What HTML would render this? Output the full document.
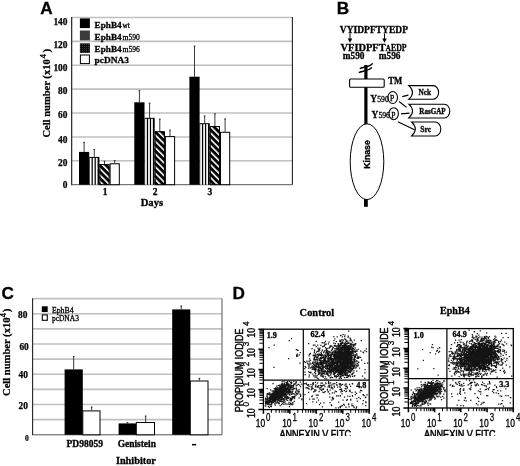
<!DOCTYPE html>
<html><head><meta charset="utf-8"><style>
html,body{margin:0;padding:0;background:#fff;}
body{width:520px;height:466px;overflow:hidden;}
svg{display:block;filter:blur(0.3px);}
</style></head><body>
<svg width="520" height="466" viewBox="0 0 520 466" shape-rendering="auto">
<defs>
<pattern id="hatch" patternUnits="userSpaceOnUse" width="4.5" height="4.5" patternTransform="rotate(-45)"><rect width="4.5" height="4.5" fill="#000"/><rect x="0" y="0" width="1.6" height="4.5" fill="#fff"/></pattern>
<pattern id="checker" patternUnits="userSpaceOnUse" width="2" height="2"><rect width="2" height="2" fill="#0a0a0a"/><rect x="0" y="0" width="1" height="1" fill="#3a3a3a"/></pattern>
<clipPath id="clipD"><rect x="0" y="0" width="520" height="435.9"/></clipPath>
</defs>
<text x="40.20" y="13.80" style="font-family:'Liberation Sans',sans-serif;font-weight:bold;font-size:17.2px" text-anchor="start" fill="#000"  stroke="#000" stroke-width="0.3">A</text>
<line x1="71.70" y1="160.81" x2="292.40" y2="160.81" stroke="#c0c0c0" stroke-width="1.6" />
<line x1="71.70" y1="136.93" x2="292.40" y2="136.93" stroke="#c0c0c0" stroke-width="1.6" />
<line x1="71.70" y1="113.04" x2="292.40" y2="113.04" stroke="#c0c0c0" stroke-width="1.6" />
<line x1="71.70" y1="89.16" x2="292.40" y2="89.16" stroke="#c0c0c0" stroke-width="1.6" />
<line x1="71.70" y1="65.27" x2="292.40" y2="65.27" stroke="#c0c0c0" stroke-width="1.6" />
<line x1="71.70" y1="41.39" x2="292.40" y2="41.39" stroke="#c0c0c0" stroke-width="1.6" />
<line x1="71.70" y1="17.50" x2="292.40" y2="17.50" stroke="#c0c0c0" stroke-width="1.6" />
<line x1="71.70" y1="17.00" x2="71.70" y2="185.20" stroke="#111" stroke-width="1.1" />
<line x1="292.40" y1="17.00" x2="292.40" y2="184.70" stroke="#222" stroke-width="1.1" />
<line x1="71.70" y1="184.70" x2="292.40" y2="184.70" stroke="#555" stroke-width="1.0" />
<text x="67.50" y="25.30" style="font-family:'Liberation Serif',serif;font-weight:bold;font-size:9.4px" text-anchor="end" fill="#000" textLength="14.10" lengthAdjust="spacingAndGlyphs" stroke="#000" stroke-width="0.25">140</text>
<text x="67.50" y="47.90" style="font-family:'Liberation Serif',serif;font-weight:bold;font-size:9.4px" text-anchor="end" fill="#000" textLength="14.10" lengthAdjust="spacingAndGlyphs" stroke="#000" stroke-width="0.25">120</text>
<text x="67.50" y="70.70" style="font-family:'Liberation Serif',serif;font-weight:bold;font-size:9.4px" text-anchor="end" fill="#000" textLength="14.10" lengthAdjust="spacingAndGlyphs" stroke="#000" stroke-width="0.25">100</text>
<text x="67.50" y="94.10" style="font-family:'Liberation Serif',serif;font-weight:bold;font-size:9.4px" text-anchor="end" fill="#000" textLength="9.40" lengthAdjust="spacingAndGlyphs" stroke="#000" stroke-width="0.25">80</text>
<text x="67.50" y="117.90" style="font-family:'Liberation Serif',serif;font-weight:bold;font-size:9.4px" text-anchor="end" fill="#000" textLength="9.40" lengthAdjust="spacingAndGlyphs" stroke="#000" stroke-width="0.25">60</text>
<text x="67.50" y="142.90" style="font-family:'Liberation Serif',serif;font-weight:bold;font-size:9.4px" text-anchor="end" fill="#000" textLength="9.40" lengthAdjust="spacingAndGlyphs" stroke="#000" stroke-width="0.25">40</text>
<text x="67.50" y="165.80" style="font-family:'Liberation Serif',serif;font-weight:bold;font-size:9.4px" text-anchor="end" fill="#000" textLength="9.40" lengthAdjust="spacingAndGlyphs" stroke="#000" stroke-width="0.25">20</text>
<text x="67.50" y="188.00" style="font-family:'Liberation Serif',serif;font-weight:bold;font-size:9.4px" text-anchor="end" fill="#000" textLength="4.70" lengthAdjust="spacingAndGlyphs" stroke="#000" stroke-width="0.25">0</text>
<text transform="translate(50.10,137.60) rotate(-90)" style="font-family:'Liberation Serif',serif;font-weight:bold;font-size:11px" textLength="78.30" lengthAdjust="spacingAndGlyphs" stroke="#000" stroke-width="0.25">Cell number (x10</text>
<text transform="translate(46.40,56.05) rotate(-90)" style="font-family:'Liberation Serif',serif;font-weight:bold;font-size:8.4px" text-anchor="middle" stroke="#000" stroke-width="0.2">4</text>
<text transform="translate(50.10,50.60) rotate(-90)" style="font-family:'Liberation Serif',serif;font-weight:bold;font-size:11px" text-anchor="middle" stroke="#000" stroke-width="0.25">)</text>
<line x1="84.10" y1="142.30" x2="84.10" y2="151.90" stroke="#222" stroke-width="0.9" />
<line x1="83.20" y1="142.30" x2="85.00" y2="142.30" stroke="#222" stroke-width="0.9" />
<rect x="79.00" y="151.90" width="10.20" height="32.80" fill="#000" stroke="none" stroke-width="1" />
<line x1="94.30" y1="149.50" x2="94.30" y2="156.90" stroke="#222" stroke-width="0.9" />
<line x1="93.40" y1="149.50" x2="95.20" y2="149.50" stroke="#222" stroke-width="0.9" />
<rect x="89.20" y="156.90" width="10.20" height="27.80" fill="#000" stroke="none" stroke-width="1" />
<rect x="89.80" y="157.90" width="1.75" height="26.80" fill="#fff" stroke="none" stroke-width="1" />
<rect x="92.80" y="157.90" width="1.75" height="26.80" fill="#fff" stroke="none" stroke-width="1" />
<rect x="95.80" y="157.90" width="1.75" height="26.80" fill="#fff" stroke="none" stroke-width="1" />
<line x1="104.50" y1="161.20" x2="104.50" y2="164.10" stroke="#222" stroke-width="0.9" />
<line x1="103.60" y1="161.20" x2="105.40" y2="161.20" stroke="#222" stroke-width="0.9" />
<rect x="99.40" y="164.10" width="10.20" height="20.60" fill="url(#hatch)" stroke="none" stroke-width="1" />
<rect x="99.90" y="164.60" width="9.20" height="20.10" fill="none" stroke="#000" stroke-width="1.0" />
<line x1="114.70" y1="160.70" x2="114.70" y2="163.30" stroke="#222" stroke-width="0.9" />
<line x1="113.80" y1="160.70" x2="115.60" y2="160.70" stroke="#222" stroke-width="0.9" />
<rect x="110.10" y="163.80" width="9.20" height="20.90" fill="#fff" stroke="#000" stroke-width="1.0" />
<line x1="139.40" y1="90.60" x2="139.40" y2="102.30" stroke="#222" stroke-width="0.9" />
<line x1="138.50" y1="90.60" x2="140.30" y2="90.60" stroke="#222" stroke-width="0.9" />
<rect x="134.30" y="102.30" width="10.20" height="82.40" fill="#000" stroke="none" stroke-width="1" />
<line x1="149.60" y1="103.20" x2="149.60" y2="117.80" stroke="#222" stroke-width="0.9" />
<line x1="148.70" y1="103.20" x2="150.50" y2="103.20" stroke="#222" stroke-width="0.9" />
<rect x="144.50" y="117.80" width="10.20" height="66.90" fill="#000" stroke="none" stroke-width="1" />
<rect x="145.10" y="118.80" width="1.75" height="65.90" fill="#fff" stroke="none" stroke-width="1" />
<rect x="148.10" y="118.80" width="1.75" height="65.90" fill="#fff" stroke="none" stroke-width="1" />
<rect x="151.10" y="118.80" width="1.75" height="65.90" fill="#fff" stroke="none" stroke-width="1" />
<line x1="159.80" y1="119.10" x2="159.80" y2="131.20" stroke="#222" stroke-width="0.9" />
<line x1="158.90" y1="119.10" x2="160.70" y2="119.10" stroke="#222" stroke-width="0.9" />
<rect x="154.70" y="131.20" width="10.20" height="53.50" fill="url(#hatch)" stroke="none" stroke-width="1" />
<rect x="155.20" y="131.70" width="9.20" height="53.00" fill="none" stroke="#000" stroke-width="1.0" />
<line x1="170.00" y1="130.10" x2="170.00" y2="136.10" stroke="#222" stroke-width="0.9" />
<line x1="169.10" y1="130.10" x2="170.90" y2="130.10" stroke="#222" stroke-width="0.9" />
<rect x="165.40" y="136.60" width="9.20" height="48.10" fill="#fff" stroke="#000" stroke-width="1.0" />
<line x1="194.50" y1="46.10" x2="194.50" y2="76.70" stroke="#222" stroke-width="0.9" />
<line x1="193.60" y1="46.10" x2="195.40" y2="46.10" stroke="#222" stroke-width="0.9" />
<rect x="189.40" y="76.70" width="10.20" height="108.00" fill="#000" stroke="none" stroke-width="1" />
<line x1="204.70" y1="116.00" x2="204.70" y2="123.20" stroke="#222" stroke-width="0.9" />
<line x1="203.80" y1="116.00" x2="205.60" y2="116.00" stroke="#222" stroke-width="0.9" />
<rect x="199.60" y="123.20" width="10.20" height="61.50" fill="#000" stroke="none" stroke-width="1" />
<rect x="200.20" y="124.20" width="1.75" height="60.50" fill="#fff" stroke="none" stroke-width="1" />
<rect x="203.20" y="124.20" width="1.75" height="60.50" fill="#fff" stroke="none" stroke-width="1" />
<rect x="206.20" y="124.20" width="1.75" height="60.50" fill="#fff" stroke="none" stroke-width="1" />
<line x1="214.90" y1="113.80" x2="214.90" y2="126.00" stroke="#222" stroke-width="0.9" />
<line x1="214.00" y1="113.80" x2="215.80" y2="113.80" stroke="#222" stroke-width="0.9" />
<rect x="209.80" y="126.00" width="10.20" height="58.70" fill="url(#hatch)" stroke="none" stroke-width="1" />
<rect x="210.30" y="126.50" width="9.20" height="58.20" fill="none" stroke="#000" stroke-width="1.0" />
<line x1="225.10" y1="118.90" x2="225.10" y2="131.80" stroke="#222" stroke-width="0.9" />
<line x1="224.20" y1="118.90" x2="226.00" y2="118.90" stroke="#222" stroke-width="0.9" />
<rect x="220.50" y="132.30" width="9.20" height="52.40" fill="#fff" stroke="#000" stroke-width="1.0" />
<text x="105.00" y="194.80" style="font-family:'Liberation Serif',serif;font-weight:bold;font-size:9.5px" text-anchor="middle" fill="#000"  stroke="#000" stroke-width="0.3">1</text>
<text x="155.10" y="194.80" style="font-family:'Liberation Serif',serif;font-weight:bold;font-size:9.5px" text-anchor="middle" fill="#000"  stroke="#000" stroke-width="0.3">2</text>
<text x="209.80" y="194.80" style="font-family:'Liberation Serif',serif;font-weight:bold;font-size:9.5px" text-anchor="middle" fill="#000"  stroke="#000" stroke-width="0.3">3</text>
<text x="151.90" y="205.50" style="font-family:'Liberation Serif',serif;font-weight:bold;font-size:10.5px" text-anchor="middle" fill="#000" textLength="22.40" lengthAdjust="spacingAndGlyphs"  stroke="#000" stroke-width="0.3">Days</text>
<rect x="79.90" y="18.40" width="10.00" height="9.70" fill="#000" stroke="none" stroke-width="1" />
<rect x="79.90" y="30.50" width="10.00" height="9.90" fill="#3b3b3b" stroke="none" stroke-width="1" />
<rect x="79.90" y="43.30" width="10.00" height="9.60" fill="url(#checker)" stroke="none" stroke-width="1" />
<rect x="80.40" y="55.00" width="9.00" height="8.60" fill="#fff" stroke="#000" stroke-width="1.0" />
<text x="94.60" y="27.50" style="font-family:'Liberation Serif',serif;font-weight:bold;font-size:9.2px" text-anchor="start" fill="#000" textLength="27.00" lengthAdjust="spacingAndGlyphs"  stroke="#000" stroke-width="0.3">EphB4</text>
<text x="122.60" y="27.50" style="font-family:'Liberation Serif',serif;font-weight:normal;font-size:7.6px" text-anchor="start" fill="#000" textLength="7.20" lengthAdjust="spacingAndGlyphs" letter-spacing="0" stroke="#000" stroke-width="0.3">wt</text>
<text x="94.60" y="40.00" style="font-family:'Liberation Serif',serif;font-weight:bold;font-size:9.2px" text-anchor="start" fill="#000" textLength="27.00" lengthAdjust="spacingAndGlyphs"  stroke="#000" stroke-width="0.3">EphB4</text>
<text x="122.60" y="40.00" style="font-family:'Liberation Serif',serif;font-weight:normal;font-size:7.6px" text-anchor="start" fill="#000" textLength="17.30" lengthAdjust="spacingAndGlyphs" letter-spacing="0" stroke="#000" stroke-width="0.3">m590</text>
<text x="94.60" y="52.30" style="font-family:'Liberation Serif',serif;font-weight:bold;font-size:9.2px" text-anchor="start" fill="#000" textLength="27.00" lengthAdjust="spacingAndGlyphs"  stroke="#000" stroke-width="0.3">EphB4</text>
<text x="122.60" y="52.30" style="font-family:'Liberation Serif',serif;font-weight:normal;font-size:7.6px" text-anchor="start" fill="#000" textLength="17.30" lengthAdjust="spacingAndGlyphs" letter-spacing="0" stroke="#000" stroke-width="0.3">m596</text>
<text x="94.60" y="62.80" style="font-family:'Liberation Serif',serif;font-weight:bold;font-size:9.2px" text-anchor="start" fill="#000" textLength="34.40" lengthAdjust="spacingAndGlyphs"  stroke="#000" stroke-width="0.3">pcDNA3</text>
<text x="336.70" y="14.20" style="font-family:'Liberation Sans',sans-serif;font-weight:bold;font-size:17.2px" text-anchor="start" fill="#000"  stroke="#000" stroke-width="0.3">B</text>
<text x="339.80" y="32.60" style="font-family:'Liberation Serif',serif;font-weight:bold;font-size:9.6px" text-anchor="start" fill="#000" textLength="68.20" lengthAdjust="spacingAndGlyphs"  stroke="#000" stroke-width="0.3">VYIDPFTYEDP</text>
<text x="340.60" y="51.10" style="font-family:'Liberation Serif',serif;font-weight:bold;font-size:9.6px" text-anchor="start" fill="#000" textLength="45.00" lengthAdjust="spacingAndGlyphs"  stroke="#000" stroke-width="0.3">VFIDPFT</text>
<text x="385.80" y="51.10" style="font-family:'Liberation Serif',serif;font-weight:bold;font-size:7.2px" text-anchor="start" fill="#000" textLength="5.00" lengthAdjust="spacingAndGlyphs"  stroke="#000" stroke-width="0.3">A</text>
<text x="391.00" y="51.10" style="font-family:'Liberation Serif',serif;font-weight:bold;font-size:9.6px" text-anchor="start" fill="#000" textLength="15.60" lengthAdjust="spacingAndGlyphs"  stroke="#000" stroke-width="0.3">EDP</text>
<text x="342.80" y="58.80" style="font-family:'Liberation Serif',serif;font-weight:bold;font-size:9.6px" text-anchor="start" fill="#000" textLength="21.70" lengthAdjust="spacingAndGlyphs"  stroke="#000" stroke-width="0.3">m590</text>
<text x="378.80" y="58.80" style="font-family:'Liberation Serif',serif;font-weight:bold;font-size:9.6px" text-anchor="start" fill="#000" textLength="21.70" lengthAdjust="spacingAndGlyphs"  stroke="#000" stroke-width="0.3">m596</text>
<line x1="350.00" y1="33.60" x2="350.00" y2="39.50" stroke="#000" stroke-width="1.0" />
<path d="M347.70,38.6 L352.30,38.6 L350.00,42.8 Z" fill="#000"/>
<line x1="384.50" y1="33.60" x2="384.50" y2="39.50" stroke="#000" stroke-width="1.0" />
<path d="M382.20,38.6 L386.80,38.6 L384.50,42.8 Z" fill="#000"/>
<rect x="364.30" y="65.00" width="3.20" height="14.00" fill="#000" stroke="none" stroke-width="1" />
<rect x="364.30" y="87.00" width="3.20" height="37.50" fill="#000" stroke="none" stroke-width="1" />
<rect x="364.00" y="199.00" width="3.80" height="7.80" fill="#000" stroke="none" stroke-width="1" />
<path d="M359.8,68.6 C362,67 370,67.2 372.7,63.3 M358.8,72.8 C361,71 369,71.2 371.8,67.3" stroke="#000" stroke-width="1.4" fill="none"/>
<rect x="349.6" y="79.0" width="34.6" height="8.2" rx="1" fill="#fff" stroke="#000" stroke-width="1.1"/>
<text x="388.20" y="83.80" style="font-family:'Liberation Serif',serif;font-weight:bold;font-size:9.8px" text-anchor="start" fill="#000" textLength="14.00" lengthAdjust="spacingAndGlyphs"  stroke="#000" stroke-width="0.3">TM</text>
<text x="370.30" y="101.50" style="font-family:'Liberation Serif',serif;font-weight:bold;font-size:9.8px" text-anchor="start" fill="#000" textLength="6.80" lengthAdjust="spacingAndGlyphs"  stroke="#000" stroke-width="0.3">Y</text>
<text x="377.20" y="101.50" style="font-family:'Liberation Serif',serif;font-weight:normal;font-size:7.6px" text-anchor="start" fill="#000" textLength="11.60" lengthAdjust="spacingAndGlyphs"  stroke="#000" stroke-width="0.3">590</text>
<text x="371.50" y="118.20" style="font-family:'Liberation Serif',serif;font-weight:bold;font-size:9.8px" text-anchor="start" fill="#000" textLength="6.80" lengthAdjust="spacingAndGlyphs"  stroke="#000" stroke-width="0.3">Y</text>
<text x="378.40" y="118.20" style="font-family:'Liberation Serif',serif;font-weight:normal;font-size:7.6px" text-anchor="start" fill="#000" textLength="11.60" lengthAdjust="spacingAndGlyphs"  stroke="#000" stroke-width="0.3">596</text>
<ellipse cx="392.7" cy="97.5" rx="4.8" ry="6.0" fill="none" stroke="#000" stroke-width="1.1"/>
<ellipse cx="393.7" cy="113.7" rx="4.7" ry="6.0" fill="none" stroke="#000" stroke-width="1.1"/>
<text x="392.10" y="100.90" style="font-family:'Liberation Serif',serif;font-weight:normal;font-size:7.2px" text-anchor="middle" fill="#000" textLength="4.20" lengthAdjust="spacingAndGlyphs"  stroke="#000" stroke-width="0.3">P</text>
<text x="393.40" y="117.70" style="font-family:'Liberation Serif',serif;font-weight:normal;font-size:7.2px" text-anchor="middle" fill="#000" textLength="4.20" lengthAdjust="spacingAndGlyphs"  stroke="#000" stroke-width="0.3">P</text>
<path d="M402.2,96.6 L408.4,95.2 M399.1,101.5 L406.6,107.4 M401.0,113.9 L409.5,113.1 M397.9,121.8 L414.5,129.8" stroke="#000" stroke-width="1.2" fill="none"/>
<path d="M408.80,85.60 L433.16,85.60 A5.44,6.80 0 0 1 433.16,99.20 L408.80,99.20 Q416.30,92.40 408.80,85.60 Z" fill="#fff" stroke="#000" stroke-width="1.1"/>
<text x="424.70" y="95.40" style="font-family:'Liberation Serif',serif;font-weight:bold;font-size:8.6px" text-anchor="middle" fill="#000" textLength="12.60" lengthAdjust="spacingAndGlyphs"  stroke="#000" stroke-width="0.3">Nck</text>
<path d="M408.80,104.20 L444.28,104.20 A5.52,6.90 0 0 1 444.28,118.00 L408.80,118.00 Q416.30,111.10 408.80,104.20 Z" fill="#fff" stroke="#000" stroke-width="1.1"/>
<text x="432.50" y="114.10" style="font-family:'Liberation Serif',serif;font-weight:bold;font-size:8.4px" text-anchor="middle" fill="#000" textLength="26.40" lengthAdjust="spacingAndGlyphs"  stroke="#000" stroke-width="0.3">RasGAP</text>
<path d="M411.60,122.00 L435.20,122.00 A5.60,7.00 0 0 1 435.20,136.00 L411.60,136.00 Q419.10,129.00 411.60,122.00 Z" fill="#fff" stroke="#000" stroke-width="1.1"/>
<text x="425.80" y="132.00" style="font-family:'Liberation Serif',serif;font-weight:bold;font-size:8.6px" text-anchor="middle" fill="#000" textLength="11.00" lengthAdjust="spacingAndGlyphs"  stroke="#000" stroke-width="0.3">Src</text>
<ellipse cx="367.0" cy="161.7" rx="16.8" ry="37.9" fill="#fff" stroke="#000" stroke-width="1.0"/>
<text transform="translate(370.0,154.5) rotate(-90)" style="font-family:'Liberation Sans',sans-serif;font-weight:bold;font-size:8.8px" text-anchor="middle" textLength="28.5" lengthAdjust="spacingAndGlyphs" stroke="#000" stroke-width="0.35">Kinase</text>
<text x="1.40" y="299.30" style="font-family:'Liberation Sans',sans-serif;font-weight:bold;font-size:17.2px" text-anchor="start" fill="#000"  stroke="#000" stroke-width="0.3">C</text>
<line x1="32.60" y1="419.67" x2="222.00" y2="419.67" stroke="#c0c0c0" stroke-width="1.6" />
<line x1="32.60" y1="404.53" x2="222.00" y2="404.53" stroke="#c0c0c0" stroke-width="1.6" />
<line x1="32.60" y1="389.40" x2="222.00" y2="389.40" stroke="#c0c0c0" stroke-width="1.6" />
<line x1="32.60" y1="374.27" x2="222.00" y2="374.27" stroke="#c0c0c0" stroke-width="1.6" />
<line x1="32.60" y1="359.13" x2="222.00" y2="359.13" stroke="#c0c0c0" stroke-width="1.6" />
<line x1="32.60" y1="344.00" x2="222.00" y2="344.00" stroke="#c0c0c0" stroke-width="1.6" />
<line x1="32.60" y1="328.87" x2="222.00" y2="328.87" stroke="#c0c0c0" stroke-width="1.6" />
<line x1="32.60" y1="313.73" x2="222.00" y2="313.73" stroke="#c0c0c0" stroke-width="1.6" />
<line x1="32.60" y1="298.60" x2="222.00" y2="298.60" stroke="#c0c0c0" stroke-width="1.6" />
<line x1="32.60" y1="298.30" x2="32.60" y2="435.30" stroke="#222" stroke-width="1.1" />
<line x1="222.00" y1="298.60" x2="222.00" y2="434.80" stroke="#555" stroke-width="1.0" />
<line x1="32.60" y1="434.80" x2="222.00" y2="434.80" stroke="#555" stroke-width="1.0" />
<text x="27.50" y="317.90" style="font-family:'Liberation Serif',serif;font-weight:bold;font-size:9.4px" text-anchor="end" fill="#000" textLength="9.40" lengthAdjust="spacingAndGlyphs" stroke="#000" stroke-width="0.25">80</text>
<text x="28.80" y="349.80" style="font-family:'Liberation Serif',serif;font-weight:bold;font-size:9.4px" text-anchor="end" fill="#000" textLength="9.40" lengthAdjust="spacingAndGlyphs" stroke="#000" stroke-width="0.25">60</text>
<text x="28.00" y="378.30" style="font-family:'Liberation Serif',serif;font-weight:bold;font-size:9.4px" text-anchor="end" fill="#000" textLength="9.40" lengthAdjust="spacingAndGlyphs" stroke="#000" stroke-width="0.25">40</text>
<text x="28.00" y="409.00" style="font-family:'Liberation Serif',serif;font-weight:bold;font-size:9.4px" text-anchor="end" fill="#000" textLength="9.40" lengthAdjust="spacingAndGlyphs" stroke="#000" stroke-width="0.25">20</text>
<text x="28.80" y="440.70" style="font-family:'Liberation Serif',serif;font-weight:bold;font-size:7.4px" text-anchor="end" fill="#000" textLength="3.80" lengthAdjust="spacingAndGlyphs" stroke="#000" stroke-width="0.2">0</text>
<text transform="translate(10.00,396.00) rotate(-90)" style="font-family:'Liberation Serif',serif;font-weight:bold;font-size:11px" textLength="78.50" lengthAdjust="spacingAndGlyphs" stroke="#000" stroke-width="0.25">Cell number (x10</text>
<text transform="translate(5.70,315.20) rotate(-90)" style="font-family:'Liberation Serif',serif;font-weight:bold;font-size:8.4px" text-anchor="middle" stroke="#000" stroke-width="0.2">4</text>
<text transform="translate(10.00,310.40) rotate(-90)" style="font-family:'Liberation Serif',serif;font-weight:bold;font-size:11px" text-anchor="middle" stroke="#000" stroke-width="0.25">)</text>
<line x1="73.70" y1="356.50" x2="73.70" y2="369.40" stroke="#222" stroke-width="0.9" />
<line x1="72.80" y1="356.50" x2="74.60" y2="356.50" stroke="#222" stroke-width="0.9" />
<rect x="64.60" y="369.40" width="18.20" height="65.40" fill="#000" stroke="none" stroke-width="1" />
<line x1="91.65" y1="407.00" x2="91.65" y2="410.40" stroke="#222" stroke-width="0.9" />
<line x1="90.75" y1="407.00" x2="92.55" y2="407.00" stroke="#222" stroke-width="0.9" />
<rect x="82.80" y="410.90" width="17.20" height="23.90" fill="#fff" stroke="#000" stroke-width="1.0" />
<line x1="127.45" y1="422.60" x2="127.45" y2="423.40" stroke="#222" stroke-width="0.9" />
<line x1="126.55" y1="422.60" x2="128.35" y2="422.60" stroke="#222" stroke-width="0.9" />
<rect x="118.60" y="423.40" width="17.70" height="11.40" fill="#000" stroke="none" stroke-width="1" />
<line x1="145.65" y1="416.00" x2="145.65" y2="422.00" stroke="#222" stroke-width="0.9" />
<line x1="144.75" y1="416.00" x2="146.55" y2="416.00" stroke="#222" stroke-width="0.9" />
<rect x="136.30" y="422.50" width="18.20" height="12.30" fill="#fff" stroke="#000" stroke-width="1.0" />
<line x1="181.25" y1="306.00" x2="181.25" y2="309.40" stroke="#222" stroke-width="0.9" />
<line x1="180.35" y1="306.00" x2="182.15" y2="306.00" stroke="#222" stroke-width="0.9" />
<rect x="172.20" y="309.40" width="18.10" height="125.40" fill="#000" stroke="none" stroke-width="1" />
<line x1="199.40" y1="378.30" x2="199.40" y2="380.50" stroke="#222" stroke-width="0.9" />
<line x1="198.50" y1="378.30" x2="200.30" y2="378.30" stroke="#222" stroke-width="0.9" />
<rect x="190.30" y="381.00" width="17.70" height="53.80" fill="#fff" stroke="#000" stroke-width="1.0" />
<text x="84.80" y="447.30" style="font-family:'Liberation Serif',serif;font-weight:bold;font-size:9.6px" text-anchor="middle" fill="#000" textLength="36.50" lengthAdjust="spacingAndGlyphs"  stroke="#000" stroke-width="0.3">PD98059</text>
<text x="136.80" y="447.00" style="font-family:'Liberation Serif',serif;font-weight:bold;font-size:9.6px" text-anchor="middle" fill="#000" textLength="38.30" lengthAdjust="spacingAndGlyphs"  stroke="#000" stroke-width="0.3">Genistein</text>
<rect x="192.00" y="443.90" width="4.20" height="1.50" fill="#000" stroke="none" stroke-width="1" />
<text x="135.90" y="464.10" style="font-family:'Liberation Serif',serif;font-weight:bold;font-size:10.4px" text-anchor="middle" fill="#000" textLength="40.00" lengthAdjust="spacingAndGlyphs"  stroke="#000" stroke-width="0.3">Inhibitor</text>
<rect x="41.80" y="306.30" width="5.90" height="5.80" fill="#000" stroke="none" stroke-width="1" />
<rect x="42.30" y="314.90" width="5.00" height="5.40" fill="#fff" stroke="#000" stroke-width="1.1" />
<text x="51.90" y="312.60" style="font-family:'Liberation Serif',serif;font-weight:normal;font-size:7.8px" text-anchor="start" fill="#000" textLength="21.70" lengthAdjust="spacingAndGlyphs" stroke="#000" stroke-width="0.3">EphB4</text>
<text x="51.90" y="320.70" style="font-family:'Liberation Serif',serif;font-weight:normal;font-size:7.8px" text-anchor="start" fill="#000" textLength="27.00" lengthAdjust="spacingAndGlyphs" stroke="#000" stroke-width="0.3">pcDNA3</text>
<text x="232.60" y="299.30" style="font-family:'Liberation Sans',sans-serif;font-weight:bold;font-size:17.2px" text-anchor="start" fill="#000"  stroke="#000" stroke-width="0.3">D</text>
<text x="299.60" y="315.50" style="font-family:'Liberation Serif',serif;font-weight:bold;font-size:10.4px" text-anchor="start" fill="#000" textLength="34.60" lengthAdjust="spacingAndGlyphs"  stroke="#000" stroke-width="0.3">Control</text>
<text x="440.00" y="313.90" style="font-family:'Liberation Serif',serif;font-weight:bold;font-size:10.4px" text-anchor="start" fill="#000" textLength="29.70" lengthAdjust="spacingAndGlyphs"  stroke="#000" stroke-width="0.3">EphB4</text>
<path d="M277.9,392.4h1.25v1.25h-1.25zM279.9,390.8h1.25v1.25h-1.25zM275.7,393.3h1.25v1.25h-1.25zM272.2,397.4h1.25v1.25h-1.25zM274.2,394.0h1.25v1.25h-1.25zM271.2,397.5h1.25v1.25h-1.25zM276.6,389.9h1.25v1.25h-1.25zM286.4,384.7h1.25v1.25h-1.25zM278.5,399.9h1.25v1.25h-1.25zM273.7,395.6h1.25v1.25h-1.25zM280.9,389.4h1.25v1.25h-1.25zM281.3,391.8h1.25v1.25h-1.25zM279.9,393.5h1.25v1.25h-1.25zM269.9,395.0h1.25v1.25h-1.25zM277.5,392.2h1.25v1.25h-1.25zM284.2,390.8h1.25v1.25h-1.25zM269.4,400.1h1.25v1.25h-1.25zM275.1,395.2h1.25v1.25h-1.25zM267.8,405.8h1.25v1.25h-1.25zM268.2,397.8h1.25v1.25h-1.25zM265.8,402.3h1.25v1.25h-1.25zM275.6,392.6h1.25v1.25h-1.25zM272.0,402.3h1.25v1.25h-1.25zM276.6,386.9h1.25v1.25h-1.25zM277.9,390.3h1.25v1.25h-1.25zM275.9,392.4h1.25v1.25h-1.25zM275.4,396.6h1.25v1.25h-1.25zM280.0,395.7h1.25v1.25h-1.25zM276.1,388.6h1.25v1.25h-1.25zM269.0,402.1h1.25v1.25h-1.25zM274.3,394.4h1.25v1.25h-1.25zM270.3,396.2h1.25v1.25h-1.25zM273.5,397.9h1.25v1.25h-1.25zM283.6,385.0h1.25v1.25h-1.25zM269.1,392.3h1.25v1.25h-1.25zM277.2,391.9h1.25v1.25h-1.25zM281.4,384.7h1.25v1.25h-1.25zM273.0,394.2h1.25v1.25h-1.25zM277.9,393.9h1.25v1.25h-1.25zM279.3,392.6h1.25v1.25h-1.25zM281.1,395.5h1.25v1.25h-1.25zM269.5,398.5h1.25v1.25h-1.25zM276.0,388.8h1.25v1.25h-1.25zM285.8,383.8h1.25v1.25h-1.25zM266.1,398.6h1.25v1.25h-1.25zM281.7,385.4h1.25v1.25h-1.25zM279.5,392.8h1.25v1.25h-1.25zM272.6,394.5h1.25v1.25h-1.25zM284.3,390.0h1.25v1.25h-1.25zM269.8,398.5h1.25v1.25h-1.25zM279.1,392.9h1.25v1.25h-1.25zM282.0,389.7h1.25v1.25h-1.25zM277.8,394.8h1.25v1.25h-1.25zM282.6,389.0h1.25v1.25h-1.25zM279.6,395.5h1.25v1.25h-1.25zM283.2,389.9h1.25v1.25h-1.25zM288.3,385.8h1.25v1.25h-1.25zM274.2,396.9h1.25v1.25h-1.25zM276.9,388.3h1.25v1.25h-1.25zM274.6,394.6h1.25v1.25h-1.25zM278.4,391.3h1.25v1.25h-1.25zM270.4,399.2h1.25v1.25h-1.25zM271.9,392.6h1.25v1.25h-1.25zM279.4,397.0h1.25v1.25h-1.25zM284.2,388.0h1.25v1.25h-1.25zM283.7,383.9h1.25v1.25h-1.25zM266.3,395.8h1.25v1.25h-1.25zM272.2,396.1h1.25v1.25h-1.25zM282.2,388.9h1.25v1.25h-1.25zM275.1,395.1h1.25v1.25h-1.25zM276.3,391.6h1.25v1.25h-1.25zM287.3,387.1h1.25v1.25h-1.25zM281.4,387.4h1.25v1.25h-1.25zM275.7,394.1h1.25v1.25h-1.25zM277.2,396.5h1.25v1.25h-1.25zM280.6,399.3h1.25v1.25h-1.25zM286.5,382.4h1.25v1.25h-1.25zM274.4,393.8h1.25v1.25h-1.25zM274.6,392.3h1.25v1.25h-1.25zM281.7,392.3h1.25v1.25h-1.25zM275.3,390.7h1.25v1.25h-1.25zM275.9,392.5h1.25v1.25h-1.25zM270.5,398.3h1.25v1.25h-1.25zM276.3,390.5h1.25v1.25h-1.25zM273.4,392.8h1.25v1.25h-1.25zM285.0,385.4h1.25v1.25h-1.25zM278.9,384.6h1.25v1.25h-1.25zM275.4,389.6h1.25v1.25h-1.25zM281.8,388.1h1.25v1.25h-1.25zM276.0,394.6h1.25v1.25h-1.25zM284.7,386.6h1.25v1.25h-1.25zM275.0,388.8h1.25v1.25h-1.25zM281.1,388.5h1.25v1.25h-1.25zM270.7,401.0h1.25v1.25h-1.25zM281.2,391.9h1.25v1.25h-1.25zM266.6,401.2h1.25v1.25h-1.25zM277.0,395.4h1.25v1.25h-1.25zM271.0,396.0h1.25v1.25h-1.25zM277.2,389.2h1.25v1.25h-1.25zM274.8,399.9h1.25v1.25h-1.25zM274.2,396.2h1.25v1.25h-1.25zM281.3,393.9h1.25v1.25h-1.25zM280.5,388.9h1.25v1.25h-1.25zM278.4,395.4h1.25v1.25h-1.25zM275.6,392.3h1.25v1.25h-1.25zM282.4,388.5h1.25v1.25h-1.25zM285.6,395.1h1.25v1.25h-1.25zM272.4,399.5h1.25v1.25h-1.25zM276.6,391.8h1.25v1.25h-1.25zM278.1,392.1h1.25v1.25h-1.25zM271.5,398.7h1.25v1.25h-1.25zM281.8,393.7h1.25v1.25h-1.25zM271.4,395.9h1.25v1.25h-1.25zM281.6,383.7h1.25v1.25h-1.25zM278.8,390.9h1.25v1.25h-1.25zM278.6,392.1h1.25v1.25h-1.25zM274.2,395.8h1.25v1.25h-1.25zM279.4,395.9h1.25v1.25h-1.25zM265.1,403.6h1.25v1.25h-1.25zM271.8,400.2h1.25v1.25h-1.25zM278.6,388.3h1.25v1.25h-1.25zM265.2,405.5h1.25v1.25h-1.25zM287.2,392.5h1.25v1.25h-1.25zM267.6,403.3h1.25v1.25h-1.25zM283.5,389.1h1.25v1.25h-1.25zM272.6,397.3h1.25v1.25h-1.25zM286.2,392.2h1.25v1.25h-1.25zM277.3,389.8h1.25v1.25h-1.25zM267.5,400.3h1.25v1.25h-1.25zM287.1,386.9h1.25v1.25h-1.25zM288.9,386.5h1.25v1.25h-1.25zM276.8,391.9h1.25v1.25h-1.25zM276.7,394.6h1.25v1.25h-1.25zM276.5,392.7h1.25v1.25h-1.25zM271.7,397.9h1.25v1.25h-1.25zM285.1,386.5h1.25v1.25h-1.25zM272.5,392.9h1.25v1.25h-1.25zM277.6,392.7h1.25v1.25h-1.25zM274.1,398.5h1.25v1.25h-1.25zM272.2,393.7h1.25v1.25h-1.25zM269.0,398.7h1.25v1.25h-1.25zM287.5,387.3h1.25v1.25h-1.25zM275.2,391.0h1.25v1.25h-1.25zM284.8,387.8h1.25v1.25h-1.25zM276.3,390.2h1.25v1.25h-1.25zM275.2,398.5h1.25v1.25h-1.25zM279.7,399.1h1.25v1.25h-1.25zM277.6,399.7h1.25v1.25h-1.25zM277.7,392.0h1.25v1.25h-1.25zM276.7,396.0h1.25v1.25h-1.25zM276.2,394.3h1.25v1.25h-1.25zM268.9,399.9h1.25v1.25h-1.25zM275.2,400.0h1.25v1.25h-1.25zM286.9,381.0h1.25v1.25h-1.25zM275.3,398.3h1.25v1.25h-1.25zM270.9,397.9h1.25v1.25h-1.25zM282.6,393.7h1.25v1.25h-1.25zM287.7,385.5h1.25v1.25h-1.25zM267.1,398.7h1.25v1.25h-1.25zM277.1,394.2h1.25v1.25h-1.25zM275.0,397.4h1.25v1.25h-1.25zM266.3,401.8h1.25v1.25h-1.25zM283.7,389.7h1.25v1.25h-1.25zM277.0,391.5h1.25v1.25h-1.25zM274.9,387.6h1.25v1.25h-1.25zM274.5,398.4h1.25v1.25h-1.25zM282.2,391.6h1.25v1.25h-1.25zM274.6,395.6h1.25v1.25h-1.25zM277.2,393.4h1.25v1.25h-1.25zM272.3,400.5h1.25v1.25h-1.25zM269.1,397.9h1.25v1.25h-1.25zM285.8,384.0h1.25v1.25h-1.25zM274.3,394.8h1.25v1.25h-1.25zM281.9,393.5h1.25v1.25h-1.25zM275.5,389.7h1.25v1.25h-1.25zM277.0,397.3h1.25v1.25h-1.25zM273.5,393.8h1.25v1.25h-1.25zM280.4,386.9h1.25v1.25h-1.25zM278.1,396.8h1.25v1.25h-1.25zM276.8,393.1h1.25v1.25h-1.25zM276.0,389.6h1.25v1.25h-1.25zM285.3,385.6h1.25v1.25h-1.25zM284.1,390.9h1.25v1.25h-1.25zM282.5,393.0h1.25v1.25h-1.25zM273.5,394.5h1.25v1.25h-1.25zM269.4,400.6h1.25v1.25h-1.25zM285.5,389.1h1.25v1.25h-1.25zM283.4,386.1h1.25v1.25h-1.25zM277.6,394.0h1.25v1.25h-1.25zM281.6,389.6h1.25v1.25h-1.25zM282.3,387.3h1.25v1.25h-1.25zM282.7,387.1h1.25v1.25h-1.25zM284.3,387.8h1.25v1.25h-1.25zM275.0,394.9h1.25v1.25h-1.25zM287.2,383.4h1.25v1.25h-1.25zM268.9,398.1h1.25v1.25h-1.25zM285.6,390.4h1.25v1.25h-1.25zM281.7,390.4h1.25v1.25h-1.25zM285.3,389.8h1.25v1.25h-1.25zM292.6,385.2h1.25v1.25h-1.25zM288.9,386.0h1.25v1.25h-1.25zM274.1,403.3h1.25v1.25h-1.25zM265.3,399.6h1.25v1.25h-1.25zM284.8,389.9h1.25v1.25h-1.25zM270.7,397.1h1.25v1.25h-1.25zM281.0,396.5h1.25v1.25h-1.25zM286.5,391.7h1.25v1.25h-1.25zM280.8,392.6h1.25v1.25h-1.25zM279.6,393.9h1.25v1.25h-1.25zM277.6,395.4h1.25v1.25h-1.25zM278.1,392.1h1.25v1.25h-1.25zM273.0,398.0h1.25v1.25h-1.25zM268.9,401.8h1.25v1.25h-1.25zM276.8,393.2h1.25v1.25h-1.25zM273.2,399.8h1.25v1.25h-1.25zM282.4,391.2h1.25v1.25h-1.25zM275.9,390.6h1.25v1.25h-1.25zM282.3,392.4h1.25v1.25h-1.25zM271.0,397.2h1.25v1.25h-1.25zM272.1,394.1h1.25v1.25h-1.25zM271.9,398.5h1.25v1.25h-1.25zM270.5,395.2h1.25v1.25h-1.25zM277.8,389.5h1.25v1.25h-1.25zM270.2,393.3h1.25v1.25h-1.25zM280.3,390.6h1.25v1.25h-1.25zM281.1,391.8h1.25v1.25h-1.25zM293.3,384.1h1.25v1.25h-1.25zM268.4,399.5h1.25v1.25h-1.25zM285.7,390.1h1.25v1.25h-1.25zM277.4,393.0h1.25v1.25h-1.25zM277.8,392.4h1.25v1.25h-1.25zM269.2,401.3h1.25v1.25h-1.25zM276.7,397.2h1.25v1.25h-1.25zM282.4,387.9h1.25v1.25h-1.25zM277.0,392.4h1.25v1.25h-1.25zM278.3,391.7h1.25v1.25h-1.25zM276.2,394.2h1.25v1.25h-1.25zM284.2,384.5h1.25v1.25h-1.25zM279.6,394.8h1.25v1.25h-1.25zM274.1,397.1h1.25v1.25h-1.25zM275.1,396.1h1.25v1.25h-1.25zM286.2,384.6h1.25v1.25h-1.25zM281.7,396.6h1.25v1.25h-1.25zM270.8,399.4h1.25v1.25h-1.25zM274.7,401.2h1.25v1.25h-1.25zM287.2,388.6h1.25v1.25h-1.25zM278.0,390.3h1.25v1.25h-1.25zM277.7,391.4h1.25v1.25h-1.25zM278.4,393.7h1.25v1.25h-1.25zM278.4,392.4h1.25v1.25h-1.25zM283.5,388.4h1.25v1.25h-1.25zM281.2,389.0h1.25v1.25h-1.25zM276.4,387.5h1.25v1.25h-1.25zM270.6,397.5h1.25v1.25h-1.25zM277.7,385.1h1.25v1.25h-1.25zM274.0,396.9h1.25v1.25h-1.25zM284.1,385.2h1.25v1.25h-1.25zM268.3,397.6h1.25v1.25h-1.25zM276.7,392.8h1.25v1.25h-1.25zM278.4,393.1h1.25v1.25h-1.25zM266.7,396.4h1.25v1.25h-1.25zM286.0,382.6h1.25v1.25h-1.25zM271.5,390.6h1.25v1.25h-1.25zM281.6,386.4h1.25v1.25h-1.25zM283.2,393.9h1.25v1.25h-1.25zM280.8,392.6h1.25v1.25h-1.25zM275.3,389.9h1.25v1.25h-1.25zM279.1,392.7h1.25v1.25h-1.25zM270.3,397.5h1.25v1.25h-1.25zM276.1,393.8h1.25v1.25h-1.25zM277.8,394.6h1.25v1.25h-1.25zM288.9,390.0h1.25v1.25h-1.25zM280.6,391.2h1.25v1.25h-1.25zM278.2,392.8h1.25v1.25h-1.25zM286.6,382.4h1.25v1.25h-1.25zM275.3,396.6h1.25v1.25h-1.25zM275.0,394.0h1.25v1.25h-1.25zM267.2,403.8h1.25v1.25h-1.25zM288.4,384.2h1.25v1.25h-1.25zM287.4,391.2h1.25v1.25h-1.25zM280.8,383.5h1.25v1.25h-1.25zM282.0,388.4h1.25v1.25h-1.25zM280.2,393.8h1.25v1.25h-1.25zM278.9,390.6h1.25v1.25h-1.25zM275.0,392.1h1.25v1.25h-1.25zM276.2,393.0h1.25v1.25h-1.25zM276.1,389.3h1.25v1.25h-1.25zM288.3,384.8h1.25v1.25h-1.25zM285.8,394.8h1.25v1.25h-1.25zM279.5,395.2h1.25v1.25h-1.25zM272.3,393.2h1.25v1.25h-1.25zM272.3,394.0h1.25v1.25h-1.25zM288.1,383.3h1.25v1.25h-1.25zM283.1,392.0h1.25v1.25h-1.25zM277.1,390.4h1.25v1.25h-1.25zM274.5,392.8h1.25v1.25h-1.25zM272.0,400.2h1.25v1.25h-1.25zM279.0,394.7h1.25v1.25h-1.25zM283.2,387.1h1.25v1.25h-1.25zM273.5,392.2h1.25v1.25h-1.25zM273.9,390.4h1.25v1.25h-1.25zM275.4,392.2h1.25v1.25h-1.25zM275.0,387.2h1.25v1.25h-1.25zM268.6,402.4h1.25v1.25h-1.25zM275.4,392.4h1.25v1.25h-1.25zM273.1,398.0h1.25v1.25h-1.25zM287.0,391.8h1.25v1.25h-1.25zM274.8,399.0h1.25v1.25h-1.25zM280.0,387.0h1.25v1.25h-1.25zM289.7,386.4h1.25v1.25h-1.25zM277.8,396.6h1.25v1.25h-1.25zM272.7,394.1h1.25v1.25h-1.25zM277.7,389.5h1.25v1.25h-1.25zM277.8,392.3h1.25v1.25h-1.25zM268.7,394.3h1.25v1.25h-1.25zM283.5,393.2h1.25v1.25h-1.25zM274.4,391.5h1.25v1.25h-1.25zM276.2,393.0h1.25v1.25h-1.25zM270.6,397.5h1.25v1.25h-1.25zM280.4,391.2h1.25v1.25h-1.25zM270.1,399.6h1.25v1.25h-1.25zM270.2,397.8h1.25v1.25h-1.25zM288.5,388.2h1.25v1.25h-1.25zM268.4,392.7h1.25v1.25h-1.25zM285.2,386.8h1.25v1.25h-1.25zM287.0,383.0h1.25v1.25h-1.25zM280.0,391.4h1.25v1.25h-1.25zM282.1,390.1h1.25v1.25h-1.25zM275.6,392.2h1.25v1.25h-1.25zM275.3,397.3h1.25v1.25h-1.25zM269.5,400.3h1.25v1.25h-1.25zM277.1,390.8h1.25v1.25h-1.25zM291.3,389.1h1.25v1.25h-1.25zM288.3,392.4h1.25v1.25h-1.25zM269.3,394.3h1.25v1.25h-1.25zM272.8,397.6h1.25v1.25h-1.25zM278.8,400.5h1.25v1.25h-1.25zM281.3,392.6h1.25v1.25h-1.25zM277.0,394.0h1.25v1.25h-1.25zM279.1,390.9h1.25v1.25h-1.25zM279.1,389.8h1.25v1.25h-1.25zM275.6,393.6h1.25v1.25h-1.25zM276.8,391.5h1.25v1.25h-1.25zM280.6,393.0h1.25v1.25h-1.25zM276.8,392.1h1.25v1.25h-1.25zM280.6,388.9h1.25v1.25h-1.25zM281.9,389.3h1.25v1.25h-1.25zM276.9,390.3h1.25v1.25h-1.25zM266.4,400.9h1.25v1.25h-1.25zM282.3,392.7h1.25v1.25h-1.25zM265.6,403.5h1.25v1.25h-1.25zM269.4,400.9h1.25v1.25h-1.25zM284.3,388.8h1.25v1.25h-1.25zM282.8,388.9h1.25v1.25h-1.25zM276.8,393.0h1.25v1.25h-1.25zM266.0,400.8h1.25v1.25h-1.25zM276.8,396.1h1.25v1.25h-1.25zM271.7,393.7h1.25v1.25h-1.25zM284.5,392.0h1.25v1.25h-1.25zM293.2,380.8h1.25v1.25h-1.25zM278.2,389.8h1.25v1.25h-1.25zM272.0,395.5h1.25v1.25h-1.25zM269.0,397.2h1.25v1.25h-1.25zM277.9,393.1h1.25v1.25h-1.25zM275.6,391.9h1.25v1.25h-1.25zM272.2,401.0h1.25v1.25h-1.25zM277.5,390.2h1.25v1.25h-1.25zM266.5,393.7h1.25v1.25h-1.25zM284.2,385.1h1.25v1.25h-1.25zM281.8,382.7h1.25v1.25h-1.25zM285.2,386.7h1.25v1.25h-1.25zM276.6,397.2h1.25v1.25h-1.25zM282.5,391.2h1.25v1.25h-1.25zM274.9,390.3h1.25v1.25h-1.25zM274.1,392.9h1.25v1.25h-1.25zM278.7,398.1h1.25v1.25h-1.25zM269.8,400.0h1.25v1.25h-1.25zM268.3,400.1h1.25v1.25h-1.25zM285.1,390.6h1.25v1.25h-1.25zM280.8,398.7h1.25v1.25h-1.25zM281.6,394.1h1.25v1.25h-1.25zM284.9,387.6h1.25v1.25h-1.25zM267.0,402.3h1.25v1.25h-1.25zM273.8,397.9h1.25v1.25h-1.25zM278.2,390.3h1.25v1.25h-1.25zM278.9,388.2h1.25v1.25h-1.25zM275.6,394.6h1.25v1.25h-1.25zM283.3,385.1h1.25v1.25h-1.25zM279.3,391.3h1.25v1.25h-1.25zM270.0,399.1h1.25v1.25h-1.25zM275.7,402.4h1.25v1.25h-1.25zM282.0,386.5h1.25v1.25h-1.25zM280.9,389.8h1.25v1.25h-1.25zM265.0,402.1h1.25v1.25h-1.25zM287.8,386.4h1.25v1.25h-1.25zM283.7,391.6h1.25v1.25h-1.25zM286.2,384.4h1.25v1.25h-1.25zM274.1,392.8h1.25v1.25h-1.25zM273.3,390.6h1.25v1.25h-1.25zM268.9,396.4h1.25v1.25h-1.25zM276.9,393.5h1.25v1.25h-1.25zM286.9,382.0h1.25v1.25h-1.25zM273.0,395.1h1.25v1.25h-1.25zM279.1,391.7h1.25v1.25h-1.25zM267.6,402.3h1.25v1.25h-1.25zM274.4,393.2h1.25v1.25h-1.25zM284.2,386.8h1.25v1.25h-1.25zM266.6,395.2h1.25v1.25h-1.25zM283.3,384.4h1.25v1.25h-1.25zM282.9,394.2h1.25v1.25h-1.25zM267.4,393.3h1.25v1.25h-1.25zM274.1,394.4h1.25v1.25h-1.25zM275.3,395.4h1.25v1.25h-1.25zM277.0,392.0h1.25v1.25h-1.25zM273.1,393.6h1.25v1.25h-1.25zM272.4,396.7h1.25v1.25h-1.25zM276.0,394.1h1.25v1.25h-1.25zM271.0,397.7h1.25v1.25h-1.25zM266.2,395.3h1.25v1.25h-1.25zM277.4,392.4h1.25v1.25h-1.25zM282.5,386.1h1.25v1.25h-1.25zM266.8,399.3h1.25v1.25h-1.25zM278.4,393.0h1.25v1.25h-1.25zM274.7,397.3h1.25v1.25h-1.25zM272.9,399.5h1.25v1.25h-1.25zM282.9,387.0h1.25v1.25h-1.25zM276.1,397.2h1.25v1.25h-1.25zM290.0,387.2h1.25v1.25h-1.25zM274.7,399.0h1.25v1.25h-1.25zM282.9,393.4h1.25v1.25h-1.25zM276.2,393.4h1.25v1.25h-1.25zM272.7,396.1h1.25v1.25h-1.25zM283.3,391.2h1.25v1.25h-1.25zM274.7,390.4h1.25v1.25h-1.25zM282.4,389.8h1.25v1.25h-1.25zM276.8,391.6h1.25v1.25h-1.25zM270.1,397.4h1.25v1.25h-1.25zM274.4,389.3h1.25v1.25h-1.25zM276.9,390.3h1.25v1.25h-1.25zM284.4,387.4h1.25v1.25h-1.25zM273.4,399.1h1.25v1.25h-1.25zM279.4,394.8h1.25v1.25h-1.25zM266.3,401.3h1.25v1.25h-1.25zM282.0,388.7h1.25v1.25h-1.25zM269.4,396.4h1.25v1.25h-1.25zM266.6,402.8h1.25v1.25h-1.25zM277.2,392.3h1.25v1.25h-1.25zM286.4,388.0h1.25v1.25h-1.25zM270.7,404.2h1.25v1.25h-1.25zM270.7,398.1h1.25v1.25h-1.25zM270.5,393.2h1.25v1.25h-1.25zM269.0,396.6h1.25v1.25h-1.25zM278.1,387.4h1.25v1.25h-1.25zM270.6,394.2h1.25v1.25h-1.25zM275.3,399.1h1.25v1.25h-1.25zM282.3,389.9h1.25v1.25h-1.25zM270.4,393.2h1.25v1.25h-1.25zM282.0,391.6h1.25v1.25h-1.25zM273.6,400.3h1.25v1.25h-1.25zM269.3,398.1h1.25v1.25h-1.25zM264.6,400.7h1.25v1.25h-1.25zM289.9,382.0h1.25v1.25h-1.25zM276.3,394.8h1.25v1.25h-1.25zM280.7,392.6h1.25v1.25h-1.25zM279.8,395.2h1.25v1.25h-1.25zM281.1,394.2h1.25v1.25h-1.25zM280.3,394.8h1.25v1.25h-1.25zM293.0,385.4h1.25v1.25h-1.25zM272.1,399.3h1.25v1.25h-1.25zM265.0,397.4h1.25v1.25h-1.25zM271.0,397.5h1.25v1.25h-1.25zM269.6,400.2h1.25v1.25h-1.25zM282.4,387.8h1.25v1.25h-1.25zM285.0,390.1h1.25v1.25h-1.25zM271.0,396.8h1.25v1.25h-1.25zM267.1,397.8h1.25v1.25h-1.25zM278.0,397.4h1.25v1.25h-1.25zM288.4,386.6h1.25v1.25h-1.25zM283.1,391.7h1.25v1.25h-1.25zM272.6,400.4h1.25v1.25h-1.25zM285.5,387.8h1.25v1.25h-1.25zM266.7,392.9h1.25v1.25h-1.25zM275.0,392.6h1.25v1.25h-1.25zM267.2,399.4h1.25v1.25h-1.25zM269.8,395.5h1.25v1.25h-1.25zM287.6,385.7h1.25v1.25h-1.25zM285.5,390.7h1.25v1.25h-1.25zM274.5,393.6h1.25v1.25h-1.25zM270.3,394.6h1.25v1.25h-1.25zM268.7,406.7h1.25v1.25h-1.25zM274.6,393.6h1.25v1.25h-1.25zM275.7,390.0h1.25v1.25h-1.25zM277.8,393.4h1.25v1.25h-1.25zM278.1,393.9h1.25v1.25h-1.25zM269.3,396.9h1.25v1.25h-1.25zM278.9,394.5h1.25v1.25h-1.25zM276.9,391.7h1.25v1.25h-1.25zM285.1,383.8h1.25v1.25h-1.25zM290.8,383.1h1.25v1.25h-1.25zM278.4,394.9h1.25v1.25h-1.25zM271.8,395.2h1.25v1.25h-1.25zM278.1,393.5h1.25v1.25h-1.25zM273.8,395.5h1.25v1.25h-1.25zM277.7,402.4h1.25v1.25h-1.25zM276.4,391.3h1.25v1.25h-1.25zM273.3,400.9h1.25v1.25h-1.25zM282.0,389.2h1.25v1.25h-1.25zM277.1,392.8h1.25v1.25h-1.25zM280.9,392.7h1.25v1.25h-1.25zM278.3,395.4h1.25v1.25h-1.25zM275.2,399.0h1.25v1.25h-1.25zM272.2,398.2h1.25v1.25h-1.25zM275.4,392.5h1.25v1.25h-1.25zM273.4,394.2h1.25v1.25h-1.25zM280.4,392.4h1.25v1.25h-1.25zM278.9,393.8h1.25v1.25h-1.25zM271.2,402.6h1.25v1.25h-1.25zM279.1,393.0h1.25v1.25h-1.25zM270.8,401.8h1.25v1.25h-1.25zM276.4,399.0h1.25v1.25h-1.25zM276.3,394.4h1.25v1.25h-1.25zM276.7,389.5h1.25v1.25h-1.25zM276.6,388.7h1.25v1.25h-1.25zM279.6,396.7h1.25v1.25h-1.25zM273.7,392.9h1.25v1.25h-1.25zM277.5,397.1h1.25v1.25h-1.25zM272.4,398.9h1.25v1.25h-1.25zM279.0,397.6h1.25v1.25h-1.25zM276.0,397.5h1.25v1.25h-1.25zM278.4,391.8h1.25v1.25h-1.25zM269.6,398.4h1.25v1.25h-1.25zM279.7,391.4h1.25v1.25h-1.25zM279.3,392.1h1.25v1.25h-1.25zM276.2,392.1h1.25v1.25h-1.25zM275.0,394.7h1.25v1.25h-1.25zM284.4,393.0h1.25v1.25h-1.25zM281.5,390.6h1.25v1.25h-1.25zM278.1,389.3h1.25v1.25h-1.25zM280.2,391.4h1.25v1.25h-1.25zM282.0,392.3h1.25v1.25h-1.25zM273.5,395.8h1.25v1.25h-1.25zM277.5,395.5h1.25v1.25h-1.25zM279.6,385.8h1.25v1.25h-1.25zM282.7,392.6h1.25v1.25h-1.25zM278.4,390.1h1.25v1.25h-1.25zM268.9,401.7h1.25v1.25h-1.25zM281.9,390.1h1.25v1.25h-1.25zM281.5,380.9h1.25v1.25h-1.25zM283.5,385.6h1.25v1.25h-1.25zM279.9,391.7h1.25v1.25h-1.25zM270.1,404.0h1.25v1.25h-1.25zM284.8,388.2h1.25v1.25h-1.25zM277.4,393.8h1.25v1.25h-1.25zM282.9,393.6h1.25v1.25h-1.25zM271.0,404.2h1.25v1.25h-1.25zM269.4,399.3h1.25v1.25h-1.25zM273.4,395.4h1.25v1.25h-1.25zM283.8,382.4h1.25v1.25h-1.25zM277.0,396.3h1.25v1.25h-1.25zM284.3,396.8h1.25v1.25h-1.25zM290.9,384.9h1.25v1.25h-1.25zM290.8,386.8h1.25v1.25h-1.25zM278.2,394.2h1.25v1.25h-1.25zM274.7,391.7h1.25v1.25h-1.25zM271.8,401.9h1.25v1.25h-1.25zM271.3,393.5h1.25v1.25h-1.25zM280.5,389.8h1.25v1.25h-1.25zM281.1,391.0h1.25v1.25h-1.25zM280.2,393.8h1.25v1.25h-1.25zM285.4,388.2h1.25v1.25h-1.25zM273.5,397.4h1.25v1.25h-1.25zM276.4,391.2h1.25v1.25h-1.25zM280.8,385.9h1.25v1.25h-1.25zM282.0,389.6h1.25v1.25h-1.25zM284.0,385.4h1.25v1.25h-1.25zM278.5,387.6h1.25v1.25h-1.25zM273.8,391.4h1.25v1.25h-1.25zM279.6,389.6h1.25v1.25h-1.25zM268.2,393.8h1.25v1.25h-1.25zM264.8,398.2h1.25v1.25h-1.25zM279.2,386.0h1.25v1.25h-1.25zM277.9,393.2h1.25v1.25h-1.25zM280.7,391.8h1.25v1.25h-1.25zM270.0,405.7h1.25v1.25h-1.25zM273.1,391.2h1.25v1.25h-1.25zM272.9,394.2h1.25v1.25h-1.25zM273.7,399.0h1.25v1.25h-1.25zM275.2,393.6h1.25v1.25h-1.25zM286.9,391.4h1.25v1.25h-1.25zM280.0,389.8h1.25v1.25h-1.25zM272.1,393.2h1.25v1.25h-1.25zM275.7,389.8h1.25v1.25h-1.25zM283.6,389.3h1.25v1.25h-1.25zM274.9,390.2h1.25v1.25h-1.25zM280.0,387.6h1.25v1.25h-1.25zM283.5,390.1h1.25v1.25h-1.25zM290.4,384.8h1.25v1.25h-1.25zM284.5,385.2h1.25v1.25h-1.25zM281.1,392.2h1.25v1.25h-1.25zM281.0,392.1h1.25v1.25h-1.25zM280.3,384.6h1.25v1.25h-1.25zM273.9,394.7h1.25v1.25h-1.25zM278.4,393.6h1.25v1.25h-1.25zM283.1,386.5h1.25v1.25h-1.25zM276.5,392.7h1.25v1.25h-1.25zM278.9,394.4h1.25v1.25h-1.25zM282.0,394.8h1.25v1.25h-1.25zM283.4,380.8h1.25v1.25h-1.25zM282.1,398.2h1.25v1.25h-1.25zM286.0,382.4h1.25v1.25h-1.25zM273.1,399.6h1.25v1.25h-1.25zM278.8,396.1h1.25v1.25h-1.25zM278.3,395.6h1.25v1.25h-1.25zM283.5,388.7h1.25v1.25h-1.25zM283.1,384.6h1.25v1.25h-1.25zM268.9,401.7h1.25v1.25h-1.25zM270.7,395.8h1.25v1.25h-1.25zM276.1,385.4h1.25v1.25h-1.25zM278.3,402.0h1.25v1.25h-1.25zM269.0,402.0h1.25v1.25h-1.25zM288.0,390.9h1.25v1.25h-1.25zM279.8,388.0h1.25v1.25h-1.25zM283.7,393.0h1.25v1.25h-1.25zM277.5,398.4h1.25v1.25h-1.25zM287.5,390.4h1.25v1.25h-1.25zM276.4,393.7h1.25v1.25h-1.25zM283.3,384.2h1.25v1.25h-1.25zM271.6,396.9h1.25v1.25h-1.25zM268.6,392.3h1.25v1.25h-1.25zM276.5,387.8h1.25v1.25h-1.25zM273.4,396.4h1.25v1.25h-1.25zM280.9,386.9h1.25v1.25h-1.25zM279.5,390.8h1.25v1.25h-1.25zM271.6,397.1h1.25v1.25h-1.25zM281.7,396.2h1.25v1.25h-1.25zM277.8,397.1h1.25v1.25h-1.25zM284.1,387.6h1.25v1.25h-1.25zM275.8,398.4h1.25v1.25h-1.25zM273.8,393.1h1.25v1.25h-1.25zM285.6,385.4h1.25v1.25h-1.25zM294.5,382.7h1.25v1.25h-1.25zM278.0,391.6h1.25v1.25h-1.25zM277.3,388.5h1.25v1.25h-1.25zM288.5,384.7h1.25v1.25h-1.25zM279.9,396.6h1.25v1.25h-1.25zM270.2,396.0h1.25v1.25h-1.25zM279.2,392.4h1.25v1.25h-1.25zM279.5,388.2h1.25v1.25h-1.25zM270.5,394.4h1.25v1.25h-1.25zM264.9,398.5h1.25v1.25h-1.25zM270.8,403.1h1.25v1.25h-1.25zM286.4,394.0h1.25v1.25h-1.25zM273.7,397.5h1.25v1.25h-1.25zM275.9,391.7h1.25v1.25h-1.25zM280.6,392.9h1.25v1.25h-1.25zM281.6,388.5h1.25v1.25h-1.25zM277.1,396.0h1.25v1.25h-1.25zM281.8,390.5h1.25v1.25h-1.25zM272.5,397.8h1.25v1.25h-1.25zM276.6,395.7h1.25v1.25h-1.25zM270.2,396.6h1.25v1.25h-1.25zM284.9,385.7h1.25v1.25h-1.25zM275.0,389.0h1.25v1.25h-1.25zM272.3,395.4h1.25v1.25h-1.25zM273.3,391.3h1.25v1.25h-1.25zM276.3,393.4h1.25v1.25h-1.25zM281.1,386.8h1.25v1.25h-1.25zM267.5,401.1h1.25v1.25h-1.25zM271.8,398.9h1.25v1.25h-1.25zM273.1,391.5h1.25v1.25h-1.25zM282.8,385.5h1.25v1.25h-1.25zM278.5,394.7h1.25v1.25h-1.25zM285.6,392.4h1.25v1.25h-1.25zM293.2,383.5h1.25v1.25h-1.25zM275.9,393.0h1.25v1.25h-1.25zM278.0,397.5h1.25v1.25h-1.25zM283.6,382.9h1.25v1.25h-1.25zM283.8,393.1h1.25v1.25h-1.25zM281.4,387.6h1.25v1.25h-1.25zM270.0,389.2h1.25v1.25h-1.25zM295.3,388.1h1.25v1.25h-1.25zM292.1,386.9h1.25v1.25h-1.25zM280.1,387.3h1.25v1.25h-1.25zM282.9,389.3h1.25v1.25h-1.25zM282.4,389.4h1.25v1.25h-1.25zM274.2,390.4h1.25v1.25h-1.25zM279.8,388.8h1.25v1.25h-1.25zM283.3,389.9h1.25v1.25h-1.25zM276.1,394.8h1.25v1.25h-1.25zM268.7,403.9h1.25v1.25h-1.25zM280.6,390.7h1.25v1.25h-1.25zM276.9,401.4h1.25v1.25h-1.25zM274.6,392.7h1.25v1.25h-1.25zM274.4,396.2h1.25v1.25h-1.25zM272.5,390.2h1.25v1.25h-1.25zM288.4,389.0h1.25v1.25h-1.25zM278.1,389.2h1.25v1.25h-1.25zM286.3,387.8h1.25v1.25h-1.25zM291.2,382.0h1.25v1.25h-1.25zM276.4,390.2h1.25v1.25h-1.25zM265.3,401.2h1.25v1.25h-1.25zM271.2,396.1h1.25v1.25h-1.25zM269.1,397.8h1.25v1.25h-1.25zM275.9,396.7h1.25v1.25h-1.25zM279.6,393.5h1.25v1.25h-1.25zM278.8,388.8h1.25v1.25h-1.25zM268.4,401.0h1.25v1.25h-1.25zM279.8,390.7h1.25v1.25h-1.25zM279.0,395.3h1.25v1.25h-1.25zM280.3,399.8h1.25v1.25h-1.25zM278.9,394.7h1.25v1.25h-1.25zM274.3,395.3h1.25v1.25h-1.25zM273.6,395.3h1.25v1.25h-1.25zM265.3,399.5h1.25v1.25h-1.25zM276.3,390.7h1.25v1.25h-1.25zM288.7,380.7h1.25v1.25h-1.25zM290.6,381.3h1.25v1.25h-1.25zM286.1,384.7h1.25v1.25h-1.25zM284.0,390.4h1.25v1.25h-1.25zM272.8,395.2h1.25v1.25h-1.25zM287.3,384.5h1.25v1.25h-1.25zM276.3,392.6h1.25v1.25h-1.25zM298.6,391.1h1.25v1.25h-1.25zM290.9,393.7h1.25v1.25h-1.25zM298.5,388.9h1.25v1.25h-1.25zM286.3,381.7h1.25v1.25h-1.25zM295.8,388.3h1.25v1.25h-1.25zM287.1,397.7h1.25v1.25h-1.25zM289.4,388.2h1.25v1.25h-1.25zM273.6,388.0h1.25v1.25h-1.25zM295.8,392.8h1.25v1.25h-1.25zM295.6,385.2h1.25v1.25h-1.25zM291.7,396.3h1.25v1.25h-1.25zM287.0,383.3h1.25v1.25h-1.25zM296.5,392.5h1.25v1.25h-1.25zM282.3,395.3h1.25v1.25h-1.25zM291.5,396.0h1.25v1.25h-1.25zM279.3,393.1h1.25v1.25h-1.25zM281.3,393.7h1.25v1.25h-1.25zM288.8,405.9h1.25v1.25h-1.25zM284.0,390.9h1.25v1.25h-1.25zM286.1,390.4h1.25v1.25h-1.25zM289.1,391.2h1.25v1.25h-1.25zM275.6,394.7h1.25v1.25h-1.25zM298.5,397.3h1.25v1.25h-1.25zM289.7,388.3h1.25v1.25h-1.25zM280.5,387.8h1.25v1.25h-1.25zM289.4,399.4h1.25v1.25h-1.25zM293.2,396.8h1.25v1.25h-1.25zM291.6,396.1h1.25v1.25h-1.25zM279.5,405.0h1.25v1.25h-1.25zM289.4,387.6h1.25v1.25h-1.25zM272.1,394.6h1.25v1.25h-1.25zM289.6,384.3h1.25v1.25h-1.25zM291.7,396.9h1.25v1.25h-1.25zM284.6,391.5h1.25v1.25h-1.25zM301.2,398.9h1.25v1.25h-1.25zM279.8,398.6h1.25v1.25h-1.25zM286.4,390.6h1.25v1.25h-1.25zM298.1,392.2h1.25v1.25h-1.25zM290.3,402.5h1.25v1.25h-1.25zM285.6,397.6h1.25v1.25h-1.25zM284.7,388.3h1.25v1.25h-1.25zM285.2,397.2h1.25v1.25h-1.25zM300.1,394.4h1.25v1.25h-1.25zM280.1,395.1h1.25v1.25h-1.25zM290.5,387.5h1.25v1.25h-1.25zM281.7,402.9h1.25v1.25h-1.25zM291.5,392.2h1.25v1.25h-1.25zM283.6,389.6h1.25v1.25h-1.25zM270.0,401.6h1.25v1.25h-1.25zM285.1,390.7h1.25v1.25h-1.25zM281.1,399.1h1.25v1.25h-1.25zM284.5,396.1h1.25v1.25h-1.25zM299.5,393.4h1.25v1.25h-1.25zM281.8,401.1h1.25v1.25h-1.25zM276.5,391.0h1.25v1.25h-1.25zM297.0,390.6h1.25v1.25h-1.25zM290.0,397.5h1.25v1.25h-1.25zM297.7,390.4h1.25v1.25h-1.25zM291.6,397.3h1.25v1.25h-1.25zM280.1,394.8h1.25v1.25h-1.25zM284.2,390.1h1.25v1.25h-1.25zM297.0,393.6h1.25v1.25h-1.25zM290.2,386.0h1.25v1.25h-1.25zM281.6,384.6h1.25v1.25h-1.25zM289.9,398.3h1.25v1.25h-1.25zM284.5,391.3h1.25v1.25h-1.25zM282.6,394.8h1.25v1.25h-1.25zM295.5,381.0h1.25v1.25h-1.25zM283.7,388.2h1.25v1.25h-1.25zM277.1,393.1h1.25v1.25h-1.25zM283.1,394.2h1.25v1.25h-1.25zM292.5,393.0h1.25v1.25h-1.25zM285.3,381.7h1.25v1.25h-1.25zM288.0,397.8h1.25v1.25h-1.25zM279.9,391.3h1.25v1.25h-1.25zM284.5,389.3h1.25v1.25h-1.25zM278.3,403.0h1.25v1.25h-1.25zM278.7,398.4h1.25v1.25h-1.25zM288.1,384.5h1.25v1.25h-1.25zM288.6,403.7h1.25v1.25h-1.25zM287.2,388.9h1.25v1.25h-1.25zM295.2,390.7h1.25v1.25h-1.25zM291.5,392.5h1.25v1.25h-1.25zM290.7,400.0h1.25v1.25h-1.25zM299.1,384.4h1.25v1.25h-1.25zM293.7,396.0h1.25v1.25h-1.25zM282.9,392.1h1.25v1.25h-1.25zM294.4,396.2h1.25v1.25h-1.25zM287.6,389.2h1.25v1.25h-1.25zM280.8,395.5h1.25v1.25h-1.25zM292.2,401.9h1.25v1.25h-1.25zM286.8,396.0h1.25v1.25h-1.25zM275.0,401.6h1.25v1.25h-1.25zM291.5,404.3h1.25v1.25h-1.25zM286.1,396.6h1.25v1.25h-1.25zM282.2,392.0h1.25v1.25h-1.25zM278.6,403.1h1.25v1.25h-1.25zM281.8,390.2h1.25v1.25h-1.25zM289.6,399.0h1.25v1.25h-1.25zM290.7,398.9h1.25v1.25h-1.25zM278.5,395.6h1.25v1.25h-1.25zM289.4,389.0h1.25v1.25h-1.25zM279.9,399.1h1.25v1.25h-1.25zM285.6,394.9h1.25v1.25h-1.25zM292.7,385.1h1.25v1.25h-1.25zM284.1,399.0h1.25v1.25h-1.25zM278.7,387.0h1.25v1.25h-1.25zM292.6,388.3h1.25v1.25h-1.25zM283.6,393.6h1.25v1.25h-1.25zM284.5,393.9h1.25v1.25h-1.25zM289.1,394.5h1.25v1.25h-1.25zM290.5,384.9h1.25v1.25h-1.25zM274.7,404.5h1.25v1.25h-1.25zM281.4,396.2h1.25v1.25h-1.25zM279.1,394.8h1.25v1.25h-1.25zM276.8,392.0h1.25v1.25h-1.25zM278.7,391.9h1.25v1.25h-1.25zM282.7,398.6h1.25v1.25h-1.25zM286.5,388.7h1.25v1.25h-1.25zM281.6,397.5h1.25v1.25h-1.25zM290.4,398.2h1.25v1.25h-1.25zM292.1,397.0h1.25v1.25h-1.25zM286.4,403.4h1.25v1.25h-1.25zM287.1,392.2h1.25v1.25h-1.25zM294.5,383.4h1.25v1.25h-1.25zM291.6,397.3h1.25v1.25h-1.25zM283.8,397.6h1.25v1.25h-1.25zM289.4,399.1h1.25v1.25h-1.25zM281.3,397.3h1.25v1.25h-1.25zM291.7,398.2h1.25v1.25h-1.25zM294.5,394.6h1.25v1.25h-1.25zM283.7,400.0h1.25v1.25h-1.25zM287.0,396.9h1.25v1.25h-1.25zM294.9,391.7h1.25v1.25h-1.25zM284.5,396.8h1.25v1.25h-1.25zM288.7,394.3h1.25v1.25h-1.25zM283.1,401.9h1.25v1.25h-1.25zM280.6,394.7h1.25v1.25h-1.25zM288.2,403.3h1.25v1.25h-1.25zM299.9,385.9h1.25v1.25h-1.25zM287.0,399.7h1.25v1.25h-1.25zM283.6,395.5h1.25v1.25h-1.25zM283.0,394.9h1.25v1.25h-1.25zM291.1,403.4h1.25v1.25h-1.25zM290.2,390.4h1.25v1.25h-1.25zM285.0,387.8h1.25v1.25h-1.25zM297.7,383.7h1.25v1.25h-1.25zM287.5,391.9h1.25v1.25h-1.25zM301.2,398.3h1.25v1.25h-1.25zM289.2,393.9h1.25v1.25h-1.25zM293.0,395.9h1.25v1.25h-1.25zM275.7,394.7h1.25v1.25h-1.25zM287.1,396.0h1.25v1.25h-1.25zM288.3,397.1h1.25v1.25h-1.25zM290.0,402.7h1.25v1.25h-1.25zM272.2,398.5h1.25v1.25h-1.25zM293.8,393.5h1.25v1.25h-1.25zM285.4,396.7h1.25v1.25h-1.25zM281.8,391.1h1.25v1.25h-1.25zM285.4,394.8h1.25v1.25h-1.25zM285.0,393.7h1.25v1.25h-1.25zM283.7,382.5h1.25v1.25h-1.25zM280.8,401.0h1.25v1.25h-1.25zM282.7,399.6h1.25v1.25h-1.25zM287.7,391.1h1.25v1.25h-1.25zM284.5,387.7h1.25v1.25h-1.25zM288.4,401.7h1.25v1.25h-1.25zM284.2,397.2h1.25v1.25h-1.25zM284.5,401.3h1.25v1.25h-1.25zM290.2,400.3h1.25v1.25h-1.25zM292.9,387.6h1.25v1.25h-1.25zM282.6,401.2h1.25v1.25h-1.25zM295.6,387.6h1.25v1.25h-1.25zM292.0,390.8h1.25v1.25h-1.25zM284.0,395.2h1.25v1.25h-1.25zM291.7,391.3h1.25v1.25h-1.25zM280.9,404.0h1.25v1.25h-1.25zM276.8,400.6h1.25v1.25h-1.25zM278.8,397.8h1.25v1.25h-1.25zM283.8,394.2h1.25v1.25h-1.25zM285.9,396.6h1.25v1.25h-1.25zM281.6,391.9h1.25v1.25h-1.25zM286.3,391.5h1.25v1.25h-1.25zM273.9,401.2h1.25v1.25h-1.25zM288.6,389.8h1.25v1.25h-1.25zM278.1,398.5h1.25v1.25h-1.25zM281.5,393.7h1.25v1.25h-1.25zM289.5,404.1h1.25v1.25h-1.25zM283.3,403.8h1.25v1.25h-1.25zM279.8,400.7h1.25v1.25h-1.25zM280.8,397.3h1.25v1.25h-1.25zM292.4,403.5h1.25v1.25h-1.25zM291.4,393.3h1.25v1.25h-1.25zM290.2,391.6h1.25v1.25h-1.25zM281.7,398.8h1.25v1.25h-1.25zM283.0,398.1h1.25v1.25h-1.25zM284.9,403.3h1.25v1.25h-1.25zM289.7,392.3h1.25v1.25h-1.25zM292.3,385.8h1.25v1.25h-1.25zM285.8,398.7h1.25v1.25h-1.25zM279.7,392.4h1.25v1.25h-1.25zM293.6,400.7h1.25v1.25h-1.25zM292.4,389.0h1.25v1.25h-1.25zM288.9,392.5h1.25v1.25h-1.25zM295.7,394.3h1.25v1.25h-1.25zM291.0,399.0h1.25v1.25h-1.25zM291.7,384.9h1.25v1.25h-1.25zM293.7,388.1h1.25v1.25h-1.25zM282.9,388.3h1.25v1.25h-1.25zM296.1,389.6h1.25v1.25h-1.25zM287.7,393.0h1.25v1.25h-1.25zM286.7,392.2h1.25v1.25h-1.25zM279.7,394.3h1.25v1.25h-1.25zM284.3,393.3h1.25v1.25h-1.25zM289.8,388.0h1.25v1.25h-1.25zM284.0,390.1h1.25v1.25h-1.25zM301.2,383.5h1.25v1.25h-1.25zM286.8,386.4h1.25v1.25h-1.25zM283.3,402.1h1.25v1.25h-1.25zM293.9,398.1h1.25v1.25h-1.25zM275.9,402.5h1.25v1.25h-1.25zM295.6,382.2h1.25v1.25h-1.25zM264.7,405.3h1.25v1.25h-1.25zM273.1,391.3h1.25v1.25h-1.25zM270.7,406.0h1.25v1.25h-1.25zM273.8,397.1h1.25v1.25h-1.25zM299.9,395.8h1.25v1.25h-1.25zM264.9,403.1h1.25v1.25h-1.25zM275.4,397.9h1.25v1.25h-1.25zM285.8,399.2h1.25v1.25h-1.25zM290.7,385.3h1.25v1.25h-1.25zM293.4,397.3h1.25v1.25h-1.25zM278.6,390.6h1.25v1.25h-1.25zM272.4,383.0h1.25v1.25h-1.25zM296.4,384.6h1.25v1.25h-1.25zM268.6,394.0h1.25v1.25h-1.25zM266.5,388.1h1.25v1.25h-1.25zM272.8,401.7h1.25v1.25h-1.25zM282.7,384.3h1.25v1.25h-1.25zM299.8,381.4h1.25v1.25h-1.25zM285.4,389.5h1.25v1.25h-1.25zM283.8,394.8h1.25v1.25h-1.25zM290.3,386.7h1.25v1.25h-1.25zM287.8,386.6h1.25v1.25h-1.25zM346.8,352.1h1.25v1.25h-1.25zM341.2,354.2h1.25v1.25h-1.25zM343.6,361.2h1.25v1.25h-1.25zM338.6,352.0h1.25v1.25h-1.25zM348.0,348.8h1.25v1.25h-1.25zM343.9,342.9h1.25v1.25h-1.25zM344.3,360.6h1.25v1.25h-1.25zM340.4,357.4h1.25v1.25h-1.25zM351.8,364.2h1.25v1.25h-1.25zM337.4,357.7h1.25v1.25h-1.25zM349.3,346.7h1.25v1.25h-1.25zM348.3,367.7h1.25v1.25h-1.25zM343.6,364.6h1.25v1.25h-1.25zM345.4,353.6h1.25v1.25h-1.25zM338.6,358.9h1.25v1.25h-1.25zM352.5,361.4h1.25v1.25h-1.25zM338.2,347.1h1.25v1.25h-1.25zM342.7,358.0h1.25v1.25h-1.25zM347.4,336.8h1.25v1.25h-1.25zM343.4,356.4h1.25v1.25h-1.25zM347.9,370.7h1.25v1.25h-1.25zM345.4,349.3h1.25v1.25h-1.25zM341.1,347.6h1.25v1.25h-1.25zM343.2,358.2h1.25v1.25h-1.25zM353.0,350.8h1.25v1.25h-1.25zM350.0,361.0h1.25v1.25h-1.25zM348.2,358.7h1.25v1.25h-1.25zM346.6,365.9h1.25v1.25h-1.25zM342.5,369.4h1.25v1.25h-1.25zM338.8,353.8h1.25v1.25h-1.25zM347.7,352.2h1.25v1.25h-1.25zM343.5,366.2h1.25v1.25h-1.25zM343.8,355.2h1.25v1.25h-1.25zM339.3,350.1h1.25v1.25h-1.25zM337.4,356.3h1.25v1.25h-1.25zM345.7,355.8h1.25v1.25h-1.25zM340.2,350.6h1.25v1.25h-1.25zM353.2,343.7h1.25v1.25h-1.25zM351.8,344.2h1.25v1.25h-1.25zM344.3,359.7h1.25v1.25h-1.25zM349.5,345.8h1.25v1.25h-1.25zM342.5,368.4h1.25v1.25h-1.25zM350.2,352.2h1.25v1.25h-1.25zM355.2,356.5h1.25v1.25h-1.25zM347.6,350.5h1.25v1.25h-1.25zM354.4,344.6h1.25v1.25h-1.25zM334.5,350.7h1.25v1.25h-1.25zM344.7,354.1h1.25v1.25h-1.25zM345.4,369.5h1.25v1.25h-1.25zM348.3,354.6h1.25v1.25h-1.25zM346.5,366.9h1.25v1.25h-1.25zM348.8,362.5h1.25v1.25h-1.25zM345.6,352.7h1.25v1.25h-1.25zM341.2,355.7h1.25v1.25h-1.25zM339.9,364.8h1.25v1.25h-1.25zM351.0,363.3h1.25v1.25h-1.25zM341.8,354.7h1.25v1.25h-1.25zM347.6,353.1h1.25v1.25h-1.25zM347.5,360.4h1.25v1.25h-1.25zM343.7,362.7h1.25v1.25h-1.25zM338.3,357.6h1.25v1.25h-1.25zM346.8,360.6h1.25v1.25h-1.25zM350.7,351.3h1.25v1.25h-1.25zM332.7,361.6h1.25v1.25h-1.25zM338.6,356.0h1.25v1.25h-1.25zM358.1,361.7h1.25v1.25h-1.25zM345.4,351.1h1.25v1.25h-1.25zM347.0,352.9h1.25v1.25h-1.25zM352.1,359.2h1.25v1.25h-1.25zM352.1,346.8h1.25v1.25h-1.25zM346.1,347.9h1.25v1.25h-1.25zM349.8,363.3h1.25v1.25h-1.25zM341.4,348.3h1.25v1.25h-1.25zM344.9,351.6h1.25v1.25h-1.25zM340.3,364.2h1.25v1.25h-1.25zM348.8,358.2h1.25v1.25h-1.25zM348.2,358.9h1.25v1.25h-1.25zM349.0,366.1h1.25v1.25h-1.25zM348.9,361.1h1.25v1.25h-1.25zM337.9,369.4h1.25v1.25h-1.25zM345.3,364.7h1.25v1.25h-1.25zM340.7,353.4h1.25v1.25h-1.25zM342.2,341.2h1.25v1.25h-1.25zM347.3,349.6h1.25v1.25h-1.25zM351.1,343.3h1.25v1.25h-1.25zM344.5,357.2h1.25v1.25h-1.25zM341.2,350.1h1.25v1.25h-1.25zM342.0,346.8h1.25v1.25h-1.25zM344.7,355.1h1.25v1.25h-1.25zM343.1,344.6h1.25v1.25h-1.25zM345.5,348.2h1.25v1.25h-1.25zM350.0,368.6h1.25v1.25h-1.25zM337.6,353.5h1.25v1.25h-1.25zM336.4,345.3h1.25v1.25h-1.25zM342.5,360.8h1.25v1.25h-1.25zM342.6,355.8h1.25v1.25h-1.25zM352.2,355.0h1.25v1.25h-1.25zM343.3,350.0h1.25v1.25h-1.25zM349.0,348.5h1.25v1.25h-1.25zM339.3,347.9h1.25v1.25h-1.25zM337.7,345.3h1.25v1.25h-1.25zM358.0,357.2h1.25v1.25h-1.25zM349.2,347.1h1.25v1.25h-1.25zM340.5,357.4h1.25v1.25h-1.25zM344.2,353.0h1.25v1.25h-1.25zM354.1,348.9h1.25v1.25h-1.25zM345.8,340.5h1.25v1.25h-1.25zM343.0,357.8h1.25v1.25h-1.25zM349.8,355.7h1.25v1.25h-1.25zM347.6,355.9h1.25v1.25h-1.25zM336.4,361.2h1.25v1.25h-1.25zM357.5,364.9h1.25v1.25h-1.25zM351.1,361.8h1.25v1.25h-1.25zM343.8,344.5h1.25v1.25h-1.25zM342.1,349.2h1.25v1.25h-1.25zM342.5,362.6h1.25v1.25h-1.25zM336.4,355.0h1.25v1.25h-1.25zM345.8,353.8h1.25v1.25h-1.25zM341.5,350.1h1.25v1.25h-1.25zM341.3,369.7h1.25v1.25h-1.25zM340.8,347.5h1.25v1.25h-1.25zM356.4,362.9h1.25v1.25h-1.25zM342.4,357.8h1.25v1.25h-1.25zM350.2,351.3h1.25v1.25h-1.25zM351.6,347.4h1.25v1.25h-1.25zM347.0,365.6h1.25v1.25h-1.25zM349.6,359.5h1.25v1.25h-1.25zM341.8,367.2h1.25v1.25h-1.25zM344.7,364.0h1.25v1.25h-1.25zM345.4,349.2h1.25v1.25h-1.25zM340.7,353.9h1.25v1.25h-1.25zM339.8,343.5h1.25v1.25h-1.25zM356.0,364.9h1.25v1.25h-1.25zM351.6,359.3h1.25v1.25h-1.25zM344.7,351.2h1.25v1.25h-1.25zM340.6,357.7h1.25v1.25h-1.25zM345.2,347.5h1.25v1.25h-1.25zM340.2,353.1h1.25v1.25h-1.25zM344.6,358.0h1.25v1.25h-1.25zM346.3,362.6h1.25v1.25h-1.25zM345.9,352.7h1.25v1.25h-1.25zM342.2,354.1h1.25v1.25h-1.25zM348.7,351.6h1.25v1.25h-1.25zM352.1,359.2h1.25v1.25h-1.25zM342.3,342.5h1.25v1.25h-1.25zM346.0,351.8h1.25v1.25h-1.25zM342.7,351.9h1.25v1.25h-1.25zM347.0,360.8h1.25v1.25h-1.25zM350.9,345.6h1.25v1.25h-1.25zM343.6,362.7h1.25v1.25h-1.25zM342.7,361.6h1.25v1.25h-1.25zM345.4,363.5h1.25v1.25h-1.25zM343.1,349.2h1.25v1.25h-1.25zM345.8,349.2h1.25v1.25h-1.25zM345.8,356.3h1.25v1.25h-1.25zM327.7,352.7h1.25v1.25h-1.25zM336.6,356.7h1.25v1.25h-1.25zM351.0,356.3h1.25v1.25h-1.25zM343.9,357.2h1.25v1.25h-1.25zM344.7,353.7h1.25v1.25h-1.25zM342.3,351.2h1.25v1.25h-1.25zM350.4,347.5h1.25v1.25h-1.25zM350.0,354.4h1.25v1.25h-1.25zM345.6,353.1h1.25v1.25h-1.25zM347.6,353.5h1.25v1.25h-1.25zM347.3,361.1h1.25v1.25h-1.25zM341.3,350.4h1.25v1.25h-1.25zM345.5,367.6h1.25v1.25h-1.25zM352.2,352.1h1.25v1.25h-1.25zM348.9,362.9h1.25v1.25h-1.25zM356.3,350.8h1.25v1.25h-1.25zM348.4,357.7h1.25v1.25h-1.25zM338.7,354.4h1.25v1.25h-1.25zM346.4,344.8h1.25v1.25h-1.25zM344.7,358.1h1.25v1.25h-1.25zM337.7,347.0h1.25v1.25h-1.25zM338.3,353.3h1.25v1.25h-1.25zM351.7,361.1h1.25v1.25h-1.25zM351.9,375.7h1.25v1.25h-1.25zM340.9,351.0h1.25v1.25h-1.25zM349.9,353.2h1.25v1.25h-1.25zM348.8,359.3h1.25v1.25h-1.25zM348.8,356.3h1.25v1.25h-1.25zM341.6,366.4h1.25v1.25h-1.25zM338.6,352.3h1.25v1.25h-1.25zM352.9,366.5h1.25v1.25h-1.25zM340.4,361.2h1.25v1.25h-1.25zM344.5,356.4h1.25v1.25h-1.25zM344.7,355.7h1.25v1.25h-1.25zM344.0,359.1h1.25v1.25h-1.25zM347.3,361.3h1.25v1.25h-1.25zM344.7,352.9h1.25v1.25h-1.25zM349.0,351.3h1.25v1.25h-1.25zM346.7,352.8h1.25v1.25h-1.25zM338.2,352.8h1.25v1.25h-1.25zM341.2,362.3h1.25v1.25h-1.25zM348.0,359.9h1.25v1.25h-1.25zM339.7,343.1h1.25v1.25h-1.25zM341.2,351.6h1.25v1.25h-1.25zM348.1,345.8h1.25v1.25h-1.25zM347.1,353.0h1.25v1.25h-1.25zM346.6,351.6h1.25v1.25h-1.25zM344.8,349.4h1.25v1.25h-1.25zM346.2,359.3h1.25v1.25h-1.25zM340.0,352.1h1.25v1.25h-1.25zM347.3,356.1h1.25v1.25h-1.25zM341.7,353.5h1.25v1.25h-1.25zM357.7,357.8h1.25v1.25h-1.25zM346.9,352.6h1.25v1.25h-1.25zM333.7,359.1h1.25v1.25h-1.25zM342.3,356.3h1.25v1.25h-1.25zM345.4,365.5h1.25v1.25h-1.25zM343.8,349.3h1.25v1.25h-1.25zM343.0,356.5h1.25v1.25h-1.25zM339.0,355.3h1.25v1.25h-1.25zM349.0,352.9h1.25v1.25h-1.25zM350.4,369.4h1.25v1.25h-1.25zM351.3,356.4h1.25v1.25h-1.25zM354.2,361.8h1.25v1.25h-1.25zM345.8,363.2h1.25v1.25h-1.25zM346.6,356.8h1.25v1.25h-1.25zM346.7,357.2h1.25v1.25h-1.25zM334.9,350.2h1.25v1.25h-1.25zM335.4,351.0h1.25v1.25h-1.25zM345.6,355.5h1.25v1.25h-1.25zM347.4,342.1h1.25v1.25h-1.25zM346.6,361.4h1.25v1.25h-1.25zM355.7,366.5h1.25v1.25h-1.25zM349.4,345.5h1.25v1.25h-1.25zM347.8,358.1h1.25v1.25h-1.25zM342.8,362.4h1.25v1.25h-1.25zM341.1,351.0h1.25v1.25h-1.25zM344.4,349.4h1.25v1.25h-1.25zM339.4,344.7h1.25v1.25h-1.25zM345.6,359.4h1.25v1.25h-1.25zM336.9,358.8h1.25v1.25h-1.25zM342.2,349.4h1.25v1.25h-1.25zM342.8,355.5h1.25v1.25h-1.25zM346.0,362.0h1.25v1.25h-1.25zM345.6,355.1h1.25v1.25h-1.25zM343.8,360.5h1.25v1.25h-1.25zM348.6,363.2h1.25v1.25h-1.25zM345.8,356.1h1.25v1.25h-1.25zM350.7,358.4h1.25v1.25h-1.25zM348.0,361.9h1.25v1.25h-1.25zM346.8,361.5h1.25v1.25h-1.25zM346.4,364.4h1.25v1.25h-1.25zM350.2,338.8h1.25v1.25h-1.25zM340.0,356.4h1.25v1.25h-1.25zM341.2,354.0h1.25v1.25h-1.25zM349.5,370.5h1.25v1.25h-1.25zM346.8,343.0h1.25v1.25h-1.25zM354.3,351.0h1.25v1.25h-1.25zM334.0,348.3h1.25v1.25h-1.25zM343.9,355.7h1.25v1.25h-1.25zM335.0,353.0h1.25v1.25h-1.25zM353.8,357.3h1.25v1.25h-1.25zM349.5,340.1h1.25v1.25h-1.25zM356.2,349.6h1.25v1.25h-1.25zM345.0,358.4h1.25v1.25h-1.25zM348.9,363.0h1.25v1.25h-1.25zM348.4,350.2h1.25v1.25h-1.25zM336.6,352.1h1.25v1.25h-1.25zM345.5,370.4h1.25v1.25h-1.25zM346.6,350.3h1.25v1.25h-1.25zM337.8,344.0h1.25v1.25h-1.25zM342.6,351.5h1.25v1.25h-1.25zM350.9,355.0h1.25v1.25h-1.25zM347.5,351.2h1.25v1.25h-1.25zM340.9,360.1h1.25v1.25h-1.25zM341.2,357.2h1.25v1.25h-1.25zM348.5,362.7h1.25v1.25h-1.25zM339.2,355.8h1.25v1.25h-1.25zM342.0,356.3h1.25v1.25h-1.25zM345.5,360.3h1.25v1.25h-1.25zM349.2,348.5h1.25v1.25h-1.25zM343.3,360.7h1.25v1.25h-1.25zM345.0,363.8h1.25v1.25h-1.25zM345.8,352.6h1.25v1.25h-1.25zM342.8,349.6h1.25v1.25h-1.25zM352.6,353.0h1.25v1.25h-1.25zM345.5,366.4h1.25v1.25h-1.25zM346.6,367.1h1.25v1.25h-1.25zM350.0,357.4h1.25v1.25h-1.25zM357.2,356.0h1.25v1.25h-1.25zM340.0,357.4h1.25v1.25h-1.25zM344.6,365.0h1.25v1.25h-1.25zM331.1,354.2h1.25v1.25h-1.25zM350.2,362.1h1.25v1.25h-1.25zM350.8,360.5h1.25v1.25h-1.25zM346.6,367.7h1.25v1.25h-1.25zM342.7,362.4h1.25v1.25h-1.25zM350.2,351.8h1.25v1.25h-1.25zM339.5,358.6h1.25v1.25h-1.25zM344.9,357.8h1.25v1.25h-1.25zM346.9,348.7h1.25v1.25h-1.25zM337.7,352.8h1.25v1.25h-1.25zM353.0,345.8h1.25v1.25h-1.25zM345.3,343.6h1.25v1.25h-1.25zM349.0,359.2h1.25v1.25h-1.25zM343.0,346.0h1.25v1.25h-1.25zM349.4,355.6h1.25v1.25h-1.25zM339.5,350.8h1.25v1.25h-1.25zM351.5,361.9h1.25v1.25h-1.25zM342.9,358.1h1.25v1.25h-1.25zM346.3,358.0h1.25v1.25h-1.25zM340.3,361.9h1.25v1.25h-1.25zM344.8,356.0h1.25v1.25h-1.25zM345.6,346.6h1.25v1.25h-1.25zM343.6,355.5h1.25v1.25h-1.25zM339.1,358.7h1.25v1.25h-1.25zM347.5,354.4h1.25v1.25h-1.25zM350.8,356.6h1.25v1.25h-1.25zM337.4,346.8h1.25v1.25h-1.25zM347.8,356.6h1.25v1.25h-1.25zM350.1,370.5h1.25v1.25h-1.25zM348.6,348.1h1.25v1.25h-1.25zM337.8,349.4h1.25v1.25h-1.25zM349.1,374.4h1.25v1.25h-1.25zM348.7,360.1h1.25v1.25h-1.25zM348.3,368.4h1.25v1.25h-1.25zM341.6,364.6h1.25v1.25h-1.25zM351.1,343.9h1.25v1.25h-1.25zM349.1,365.8h1.25v1.25h-1.25zM346.5,356.6h1.25v1.25h-1.25zM352.2,349.1h1.25v1.25h-1.25zM348.4,359.7h1.25v1.25h-1.25zM350.8,357.3h1.25v1.25h-1.25zM349.4,358.4h1.25v1.25h-1.25zM347.0,346.0h1.25v1.25h-1.25zM344.8,371.6h1.25v1.25h-1.25zM349.6,353.6h1.25v1.25h-1.25zM349.2,361.8h1.25v1.25h-1.25zM346.6,342.6h1.25v1.25h-1.25zM340.6,346.6h1.25v1.25h-1.25zM344.5,359.3h1.25v1.25h-1.25zM361.0,359.5h1.25v1.25h-1.25zM349.5,360.4h1.25v1.25h-1.25zM341.7,348.6h1.25v1.25h-1.25zM342.1,347.3h1.25v1.25h-1.25zM341.5,347.2h1.25v1.25h-1.25zM340.6,353.9h1.25v1.25h-1.25zM337.9,345.1h1.25v1.25h-1.25zM346.1,358.4h1.25v1.25h-1.25zM351.3,362.1h1.25v1.25h-1.25zM348.4,352.1h1.25v1.25h-1.25zM355.1,343.1h1.25v1.25h-1.25zM345.4,364.1h1.25v1.25h-1.25zM346.4,346.1h1.25v1.25h-1.25zM340.3,341.4h1.25v1.25h-1.25zM346.5,360.6h1.25v1.25h-1.25zM349.6,350.8h1.25v1.25h-1.25zM346.0,347.1h1.25v1.25h-1.25zM341.1,351.7h1.25v1.25h-1.25zM341.2,359.0h1.25v1.25h-1.25zM344.3,369.5h1.25v1.25h-1.25zM341.9,370.4h1.25v1.25h-1.25zM340.3,360.1h1.25v1.25h-1.25zM345.2,344.9h1.25v1.25h-1.25zM340.0,360.7h1.25v1.25h-1.25zM342.7,364.3h1.25v1.25h-1.25zM347.4,355.8h1.25v1.25h-1.25zM337.5,360.4h1.25v1.25h-1.25zM349.5,366.8h1.25v1.25h-1.25zM340.3,352.3h1.25v1.25h-1.25zM337.7,343.0h1.25v1.25h-1.25zM344.3,359.3h1.25v1.25h-1.25zM342.1,346.8h1.25v1.25h-1.25zM345.2,366.9h1.25v1.25h-1.25zM351.4,349.9h1.25v1.25h-1.25zM346.1,358.4h1.25v1.25h-1.25zM337.7,351.2h1.25v1.25h-1.25zM342.3,346.5h1.25v1.25h-1.25zM347.0,353.2h1.25v1.25h-1.25zM347.0,359.0h1.25v1.25h-1.25zM340.9,357.2h1.25v1.25h-1.25zM341.3,339.1h1.25v1.25h-1.25zM341.6,348.2h1.25v1.25h-1.25zM339.4,353.6h1.25v1.25h-1.25zM344.1,346.7h1.25v1.25h-1.25zM342.5,356.2h1.25v1.25h-1.25zM344.9,358.8h1.25v1.25h-1.25zM344.9,347.3h1.25v1.25h-1.25zM343.8,369.4h1.25v1.25h-1.25zM353.0,363.0h1.25v1.25h-1.25zM342.8,366.6h1.25v1.25h-1.25zM347.7,370.0h1.25v1.25h-1.25zM344.2,353.2h1.25v1.25h-1.25zM346.2,359.5h1.25v1.25h-1.25zM351.4,353.0h1.25v1.25h-1.25zM340.0,350.1h1.25v1.25h-1.25zM349.5,360.6h1.25v1.25h-1.25zM341.3,363.7h1.25v1.25h-1.25zM348.6,362.8h1.25v1.25h-1.25zM341.0,368.8h1.25v1.25h-1.25zM344.4,356.8h1.25v1.25h-1.25zM340.8,343.5h1.25v1.25h-1.25zM344.2,363.7h1.25v1.25h-1.25zM349.0,349.2h1.25v1.25h-1.25zM351.0,361.9h1.25v1.25h-1.25zM344.6,349.1h1.25v1.25h-1.25zM343.2,363.0h1.25v1.25h-1.25zM348.8,349.0h1.25v1.25h-1.25zM341.3,367.3h1.25v1.25h-1.25zM336.6,336.3h1.25v1.25h-1.25zM344.0,347.5h1.25v1.25h-1.25zM345.3,359.7h1.25v1.25h-1.25zM345.7,349.7h1.25v1.25h-1.25zM344.5,347.8h1.25v1.25h-1.25zM357.7,348.8h1.25v1.25h-1.25zM342.2,361.5h1.25v1.25h-1.25zM342.6,347.8h1.25v1.25h-1.25zM340.7,343.1h1.25v1.25h-1.25zM349.1,349.0h1.25v1.25h-1.25zM341.4,352.2h1.25v1.25h-1.25zM338.9,345.6h1.25v1.25h-1.25zM344.4,354.6h1.25v1.25h-1.25zM343.4,363.8h1.25v1.25h-1.25zM347.6,362.8h1.25v1.25h-1.25zM336.0,356.0h1.25v1.25h-1.25zM348.0,345.0h1.25v1.25h-1.25zM347.6,365.4h1.25v1.25h-1.25zM344.2,360.9h1.25v1.25h-1.25zM342.1,352.6h1.25v1.25h-1.25zM347.9,362.1h1.25v1.25h-1.25zM343.8,353.4h1.25v1.25h-1.25zM347.5,359.0h1.25v1.25h-1.25zM353.0,347.9h1.25v1.25h-1.25zM345.8,356.9h1.25v1.25h-1.25zM351.5,365.5h1.25v1.25h-1.25zM348.0,354.1h1.25v1.25h-1.25zM341.6,347.3h1.25v1.25h-1.25zM349.5,337.5h1.25v1.25h-1.25zM347.2,340.4h1.25v1.25h-1.25zM340.2,349.3h1.25v1.25h-1.25zM346.6,353.4h1.25v1.25h-1.25zM354.4,358.7h1.25v1.25h-1.25zM350.0,357.2h1.25v1.25h-1.25zM348.4,350.2h1.25v1.25h-1.25zM343.4,356.4h1.25v1.25h-1.25zM345.1,354.3h1.25v1.25h-1.25zM347.6,356.2h1.25v1.25h-1.25zM341.6,351.6h1.25v1.25h-1.25zM338.1,361.5h1.25v1.25h-1.25zM352.4,349.6h1.25v1.25h-1.25zM340.0,335.1h1.25v1.25h-1.25zM338.2,361.0h1.25v1.25h-1.25zM335.3,375.8h1.25v1.25h-1.25zM354.0,365.0h1.25v1.25h-1.25zM345.2,362.0h1.25v1.25h-1.25zM341.5,358.1h1.25v1.25h-1.25zM340.8,361.6h1.25v1.25h-1.25zM350.0,352.4h1.25v1.25h-1.25zM342.9,346.8h1.25v1.25h-1.25zM339.3,356.9h1.25v1.25h-1.25zM348.0,363.5h1.25v1.25h-1.25zM344.1,343.7h1.25v1.25h-1.25zM341.8,349.5h1.25v1.25h-1.25zM342.2,355.9h1.25v1.25h-1.25zM342.9,362.6h1.25v1.25h-1.25zM346.1,362.4h1.25v1.25h-1.25zM343.6,361.7h1.25v1.25h-1.25zM339.6,351.8h1.25v1.25h-1.25zM350.4,358.8h1.25v1.25h-1.25zM353.3,370.2h1.25v1.25h-1.25zM344.7,357.0h1.25v1.25h-1.25zM345.7,357.9h1.25v1.25h-1.25zM351.1,365.5h1.25v1.25h-1.25zM341.6,349.1h1.25v1.25h-1.25zM348.1,365.1h1.25v1.25h-1.25zM350.9,352.7h1.25v1.25h-1.25zM343.9,352.2h1.25v1.25h-1.25zM335.8,352.5h1.25v1.25h-1.25zM340.5,362.1h1.25v1.25h-1.25zM341.5,351.1h1.25v1.25h-1.25zM345.8,360.5h1.25v1.25h-1.25zM337.6,356.0h1.25v1.25h-1.25zM338.4,355.1h1.25v1.25h-1.25zM347.5,357.1h1.25v1.25h-1.25zM355.2,353.8h1.25v1.25h-1.25zM348.7,358.6h1.25v1.25h-1.25zM344.7,356.2h1.25v1.25h-1.25zM351.5,361.7h1.25v1.25h-1.25zM349.4,344.7h1.25v1.25h-1.25zM350.5,358.4h1.25v1.25h-1.25zM340.0,359.1h1.25v1.25h-1.25zM353.2,345.3h1.25v1.25h-1.25zM339.0,357.6h1.25v1.25h-1.25zM344.1,357.8h1.25v1.25h-1.25zM333.2,342.4h1.25v1.25h-1.25zM345.5,342.9h1.25v1.25h-1.25zM344.3,354.8h1.25v1.25h-1.25zM348.6,356.8h1.25v1.25h-1.25zM342.4,339.4h1.25v1.25h-1.25zM339.0,349.4h1.25v1.25h-1.25zM344.5,351.0h1.25v1.25h-1.25zM338.4,353.7h1.25v1.25h-1.25zM354.7,350.4h1.25v1.25h-1.25zM336.7,348.0h1.25v1.25h-1.25zM348.5,356.8h1.25v1.25h-1.25zM340.6,359.0h1.25v1.25h-1.25zM342.6,362.9h1.25v1.25h-1.25zM341.7,346.8h1.25v1.25h-1.25zM348.8,353.8h1.25v1.25h-1.25zM345.9,359.7h1.25v1.25h-1.25zM346.6,361.9h1.25v1.25h-1.25zM339.6,362.4h1.25v1.25h-1.25zM347.9,342.8h1.25v1.25h-1.25zM343.0,344.8h1.25v1.25h-1.25zM343.1,354.5h1.25v1.25h-1.25zM351.7,350.9h1.25v1.25h-1.25zM347.7,335.6h1.25v1.25h-1.25zM347.5,372.2h1.25v1.25h-1.25zM348.9,354.5h1.25v1.25h-1.25zM341.3,369.3h1.25v1.25h-1.25zM344.7,355.8h1.25v1.25h-1.25zM346.7,359.1h1.25v1.25h-1.25zM344.0,360.1h1.25v1.25h-1.25zM342.4,355.7h1.25v1.25h-1.25zM344.3,350.1h1.25v1.25h-1.25zM339.8,354.5h1.25v1.25h-1.25zM346.1,366.8h1.25v1.25h-1.25zM349.6,344.1h1.25v1.25h-1.25zM347.3,349.1h1.25v1.25h-1.25zM346.7,354.7h1.25v1.25h-1.25zM342.9,356.6h1.25v1.25h-1.25zM355.2,354.3h1.25v1.25h-1.25zM344.0,338.2h1.25v1.25h-1.25zM340.9,358.8h1.25v1.25h-1.25zM354.6,343.7h1.25v1.25h-1.25zM355.0,351.2h1.25v1.25h-1.25zM346.3,359.0h1.25v1.25h-1.25zM348.9,358.2h1.25v1.25h-1.25zM348.5,363.6h1.25v1.25h-1.25zM346.5,356.0h1.25v1.25h-1.25zM350.5,364.7h1.25v1.25h-1.25zM341.7,347.8h1.25v1.25h-1.25zM342.8,357.8h1.25v1.25h-1.25zM340.7,352.7h1.25v1.25h-1.25zM347.3,352.8h1.25v1.25h-1.25zM346.3,362.4h1.25v1.25h-1.25zM346.8,370.6h1.25v1.25h-1.25zM343.5,359.0h1.25v1.25h-1.25zM342.5,333.9h1.25v1.25h-1.25zM354.7,355.4h1.25v1.25h-1.25zM353.4,343.7h1.25v1.25h-1.25zM348.7,352.8h1.25v1.25h-1.25zM344.1,335.9h1.25v1.25h-1.25zM348.5,352.1h1.25v1.25h-1.25zM340.2,356.3h1.25v1.25h-1.25zM349.5,361.7h1.25v1.25h-1.25zM350.8,359.0h1.25v1.25h-1.25zM346.3,363.2h1.25v1.25h-1.25zM337.9,345.5h1.25v1.25h-1.25zM349.9,364.7h1.25v1.25h-1.25zM343.5,356.0h1.25v1.25h-1.25zM345.6,355.2h1.25v1.25h-1.25zM341.9,352.8h1.25v1.25h-1.25zM348.3,371.1h1.25v1.25h-1.25zM338.9,351.1h1.25v1.25h-1.25zM348.3,349.2h1.25v1.25h-1.25zM345.1,360.8h1.25v1.25h-1.25zM344.1,355.5h1.25v1.25h-1.25zM350.8,346.1h1.25v1.25h-1.25zM357.5,356.5h1.25v1.25h-1.25zM344.2,349.4h1.25v1.25h-1.25zM345.0,361.7h1.25v1.25h-1.25zM339.9,345.1h1.25v1.25h-1.25zM347.2,355.6h1.25v1.25h-1.25zM350.2,353.8h1.25v1.25h-1.25zM347.8,362.3h1.25v1.25h-1.25zM344.3,355.3h1.25v1.25h-1.25zM350.3,358.7h1.25v1.25h-1.25zM347.7,355.2h1.25v1.25h-1.25zM338.6,353.3h1.25v1.25h-1.25zM348.3,347.1h1.25v1.25h-1.25zM353.4,357.5h1.25v1.25h-1.25zM349.6,355.0h1.25v1.25h-1.25zM351.3,364.4h1.25v1.25h-1.25zM344.1,350.5h1.25v1.25h-1.25zM340.9,356.5h1.25v1.25h-1.25zM350.7,358.0h1.25v1.25h-1.25zM354.4,350.4h1.25v1.25h-1.25zM344.3,352.9h1.25v1.25h-1.25zM342.0,353.6h1.25v1.25h-1.25zM345.9,358.1h1.25v1.25h-1.25zM349.7,367.1h1.25v1.25h-1.25zM344.9,359.1h1.25v1.25h-1.25zM343.9,344.5h1.25v1.25h-1.25zM349.3,348.2h1.25v1.25h-1.25zM353.4,353.9h1.25v1.25h-1.25zM350.0,360.1h1.25v1.25h-1.25zM346.7,356.6h1.25v1.25h-1.25zM350.4,359.4h1.25v1.25h-1.25zM347.3,349.4h1.25v1.25h-1.25zM347.2,374.7h1.25v1.25h-1.25zM342.0,353.4h1.25v1.25h-1.25zM350.0,343.6h1.25v1.25h-1.25zM347.0,355.3h1.25v1.25h-1.25zM358.9,367.5h1.25v1.25h-1.25zM349.8,347.8h1.25v1.25h-1.25zM347.9,359.5h1.25v1.25h-1.25zM345.8,358.6h1.25v1.25h-1.25zM349.7,366.6h1.25v1.25h-1.25zM351.7,357.0h1.25v1.25h-1.25zM348.4,361.5h1.25v1.25h-1.25zM354.1,356.6h1.25v1.25h-1.25zM345.5,358.9h1.25v1.25h-1.25zM343.2,348.8h1.25v1.25h-1.25zM345.2,347.1h1.25v1.25h-1.25zM336.0,358.0h1.25v1.25h-1.25zM348.6,354.8h1.25v1.25h-1.25zM341.1,356.7h1.25v1.25h-1.25zM343.2,364.9h1.25v1.25h-1.25zM339.4,346.4h1.25v1.25h-1.25zM350.2,354.4h1.25v1.25h-1.25zM347.4,363.6h1.25v1.25h-1.25zM341.4,346.4h1.25v1.25h-1.25zM343.9,348.4h1.25v1.25h-1.25zM344.6,341.7h1.25v1.25h-1.25zM345.3,359.9h1.25v1.25h-1.25zM341.4,358.9h1.25v1.25h-1.25zM341.3,344.4h1.25v1.25h-1.25zM351.3,363.1h1.25v1.25h-1.25zM350.8,351.0h1.25v1.25h-1.25zM352.4,351.8h1.25v1.25h-1.25zM343.8,358.8h1.25v1.25h-1.25zM342.5,361.3h1.25v1.25h-1.25zM337.9,348.7h1.25v1.25h-1.25zM345.5,357.0h1.25v1.25h-1.25zM343.5,354.6h1.25v1.25h-1.25zM344.6,366.0h1.25v1.25h-1.25zM350.8,349.0h1.25v1.25h-1.25zM348.2,365.5h1.25v1.25h-1.25zM341.3,342.3h1.25v1.25h-1.25zM346.1,359.6h1.25v1.25h-1.25zM340.3,367.3h1.25v1.25h-1.25zM343.1,360.4h1.25v1.25h-1.25zM346.2,364.9h1.25v1.25h-1.25zM343.3,363.0h1.25v1.25h-1.25zM339.1,345.0h1.25v1.25h-1.25zM340.2,351.0h1.25v1.25h-1.25zM352.8,363.3h1.25v1.25h-1.25zM340.8,357.6h1.25v1.25h-1.25zM342.2,354.5h1.25v1.25h-1.25zM348.2,365.7h1.25v1.25h-1.25zM344.0,358.9h1.25v1.25h-1.25zM340.2,340.3h1.25v1.25h-1.25zM346.4,346.5h1.25v1.25h-1.25zM341.8,356.1h1.25v1.25h-1.25zM352.6,351.3h1.25v1.25h-1.25zM340.4,348.3h1.25v1.25h-1.25zM342.0,353.6h1.25v1.25h-1.25zM347.7,351.5h1.25v1.25h-1.25zM338.5,368.9h1.25v1.25h-1.25zM345.7,354.8h1.25v1.25h-1.25zM344.5,354.5h1.25v1.25h-1.25zM350.0,351.9h1.25v1.25h-1.25zM344.5,351.6h1.25v1.25h-1.25zM346.0,354.9h1.25v1.25h-1.25zM350.1,353.2h1.25v1.25h-1.25zM346.3,354.8h1.25v1.25h-1.25zM340.7,355.1h1.25v1.25h-1.25zM339.9,349.3h1.25v1.25h-1.25zM342.3,356.8h1.25v1.25h-1.25zM345.8,346.9h1.25v1.25h-1.25zM337.6,359.8h1.25v1.25h-1.25zM347.0,367.6h1.25v1.25h-1.25zM350.5,353.7h1.25v1.25h-1.25zM342.7,355.8h1.25v1.25h-1.25zM342.2,372.0h1.25v1.25h-1.25zM349.4,353.8h1.25v1.25h-1.25zM344.2,347.0h1.25v1.25h-1.25zM357.2,356.7h1.25v1.25h-1.25zM344.6,348.3h1.25v1.25h-1.25zM346.4,359.9h1.25v1.25h-1.25zM346.5,345.8h1.25v1.25h-1.25zM347.7,355.6h1.25v1.25h-1.25zM351.2,363.0h1.25v1.25h-1.25zM347.3,357.9h1.25v1.25h-1.25zM344.0,346.8h1.25v1.25h-1.25zM343.8,356.9h1.25v1.25h-1.25zM341.7,356.1h1.25v1.25h-1.25zM356.9,365.4h1.25v1.25h-1.25zM347.1,351.9h1.25v1.25h-1.25zM351.3,352.6h1.25v1.25h-1.25zM346.2,358.2h1.25v1.25h-1.25zM345.9,353.3h1.25v1.25h-1.25zM347.9,347.2h1.25v1.25h-1.25zM347.5,349.4h1.25v1.25h-1.25zM350.8,355.4h1.25v1.25h-1.25zM350.3,354.4h1.25v1.25h-1.25zM347.6,347.8h1.25v1.25h-1.25zM346.2,353.2h1.25v1.25h-1.25zM350.0,355.1h1.25v1.25h-1.25zM345.4,339.7h1.25v1.25h-1.25zM350.0,343.2h1.25v1.25h-1.25zM339.2,340.7h1.25v1.25h-1.25zM351.9,341.6h1.25v1.25h-1.25zM345.0,345.3h1.25v1.25h-1.25zM336.6,351.9h1.25v1.25h-1.25zM348.4,352.1h1.25v1.25h-1.25zM349.8,353.1h1.25v1.25h-1.25zM345.2,352.3h1.25v1.25h-1.25zM346.8,351.9h1.25v1.25h-1.25zM348.7,369.0h1.25v1.25h-1.25zM342.7,356.8h1.25v1.25h-1.25zM351.8,348.6h1.25v1.25h-1.25zM340.3,347.1h1.25v1.25h-1.25zM343.4,354.5h1.25v1.25h-1.25zM335.9,370.8h1.25v1.25h-1.25zM349.2,357.3h1.25v1.25h-1.25zM341.6,346.9h1.25v1.25h-1.25zM353.6,357.4h1.25v1.25h-1.25zM337.3,348.9h1.25v1.25h-1.25zM353.5,361.5h1.25v1.25h-1.25zM334.8,353.6h1.25v1.25h-1.25zM345.7,366.0h1.25v1.25h-1.25zM346.2,363.4h1.25v1.25h-1.25zM343.1,352.4h1.25v1.25h-1.25zM353.5,365.3h1.25v1.25h-1.25zM339.4,339.5h1.25v1.25h-1.25zM345.2,368.5h1.25v1.25h-1.25zM344.4,344.8h1.25v1.25h-1.25zM345.0,354.2h1.25v1.25h-1.25zM343.6,351.6h1.25v1.25h-1.25zM346.7,351.4h1.25v1.25h-1.25zM343.5,349.1h1.25v1.25h-1.25zM351.6,353.3h1.25v1.25h-1.25zM345.3,357.8h1.25v1.25h-1.25zM347.9,358.8h1.25v1.25h-1.25zM348.8,362.9h1.25v1.25h-1.25zM353.3,367.7h1.25v1.25h-1.25zM343.5,354.9h1.25v1.25h-1.25zM348.7,361.3h1.25v1.25h-1.25zM338.4,355.0h1.25v1.25h-1.25zM345.7,341.1h1.25v1.25h-1.25zM349.9,360.4h1.25v1.25h-1.25zM349.4,344.8h1.25v1.25h-1.25zM346.9,350.8h1.25v1.25h-1.25zM342.0,358.5h1.25v1.25h-1.25zM335.2,351.6h1.25v1.25h-1.25zM336.2,349.1h1.25v1.25h-1.25zM346.1,358.2h1.25v1.25h-1.25zM347.9,361.7h1.25v1.25h-1.25zM346.6,350.1h1.25v1.25h-1.25zM348.1,351.8h1.25v1.25h-1.25zM341.1,357.9h1.25v1.25h-1.25zM345.8,355.0h1.25v1.25h-1.25zM349.5,352.2h1.25v1.25h-1.25zM345.1,368.0h1.25v1.25h-1.25zM334.6,353.5h1.25v1.25h-1.25zM343.3,354.3h1.25v1.25h-1.25zM345.1,338.7h1.25v1.25h-1.25zM342.5,359.8h1.25v1.25h-1.25zM340.6,352.7h1.25v1.25h-1.25zM338.9,361.5h1.25v1.25h-1.25zM354.5,351.7h1.25v1.25h-1.25zM347.8,355.1h1.25v1.25h-1.25zM339.8,354.5h1.25v1.25h-1.25zM347.4,354.5h1.25v1.25h-1.25zM346.3,347.2h1.25v1.25h-1.25zM351.6,363.8h1.25v1.25h-1.25zM339.6,343.7h1.25v1.25h-1.25zM349.3,342.4h1.25v1.25h-1.25zM349.3,359.2h1.25v1.25h-1.25zM339.3,349.0h1.25v1.25h-1.25zM346.0,355.5h1.25v1.25h-1.25zM345.5,348.5h1.25v1.25h-1.25zM347.1,359.7h1.25v1.25h-1.25zM334.7,348.3h1.25v1.25h-1.25zM346.1,353.0h1.25v1.25h-1.25zM343.3,353.3h1.25v1.25h-1.25zM348.3,349.5h1.25v1.25h-1.25zM346.0,354.5h1.25v1.25h-1.25zM341.8,348.0h1.25v1.25h-1.25zM340.9,356.7h1.25v1.25h-1.25zM342.9,345.7h1.25v1.25h-1.25zM347.4,363.9h1.25v1.25h-1.25zM346.0,366.0h1.25v1.25h-1.25zM338.7,353.4h1.25v1.25h-1.25zM351.8,350.0h1.25v1.25h-1.25zM349.2,357.1h1.25v1.25h-1.25zM346.0,360.3h1.25v1.25h-1.25zM345.9,353.4h1.25v1.25h-1.25zM348.2,359.8h1.25v1.25h-1.25zM346.6,358.6h1.25v1.25h-1.25zM343.6,349.4h1.25v1.25h-1.25zM349.5,347.4h1.25v1.25h-1.25zM342.8,339.4h1.25v1.25h-1.25zM345.8,373.0h1.25v1.25h-1.25zM344.5,346.5h1.25v1.25h-1.25zM345.8,364.7h1.25v1.25h-1.25zM346.5,359.5h1.25v1.25h-1.25zM360.1,350.6h1.25v1.25h-1.25zM343.0,355.8h1.25v1.25h-1.25zM346.9,351.1h1.25v1.25h-1.25zM349.5,357.7h1.25v1.25h-1.25zM338.8,356.8h1.25v1.25h-1.25zM344.5,359.1h1.25v1.25h-1.25zM338.3,353.6h1.25v1.25h-1.25zM341.6,351.1h1.25v1.25h-1.25zM338.6,355.5h1.25v1.25h-1.25zM346.1,355.3h1.25v1.25h-1.25zM341.6,346.9h1.25v1.25h-1.25zM349.1,348.1h1.25v1.25h-1.25zM341.8,336.3h1.25v1.25h-1.25zM342.1,342.8h1.25v1.25h-1.25zM343.2,361.7h1.25v1.25h-1.25zM341.6,356.5h1.25v1.25h-1.25zM351.4,369.0h1.25v1.25h-1.25zM340.1,364.1h1.25v1.25h-1.25zM349.7,346.2h1.25v1.25h-1.25zM344.1,353.7h1.25v1.25h-1.25zM339.8,358.1h1.25v1.25h-1.25zM346.2,360.8h1.25v1.25h-1.25zM342.7,358.9h1.25v1.25h-1.25zM342.6,359.2h1.25v1.25h-1.25zM351.6,361.6h1.25v1.25h-1.25zM348.7,361.6h1.25v1.25h-1.25zM333.2,361.1h1.25v1.25h-1.25zM344.9,361.4h1.25v1.25h-1.25zM344.2,355.9h1.25v1.25h-1.25zM341.8,344.9h1.25v1.25h-1.25zM352.7,359.2h1.25v1.25h-1.25zM340.7,350.8h1.25v1.25h-1.25zM342.5,366.3h1.25v1.25h-1.25zM347.4,370.5h1.25v1.25h-1.25zM349.5,347.9h1.25v1.25h-1.25zM340.1,368.4h1.25v1.25h-1.25zM345.4,366.8h1.25v1.25h-1.25zM344.9,366.3h1.25v1.25h-1.25zM346.6,342.9h1.25v1.25h-1.25zM356.2,360.9h1.25v1.25h-1.25zM350.2,367.5h1.25v1.25h-1.25zM342.8,353.5h1.25v1.25h-1.25zM341.3,353.2h1.25v1.25h-1.25zM333.2,354.2h1.25v1.25h-1.25zM345.5,356.4h1.25v1.25h-1.25zM351.1,373.8h1.25v1.25h-1.25zM347.8,351.1h1.25v1.25h-1.25zM341.7,346.1h1.25v1.25h-1.25zM350.8,340.3h1.25v1.25h-1.25zM340.4,360.0h1.25v1.25h-1.25zM349.9,354.1h1.25v1.25h-1.25zM347.7,358.5h1.25v1.25h-1.25zM341.8,348.9h1.25v1.25h-1.25zM349.9,355.2h1.25v1.25h-1.25zM339.5,349.4h1.25v1.25h-1.25zM342.0,364.0h1.25v1.25h-1.25zM347.5,362.9h1.25v1.25h-1.25zM354.5,360.7h1.25v1.25h-1.25zM349.7,359.8h1.25v1.25h-1.25zM341.5,348.5h1.25v1.25h-1.25zM353.3,359.0h1.25v1.25h-1.25zM357.6,364.2h1.25v1.25h-1.25zM346.7,357.2h1.25v1.25h-1.25zM346.4,362.5h1.25v1.25h-1.25zM340.5,355.1h1.25v1.25h-1.25zM341.2,363.0h1.25v1.25h-1.25zM339.2,359.6h1.25v1.25h-1.25zM341.5,363.7h1.25v1.25h-1.25zM338.7,362.1h1.25v1.25h-1.25zM350.7,351.1h1.25v1.25h-1.25zM345.2,348.9h1.25v1.25h-1.25zM334.2,352.6h1.25v1.25h-1.25zM347.8,357.1h1.25v1.25h-1.25zM347.3,346.4h1.25v1.25h-1.25zM340.1,349.6h1.25v1.25h-1.25zM342.3,355.4h1.25v1.25h-1.25zM340.0,372.9h1.25v1.25h-1.25zM350.8,360.0h1.25v1.25h-1.25zM335.7,341.1h1.25v1.25h-1.25zM343.7,359.5h1.25v1.25h-1.25zM351.2,357.3h1.25v1.25h-1.25zM340.2,352.8h1.25v1.25h-1.25zM344.3,334.5h1.25v1.25h-1.25zM346.2,347.9h1.25v1.25h-1.25zM339.1,357.4h1.25v1.25h-1.25zM352.0,367.4h1.25v1.25h-1.25zM340.6,361.9h1.25v1.25h-1.25zM342.6,352.2h1.25v1.25h-1.25zM339.8,352.5h1.25v1.25h-1.25zM346.9,358.1h1.25v1.25h-1.25zM343.4,358.0h1.25v1.25h-1.25zM347.4,364.6h1.25v1.25h-1.25zM340.3,334.8h1.25v1.25h-1.25zM350.0,354.1h1.25v1.25h-1.25zM344.1,352.9h1.25v1.25h-1.25zM348.1,349.7h1.25v1.25h-1.25zM342.3,352.0h1.25v1.25h-1.25zM347.5,349.2h1.25v1.25h-1.25zM337.1,351.9h1.25v1.25h-1.25zM342.7,360.0h1.25v1.25h-1.25zM347.6,357.5h1.25v1.25h-1.25zM351.4,363.5h1.25v1.25h-1.25zM344.3,350.8h1.25v1.25h-1.25zM352.4,344.5h1.25v1.25h-1.25zM349.7,368.6h1.25v1.25h-1.25zM330.7,364.1h1.25v1.25h-1.25zM342.5,375.2h1.25v1.25h-1.25zM342.3,366.8h1.25v1.25h-1.25zM344.9,369.9h1.25v1.25h-1.25zM348.0,356.5h1.25v1.25h-1.25zM339.4,362.8h1.25v1.25h-1.25zM347.1,376.4h1.25v1.25h-1.25zM331.8,364.0h1.25v1.25h-1.25zM345.0,367.0h1.25v1.25h-1.25zM335.1,365.5h1.25v1.25h-1.25zM335.1,361.3h1.25v1.25h-1.25zM346.5,367.3h1.25v1.25h-1.25zM338.0,372.2h1.25v1.25h-1.25zM345.0,367.4h1.25v1.25h-1.25zM341.2,362.9h1.25v1.25h-1.25zM339.6,371.3h1.25v1.25h-1.25zM332.6,366.3h1.25v1.25h-1.25zM348.6,365.8h1.25v1.25h-1.25zM342.3,370.1h1.25v1.25h-1.25zM341.1,362.4h1.25v1.25h-1.25zM337.7,369.7h1.25v1.25h-1.25zM336.6,371.6h1.25v1.25h-1.25zM336.4,355.3h1.25v1.25h-1.25zM334.5,356.0h1.25v1.25h-1.25zM340.9,372.8h1.25v1.25h-1.25zM348.4,367.3h1.25v1.25h-1.25zM339.2,373.6h1.25v1.25h-1.25zM344.1,374.0h1.25v1.25h-1.25zM344.4,366.0h1.25v1.25h-1.25zM337.7,357.4h1.25v1.25h-1.25zM345.4,365.4h1.25v1.25h-1.25zM341.3,363.8h1.25v1.25h-1.25zM349.8,371.8h1.25v1.25h-1.25zM349.0,370.6h1.25v1.25h-1.25zM340.3,363.6h1.25v1.25h-1.25zM340.3,367.9h1.25v1.25h-1.25zM351.1,363.0h1.25v1.25h-1.25zM336.7,364.8h1.25v1.25h-1.25zM352.1,368.9h1.25v1.25h-1.25zM348.8,366.5h1.25v1.25h-1.25zM339.3,363.4h1.25v1.25h-1.25zM341.2,361.9h1.25v1.25h-1.25zM335.6,377.0h1.25v1.25h-1.25zM336.5,375.8h1.25v1.25h-1.25zM346.6,364.6h1.25v1.25h-1.25zM343.6,369.8h1.25v1.25h-1.25zM344.0,356.1h1.25v1.25h-1.25zM356.1,359.9h1.25v1.25h-1.25zM343.0,364.7h1.25v1.25h-1.25zM339.4,359.1h1.25v1.25h-1.25zM347.4,358.3h1.25v1.25h-1.25zM345.1,364.4h1.25v1.25h-1.25zM339.2,361.9h1.25v1.25h-1.25zM336.7,373.7h1.25v1.25h-1.25zM344.2,355.2h1.25v1.25h-1.25zM339.6,359.2h1.25v1.25h-1.25zM337.5,371.5h1.25v1.25h-1.25zM338.3,371.3h1.25v1.25h-1.25zM349.3,374.9h1.25v1.25h-1.25zM340.8,363.2h1.25v1.25h-1.25zM343.1,361.0h1.25v1.25h-1.25zM334.0,372.9h1.25v1.25h-1.25zM334.7,371.5h1.25v1.25h-1.25zM332.2,360.8h1.25v1.25h-1.25zM338.3,367.5h1.25v1.25h-1.25zM330.4,372.4h1.25v1.25h-1.25zM354.1,366.2h1.25v1.25h-1.25zM342.1,363.7h1.25v1.25h-1.25zM337.5,370.0h1.25v1.25h-1.25zM347.3,366.1h1.25v1.25h-1.25zM344.0,367.2h1.25v1.25h-1.25zM343.7,363.9h1.25v1.25h-1.25zM350.0,366.3h1.25v1.25h-1.25zM340.7,370.3h1.25v1.25h-1.25zM345.9,351.3h1.25v1.25h-1.25zM337.0,370.5h1.25v1.25h-1.25zM335.7,354.0h1.25v1.25h-1.25zM336.1,371.6h1.25v1.25h-1.25zM343.2,363.2h1.25v1.25h-1.25zM341.9,373.3h1.25v1.25h-1.25zM339.0,365.4h1.25v1.25h-1.25zM347.9,375.8h1.25v1.25h-1.25zM334.3,365.4h1.25v1.25h-1.25zM345.2,361.3h1.25v1.25h-1.25zM346.9,361.7h1.25v1.25h-1.25zM343.6,368.2h1.25v1.25h-1.25zM344.7,369.9h1.25v1.25h-1.25zM340.2,360.9h1.25v1.25h-1.25zM347.9,363.2h1.25v1.25h-1.25zM337.5,365.0h1.25v1.25h-1.25zM344.9,358.1h1.25v1.25h-1.25zM349.7,372.1h1.25v1.25h-1.25zM347.7,366.3h1.25v1.25h-1.25zM342.9,359.8h1.25v1.25h-1.25zM343.0,361.9h1.25v1.25h-1.25zM347.9,370.5h1.25v1.25h-1.25zM349.0,360.1h1.25v1.25h-1.25zM336.4,363.2h1.25v1.25h-1.25zM334.0,365.0h1.25v1.25h-1.25zM343.6,366.0h1.25v1.25h-1.25zM344.9,364.8h1.25v1.25h-1.25zM342.0,364.1h1.25v1.25h-1.25zM342.2,357.4h1.25v1.25h-1.25zM339.5,360.9h1.25v1.25h-1.25zM343.1,365.4h1.25v1.25h-1.25zM333.4,356.1h1.25v1.25h-1.25zM344.6,364.2h1.25v1.25h-1.25zM346.9,368.2h1.25v1.25h-1.25zM344.7,373.8h1.25v1.25h-1.25zM336.3,365.9h1.25v1.25h-1.25zM339.4,360.3h1.25v1.25h-1.25zM343.2,367.6h1.25v1.25h-1.25zM341.2,366.0h1.25v1.25h-1.25zM343.1,369.8h1.25v1.25h-1.25zM343.7,367.8h1.25v1.25h-1.25zM336.3,362.7h1.25v1.25h-1.25zM344.3,368.9h1.25v1.25h-1.25zM339.7,364.7h1.25v1.25h-1.25zM343.5,364.7h1.25v1.25h-1.25zM342.6,359.1h1.25v1.25h-1.25zM347.1,376.8h1.25v1.25h-1.25zM345.3,369.8h1.25v1.25h-1.25zM347.3,366.7h1.25v1.25h-1.25zM339.7,365.1h1.25v1.25h-1.25zM347.0,366.6h1.25v1.25h-1.25zM345.7,368.0h1.25v1.25h-1.25zM348.6,353.9h1.25v1.25h-1.25zM337.3,364.1h1.25v1.25h-1.25zM336.6,367.7h1.25v1.25h-1.25zM339.1,370.4h1.25v1.25h-1.25zM349.5,371.8h1.25v1.25h-1.25zM343.6,353.8h1.25v1.25h-1.25zM334.2,361.8h1.25v1.25h-1.25zM340.8,362.3h1.25v1.25h-1.25zM333.6,372.2h1.25v1.25h-1.25zM353.1,372.3h1.25v1.25h-1.25zM345.0,369.6h1.25v1.25h-1.25zM335.5,365.9h1.25v1.25h-1.25zM344.1,369.2h1.25v1.25h-1.25zM356.1,370.4h1.25v1.25h-1.25zM344.3,370.4h1.25v1.25h-1.25zM334.6,375.4h1.25v1.25h-1.25zM339.9,359.1h1.25v1.25h-1.25zM345.8,362.1h1.25v1.25h-1.25zM351.6,364.1h1.25v1.25h-1.25zM346.2,375.1h1.25v1.25h-1.25zM345.4,363.7h1.25v1.25h-1.25zM336.1,370.9h1.25v1.25h-1.25zM345.9,368.1h1.25v1.25h-1.25zM350.6,367.3h1.25v1.25h-1.25zM337.5,373.3h1.25v1.25h-1.25zM337.4,366.7h1.25v1.25h-1.25zM337.2,369.5h1.25v1.25h-1.25zM344.1,371.5h1.25v1.25h-1.25zM341.2,371.8h1.25v1.25h-1.25zM351.7,357.3h1.25v1.25h-1.25zM349.6,365.0h1.25v1.25h-1.25zM345.7,368.6h1.25v1.25h-1.25zM343.9,377.0h1.25v1.25h-1.25zM333.8,374.4h1.25v1.25h-1.25zM340.7,371.2h1.25v1.25h-1.25zM342.0,365.2h1.25v1.25h-1.25zM351.1,368.1h1.25v1.25h-1.25zM342.2,354.9h1.25v1.25h-1.25zM348.4,361.7h1.25v1.25h-1.25zM344.5,363.5h1.25v1.25h-1.25zM345.7,363.6h1.25v1.25h-1.25zM339.8,372.1h1.25v1.25h-1.25zM334.2,366.3h1.25v1.25h-1.25zM346.7,367.8h1.25v1.25h-1.25zM348.2,362.7h1.25v1.25h-1.25zM331.8,353.6h1.25v1.25h-1.25zM339.3,357.7h1.25v1.25h-1.25zM341.6,366.1h1.25v1.25h-1.25zM346.0,365.6h1.25v1.25h-1.25zM335.1,363.2h1.25v1.25h-1.25zM353.6,358.5h1.25v1.25h-1.25zM341.0,351.9h1.25v1.25h-1.25zM344.7,374.7h1.25v1.25h-1.25zM342.0,361.0h1.25v1.25h-1.25zM348.6,371.2h1.25v1.25h-1.25zM346.2,360.6h1.25v1.25h-1.25zM348.1,367.5h1.25v1.25h-1.25zM340.1,374.3h1.25v1.25h-1.25zM344.2,357.3h1.25v1.25h-1.25zM345.8,376.7h1.25v1.25h-1.25zM355.2,367.4h1.25v1.25h-1.25zM347.0,359.8h1.25v1.25h-1.25zM342.3,362.6h1.25v1.25h-1.25zM350.3,366.5h1.25v1.25h-1.25zM339.1,360.4h1.25v1.25h-1.25zM344.7,356.4h1.25v1.25h-1.25zM344.3,363.3h1.25v1.25h-1.25zM340.0,359.6h1.25v1.25h-1.25zM341.0,372.2h1.25v1.25h-1.25zM344.9,369.8h1.25v1.25h-1.25zM333.4,363.9h1.25v1.25h-1.25zM342.9,371.9h1.25v1.25h-1.25zM330.9,371.9h1.25v1.25h-1.25zM330.2,356.1h1.25v1.25h-1.25zM347.7,360.7h1.25v1.25h-1.25zM341.8,369.4h1.25v1.25h-1.25zM346.2,366.8h1.25v1.25h-1.25zM344.2,364.2h1.25v1.25h-1.25zM330.0,366.8h1.25v1.25h-1.25zM349.5,363.7h1.25v1.25h-1.25zM341.2,363.6h1.25v1.25h-1.25zM339.3,362.4h1.25v1.25h-1.25zM340.5,372.7h1.25v1.25h-1.25zM324.9,359.9h1.25v1.25h-1.25zM331.2,362.6h1.25v1.25h-1.25zM346.4,355.1h1.25v1.25h-1.25zM331.5,370.3h1.25v1.25h-1.25zM344.5,371.1h1.25v1.25h-1.25zM346.0,361.3h1.25v1.25h-1.25zM335.4,356.2h1.25v1.25h-1.25zM335.9,357.4h1.25v1.25h-1.25zM334.7,371.3h1.25v1.25h-1.25zM336.8,359.1h1.25v1.25h-1.25zM340.1,367.2h1.25v1.25h-1.25zM338.1,371.2h1.25v1.25h-1.25zM339.2,358.3h1.25v1.25h-1.25zM336.9,366.2h1.25v1.25h-1.25zM352.0,367.6h1.25v1.25h-1.25zM342.2,362.5h1.25v1.25h-1.25zM338.4,374.1h1.25v1.25h-1.25zM335.9,360.9h1.25v1.25h-1.25zM344.8,368.3h1.25v1.25h-1.25zM342.1,365.0h1.25v1.25h-1.25zM346.7,373.5h1.25v1.25h-1.25zM341.8,357.5h1.25v1.25h-1.25zM345.8,366.5h1.25v1.25h-1.25zM338.3,364.5h1.25v1.25h-1.25zM332.1,363.1h1.25v1.25h-1.25zM338.6,365.7h1.25v1.25h-1.25zM336.2,368.6h1.25v1.25h-1.25zM336.4,363.2h1.25v1.25h-1.25zM345.7,359.4h1.25v1.25h-1.25zM344.3,363.0h1.25v1.25h-1.25zM342.3,359.1h1.25v1.25h-1.25zM339.2,355.6h1.25v1.25h-1.25zM345.0,362.8h1.25v1.25h-1.25zM340.8,366.8h1.25v1.25h-1.25zM342.8,370.8h1.25v1.25h-1.25zM346.0,369.0h1.25v1.25h-1.25zM340.2,365.3h1.25v1.25h-1.25zM339.5,367.7h1.25v1.25h-1.25zM347.8,368.1h1.25v1.25h-1.25zM339.7,370.9h1.25v1.25h-1.25zM341.4,358.0h1.25v1.25h-1.25zM347.8,365.0h1.25v1.25h-1.25zM340.6,363.4h1.25v1.25h-1.25zM339.1,370.1h1.25v1.25h-1.25zM351.2,364.8h1.25v1.25h-1.25zM345.2,374.6h1.25v1.25h-1.25zM336.4,367.3h1.25v1.25h-1.25zM342.1,369.1h1.25v1.25h-1.25zM338.9,367.0h1.25v1.25h-1.25zM340.7,365.6h1.25v1.25h-1.25zM349.6,367.6h1.25v1.25h-1.25zM332.6,367.9h1.25v1.25h-1.25zM333.0,359.9h1.25v1.25h-1.25zM344.8,361.0h1.25v1.25h-1.25zM338.4,368.1h1.25v1.25h-1.25zM337.6,367.3h1.25v1.25h-1.25zM334.0,357.2h1.25v1.25h-1.25zM349.5,360.6h1.25v1.25h-1.25zM348.6,357.7h1.25v1.25h-1.25zM340.7,373.7h1.25v1.25h-1.25zM338.4,365.4h1.25v1.25h-1.25zM345.3,365.6h1.25v1.25h-1.25zM347.2,365.8h1.25v1.25h-1.25zM343.6,372.8h1.25v1.25h-1.25zM341.4,367.7h1.25v1.25h-1.25zM335.6,367.8h1.25v1.25h-1.25zM342.8,368.1h1.25v1.25h-1.25zM353.5,360.5h1.25v1.25h-1.25zM336.9,359.9h1.25v1.25h-1.25zM331.1,367.4h1.25v1.25h-1.25zM333.3,360.9h1.25v1.25h-1.25zM341.0,359.9h1.25v1.25h-1.25zM347.8,367.6h1.25v1.25h-1.25zM348.2,370.5h1.25v1.25h-1.25zM339.1,369.2h1.25v1.25h-1.25zM339.0,372.4h1.25v1.25h-1.25zM350.1,362.0h1.25v1.25h-1.25zM342.9,370.4h1.25v1.25h-1.25zM346.5,370.2h1.25v1.25h-1.25zM341.2,357.5h1.25v1.25h-1.25zM342.4,358.6h1.25v1.25h-1.25zM349.2,361.6h1.25v1.25h-1.25zM337.2,368.8h1.25v1.25h-1.25zM335.0,365.6h1.25v1.25h-1.25zM344.7,365.9h1.25v1.25h-1.25zM331.1,367.2h1.25v1.25h-1.25zM344.5,363.7h1.25v1.25h-1.25zM348.1,367.5h1.25v1.25h-1.25zM344.6,358.0h1.25v1.25h-1.25zM342.8,361.8h1.25v1.25h-1.25zM345.5,368.1h1.25v1.25h-1.25zM342.7,362.2h1.25v1.25h-1.25zM333.9,358.7h1.25v1.25h-1.25zM341.4,369.0h1.25v1.25h-1.25zM337.0,355.9h1.25v1.25h-1.25zM350.2,365.8h1.25v1.25h-1.25zM346.1,371.9h1.25v1.25h-1.25zM341.1,354.9h1.25v1.25h-1.25zM343.8,368.5h1.25v1.25h-1.25zM340.4,368.1h1.25v1.25h-1.25zM349.8,376.2h1.25v1.25h-1.25zM336.3,365.1h1.25v1.25h-1.25zM338.6,378.0h1.25v1.25h-1.25zM352.2,372.8h1.25v1.25h-1.25zM343.3,360.0h1.25v1.25h-1.25zM344.5,363.6h1.25v1.25h-1.25zM352.4,367.6h1.25v1.25h-1.25zM341.6,369.2h1.25v1.25h-1.25zM340.2,372.4h1.25v1.25h-1.25zM354.0,363.5h1.25v1.25h-1.25zM339.0,360.7h1.25v1.25h-1.25zM335.9,365.9h1.25v1.25h-1.25zM347.5,353.0h1.25v1.25h-1.25zM338.7,360.9h1.25v1.25h-1.25zM336.3,363.4h1.25v1.25h-1.25zM342.6,359.2h1.25v1.25h-1.25zM333.4,370.1h1.25v1.25h-1.25zM335.2,365.5h1.25v1.25h-1.25zM340.4,370.3h1.25v1.25h-1.25zM341.2,365.9h1.25v1.25h-1.25zM333.3,362.1h1.25v1.25h-1.25zM334.1,369.1h1.25v1.25h-1.25zM340.0,358.6h1.25v1.25h-1.25zM343.1,361.4h1.25v1.25h-1.25zM343.0,371.7h1.25v1.25h-1.25zM341.8,366.8h1.25v1.25h-1.25zM331.5,370.8h1.25v1.25h-1.25zM336.5,367.8h1.25v1.25h-1.25zM341.7,358.2h1.25v1.25h-1.25zM344.9,363.3h1.25v1.25h-1.25zM328.9,372.3h1.25v1.25h-1.25zM352.4,365.2h1.25v1.25h-1.25zM349.6,370.9h1.25v1.25h-1.25zM333.8,366.3h1.25v1.25h-1.25zM345.6,358.9h1.25v1.25h-1.25zM337.7,371.4h1.25v1.25h-1.25zM343.1,364.0h1.25v1.25h-1.25zM339.8,355.1h1.25v1.25h-1.25zM353.7,375.4h1.25v1.25h-1.25zM351.7,365.0h1.25v1.25h-1.25zM337.2,362.5h1.25v1.25h-1.25zM346.9,352.2h1.25v1.25h-1.25zM354.5,363.4h1.25v1.25h-1.25zM342.7,367.6h1.25v1.25h-1.25zM349.9,354.8h1.25v1.25h-1.25zM340.8,363.5h1.25v1.25h-1.25zM346.8,352.4h1.25v1.25h-1.25zM338.4,371.6h1.25v1.25h-1.25zM343.8,366.2h1.25v1.25h-1.25zM342.3,371.4h1.25v1.25h-1.25zM340.4,376.0h1.25v1.25h-1.25zM339.1,362.0h1.25v1.25h-1.25zM337.3,350.4h1.25v1.25h-1.25zM343.1,371.7h1.25v1.25h-1.25zM343.6,360.8h1.25v1.25h-1.25zM340.1,353.6h1.25v1.25h-1.25zM345.5,368.8h1.25v1.25h-1.25zM346.7,361.0h1.25v1.25h-1.25zM339.4,376.9h1.25v1.25h-1.25zM333.1,370.1h1.25v1.25h-1.25zM345.1,353.9h1.25v1.25h-1.25zM342.8,365.9h1.25v1.25h-1.25zM340.1,362.2h1.25v1.25h-1.25zM351.2,370.5h1.25v1.25h-1.25zM332.6,364.4h1.25v1.25h-1.25zM345.0,373.3h1.25v1.25h-1.25zM342.7,369.8h1.25v1.25h-1.25zM331.5,368.8h1.25v1.25h-1.25zM337.9,362.2h1.25v1.25h-1.25zM343.6,365.5h1.25v1.25h-1.25zM351.2,361.2h1.25v1.25h-1.25zM339.2,359.3h1.25v1.25h-1.25zM334.8,367.1h1.25v1.25h-1.25zM345.2,369.1h1.25v1.25h-1.25zM352.2,363.9h1.25v1.25h-1.25zM343.3,366.2h1.25v1.25h-1.25zM332.5,359.9h1.25v1.25h-1.25zM339.9,361.9h1.25v1.25h-1.25zM345.9,363.0h1.25v1.25h-1.25zM335.5,351.4h1.25v1.25h-1.25zM349.1,354.7h1.25v1.25h-1.25zM338.9,362.3h1.25v1.25h-1.25zM346.7,359.1h1.25v1.25h-1.25zM342.9,363.2h1.25v1.25h-1.25zM348.2,353.5h1.25v1.25h-1.25zM344.8,368.1h1.25v1.25h-1.25zM340.7,373.1h1.25v1.25h-1.25zM345.7,364.7h1.25v1.25h-1.25zM340.4,368.3h1.25v1.25h-1.25zM339.0,366.0h1.25v1.25h-1.25zM346.9,370.0h1.25v1.25h-1.25zM352.1,365.7h1.25v1.25h-1.25zM340.4,356.5h1.25v1.25h-1.25zM339.4,376.0h1.25v1.25h-1.25zM349.4,356.1h1.25v1.25h-1.25zM335.2,369.0h1.25v1.25h-1.25zM336.1,370.4h1.25v1.25h-1.25zM340.9,357.7h1.25v1.25h-1.25zM335.7,362.8h1.25v1.25h-1.25zM336.2,363.5h1.25v1.25h-1.25zM341.6,366.1h1.25v1.25h-1.25zM339.2,370.2h1.25v1.25h-1.25zM334.5,357.7h1.25v1.25h-1.25zM350.2,364.2h1.25v1.25h-1.25zM338.2,370.8h1.25v1.25h-1.25zM335.3,371.4h1.25v1.25h-1.25zM339.6,371.8h1.25v1.25h-1.25zM345.2,370.3h1.25v1.25h-1.25zM343.5,364.0h1.25v1.25h-1.25zM341.3,359.3h1.25v1.25h-1.25zM364.3,372.2h1.25v1.25h-1.25zM342.2,369.9h1.25v1.25h-1.25zM347.6,359.6h1.25v1.25h-1.25zM337.3,355.8h1.25v1.25h-1.25zM335.1,367.9h1.25v1.25h-1.25zM347.8,375.0h1.25v1.25h-1.25zM338.7,362.3h1.25v1.25h-1.25zM334.0,357.8h1.25v1.25h-1.25zM345.2,368.4h1.25v1.25h-1.25zM343.2,367.8h1.25v1.25h-1.25zM343.7,362.4h1.25v1.25h-1.25zM341.8,356.9h1.25v1.25h-1.25zM349.0,374.6h1.25v1.25h-1.25zM339.9,362.9h1.25v1.25h-1.25zM351.6,374.0h1.25v1.25h-1.25zM339.4,356.7h1.25v1.25h-1.25zM348.5,367.1h1.25v1.25h-1.25zM345.3,360.7h1.25v1.25h-1.25zM354.9,363.9h1.25v1.25h-1.25zM341.0,368.3h1.25v1.25h-1.25zM347.6,363.7h1.25v1.25h-1.25zM335.8,369.8h1.25v1.25h-1.25zM321.3,362.4h1.25v1.25h-1.25zM321.6,354.6h1.25v1.25h-1.25zM325.9,350.0h1.25v1.25h-1.25zM334.4,352.8h1.25v1.25h-1.25zM329.0,367.0h1.25v1.25h-1.25zM336.3,351.7h1.25v1.25h-1.25zM317.1,344.4h1.25v1.25h-1.25zM335.3,366.5h1.25v1.25h-1.25zM329.2,368.5h1.25v1.25h-1.25zM327.1,350.5h1.25v1.25h-1.25zM325.3,365.2h1.25v1.25h-1.25zM320.9,355.0h1.25v1.25h-1.25zM336.6,351.3h1.25v1.25h-1.25zM322.5,364.3h1.25v1.25h-1.25zM326.7,352.0h1.25v1.25h-1.25zM322.5,365.0h1.25v1.25h-1.25zM315.6,359.3h1.25v1.25h-1.25zM333.6,350.5h1.25v1.25h-1.25zM322.6,367.9h1.25v1.25h-1.25zM336.3,354.4h1.25v1.25h-1.25zM326.9,357.5h1.25v1.25h-1.25zM332.1,364.8h1.25v1.25h-1.25zM336.3,369.6h1.25v1.25h-1.25zM329.9,356.0h1.25v1.25h-1.25zM321.2,360.2h1.25v1.25h-1.25zM337.5,352.8h1.25v1.25h-1.25zM337.7,347.9h1.25v1.25h-1.25zM329.7,362.9h1.25v1.25h-1.25zM334.0,365.0h1.25v1.25h-1.25zM327.9,370.4h1.25v1.25h-1.25zM329.0,358.8h1.25v1.25h-1.25zM337.3,375.8h1.25v1.25h-1.25zM328.4,353.2h1.25v1.25h-1.25zM330.8,355.0h1.25v1.25h-1.25zM346.8,362.4h1.25v1.25h-1.25zM337.9,346.0h1.25v1.25h-1.25zM325.8,364.2h1.25v1.25h-1.25zM327.2,359.5h1.25v1.25h-1.25zM337.8,361.1h1.25v1.25h-1.25zM339.9,348.5h1.25v1.25h-1.25zM341.3,357.7h1.25v1.25h-1.25zM339.4,364.0h1.25v1.25h-1.25zM338.4,365.2h1.25v1.25h-1.25zM324.9,361.2h1.25v1.25h-1.25zM335.7,366.1h1.25v1.25h-1.25zM316.7,377.6h1.25v1.25h-1.25zM338.2,359.1h1.25v1.25h-1.25zM329.2,350.7h1.25v1.25h-1.25zM340.7,377.7h1.25v1.25h-1.25zM340.8,353.7h1.25v1.25h-1.25zM336.2,370.2h1.25v1.25h-1.25zM332.4,363.8h1.25v1.25h-1.25zM327.2,353.8h1.25v1.25h-1.25zM331.8,366.6h1.25v1.25h-1.25zM328.4,375.6h1.25v1.25h-1.25zM328.4,341.5h1.25v1.25h-1.25zM333.5,363.0h1.25v1.25h-1.25zM325.0,361.3h1.25v1.25h-1.25zM326.1,372.7h1.25v1.25h-1.25zM328.8,366.5h1.25v1.25h-1.25zM340.7,351.2h1.25v1.25h-1.25zM324.8,340.7h1.25v1.25h-1.25zM328.3,364.3h1.25v1.25h-1.25zM330.1,366.8h1.25v1.25h-1.25zM346.0,357.2h1.25v1.25h-1.25zM329.7,359.0h1.25v1.25h-1.25zM325.6,352.1h1.25v1.25h-1.25zM334.8,366.0h1.25v1.25h-1.25zM325.9,360.8h1.25v1.25h-1.25zM318.9,366.3h1.25v1.25h-1.25zM329.1,358.1h1.25v1.25h-1.25zM331.9,354.1h1.25v1.25h-1.25zM325.2,355.5h1.25v1.25h-1.25zM336.1,375.3h1.25v1.25h-1.25zM331.3,370.5h1.25v1.25h-1.25zM336.4,368.6h1.25v1.25h-1.25zM347.5,370.6h1.25v1.25h-1.25zM332.7,359.1h1.25v1.25h-1.25zM306.3,360.5h1.25v1.25h-1.25zM331.1,349.7h1.25v1.25h-1.25zM326.9,366.0h1.25v1.25h-1.25zM339.9,370.0h1.25v1.25h-1.25zM340.9,357.6h1.25v1.25h-1.25zM334.2,375.0h1.25v1.25h-1.25zM341.2,353.1h1.25v1.25h-1.25zM328.3,359.7h1.25v1.25h-1.25zM327.2,361.9h1.25v1.25h-1.25zM336.4,369.6h1.25v1.25h-1.25zM335.1,370.7h1.25v1.25h-1.25zM329.9,354.6h1.25v1.25h-1.25zM328.2,368.0h1.25v1.25h-1.25zM339.0,356.3h1.25v1.25h-1.25zM330.8,367.0h1.25v1.25h-1.25zM334.0,359.2h1.25v1.25h-1.25zM336.3,367.7h1.25v1.25h-1.25zM334.0,358.6h1.25v1.25h-1.25zM336.4,367.8h1.25v1.25h-1.25zM329.4,354.8h1.25v1.25h-1.25zM337.5,362.4h1.25v1.25h-1.25zM330.1,365.9h1.25v1.25h-1.25zM343.3,361.2h1.25v1.25h-1.25zM333.1,356.1h1.25v1.25h-1.25zM333.4,373.5h1.25v1.25h-1.25zM333.6,344.7h1.25v1.25h-1.25zM330.2,357.9h1.25v1.25h-1.25zM334.3,369.4h1.25v1.25h-1.25zM337.2,358.9h1.25v1.25h-1.25zM331.7,364.5h1.25v1.25h-1.25zM332.8,363.4h1.25v1.25h-1.25zM327.8,358.3h1.25v1.25h-1.25zM324.3,361.2h1.25v1.25h-1.25zM340.1,350.9h1.25v1.25h-1.25zM330.8,359.1h1.25v1.25h-1.25zM331.2,359.9h1.25v1.25h-1.25zM331.5,361.2h1.25v1.25h-1.25zM337.5,354.6h1.25v1.25h-1.25zM338.2,355.5h1.25v1.25h-1.25zM323.6,345.6h1.25v1.25h-1.25zM330.0,368.9h1.25v1.25h-1.25zM333.6,355.6h1.25v1.25h-1.25zM331.5,352.6h1.25v1.25h-1.25zM327.8,343.3h1.25v1.25h-1.25zM334.8,355.8h1.25v1.25h-1.25zM325.0,368.0h1.25v1.25h-1.25zM326.9,373.9h1.25v1.25h-1.25zM314.3,344.6h1.25v1.25h-1.25zM330.4,373.3h1.25v1.25h-1.25zM325.8,355.8h1.25v1.25h-1.25zM340.5,352.3h1.25v1.25h-1.25zM343.5,360.3h1.25v1.25h-1.25zM314.5,359.4h1.25v1.25h-1.25zM328.4,367.8h1.25v1.25h-1.25zM342.0,359.1h1.25v1.25h-1.25zM339.1,358.9h1.25v1.25h-1.25zM325.7,361.0h1.25v1.25h-1.25zM326.8,365.1h1.25v1.25h-1.25zM337.7,370.8h1.25v1.25h-1.25zM335.3,361.5h1.25v1.25h-1.25zM329.1,365.5h1.25v1.25h-1.25zM329.4,368.2h1.25v1.25h-1.25zM324.3,365.9h1.25v1.25h-1.25zM333.9,361.8h1.25v1.25h-1.25zM328.1,354.7h1.25v1.25h-1.25zM336.1,356.8h1.25v1.25h-1.25zM334.1,355.3h1.25v1.25h-1.25zM333.5,373.2h1.25v1.25h-1.25zM331.9,348.1h1.25v1.25h-1.25zM329.0,369.4h1.25v1.25h-1.25zM335.4,369.9h1.25v1.25h-1.25zM329.2,364.4h1.25v1.25h-1.25zM329.3,357.0h1.25v1.25h-1.25zM334.7,361.6h1.25v1.25h-1.25zM329.0,364.4h1.25v1.25h-1.25zM333.8,361.6h1.25v1.25h-1.25zM325.7,348.1h1.25v1.25h-1.25zM329.7,354.7h1.25v1.25h-1.25zM329.3,358.9h1.25v1.25h-1.25zM335.8,354.1h1.25v1.25h-1.25zM319.6,363.3h1.25v1.25h-1.25zM323.2,361.2h1.25v1.25h-1.25zM327.9,374.7h1.25v1.25h-1.25zM331.7,358.0h1.25v1.25h-1.25zM330.7,359.5h1.25v1.25h-1.25zM332.7,373.5h1.25v1.25h-1.25zM339.0,367.8h1.25v1.25h-1.25zM342.9,353.3h1.25v1.25h-1.25zM337.8,366.6h1.25v1.25h-1.25zM336.8,354.2h1.25v1.25h-1.25zM327.4,364.4h1.25v1.25h-1.25zM332.5,359.2h1.25v1.25h-1.25zM339.0,368.4h1.25v1.25h-1.25zM339.7,365.8h1.25v1.25h-1.25zM322.5,372.9h1.25v1.25h-1.25zM324.6,357.3h1.25v1.25h-1.25zM341.2,361.9h1.25v1.25h-1.25zM323.8,366.4h1.25v1.25h-1.25zM338.3,358.8h1.25v1.25h-1.25zM330.5,356.9h1.25v1.25h-1.25zM318.4,363.6h1.25v1.25h-1.25zM333.5,367.4h1.25v1.25h-1.25zM324.3,365.7h1.25v1.25h-1.25zM327.0,355.0h1.25v1.25h-1.25zM331.6,363.2h1.25v1.25h-1.25zM343.7,362.2h1.25v1.25h-1.25zM326.1,371.6h1.25v1.25h-1.25zM343.2,355.9h1.25v1.25h-1.25zM340.8,358.6h1.25v1.25h-1.25zM327.3,373.9h1.25v1.25h-1.25zM331.7,359.0h1.25v1.25h-1.25zM324.3,354.2h1.25v1.25h-1.25zM337.1,358.0h1.25v1.25h-1.25zM329.7,357.6h1.25v1.25h-1.25zM321.6,357.4h1.25v1.25h-1.25zM314.7,373.0h1.25v1.25h-1.25zM335.1,355.9h1.25v1.25h-1.25zM335.4,350.0h1.25v1.25h-1.25zM325.1,371.2h1.25v1.25h-1.25zM323.4,362.8h1.25v1.25h-1.25zM331.8,365.2h1.25v1.25h-1.25zM340.7,362.9h1.25v1.25h-1.25zM340.6,364.9h1.25v1.25h-1.25zM322.7,366.2h1.25v1.25h-1.25zM334.6,363.2h1.25v1.25h-1.25zM340.5,349.6h1.25v1.25h-1.25zM333.7,361.7h1.25v1.25h-1.25zM331.6,354.0h1.25v1.25h-1.25zM328.9,363.6h1.25v1.25h-1.25zM316.3,361.8h1.25v1.25h-1.25zM323.3,372.0h1.25v1.25h-1.25zM324.4,343.7h1.25v1.25h-1.25zM334.9,354.5h1.25v1.25h-1.25zM333.1,353.8h1.25v1.25h-1.25zM346.6,353.5h1.25v1.25h-1.25zM344.8,365.5h1.25v1.25h-1.25zM335.8,353.0h1.25v1.25h-1.25zM335.2,353.5h1.25v1.25h-1.25zM320.0,366.6h1.25v1.25h-1.25zM323.0,352.0h1.25v1.25h-1.25zM326.0,349.1h1.25v1.25h-1.25zM321.0,353.4h1.25v1.25h-1.25zM334.9,361.9h1.25v1.25h-1.25zM327.2,350.6h1.25v1.25h-1.25zM329.5,361.2h1.25v1.25h-1.25zM336.8,355.5h1.25v1.25h-1.25zM335.8,367.9h1.25v1.25h-1.25zM345.0,359.4h1.25v1.25h-1.25zM328.3,375.0h1.25v1.25h-1.25zM339.4,360.1h1.25v1.25h-1.25zM333.9,354.7h1.25v1.25h-1.25zM326.2,361.5h1.25v1.25h-1.25zM320.1,359.2h1.25v1.25h-1.25zM317.1,356.7h1.25v1.25h-1.25zM333.2,370.9h1.25v1.25h-1.25zM340.0,369.1h1.25v1.25h-1.25zM337.5,369.2h1.25v1.25h-1.25zM334.1,353.8h1.25v1.25h-1.25zM322.8,356.8h1.25v1.25h-1.25zM334.0,351.9h1.25v1.25h-1.25zM321.5,369.5h1.25v1.25h-1.25zM341.3,375.0h1.25v1.25h-1.25zM327.8,358.0h1.25v1.25h-1.25zM337.9,360.4h1.25v1.25h-1.25zM323.3,358.0h1.25v1.25h-1.25zM316.6,363.8h1.25v1.25h-1.25zM339.1,362.1h1.25v1.25h-1.25zM336.5,363.5h1.25v1.25h-1.25zM336.1,365.0h1.25v1.25h-1.25zM325.2,362.2h1.25v1.25h-1.25zM330.5,359.2h1.25v1.25h-1.25zM342.4,371.1h1.25v1.25h-1.25zM325.7,364.4h1.25v1.25h-1.25zM329.7,355.2h1.25v1.25h-1.25zM333.3,372.1h1.25v1.25h-1.25zM325.6,360.6h1.25v1.25h-1.25zM333.0,368.1h1.25v1.25h-1.25zM331.7,360.6h1.25v1.25h-1.25zM329.9,374.5h1.25v1.25h-1.25zM339.7,374.5h1.25v1.25h-1.25zM337.2,361.4h1.25v1.25h-1.25zM325.2,360.0h1.25v1.25h-1.25zM324.6,358.9h1.25v1.25h-1.25zM331.1,365.1h1.25v1.25h-1.25zM336.8,365.5h1.25v1.25h-1.25zM333.2,336.0h1.25v1.25h-1.25zM332.2,346.6h1.25v1.25h-1.25zM331.7,354.0h1.25v1.25h-1.25zM319.0,371.9h1.25v1.25h-1.25zM330.5,362.5h1.25v1.25h-1.25zM335.5,345.9h1.25v1.25h-1.25zM327.4,361.3h1.25v1.25h-1.25zM353.5,355.2h1.25v1.25h-1.25zM318.4,357.8h1.25v1.25h-1.25zM328.4,353.6h1.25v1.25h-1.25zM330.4,357.9h1.25v1.25h-1.25zM334.8,352.6h1.25v1.25h-1.25zM321.5,357.1h1.25v1.25h-1.25zM328.3,354.5h1.25v1.25h-1.25zM334.4,367.8h1.25v1.25h-1.25zM331.1,358.3h1.25v1.25h-1.25zM345.3,362.7h1.25v1.25h-1.25zM334.3,356.1h1.25v1.25h-1.25zM324.3,366.8h1.25v1.25h-1.25zM332.1,362.5h1.25v1.25h-1.25zM335.0,357.2h1.25v1.25h-1.25zM338.9,369.2h1.25v1.25h-1.25zM332.3,359.5h1.25v1.25h-1.25zM337.2,362.8h1.25v1.25h-1.25zM335.6,362.2h1.25v1.25h-1.25zM336.3,362.4h1.25v1.25h-1.25zM329.5,371.3h1.25v1.25h-1.25zM330.6,362.6h1.25v1.25h-1.25zM330.9,357.8h1.25v1.25h-1.25zM336.2,351.9h1.25v1.25h-1.25zM342.9,374.6h1.25v1.25h-1.25zM324.3,371.2h1.25v1.25h-1.25zM326.0,373.2h1.25v1.25h-1.25zM343.9,360.6h1.25v1.25h-1.25zM336.9,352.4h1.25v1.25h-1.25zM329.9,363.3h1.25v1.25h-1.25zM334.0,354.0h1.25v1.25h-1.25zM338.3,357.3h1.25v1.25h-1.25zM321.3,370.8h1.25v1.25h-1.25zM328.8,357.0h1.25v1.25h-1.25zM323.2,351.5h1.25v1.25h-1.25zM329.5,361.7h1.25v1.25h-1.25zM327.2,347.8h1.25v1.25h-1.25zM322.6,365.2h1.25v1.25h-1.25zM342.1,353.6h1.25v1.25h-1.25zM319.7,371.5h1.25v1.25h-1.25zM333.6,350.2h1.25v1.25h-1.25zM329.2,351.5h1.25v1.25h-1.25zM334.9,357.4h1.25v1.25h-1.25zM315.6,340.8h1.25v1.25h-1.25zM338.1,351.2h1.25v1.25h-1.25zM319.0,359.8h1.25v1.25h-1.25zM336.0,364.9h1.25v1.25h-1.25zM328.7,359.0h1.25v1.25h-1.25zM339.5,364.5h1.25v1.25h-1.25zM334.7,362.2h1.25v1.25h-1.25zM328.3,360.6h1.25v1.25h-1.25zM332.8,353.7h1.25v1.25h-1.25zM329.3,358.6h1.25v1.25h-1.25zM334.4,368.4h1.25v1.25h-1.25zM320.0,368.0h1.25v1.25h-1.25zM326.9,365.5h1.25v1.25h-1.25zM325.0,354.5h1.25v1.25h-1.25zM336.8,370.7h1.25v1.25h-1.25zM323.0,355.3h1.25v1.25h-1.25zM327.8,361.1h1.25v1.25h-1.25zM320.8,374.3h1.25v1.25h-1.25zM329.2,346.4h1.25v1.25h-1.25zM331.9,361.1h1.25v1.25h-1.25zM345.5,367.0h1.25v1.25h-1.25zM327.2,358.3h1.25v1.25h-1.25zM332.7,346.9h1.25v1.25h-1.25zM329.2,367.8h1.25v1.25h-1.25zM331.2,370.4h1.25v1.25h-1.25zM333.3,373.1h1.25v1.25h-1.25zM326.5,352.5h1.25v1.25h-1.25zM318.8,348.7h1.25v1.25h-1.25zM337.1,363.1h1.25v1.25h-1.25zM330.6,376.6h1.25v1.25h-1.25zM323.2,359.1h1.25v1.25h-1.25zM333.7,368.9h1.25v1.25h-1.25zM335.8,356.2h1.25v1.25h-1.25zM317.9,365.5h1.25v1.25h-1.25zM332.0,366.9h1.25v1.25h-1.25zM328.1,357.9h1.25v1.25h-1.25zM341.8,375.0h1.25v1.25h-1.25zM323.0,375.6h1.25v1.25h-1.25zM337.3,355.8h1.25v1.25h-1.25zM326.0,351.3h1.25v1.25h-1.25zM344.0,346.6h1.25v1.25h-1.25zM334.2,369.5h1.25v1.25h-1.25zM328.1,362.8h1.25v1.25h-1.25zM335.3,357.8h1.25v1.25h-1.25zM339.6,355.3h1.25v1.25h-1.25zM324.9,357.1h1.25v1.25h-1.25zM330.0,371.4h1.25v1.25h-1.25zM328.1,365.4h1.25v1.25h-1.25zM334.8,343.0h1.25v1.25h-1.25zM338.6,350.2h1.25v1.25h-1.25zM317.9,348.6h1.25v1.25h-1.25zM334.0,363.5h1.25v1.25h-1.25zM322.5,361.9h1.25v1.25h-1.25zM320.7,368.1h1.25v1.25h-1.25zM325.5,357.3h1.25v1.25h-1.25zM337.0,358.0h1.25v1.25h-1.25zM335.0,355.9h1.25v1.25h-1.25zM319.0,366.6h1.25v1.25h-1.25zM328.3,351.7h1.25v1.25h-1.25zM333.2,356.3h1.25v1.25h-1.25zM336.0,345.5h1.25v1.25h-1.25zM329.8,367.0h1.25v1.25h-1.25zM331.0,349.9h1.25v1.25h-1.25zM313.7,369.0h1.25v1.25h-1.25zM317.3,370.1h1.25v1.25h-1.25zM314.5,375.1h1.25v1.25h-1.25zM321.9,354.4h1.25v1.25h-1.25zM323.9,356.5h1.25v1.25h-1.25zM318.7,358.6h1.25v1.25h-1.25zM314.5,366.2h1.25v1.25h-1.25zM317.2,362.3h1.25v1.25h-1.25zM335.2,365.1h1.25v1.25h-1.25zM310.2,371.5h1.25v1.25h-1.25zM324.6,373.6h1.25v1.25h-1.25zM332.3,358.4h1.25v1.25h-1.25zM326.5,373.0h1.25v1.25h-1.25zM318.0,366.7h1.25v1.25h-1.25zM332.3,352.5h1.25v1.25h-1.25zM313.7,367.0h1.25v1.25h-1.25zM322.6,376.4h1.25v1.25h-1.25zM324.9,355.8h1.25v1.25h-1.25zM317.7,378.2h1.25v1.25h-1.25zM328.5,368.8h1.25v1.25h-1.25zM321.1,362.8h1.25v1.25h-1.25zM316.3,358.2h1.25v1.25h-1.25zM319.9,362.8h1.25v1.25h-1.25zM315.5,364.4h1.25v1.25h-1.25zM324.2,366.7h1.25v1.25h-1.25zM308.4,364.1h1.25v1.25h-1.25zM321.8,361.7h1.25v1.25h-1.25zM327.2,370.4h1.25v1.25h-1.25zM310.1,367.2h1.25v1.25h-1.25zM333.9,375.9h1.25v1.25h-1.25zM317.5,371.3h1.25v1.25h-1.25zM312.6,354.9h1.25v1.25h-1.25zM322.4,366.7h1.25v1.25h-1.25zM322.1,364.8h1.25v1.25h-1.25zM320.6,361.4h1.25v1.25h-1.25zM321.8,370.8h1.25v1.25h-1.25zM317.5,370.7h1.25v1.25h-1.25zM329.6,377.3h1.25v1.25h-1.25zM320.0,364.3h1.25v1.25h-1.25zM307.9,367.5h1.25v1.25h-1.25zM324.2,354.6h1.25v1.25h-1.25zM322.5,368.4h1.25v1.25h-1.25zM321.5,357.1h1.25v1.25h-1.25zM322.3,354.5h1.25v1.25h-1.25zM329.9,365.9h1.25v1.25h-1.25zM308.7,374.4h1.25v1.25h-1.25zM327.2,360.4h1.25v1.25h-1.25zM335.6,358.0h1.25v1.25h-1.25zM320.5,373.3h1.25v1.25h-1.25zM317.5,364.9h1.25v1.25h-1.25zM309.4,367.3h1.25v1.25h-1.25zM309.1,358.2h1.25v1.25h-1.25zM314.4,356.4h1.25v1.25h-1.25zM330.6,355.7h1.25v1.25h-1.25zM312.0,362.8h1.25v1.25h-1.25zM318.0,370.5h1.25v1.25h-1.25zM324.5,362.9h1.25v1.25h-1.25zM314.9,365.2h1.25v1.25h-1.25zM324.6,369.9h1.25v1.25h-1.25zM313.9,350.6h1.25v1.25h-1.25zM335.1,371.7h1.25v1.25h-1.25zM320.1,367.4h1.25v1.25h-1.25zM313.8,358.0h1.25v1.25h-1.25zM315.3,363.4h1.25v1.25h-1.25zM313.0,354.8h1.25v1.25h-1.25zM315.5,369.0h1.25v1.25h-1.25zM314.0,365.2h1.25v1.25h-1.25zM317.0,356.4h1.25v1.25h-1.25zM304.2,367.9h1.25v1.25h-1.25zM311.5,368.4h1.25v1.25h-1.25zM314.6,369.4h1.25v1.25h-1.25zM315.3,354.5h1.25v1.25h-1.25zM317.3,362.7h1.25v1.25h-1.25zM323.3,361.8h1.25v1.25h-1.25zM314.9,371.0h1.25v1.25h-1.25zM327.3,370.3h1.25v1.25h-1.25zM326.3,368.2h1.25v1.25h-1.25zM324.2,371.1h1.25v1.25h-1.25zM321.2,365.4h1.25v1.25h-1.25zM318.1,363.3h1.25v1.25h-1.25zM315.1,364.8h1.25v1.25h-1.25zM320.0,357.1h1.25v1.25h-1.25zM305.2,366.8h1.25v1.25h-1.25zM319.1,373.1h1.25v1.25h-1.25zM331.4,367.6h1.25v1.25h-1.25zM313.6,356.8h1.25v1.25h-1.25zM311.7,365.3h1.25v1.25h-1.25zM317.9,369.5h1.25v1.25h-1.25zM315.3,365.7h1.25v1.25h-1.25zM312.1,361.8h1.25v1.25h-1.25zM330.4,366.1h1.25v1.25h-1.25zM320.9,358.1h1.25v1.25h-1.25zM329.5,359.6h1.25v1.25h-1.25zM324.4,365.8h1.25v1.25h-1.25zM310.3,372.2h1.25v1.25h-1.25zM318.1,366.3h1.25v1.25h-1.25zM321.6,364.8h1.25v1.25h-1.25zM315.0,368.3h1.25v1.25h-1.25zM314.8,365.5h1.25v1.25h-1.25zM312.7,354.6h1.25v1.25h-1.25zM312.6,361.5h1.25v1.25h-1.25zM318.1,373.3h1.25v1.25h-1.25zM304.5,365.9h1.25v1.25h-1.25zM313.9,349.2h1.25v1.25h-1.25zM318.6,364.2h1.25v1.25h-1.25zM316.7,359.0h1.25v1.25h-1.25zM331.4,369.3h1.25v1.25h-1.25zM315.0,373.3h1.25v1.25h-1.25zM319.3,369.5h1.25v1.25h-1.25zM319.9,357.8h1.25v1.25h-1.25zM325.8,366.1h1.25v1.25h-1.25zM309.9,359.7h1.25v1.25h-1.25zM325.6,362.4h1.25v1.25h-1.25zM318.4,369.6h1.25v1.25h-1.25zM319.0,354.3h1.25v1.25h-1.25zM323.1,371.6h1.25v1.25h-1.25zM324.9,376.3h1.25v1.25h-1.25zM320.9,370.4h1.25v1.25h-1.25zM330.7,363.0h1.25v1.25h-1.25zM331.9,377.1h1.25v1.25h-1.25zM324.3,377.9h1.25v1.25h-1.25zM324.8,358.8h1.25v1.25h-1.25zM327.1,367.3h1.25v1.25h-1.25zM321.3,366.1h1.25v1.25h-1.25zM328.9,368.9h1.25v1.25h-1.25zM312.4,368.4h1.25v1.25h-1.25zM323.8,359.9h1.25v1.25h-1.25zM314.5,362.3h1.25v1.25h-1.25zM313.1,367.4h1.25v1.25h-1.25zM326.1,378.2h1.25v1.25h-1.25zM327.6,372.2h1.25v1.25h-1.25zM327.1,374.3h1.25v1.25h-1.25zM315.0,369.9h1.25v1.25h-1.25zM320.6,364.1h1.25v1.25h-1.25zM314.4,361.5h1.25v1.25h-1.25zM315.9,356.4h1.25v1.25h-1.25zM322.2,364.8h1.25v1.25h-1.25zM318.8,367.4h1.25v1.25h-1.25zM323.8,360.9h1.25v1.25h-1.25zM317.1,353.7h1.25v1.25h-1.25zM330.3,352.2h1.25v1.25h-1.25zM321.8,375.3h1.25v1.25h-1.25zM314.3,376.4h1.25v1.25h-1.25zM332.8,371.6h1.25v1.25h-1.25zM337.0,369.4h1.25v1.25h-1.25zM312.2,368.7h1.25v1.25h-1.25zM314.5,355.9h1.25v1.25h-1.25zM313.7,364.9h1.25v1.25h-1.25zM312.7,366.0h1.25v1.25h-1.25zM316.2,362.2h1.25v1.25h-1.25zM308.4,355.2h1.25v1.25h-1.25zM312.1,367.1h1.25v1.25h-1.25zM334.7,372.5h1.25v1.25h-1.25zM332.7,368.5h1.25v1.25h-1.25zM317.4,355.8h1.25v1.25h-1.25zM318.1,350.1h1.25v1.25h-1.25zM315.7,376.5h1.25v1.25h-1.25zM320.8,373.0h1.25v1.25h-1.25zM315.1,355.5h1.25v1.25h-1.25zM314.3,362.4h1.25v1.25h-1.25zM312.3,362.6h1.25v1.25h-1.25zM317.0,362.7h1.25v1.25h-1.25zM308.2,365.8h1.25v1.25h-1.25zM321.1,367.9h1.25v1.25h-1.25zM308.5,364.4h1.25v1.25h-1.25zM304.3,371.6h1.25v1.25h-1.25zM310.1,363.3h1.25v1.25h-1.25zM314.6,361.1h1.25v1.25h-1.25zM309.7,352.8h1.25v1.25h-1.25zM332.1,367.0h1.25v1.25h-1.25zM317.4,369.1h1.25v1.25h-1.25zM318.4,373.5h1.25v1.25h-1.25zM322.3,367.4h1.25v1.25h-1.25zM316.2,367.2h1.25v1.25h-1.25zM327.6,350.7h1.25v1.25h-1.25zM317.2,362.3h1.25v1.25h-1.25zM315.9,351.4h1.25v1.25h-1.25zM324.1,359.3h1.25v1.25h-1.25zM316.4,361.7h1.25v1.25h-1.25zM304.9,362.1h1.25v1.25h-1.25zM315.7,365.2h1.25v1.25h-1.25zM318.7,364.3h1.25v1.25h-1.25zM335.4,368.3h1.25v1.25h-1.25zM308.5,360.9h1.25v1.25h-1.25zM313.0,364.0h1.25v1.25h-1.25zM313.4,359.2h1.25v1.25h-1.25zM331.5,365.5h1.25v1.25h-1.25zM315.6,363.5h1.25v1.25h-1.25zM316.5,375.0h1.25v1.25h-1.25zM322.1,373.1h1.25v1.25h-1.25zM318.5,353.2h1.25v1.25h-1.25zM323.0,361.1h1.25v1.25h-1.25zM303.9,360.9h1.25v1.25h-1.25zM326.7,373.7h1.25v1.25h-1.25zM324.1,357.9h1.25v1.25h-1.25zM338.4,357.1h1.25v1.25h-1.25zM317.7,355.1h1.25v1.25h-1.25zM328.8,368.4h1.25v1.25h-1.25zM325.4,365.9h1.25v1.25h-1.25zM317.8,366.5h1.25v1.25h-1.25zM325.6,362.5h1.25v1.25h-1.25zM318.2,367.4h1.25v1.25h-1.25zM330.9,368.3h1.25v1.25h-1.25zM318.7,361.7h1.25v1.25h-1.25zM306.3,361.1h1.25v1.25h-1.25zM318.9,363.5h1.25v1.25h-1.25zM318.9,370.5h1.25v1.25h-1.25zM321.8,367.2h1.25v1.25h-1.25zM323.6,366.6h1.25v1.25h-1.25zM318.1,368.6h1.25v1.25h-1.25zM304.5,374.1h1.25v1.25h-1.25zM308.1,371.2h1.25v1.25h-1.25zM318.5,373.1h1.25v1.25h-1.25zM318.7,358.7h1.25v1.25h-1.25zM327.0,366.6h1.25v1.25h-1.25zM319.3,365.9h1.25v1.25h-1.25zM326.4,371.1h1.25v1.25h-1.25zM320.2,354.5h1.25v1.25h-1.25zM315.2,366.1h1.25v1.25h-1.25zM332.8,368.1h1.25v1.25h-1.25zM317.7,373.7h1.25v1.25h-1.25zM317.5,365.2h1.25v1.25h-1.25zM319.7,354.9h1.25v1.25h-1.25zM326.1,368.4h1.25v1.25h-1.25zM316.2,357.4h1.25v1.25h-1.25zM320.1,375.2h1.25v1.25h-1.25zM313.3,358.0h1.25v1.25h-1.25zM321.8,354.2h1.25v1.25h-1.25zM312.9,363.5h1.25v1.25h-1.25zM314.0,367.7h1.25v1.25h-1.25zM316.7,361.2h1.25v1.25h-1.25zM314.8,369.8h1.25v1.25h-1.25zM326.1,371.7h1.25v1.25h-1.25zM324.0,342.3h1.25v1.25h-1.25zM310.4,363.2h1.25v1.25h-1.25zM320.1,354.1h1.25v1.25h-1.25zM347.8,363.3h1.25v1.25h-1.25zM323.3,362.0h1.25v1.25h-1.25zM326.6,353.7h1.25v1.25h-1.25zM336.8,356.5h1.25v1.25h-1.25zM313.8,354.8h1.25v1.25h-1.25zM329.3,350.8h1.25v1.25h-1.25zM345.9,350.7h1.25v1.25h-1.25zM351.8,368.6h1.25v1.25h-1.25zM319.4,361.7h1.25v1.25h-1.25zM344.9,358.8h1.25v1.25h-1.25zM316.4,361.6h1.25v1.25h-1.25zM354.6,347.2h1.25v1.25h-1.25zM337.4,360.7h1.25v1.25h-1.25zM329.4,357.1h1.25v1.25h-1.25zM327.0,369.9h1.25v1.25h-1.25zM338.0,351.6h1.25v1.25h-1.25zM349.5,348.9h1.25v1.25h-1.25zM338.8,362.3h1.25v1.25h-1.25zM345.2,363.8h1.25v1.25h-1.25zM343.5,360.4h1.25v1.25h-1.25zM342.5,363.7h1.25v1.25h-1.25zM356.6,354.4h1.25v1.25h-1.25zM345.2,364.8h1.25v1.25h-1.25zM333.0,355.5h1.25v1.25h-1.25zM336.2,347.4h1.25v1.25h-1.25zM314.4,367.1h1.25v1.25h-1.25zM312.2,373.6h1.25v1.25h-1.25zM327.6,362.9h1.25v1.25h-1.25zM331.8,364.5h1.25v1.25h-1.25zM327.5,357.4h1.25v1.25h-1.25zM329.4,370.1h1.25v1.25h-1.25zM344.5,372.1h1.25v1.25h-1.25zM335.3,358.9h1.25v1.25h-1.25zM310.8,366.5h1.25v1.25h-1.25zM341.0,357.1h1.25v1.25h-1.25zM340.6,372.3h1.25v1.25h-1.25zM332.0,370.2h1.25v1.25h-1.25zM334.6,345.1h1.25v1.25h-1.25zM325.2,357.0h1.25v1.25h-1.25zM337.3,352.9h1.25v1.25h-1.25zM325.7,352.0h1.25v1.25h-1.25zM330.5,361.3h1.25v1.25h-1.25zM342.6,367.9h1.25v1.25h-1.25zM332.9,362.9h1.25v1.25h-1.25zM332.2,361.7h1.25v1.25h-1.25zM349.5,338.3h1.25v1.25h-1.25zM328.8,363.5h1.25v1.25h-1.25zM344.5,350.8h1.25v1.25h-1.25zM335.1,368.5h1.25v1.25h-1.25zM325.6,343.5h1.25v1.25h-1.25zM326.6,349.9h1.25v1.25h-1.25zM338.7,353.0h1.25v1.25h-1.25zM352.3,362.0h1.25v1.25h-1.25zM321.3,356.2h1.25v1.25h-1.25zM317.8,364.2h1.25v1.25h-1.25zM348.8,358.8h1.25v1.25h-1.25zM342.0,352.2h1.25v1.25h-1.25zM314.1,371.8h1.25v1.25h-1.25zM345.0,343.8h1.25v1.25h-1.25zM313.7,351.9h1.25v1.25h-1.25zM342.5,356.8h1.25v1.25h-1.25zM328.9,367.1h1.25v1.25h-1.25zM332.3,362.7h1.25v1.25h-1.25zM327.1,370.8h1.25v1.25h-1.25zM321.6,375.8h1.25v1.25h-1.25zM326.9,353.5h1.25v1.25h-1.25zM338.7,364.7h1.25v1.25h-1.25zM307.1,362.7h1.25v1.25h-1.25zM314.7,353.2h1.25v1.25h-1.25zM340.3,352.9h1.25v1.25h-1.25zM335.2,357.2h1.25v1.25h-1.25zM354.1,359.8h1.25v1.25h-1.25zM316.8,350.7h1.25v1.25h-1.25zM320.0,361.8h1.25v1.25h-1.25zM330.8,369.4h1.25v1.25h-1.25zM332.8,361.8h1.25v1.25h-1.25zM334.7,359.4h1.25v1.25h-1.25zM334.3,367.7h1.25v1.25h-1.25zM340.2,355.7h1.25v1.25h-1.25zM309.6,353.3h1.25v1.25h-1.25zM334.2,338.2h1.25v1.25h-1.25zM325.1,364.6h1.25v1.25h-1.25zM324.0,350.5h1.25v1.25h-1.25zM351.8,373.0h1.25v1.25h-1.25zM327.6,372.5h1.25v1.25h-1.25zM346.3,350.4h1.25v1.25h-1.25zM362.9,352.1h1.25v1.25h-1.25zM327.6,350.7h1.25v1.25h-1.25zM331.6,348.7h1.25v1.25h-1.25zM330.6,370.3h1.25v1.25h-1.25zM333.2,358.1h1.25v1.25h-1.25zM349.2,352.4h1.25v1.25h-1.25zM342.3,357.8h1.25v1.25h-1.25zM333.2,360.8h1.25v1.25h-1.25zM332.2,360.0h1.25v1.25h-1.25zM321.2,355.3h1.25v1.25h-1.25zM335.9,359.5h1.25v1.25h-1.25zM316.6,354.1h1.25v1.25h-1.25zM322.3,359.9h1.25v1.25h-1.25zM332.7,361.2h1.25v1.25h-1.25zM322.7,360.6h1.25v1.25h-1.25zM329.8,345.5h1.25v1.25h-1.25zM319.1,349.5h1.25v1.25h-1.25zM338.0,349.4h1.25v1.25h-1.25zM333.7,355.9h1.25v1.25h-1.25zM315.6,346.1h1.25v1.25h-1.25zM335.9,363.7h1.25v1.25h-1.25zM339.6,376.7h1.25v1.25h-1.25zM333.6,362.8h1.25v1.25h-1.25zM328.8,361.2h1.25v1.25h-1.25zM326.1,352.1h1.25v1.25h-1.25zM354.2,343.4h1.25v1.25h-1.25zM333.3,364.1h1.25v1.25h-1.25zM332.0,351.5h1.25v1.25h-1.25zM327.9,356.0h1.25v1.25h-1.25zM317.3,359.7h1.25v1.25h-1.25zM325.2,355.1h1.25v1.25h-1.25zM338.3,350.5h1.25v1.25h-1.25zM335.3,354.5h1.25v1.25h-1.25zM335.2,360.6h1.25v1.25h-1.25zM332.9,351.2h1.25v1.25h-1.25zM320.7,352.3h1.25v1.25h-1.25zM332.1,366.7h1.25v1.25h-1.25zM342.9,355.5h1.25v1.25h-1.25zM331.0,345.4h1.25v1.25h-1.25zM321.9,346.0h1.25v1.25h-1.25zM308.6,364.7h1.25v1.25h-1.25zM320.3,344.8h1.25v1.25h-1.25zM357.7,361.4h1.25v1.25h-1.25zM326.0,366.0h1.25v1.25h-1.25zM320.7,374.1h1.25v1.25h-1.25zM311.4,348.1h1.25v1.25h-1.25zM328.1,353.0h1.25v1.25h-1.25zM346.6,345.4h1.25v1.25h-1.25zM321.0,361.9h1.25v1.25h-1.25zM336.4,368.8h1.25v1.25h-1.25zM324.0,361.3h1.25v1.25h-1.25zM339.9,356.9h1.25v1.25h-1.25zM326.1,355.5h1.25v1.25h-1.25zM321.9,349.6h1.25v1.25h-1.25zM322.9,345.8h1.25v1.25h-1.25zM334.1,345.4h1.25v1.25h-1.25zM354.2,374.9h1.25v1.25h-1.25zM342.7,357.7h1.25v1.25h-1.25zM322.5,370.6h1.25v1.25h-1.25zM331.7,364.6h1.25v1.25h-1.25zM320.9,369.2h1.25v1.25h-1.25zM319.9,360.6h1.25v1.25h-1.25zM308.8,353.7h1.25v1.25h-1.25zM335.4,355.5h1.25v1.25h-1.25zM324.1,366.6h1.25v1.25h-1.25zM328.5,370.7h1.25v1.25h-1.25zM335.5,345.7h1.25v1.25h-1.25zM313.9,367.4h1.25v1.25h-1.25zM316.6,353.8h1.25v1.25h-1.25zM336.5,356.6h1.25v1.25h-1.25zM335.1,351.8h1.25v1.25h-1.25zM332.9,369.2h1.25v1.25h-1.25zM333.3,339.9h1.25v1.25h-1.25zM337.2,360.0h1.25v1.25h-1.25zM318.5,372.0h1.25v1.25h-1.25zM308.5,376.3h1.25v1.25h-1.25zM321.8,373.6h1.25v1.25h-1.25zM328.8,347.6h1.25v1.25h-1.25zM330.5,362.5h1.25v1.25h-1.25zM335.8,369.0h1.25v1.25h-1.25zM318.6,363.9h1.25v1.25h-1.25zM338.2,357.1h1.25v1.25h-1.25zM318.2,350.9h1.25v1.25h-1.25zM338.3,366.7h1.25v1.25h-1.25zM319.4,347.5h1.25v1.25h-1.25zM344.1,345.6h1.25v1.25h-1.25zM331.2,352.3h1.25v1.25h-1.25zM308.4,360.6h1.25v1.25h-1.25zM327.1,372.4h1.25v1.25h-1.25zM356.5,357.8h1.25v1.25h-1.25zM341.6,368.9h1.25v1.25h-1.25zM323.1,351.7h1.25v1.25h-1.25zM348.6,356.2h1.25v1.25h-1.25zM329.0,356.9h1.25v1.25h-1.25zM327.7,354.1h1.25v1.25h-1.25zM338.3,370.7h1.25v1.25h-1.25zM324.9,347.1h1.25v1.25h-1.25zM329.9,346.2h1.25v1.25h-1.25zM321.7,370.5h1.25v1.25h-1.25zM357.0,362.9h1.25v1.25h-1.25zM316.6,366.5h1.25v1.25h-1.25zM347.5,366.2h1.25v1.25h-1.25zM312.8,344.6h1.25v1.25h-1.25zM339.5,359.1h1.25v1.25h-1.25zM322.2,363.2h1.25v1.25h-1.25zM322.5,342.3h1.25v1.25h-1.25zM339.0,353.7h1.25v1.25h-1.25zM317.3,347.6h1.25v1.25h-1.25zM332.3,352.3h1.25v1.25h-1.25zM336.8,357.1h1.25v1.25h-1.25zM342.2,356.0h1.25v1.25h-1.25zM321.5,341.9h1.25v1.25h-1.25zM316.2,365.9h1.25v1.25h-1.25zM365.8,348.3h1.25v1.25h-1.25zM316.9,362.5h1.25v1.25h-1.25zM335.0,353.4h1.25v1.25h-1.25zM330.3,345.1h1.25v1.25h-1.25zM325.8,367.6h1.25v1.25h-1.25zM348.8,358.0h1.25v1.25h-1.25zM326.2,363.6h1.25v1.25h-1.25zM342.6,363.9h1.25v1.25h-1.25zM320.4,362.7h1.25v1.25h-1.25zM340.9,353.1h1.25v1.25h-1.25zM313.4,364.1h1.25v1.25h-1.25zM333.7,368.2h1.25v1.25h-1.25zM330.4,353.7h1.25v1.25h-1.25zM324.1,350.3h1.25v1.25h-1.25zM318.1,354.5h1.25v1.25h-1.25zM323.6,369.5h1.25v1.25h-1.25zM314.7,359.1h1.25v1.25h-1.25zM322.3,372.9h1.25v1.25h-1.25zM332.5,356.2h1.25v1.25h-1.25zM339.1,360.1h1.25v1.25h-1.25zM323.7,373.3h1.25v1.25h-1.25zM337.9,375.0h1.25v1.25h-1.25zM343.2,366.5h1.25v1.25h-1.25zM331.0,349.9h1.25v1.25h-1.25zM337.9,360.2h1.25v1.25h-1.25zM337.5,359.5h1.25v1.25h-1.25zM321.2,350.6h1.25v1.25h-1.25zM337.8,371.2h1.25v1.25h-1.25zM326.0,363.7h1.25v1.25h-1.25zM346.0,352.1h1.25v1.25h-1.25zM325.4,349.6h1.25v1.25h-1.25zM343.5,362.0h1.25v1.25h-1.25zM324.0,344.8h1.25v1.25h-1.25zM327.3,368.5h1.25v1.25h-1.25zM326.0,355.8h1.25v1.25h-1.25zM337.1,348.6h1.25v1.25h-1.25zM330.1,365.0h1.25v1.25h-1.25zM320.2,352.2h1.25v1.25h-1.25zM332.5,358.8h1.25v1.25h-1.25zM326.7,361.5h1.25v1.25h-1.25zM332.2,351.4h1.25v1.25h-1.25zM321.6,363.7h1.25v1.25h-1.25zM342.9,371.8h1.25v1.25h-1.25zM319.5,369.4h1.25v1.25h-1.25zM338.6,359.4h1.25v1.25h-1.25zM322.9,371.1h1.25v1.25h-1.25zM348.1,330.4h1.25v1.25h-1.25zM364.5,369.0h1.25v1.25h-1.25zM364.2,377.7h1.25v1.25h-1.25zM339.5,349.9h1.25v1.25h-1.25zM362.4,351.5h1.25v1.25h-1.25zM329.8,376.9h1.25v1.25h-1.25zM364.2,349.9h1.25v1.25h-1.25zM347.4,348.5h1.25v1.25h-1.25zM309.1,372.1h1.25v1.25h-1.25zM356.0,353.2h1.25v1.25h-1.25zM314.3,361.7h1.25v1.25h-1.25zM307.2,363.3h1.25v1.25h-1.25zM352.4,348.0h1.25v1.25h-1.25zM313.8,368.4h1.25v1.25h-1.25zM338.6,354.1h1.25v1.25h-1.25zM327.8,375.0h1.25v1.25h-1.25zM360.0,356.8h1.25v1.25h-1.25zM321.5,372.0h1.25v1.25h-1.25zM350.1,351.6h1.25v1.25h-1.25zM364.2,362.8h1.25v1.25h-1.25zM308.1,343.1h1.25v1.25h-1.25zM349.7,358.7h1.25v1.25h-1.25zM309.4,362.5h1.25v1.25h-1.25zM353.8,339.4h1.25v1.25h-1.25zM358.8,356.6h1.25v1.25h-1.25zM312.9,375.2h1.25v1.25h-1.25zM360.6,339.9h1.25v1.25h-1.25zM332.0,353.9h1.25v1.25h-1.25zM323.7,371.0h1.25v1.25h-1.25zM365.8,350.9h1.25v1.25h-1.25zM317.4,355.7h1.25v1.25h-1.25zM325.1,352.6h1.25v1.25h-1.25zM361.9,375.5h1.25v1.25h-1.25zM367.0,362.5h1.25v1.25h-1.25zM333.1,368.0h1.25v1.25h-1.25zM335.6,348.0h1.25v1.25h-1.25zM342.3,373.9h1.25v1.25h-1.25zM310.6,386.2h1.25v1.25h-1.25zM346.0,399.7h1.25v1.25h-1.25zM361.1,389.9h1.25v1.25h-1.25zM345.3,383.2h1.25v1.25h-1.25zM365.2,405.1h1.25v1.25h-1.25zM321.2,385.9h1.25v1.25h-1.25zM341.4,393.3h1.25v1.25h-1.25zM338.1,401.6h1.25v1.25h-1.25zM323.3,402.3h1.25v1.25h-1.25zM353.4,406.9h1.25v1.25h-1.25zM331.7,397.4h1.25v1.25h-1.25zM345.3,385.8h1.25v1.25h-1.25zM350.1,398.7h1.25v1.25h-1.25zM311.2,395.9h1.25v1.25h-1.25zM308.4,388.5h1.25v1.25h-1.25zM345.3,391.1h1.25v1.25h-1.25zM314.2,389.5h1.25v1.25h-1.25zM313.1,391.2h1.25v1.25h-1.25zM335.8,391.1h1.25v1.25h-1.25zM316.0,401.6h1.25v1.25h-1.25zM362.7,394.0h1.25v1.25h-1.25zM318.9,404.0h1.25v1.25h-1.25zM363.5,395.1h1.25v1.25h-1.25zM349.4,389.6h1.25v1.25h-1.25zM339.5,406.0h1.25v1.25h-1.25zM346.6,398.9h1.25v1.25h-1.25zM347.9,403.9h1.25v1.25h-1.25zM322.7,388.1h1.25v1.25h-1.25zM335.3,407.3h1.25v1.25h-1.25zM309.1,398.5h1.25v1.25h-1.25zM308.0,391.7h1.25v1.25h-1.25zM351.7,382.9h1.25v1.25h-1.25zM311.4,387.1h1.25v1.25h-1.25zM343.7,390.1h1.25v1.25h-1.25zM349.3,395.8h1.25v1.25h-1.25zM331.7,392.3h1.25v1.25h-1.25zM328.4,383.2h1.25v1.25h-1.25zM350.0,385.8h1.25v1.25h-1.25zM305.6,382.5h1.25v1.25h-1.25zM334.2,383.1h1.25v1.25h-1.25zM320.9,389.7h1.25v1.25h-1.25zM332.5,398.6h1.25v1.25h-1.25zM339.3,386.0h1.25v1.25h-1.25zM331.1,405.0h1.25v1.25h-1.25zM359.7,398.0h1.25v1.25h-1.25zM352.1,383.3h1.25v1.25h-1.25zM336.0,395.3h1.25v1.25h-1.25zM321.8,406.3h1.25v1.25h-1.25zM355.6,407.5h1.25v1.25h-1.25zM312.2,401.2h1.25v1.25h-1.25zM341.8,405.1h1.25v1.25h-1.25zM344.3,384.5h1.25v1.25h-1.25zM311.8,395.2h1.25v1.25h-1.25zM317.7,394.4h1.25v1.25h-1.25zM346.7,387.6h1.25v1.25h-1.25zM358.2,396.7h1.25v1.25h-1.25zM329.2,396.6h1.25v1.25h-1.25zM337.9,407.3h1.25v1.25h-1.25zM348.9,383.7h1.25v1.25h-1.25zM341.1,389.8h1.25v1.25h-1.25zM333.7,386.4h1.25v1.25h-1.25zM344.6,387.8h1.25v1.25h-1.25zM349.0,390.3h1.25v1.25h-1.25zM354.7,391.6h1.25v1.25h-1.25zM339.8,406.9h1.25v1.25h-1.25zM346.0,390.5h1.25v1.25h-1.25zM317.1,394.6h1.25v1.25h-1.25zM315.0,386.3h1.25v1.25h-1.25zM318.9,387.6h1.25v1.25h-1.25zM332.1,396.8h1.25v1.25h-1.25zM359.9,389.8h1.25v1.25h-1.25zM314.1,389.2h1.25v1.25h-1.25zM347.1,395.6h1.25v1.25h-1.25zM320.4,382.4h1.25v1.25h-1.25zM343.8,404.4h1.25v1.25h-1.25zM355.9,392.7h1.25v1.25h-1.25zM337.1,386.4h1.25v1.25h-1.25zM338.7,383.2h1.25v1.25h-1.25zM315.7,394.6h1.25v1.25h-1.25zM312.2,398.4h1.25v1.25h-1.25zM351.4,391.9h1.25v1.25h-1.25zM308.2,387.7h1.25v1.25h-1.25zM362.8,400.0h1.25v1.25h-1.25zM316.5,397.3h1.25v1.25h-1.25zM349.6,391.0h1.25v1.25h-1.25zM332.8,398.0h1.25v1.25h-1.25zM343.0,403.8h1.25v1.25h-1.25zM351.9,395.4h1.25v1.25h-1.25zM323.4,392.1h1.25v1.25h-1.25zM356.2,398.0h1.25v1.25h-1.25zM351.8,395.1h1.25v1.25h-1.25zM341.0,384.6h1.25v1.25h-1.25zM340.6,405.5h1.25v1.25h-1.25zM328.8,385.2h1.25v1.25h-1.25zM365.1,401.3h1.25v1.25h-1.25zM329.0,393.3h1.25v1.25h-1.25zM319.9,402.4h1.25v1.25h-1.25zM339.6,395.6h1.25v1.25h-1.25zM362.1,403.3h1.25v1.25h-1.25zM362.4,394.2h1.25v1.25h-1.25zM340.8,388.4h1.25v1.25h-1.25zM329.3,402.0h1.25v1.25h-1.25zM351.3,403.5h1.25v1.25h-1.25zM339.7,395.1h1.25v1.25h-1.25zM356.0,406.2h1.25v1.25h-1.25zM356.7,400.4h1.25v1.25h-1.25zM348.5,406.2h1.25v1.25h-1.25zM345.2,406.5h1.25v1.25h-1.25zM365.4,402.0h1.25v1.25h-1.25zM345.4,406.5h1.25v1.25h-1.25zM318.5,391.1h1.25v1.25h-1.25zM343.9,396.5h1.25v1.25h-1.25zM352.6,405.3h1.25v1.25h-1.25zM331.2,399.5h1.25v1.25h-1.25zM315.4,389.5h1.25v1.25h-1.25zM326.8,389.5h1.25v1.25h-1.25zM353.5,406.6h1.25v1.25h-1.25zM317.9,399.5h1.25v1.25h-1.25zM305.7,383.4h1.25v1.25h-1.25zM365.2,396.5h1.25v1.25h-1.25zM354.7,394.1h1.25v1.25h-1.25zM350.2,399.4h1.25v1.25h-1.25zM339.2,384.2h1.25v1.25h-1.25zM345.4,388.6h1.25v1.25h-1.25zM351.3,404.9h1.25v1.25h-1.25zM325.4,383.1h1.25v1.25h-1.25zM317.7,384.9h1.25v1.25h-1.25zM348.0,403.3h1.25v1.25h-1.25zM342.4,399.6h1.25v1.25h-1.25zM366.4,394.3h1.25v1.25h-1.25zM330.7,404.3h1.25v1.25h-1.25zM330.7,387.4h1.25v1.25h-1.25zM312.6,382.1h1.25v1.25h-1.25zM305.9,403.1h1.25v1.25h-1.25zM313.6,398.6h1.25v1.25h-1.25zM341.7,390.8h1.25v1.25h-1.25zM364.8,397.1h1.25v1.25h-1.25zM339.6,383.0h1.25v1.25h-1.25zM334.6,390.5h1.25v1.25h-1.25zM305.4,387.3h1.25v1.25h-1.25zM320.7,384.9h1.25v1.25h-1.25zM325.1,382.2h1.25v1.25h-1.25zM311.2,388.2h1.25v1.25h-1.25zM336.2,383.9h1.25v1.25h-1.25zM304.4,393.9h1.25v1.25h-1.25zM339.7,387.1h1.25v1.25h-1.25zM310.3,383.9h1.25v1.25h-1.25zM327.9,382.6h1.25v1.25h-1.25zM346.7,386.4h1.25v1.25h-1.25zM330.0,382.3h1.25v1.25h-1.25zM312.0,383.2h1.25v1.25h-1.25zM328.3,385.0h1.25v1.25h-1.25zM320.5,387.0h1.25v1.25h-1.25zM327.6,391.0h1.25v1.25h-1.25zM321.8,382.4h1.25v1.25h-1.25zM324.4,390.9h1.25v1.25h-1.25zM316.9,386.0h1.25v1.25h-1.25zM319.6,387.3h1.25v1.25h-1.25zM328.1,383.1h1.25v1.25h-1.25zM321.4,389.1h1.25v1.25h-1.25zM339.6,389.1h1.25v1.25h-1.25zM336.4,384.7h1.25v1.25h-1.25zM319.5,389.1h1.25v1.25h-1.25zM308.4,385.7h1.25v1.25h-1.25zM314.8,381.7h1.25v1.25h-1.25zM332.5,383.4h1.25v1.25h-1.25zM319.5,385.0h1.25v1.25h-1.25zM314.4,390.8h1.25v1.25h-1.25zM317.7,386.6h1.25v1.25h-1.25zM306.6,384.3h1.25v1.25h-1.25zM320.1,384.8h1.25v1.25h-1.25zM316.5,386.4h1.25v1.25h-1.25zM346.0,385.4h1.25v1.25h-1.25zM322.6,384.5h1.25v1.25h-1.25zM359.4,391.4h1.25v1.25h-1.25zM332.2,388.3h1.25v1.25h-1.25zM314.8,385.4h1.25v1.25h-1.25zM327.4,386.3h1.25v1.25h-1.25zM312.8,383.2h1.25v1.25h-1.25zM331.6,387.0h1.25v1.25h-1.25zM342.0,383.7h1.25v1.25h-1.25zM327.9,380.9h1.25v1.25h-1.25zM336.0,382.1h1.25v1.25h-1.25zM307.4,384.8h1.25v1.25h-1.25zM307.2,387.5h1.25v1.25h-1.25zM327.7,391.6h1.25v1.25h-1.25zM320.2,387.2h1.25v1.25h-1.25zM329.5,389.6h1.25v1.25h-1.25zM304.1,383.1h1.25v1.25h-1.25zM322.8,388.8h1.25v1.25h-1.25zM331.1,384.4h1.25v1.25h-1.25zM310.6,388.9h1.25v1.25h-1.25zM337.6,395.2h1.25v1.25h-1.25zM322.1,391.5h1.25v1.25h-1.25zM308.0,384.0h1.25v1.25h-1.25zM315.3,384.3h1.25v1.25h-1.25zM312.6,384.0h1.25v1.25h-1.25zM323.8,384.4h1.25v1.25h-1.25zM333.6,385.6h1.25v1.25h-1.25zM324.6,391.0h1.25v1.25h-1.25zM328.9,386.4h1.25v1.25h-1.25zM324.3,386.1h1.25v1.25h-1.25zM332.5,383.1h1.25v1.25h-1.25zM340.3,391.3h1.25v1.25h-1.25zM340.4,384.2h1.25v1.25h-1.25zM326.7,388.7h1.25v1.25h-1.25zM322.1,384.9h1.25v1.25h-1.25zM345.5,383.6h1.25v1.25h-1.25zM339.2,389.0h1.25v1.25h-1.25zM306.4,386.9h1.25v1.25h-1.25zM316.9,382.6h1.25v1.25h-1.25zM330.3,384.6h1.25v1.25h-1.25zM328.3,382.3h1.25v1.25h-1.25zM320.2,385.0h1.25v1.25h-1.25zM330.6,386.4h1.25v1.25h-1.25zM311.8,385.6h1.25v1.25h-1.25zM333.7,392.2h1.25v1.25h-1.25zM312.4,388.0h1.25v1.25h-1.25zM290.9,337.9h1.25v1.25h-1.25zM288.0,358.0h1.25v1.25h-1.25zM273.6,344.5h1.25v1.25h-1.25zM299.3,362.6h1.25v1.25h-1.25zM273.4,366.8h1.25v1.25h-1.25zM268.4,347.1h1.25v1.25h-1.25zM288.6,340.1h1.25v1.25h-1.25zM296.8,349.5h1.25v1.25h-1.25zM295.7,349.1h1.25v1.25h-1.25zM296.0,354.5h1.25v1.25h-1.25zM297.4,349.8h1.25v1.25h-1.25zM297.2,355.3h1.25v1.25h-1.25zM299.7,351.9h1.25v1.25h-1.25zM298.8,354.3h1.25v1.25h-1.25zM296.0,355.7h1.25v1.25h-1.25zM296.7,353.5h1.25v1.25h-1.25z" fill="#000" fill-opacity="0.92"/>
<rect x="263.40" y="329.20" width="105.80" height="80.40" fill="none" stroke="#000" stroke-width="1.3"/>
<line x1="303.30" y1="329.20" x2="303.30" y2="409.60" stroke="#000" stroke-width="1.2" />
<line x1="263.40" y1="380.10" x2="369.20" y2="380.10" stroke="#000" stroke-width="1.2" />
<path d="M259.4,403.5H263.4M271.4,409.6V412.8M259.4,400.0H263.4M276.0,409.6V412.8M259.4,397.5H263.4M279.3,409.6V412.8M259.4,395.6H263.4M281.9,409.6V412.8M259.4,394.0H263.4M284.0,409.6V412.8M259.4,392.6H263.4M285.8,409.6V412.8M259.4,391.4H263.4M287.3,409.6V412.8M259.4,390.4H263.4M288.6,409.6V412.8M259.4,383.4H263.4M297.8,409.6V412.8M259.4,379.9H263.4M302.5,409.6V412.8M259.4,377.4H263.4M305.8,409.6V412.8M259.4,375.5H263.4M308.3,409.6V412.8M259.4,373.9H263.4M310.4,409.6V412.8M259.4,372.5H263.4M312.2,409.6V412.8M259.4,371.3H263.4M313.7,409.6V412.8M259.4,370.3H263.4M315.1,409.6V412.8M259.4,363.3H263.4M324.3,409.6V412.8M259.4,359.8H263.4M328.9,409.6V412.8M259.4,357.3H263.4M332.2,409.6V412.8M259.4,355.4H263.4M334.8,409.6V412.8M259.4,353.8H263.4M336.9,409.6V412.8M259.4,352.4H263.4M338.7,409.6V412.8M259.4,351.2H263.4M340.2,409.6V412.8M259.4,350.2H263.4M341.5,409.6V412.8M259.4,343.2H263.4M350.7,409.6V412.8M259.4,339.7H263.4M355.4,409.6V412.8M259.4,337.2H263.4M358.7,409.6V412.8M259.4,335.3H263.4M361.2,409.6V412.8M259.4,333.7H263.4M363.3,409.6V412.8M259.4,332.3H263.4M365.1,409.6V412.8M259.4,331.1H263.4M366.6,409.6V412.8M259.4,330.1H263.4M368.0,409.6V412.8" stroke="#000" stroke-width="1.0" fill="none"/>
<path d="M258.4,409.6H263.4M263.4,409.6V413.8M258.4,389.5H263.4M289.8,409.6V413.8M258.4,369.4H263.4M316.3,409.6V413.8M258.4,349.3H263.4M342.8,409.6V413.8M258.4,329.2H263.4M369.2,409.6V413.8" stroke="#000" stroke-width="1.5" fill="none"/>
<text x="260.40" y="426.60" style="font-family:'Liberation Sans',sans-serif;font-weight:normal;font-size:10.8px" text-anchor="middle" fill="#000" textLength="9.40" lengthAdjust="spacingAndGlyphs" stroke="#000" stroke-width="0.35">10</text>
<text x="268.30" y="421.30" style="font-family:'Liberation Sans',sans-serif;font-weight:normal;font-size:10.6px" text-anchor="middle" fill="#000" textLength="4.40" lengthAdjust="spacingAndGlyphs" stroke="#000" stroke-width="0.3">0</text>
<text x="286.85" y="426.60" style="font-family:'Liberation Sans',sans-serif;font-weight:normal;font-size:10.8px" text-anchor="middle" fill="#000" textLength="9.40" lengthAdjust="spacingAndGlyphs" stroke="#000" stroke-width="0.35">10</text>
<text x="294.75" y="421.30" style="font-family:'Liberation Sans',sans-serif;font-weight:normal;font-size:10.6px" text-anchor="middle" fill="#000" textLength="4.40" lengthAdjust="spacingAndGlyphs" stroke="#000" stroke-width="0.3">1</text>
<text x="313.30" y="426.60" style="font-family:'Liberation Sans',sans-serif;font-weight:normal;font-size:10.8px" text-anchor="middle" fill="#000" textLength="9.40" lengthAdjust="spacingAndGlyphs" stroke="#000" stroke-width="0.35">10</text>
<text x="321.20" y="421.30" style="font-family:'Liberation Sans',sans-serif;font-weight:normal;font-size:10.6px" text-anchor="middle" fill="#000" textLength="4.40" lengthAdjust="spacingAndGlyphs" stroke="#000" stroke-width="0.3">2</text>
<text x="339.75" y="426.60" style="font-family:'Liberation Sans',sans-serif;font-weight:normal;font-size:10.8px" text-anchor="middle" fill="#000" textLength="9.40" lengthAdjust="spacingAndGlyphs" stroke="#000" stroke-width="0.35">10</text>
<text x="347.65" y="421.30" style="font-family:'Liberation Sans',sans-serif;font-weight:normal;font-size:10.6px" text-anchor="middle" fill="#000" textLength="4.40" lengthAdjust="spacingAndGlyphs" stroke="#000" stroke-width="0.3">3</text>
<text x="366.20" y="426.60" style="font-family:'Liberation Sans',sans-serif;font-weight:normal;font-size:10.8px" text-anchor="middle" fill="#000" textLength="9.40" lengthAdjust="spacingAndGlyphs" stroke="#000" stroke-width="0.35">10</text>
<text x="374.10" y="421.30" style="font-family:'Liberation Sans',sans-serif;font-weight:normal;font-size:10.6px" text-anchor="middle" fill="#000" textLength="4.40" lengthAdjust="spacingAndGlyphs" stroke="#000" stroke-width="0.3">4</text>
<text x="266.70" y="337.80" style="font-family:'Liberation Serif',serif;font-weight:bold;font-size:8.2px" text-anchor="start" fill="#000"  stroke="#000" stroke-width="0.3">1.9</text>
<text x="310.40" y="337.20" style="font-family:'Liberation Serif',serif;font-weight:bold;font-size:8.2px" text-anchor="start" fill="#000"  stroke="#000" stroke-width="0.3">62.4</text>
<text x="356.20" y="387.60" style="font-family:'Liberation Serif',serif;font-weight:bold;font-size:8.2px" text-anchor="start" fill="#000"  stroke="#000" stroke-width="0.3">4.8</text>
<text transform="translate(242.90,370.40) rotate(-90)" style="font-family:'Liberation Sans',sans-serif;font-weight:normal;font-size:10.4px" text-anchor="middle" textLength="83.7" lengthAdjust="spacingAndGlyphs" stroke="#000" stroke-width="0.45">PROPIDIUM IODIDE</text>
<text transform="translate(254.50,413.20) rotate(-90)" style="font-family:'Liberation Sans',sans-serif;font-weight:normal;font-size:10.0px" text-anchor="middle" textLength="9.8" lengthAdjust="spacingAndGlyphs" stroke="#000" stroke-width="0.35">10</text>
<text transform="translate(249.10,404.20) rotate(-90)" style="font-family:'Liberation Sans',sans-serif;font-weight:normal;font-size:9.6px" text-anchor="middle" textLength="4.6" lengthAdjust="spacingAndGlyphs" stroke="#000" stroke-width="0.3">0</text>
<text transform="translate(254.50,393.10) rotate(-90)" style="font-family:'Liberation Sans',sans-serif;font-weight:normal;font-size:10.0px" text-anchor="middle" textLength="9.8" lengthAdjust="spacingAndGlyphs" stroke="#000" stroke-width="0.35">10</text>
<text transform="translate(249.10,384.10) rotate(-90)" style="font-family:'Liberation Sans',sans-serif;font-weight:normal;font-size:9.6px" text-anchor="middle" textLength="4.6" lengthAdjust="spacingAndGlyphs" stroke="#000" stroke-width="0.3">1</text>
<text transform="translate(254.50,373.00) rotate(-90)" style="font-family:'Liberation Sans',sans-serif;font-weight:normal;font-size:10.0px" text-anchor="middle" textLength="9.8" lengthAdjust="spacingAndGlyphs" stroke="#000" stroke-width="0.35">10</text>
<text transform="translate(249.10,364.00) rotate(-90)" style="font-family:'Liberation Sans',sans-serif;font-weight:normal;font-size:9.6px" text-anchor="middle" textLength="4.6" lengthAdjust="spacingAndGlyphs" stroke="#000" stroke-width="0.3">2</text>
<text transform="translate(254.50,352.90) rotate(-90)" style="font-family:'Liberation Sans',sans-serif;font-weight:normal;font-size:10.0px" text-anchor="middle" textLength="9.8" lengthAdjust="spacingAndGlyphs" stroke="#000" stroke-width="0.35">10</text>
<text transform="translate(249.10,343.90) rotate(-90)" style="font-family:'Liberation Sans',sans-serif;font-weight:normal;font-size:9.6px" text-anchor="middle" textLength="4.6" lengthAdjust="spacingAndGlyphs" stroke="#000" stroke-width="0.3">3</text>
<text transform="translate(254.50,332.80) rotate(-90)" style="font-family:'Liberation Sans',sans-serif;font-weight:normal;font-size:10.0px" text-anchor="middle" textLength="9.8" lengthAdjust="spacingAndGlyphs" stroke="#000" stroke-width="0.35">10</text>
<text transform="translate(249.10,323.80) rotate(-90)" style="font-family:'Liberation Sans',sans-serif;font-weight:normal;font-size:9.6px" text-anchor="middle" textLength="4.6" lengthAdjust="spacingAndGlyphs" stroke="#000" stroke-width="0.3">4</text>
<g clip-path="url(#clipD)"><text x="315.20" y="438.2" style="font-family:'Liberation Sans',sans-serif;font-weight:normal;font-size:11px" text-anchor="middle" textLength="71.6" lengthAdjust="spacingAndGlyphs" stroke="#000" stroke-width="0.5">ANNEXIN V FITC</text></g>
<path d="M433.5,388.9h1.25v1.25h-1.25zM433.0,391.5h1.25v1.25h-1.25zM415.8,397.3h1.25v1.25h-1.25zM434.7,385.6h1.25v1.25h-1.25zM414.9,398.1h1.25v1.25h-1.25zM435.1,388.8h1.25v1.25h-1.25zM425.0,390.2h1.25v1.25h-1.25zM419.0,399.0h1.25v1.25h-1.25zM414.1,396.3h1.25v1.25h-1.25zM422.2,394.5h1.25v1.25h-1.25zM423.9,392.3h1.25v1.25h-1.25zM419.2,396.7h1.25v1.25h-1.25zM429.3,390.4h1.25v1.25h-1.25zM413.8,400.3h1.25v1.25h-1.25zM424.3,392.6h1.25v1.25h-1.25zM420.6,387.5h1.25v1.25h-1.25zM425.9,389.8h1.25v1.25h-1.25zM414.7,399.4h1.25v1.25h-1.25zM422.1,399.3h1.25v1.25h-1.25zM421.2,391.9h1.25v1.25h-1.25zM432.6,389.6h1.25v1.25h-1.25zM423.4,399.1h1.25v1.25h-1.25zM439.2,389.6h1.25v1.25h-1.25zM438.0,388.5h1.25v1.25h-1.25zM434.3,388.9h1.25v1.25h-1.25zM432.4,382.6h1.25v1.25h-1.25zM430.0,394.8h1.25v1.25h-1.25zM422.9,399.5h1.25v1.25h-1.25zM431.4,391.9h1.25v1.25h-1.25zM433.7,390.1h1.25v1.25h-1.25zM426.7,392.1h1.25v1.25h-1.25zM421.9,393.1h1.25v1.25h-1.25zM415.1,404.8h1.25v1.25h-1.25zM432.4,393.0h1.25v1.25h-1.25zM425.4,388.4h1.25v1.25h-1.25zM416.7,402.9h1.25v1.25h-1.25zM426.0,393.3h1.25v1.25h-1.25zM432.0,391.6h1.25v1.25h-1.25zM424.5,394.5h1.25v1.25h-1.25zM432.9,391.9h1.25v1.25h-1.25zM432.5,391.9h1.25v1.25h-1.25zM415.4,403.8h1.25v1.25h-1.25zM419.8,391.1h1.25v1.25h-1.25zM430.1,392.8h1.25v1.25h-1.25zM431.8,388.3h1.25v1.25h-1.25zM433.2,382.4h1.25v1.25h-1.25zM411.7,405.7h1.25v1.25h-1.25zM421.6,389.8h1.25v1.25h-1.25zM432.0,391.7h1.25v1.25h-1.25zM437.4,391.1h1.25v1.25h-1.25zM436.6,382.5h1.25v1.25h-1.25zM419.5,400.9h1.25v1.25h-1.25zM422.9,396.5h1.25v1.25h-1.25zM418.1,400.8h1.25v1.25h-1.25zM428.3,385.0h1.25v1.25h-1.25zM416.0,402.2h1.25v1.25h-1.25zM434.1,387.1h1.25v1.25h-1.25zM433.4,390.1h1.25v1.25h-1.25zM428.5,390.6h1.25v1.25h-1.25zM420.2,397.7h1.25v1.25h-1.25zM431.8,391.0h1.25v1.25h-1.25zM416.8,404.8h1.25v1.25h-1.25zM423.4,395.1h1.25v1.25h-1.25zM426.0,396.5h1.25v1.25h-1.25zM432.0,389.0h1.25v1.25h-1.25zM428.0,393.1h1.25v1.25h-1.25zM425.9,390.3h1.25v1.25h-1.25zM423.0,397.8h1.25v1.25h-1.25zM427.3,396.6h1.25v1.25h-1.25zM423.6,393.8h1.25v1.25h-1.25zM431.9,391.4h1.25v1.25h-1.25zM424.3,395.4h1.25v1.25h-1.25zM430.5,384.5h1.25v1.25h-1.25zM412.6,403.6h1.25v1.25h-1.25zM436.5,390.2h1.25v1.25h-1.25zM422.6,392.9h1.25v1.25h-1.25zM429.9,382.2h1.25v1.25h-1.25zM425.9,393.4h1.25v1.25h-1.25zM430.0,386.8h1.25v1.25h-1.25zM439.9,390.2h1.25v1.25h-1.25zM420.5,396.2h1.25v1.25h-1.25zM425.4,392.8h1.25v1.25h-1.25zM422.3,392.5h1.25v1.25h-1.25zM426.9,392.8h1.25v1.25h-1.25zM411.4,400.7h1.25v1.25h-1.25zM421.7,391.8h1.25v1.25h-1.25zM422.8,394.5h1.25v1.25h-1.25zM417.3,395.4h1.25v1.25h-1.25zM425.9,397.9h1.25v1.25h-1.25zM410.8,398.6h1.25v1.25h-1.25zM435.3,385.4h1.25v1.25h-1.25zM426.9,388.9h1.25v1.25h-1.25zM421.4,402.6h1.25v1.25h-1.25zM411.8,394.0h1.25v1.25h-1.25zM429.8,395.7h1.25v1.25h-1.25zM409.4,398.7h1.25v1.25h-1.25zM426.7,392.3h1.25v1.25h-1.25zM423.9,403.3h1.25v1.25h-1.25zM418.1,389.4h1.25v1.25h-1.25zM424.1,388.2h1.25v1.25h-1.25zM427.7,396.6h1.25v1.25h-1.25zM439.3,383.5h1.25v1.25h-1.25zM428.5,388.3h1.25v1.25h-1.25zM414.9,400.3h1.25v1.25h-1.25zM430.4,385.3h1.25v1.25h-1.25zM414.9,401.0h1.25v1.25h-1.25zM428.4,396.8h1.25v1.25h-1.25zM414.6,399.1h1.25v1.25h-1.25zM418.8,398.2h1.25v1.25h-1.25zM437.1,389.3h1.25v1.25h-1.25zM424.5,401.7h1.25v1.25h-1.25zM418.8,395.3h1.25v1.25h-1.25zM421.1,397.2h1.25v1.25h-1.25zM421.3,393.5h1.25v1.25h-1.25zM434.5,383.6h1.25v1.25h-1.25zM415.1,398.7h1.25v1.25h-1.25zM414.2,398.4h1.25v1.25h-1.25zM425.8,385.4h1.25v1.25h-1.25zM420.6,393.4h1.25v1.25h-1.25zM433.6,387.4h1.25v1.25h-1.25zM427.2,396.6h1.25v1.25h-1.25zM420.1,394.5h1.25v1.25h-1.25zM419.1,396.8h1.25v1.25h-1.25zM419.1,400.2h1.25v1.25h-1.25zM421.7,398.6h1.25v1.25h-1.25zM425.6,392.3h1.25v1.25h-1.25zM434.1,386.3h1.25v1.25h-1.25zM435.8,393.0h1.25v1.25h-1.25zM419.8,395.6h1.25v1.25h-1.25zM418.2,396.0h1.25v1.25h-1.25zM426.8,385.1h1.25v1.25h-1.25zM411.8,404.5h1.25v1.25h-1.25zM420.9,395.1h1.25v1.25h-1.25zM426.0,400.3h1.25v1.25h-1.25zM415.6,398.6h1.25v1.25h-1.25zM418.7,401.0h1.25v1.25h-1.25zM429.2,394.0h1.25v1.25h-1.25zM415.2,394.9h1.25v1.25h-1.25zM422.8,401.2h1.25v1.25h-1.25zM425.3,393.0h1.25v1.25h-1.25zM414.1,400.7h1.25v1.25h-1.25zM432.3,386.6h1.25v1.25h-1.25zM421.5,394.0h1.25v1.25h-1.25zM422.0,393.9h1.25v1.25h-1.25zM417.3,389.1h1.25v1.25h-1.25zM420.5,398.5h1.25v1.25h-1.25zM417.3,399.0h1.25v1.25h-1.25zM431.5,384.5h1.25v1.25h-1.25zM426.0,392.1h1.25v1.25h-1.25zM428.3,400.2h1.25v1.25h-1.25zM432.9,389.0h1.25v1.25h-1.25zM418.4,396.3h1.25v1.25h-1.25zM432.7,394.6h1.25v1.25h-1.25zM423.2,391.2h1.25v1.25h-1.25zM417.5,397.9h1.25v1.25h-1.25zM429.3,387.8h1.25v1.25h-1.25zM412.8,401.1h1.25v1.25h-1.25zM430.9,391.8h1.25v1.25h-1.25zM419.0,399.9h1.25v1.25h-1.25zM426.2,389.3h1.25v1.25h-1.25zM434.8,385.5h1.25v1.25h-1.25zM429.0,390.6h1.25v1.25h-1.25zM419.2,395.7h1.25v1.25h-1.25zM424.2,393.5h1.25v1.25h-1.25zM420.3,393.6h1.25v1.25h-1.25zM414.2,398.0h1.25v1.25h-1.25zM416.2,399.7h1.25v1.25h-1.25zM422.8,390.5h1.25v1.25h-1.25zM429.4,391.7h1.25v1.25h-1.25zM410.8,402.7h1.25v1.25h-1.25zM422.1,391.4h1.25v1.25h-1.25zM427.1,389.1h1.25v1.25h-1.25zM424.4,391.6h1.25v1.25h-1.25zM416.6,398.6h1.25v1.25h-1.25zM432.5,388.1h1.25v1.25h-1.25zM414.8,399.7h1.25v1.25h-1.25zM427.7,387.7h1.25v1.25h-1.25zM439.3,388.6h1.25v1.25h-1.25zM426.6,392.4h1.25v1.25h-1.25zM428.6,394.4h1.25v1.25h-1.25zM426.8,393.2h1.25v1.25h-1.25zM418.1,397.1h1.25v1.25h-1.25zM422.2,395.5h1.25v1.25h-1.25zM427.3,395.5h1.25v1.25h-1.25zM430.5,393.4h1.25v1.25h-1.25zM418.6,396.2h1.25v1.25h-1.25zM418.6,400.3h1.25v1.25h-1.25zM425.2,402.2h1.25v1.25h-1.25zM425.1,394.8h1.25v1.25h-1.25zM426.9,396.1h1.25v1.25h-1.25zM426.0,397.5h1.25v1.25h-1.25zM426.1,394.9h1.25v1.25h-1.25zM417.5,405.0h1.25v1.25h-1.25zM430.0,391.5h1.25v1.25h-1.25zM433.9,384.1h1.25v1.25h-1.25zM419.9,398.1h1.25v1.25h-1.25zM426.8,392.3h1.25v1.25h-1.25zM434.2,392.1h1.25v1.25h-1.25zM428.3,388.8h1.25v1.25h-1.25zM434.0,386.6h1.25v1.25h-1.25zM422.4,391.8h1.25v1.25h-1.25zM427.5,391.4h1.25v1.25h-1.25zM426.7,390.3h1.25v1.25h-1.25zM422.1,397.4h1.25v1.25h-1.25zM433.1,386.7h1.25v1.25h-1.25zM427.9,388.6h1.25v1.25h-1.25zM431.1,387.5h1.25v1.25h-1.25zM421.1,395.4h1.25v1.25h-1.25zM431.1,386.6h1.25v1.25h-1.25zM418.2,401.9h1.25v1.25h-1.25zM428.6,393.3h1.25v1.25h-1.25zM414.4,396.0h1.25v1.25h-1.25zM430.8,391.0h1.25v1.25h-1.25zM418.4,392.7h1.25v1.25h-1.25zM426.0,393.2h1.25v1.25h-1.25zM412.2,402.6h1.25v1.25h-1.25zM434.8,383.6h1.25v1.25h-1.25zM427.2,388.2h1.25v1.25h-1.25zM422.8,391.9h1.25v1.25h-1.25zM431.4,396.8h1.25v1.25h-1.25zM426.2,391.1h1.25v1.25h-1.25zM434.5,385.3h1.25v1.25h-1.25zM427.8,395.0h1.25v1.25h-1.25zM414.0,402.8h1.25v1.25h-1.25zM424.4,397.8h1.25v1.25h-1.25zM431.6,383.4h1.25v1.25h-1.25zM426.5,387.6h1.25v1.25h-1.25zM427.6,404.8h1.25v1.25h-1.25zM428.8,390.2h1.25v1.25h-1.25zM424.6,392.2h1.25v1.25h-1.25zM429.2,390.7h1.25v1.25h-1.25zM414.3,404.9h1.25v1.25h-1.25zM415.2,395.4h1.25v1.25h-1.25zM429.8,390.7h1.25v1.25h-1.25zM422.6,394.8h1.25v1.25h-1.25zM428.2,393.5h1.25v1.25h-1.25zM439.3,383.4h1.25v1.25h-1.25zM420.9,393.9h1.25v1.25h-1.25zM424.4,390.0h1.25v1.25h-1.25zM415.4,390.2h1.25v1.25h-1.25zM421.5,399.6h1.25v1.25h-1.25zM420.9,390.1h1.25v1.25h-1.25zM412.6,400.5h1.25v1.25h-1.25zM433.7,385.1h1.25v1.25h-1.25zM424.7,395.8h1.25v1.25h-1.25zM432.3,386.9h1.25v1.25h-1.25zM426.6,394.8h1.25v1.25h-1.25zM425.5,392.9h1.25v1.25h-1.25zM428.3,388.6h1.25v1.25h-1.25zM432.3,393.3h1.25v1.25h-1.25zM414.7,399.5h1.25v1.25h-1.25zM430.8,383.5h1.25v1.25h-1.25zM416.4,398.1h1.25v1.25h-1.25zM426.9,393.9h1.25v1.25h-1.25zM426.4,395.3h1.25v1.25h-1.25zM438.3,386.6h1.25v1.25h-1.25zM425.8,401.1h1.25v1.25h-1.25zM427.7,388.6h1.25v1.25h-1.25zM425.9,395.1h1.25v1.25h-1.25zM424.2,386.9h1.25v1.25h-1.25zM417.1,397.2h1.25v1.25h-1.25zM417.6,398.9h1.25v1.25h-1.25zM427.6,392.9h1.25v1.25h-1.25zM412.5,402.0h1.25v1.25h-1.25zM417.8,398.0h1.25v1.25h-1.25zM427.9,388.5h1.25v1.25h-1.25zM418.8,395.8h1.25v1.25h-1.25zM418.2,399.3h1.25v1.25h-1.25zM417.1,401.1h1.25v1.25h-1.25zM426.6,394.5h1.25v1.25h-1.25zM423.5,398.2h1.25v1.25h-1.25zM427.7,395.9h1.25v1.25h-1.25zM419.4,389.9h1.25v1.25h-1.25zM437.2,382.1h1.25v1.25h-1.25zM420.7,395.6h1.25v1.25h-1.25zM427.2,395.7h1.25v1.25h-1.25zM425.8,395.6h1.25v1.25h-1.25zM425.3,392.5h1.25v1.25h-1.25zM412.5,402.7h1.25v1.25h-1.25zM435.2,390.8h1.25v1.25h-1.25zM423.4,392.9h1.25v1.25h-1.25zM423.4,393.0h1.25v1.25h-1.25zM414.2,404.6h1.25v1.25h-1.25zM428.7,392.3h1.25v1.25h-1.25zM426.5,397.7h1.25v1.25h-1.25zM435.1,387.2h1.25v1.25h-1.25zM422.6,397.9h1.25v1.25h-1.25zM414.0,398.9h1.25v1.25h-1.25zM423.5,390.4h1.25v1.25h-1.25zM417.4,398.6h1.25v1.25h-1.25zM422.3,384.4h1.25v1.25h-1.25zM417.0,400.6h1.25v1.25h-1.25zM425.2,396.9h1.25v1.25h-1.25zM422.7,395.1h1.25v1.25h-1.25zM423.6,393.2h1.25v1.25h-1.25zM422.5,399.3h1.25v1.25h-1.25zM418.2,397.9h1.25v1.25h-1.25zM425.7,396.5h1.25v1.25h-1.25zM424.2,402.5h1.25v1.25h-1.25zM426.8,394.7h1.25v1.25h-1.25zM424.1,397.6h1.25v1.25h-1.25zM424.3,394.6h1.25v1.25h-1.25zM435.2,386.8h1.25v1.25h-1.25zM426.7,392.2h1.25v1.25h-1.25zM430.8,393.2h1.25v1.25h-1.25zM424.6,386.9h1.25v1.25h-1.25zM420.3,395.5h1.25v1.25h-1.25zM415.6,402.6h1.25v1.25h-1.25zM428.7,387.0h1.25v1.25h-1.25zM432.0,387.6h1.25v1.25h-1.25zM427.2,388.7h1.25v1.25h-1.25zM428.3,392.5h1.25v1.25h-1.25zM428.9,393.8h1.25v1.25h-1.25zM426.9,397.6h1.25v1.25h-1.25zM427.3,393.5h1.25v1.25h-1.25zM423.0,391.7h1.25v1.25h-1.25zM427.2,392.5h1.25v1.25h-1.25zM418.4,400.2h1.25v1.25h-1.25zM422.3,400.7h1.25v1.25h-1.25zM424.4,384.9h1.25v1.25h-1.25zM422.5,396.4h1.25v1.25h-1.25zM426.6,394.8h1.25v1.25h-1.25zM439.4,384.6h1.25v1.25h-1.25zM431.3,392.1h1.25v1.25h-1.25zM430.0,391.0h1.25v1.25h-1.25zM418.2,395.5h1.25v1.25h-1.25zM416.6,400.6h1.25v1.25h-1.25zM425.0,397.9h1.25v1.25h-1.25zM424.2,393.2h1.25v1.25h-1.25zM418.7,397.8h1.25v1.25h-1.25zM423.2,389.6h1.25v1.25h-1.25zM431.6,393.0h1.25v1.25h-1.25zM427.8,389.0h1.25v1.25h-1.25zM415.2,397.2h1.25v1.25h-1.25zM422.7,391.3h1.25v1.25h-1.25zM419.0,396.5h1.25v1.25h-1.25zM430.1,394.5h1.25v1.25h-1.25zM438.0,386.9h1.25v1.25h-1.25zM439.2,388.5h1.25v1.25h-1.25zM429.3,396.0h1.25v1.25h-1.25zM430.8,385.3h1.25v1.25h-1.25zM437.4,386.0h1.25v1.25h-1.25zM427.6,397.3h1.25v1.25h-1.25zM430.8,398.1h1.25v1.25h-1.25zM428.0,385.3h1.25v1.25h-1.25zM421.4,390.0h1.25v1.25h-1.25zM421.6,397.5h1.25v1.25h-1.25zM418.2,396.7h1.25v1.25h-1.25zM422.5,390.9h1.25v1.25h-1.25zM420.5,397.9h1.25v1.25h-1.25zM428.8,387.2h1.25v1.25h-1.25zM417.6,389.4h1.25v1.25h-1.25zM435.1,385.7h1.25v1.25h-1.25zM433.5,387.4h1.25v1.25h-1.25zM416.5,401.8h1.25v1.25h-1.25zM434.2,390.2h1.25v1.25h-1.25zM421.8,396.2h1.25v1.25h-1.25zM434.0,385.6h1.25v1.25h-1.25zM426.9,389.0h1.25v1.25h-1.25zM421.0,389.4h1.25v1.25h-1.25zM428.5,388.8h1.25v1.25h-1.25zM422.3,399.1h1.25v1.25h-1.25zM428.1,393.5h1.25v1.25h-1.25zM431.2,396.8h1.25v1.25h-1.25zM423.1,393.9h1.25v1.25h-1.25zM423.9,386.7h1.25v1.25h-1.25zM418.7,401.0h1.25v1.25h-1.25zM430.5,393.2h1.25v1.25h-1.25zM413.4,396.9h1.25v1.25h-1.25zM426.0,385.9h1.25v1.25h-1.25zM428.2,391.4h1.25v1.25h-1.25zM431.0,391.6h1.25v1.25h-1.25zM418.3,393.5h1.25v1.25h-1.25zM421.4,392.6h1.25v1.25h-1.25zM423.4,389.5h1.25v1.25h-1.25zM416.5,394.0h1.25v1.25h-1.25zM435.3,386.2h1.25v1.25h-1.25zM420.4,394.9h1.25v1.25h-1.25zM430.5,386.4h1.25v1.25h-1.25zM412.7,391.6h1.25v1.25h-1.25zM430.2,396.3h1.25v1.25h-1.25zM420.0,392.9h1.25v1.25h-1.25zM431.1,388.1h1.25v1.25h-1.25zM420.3,391.9h1.25v1.25h-1.25zM419.0,399.0h1.25v1.25h-1.25zM425.0,387.0h1.25v1.25h-1.25zM416.1,399.9h1.25v1.25h-1.25zM417.2,397.9h1.25v1.25h-1.25zM432.0,391.7h1.25v1.25h-1.25zM428.9,387.6h1.25v1.25h-1.25zM421.2,394.9h1.25v1.25h-1.25zM421.9,403.7h1.25v1.25h-1.25zM423.6,388.2h1.25v1.25h-1.25zM429.8,390.7h1.25v1.25h-1.25zM419.1,394.7h1.25v1.25h-1.25zM424.0,395.1h1.25v1.25h-1.25zM431.7,390.8h1.25v1.25h-1.25zM430.4,389.7h1.25v1.25h-1.25zM424.8,394.3h1.25v1.25h-1.25zM419.6,398.1h1.25v1.25h-1.25zM416.7,396.8h1.25v1.25h-1.25zM419.9,395.9h1.25v1.25h-1.25zM426.5,385.3h1.25v1.25h-1.25zM428.2,389.3h1.25v1.25h-1.25zM425.4,389.6h1.25v1.25h-1.25zM434.3,385.2h1.25v1.25h-1.25zM423.9,396.8h1.25v1.25h-1.25zM422.7,396.3h1.25v1.25h-1.25zM422.8,396.5h1.25v1.25h-1.25zM440.7,386.0h1.25v1.25h-1.25zM427.7,392.8h1.25v1.25h-1.25zM427.9,390.8h1.25v1.25h-1.25zM425.0,392.6h1.25v1.25h-1.25zM434.3,388.5h1.25v1.25h-1.25zM432.6,392.2h1.25v1.25h-1.25zM420.2,400.6h1.25v1.25h-1.25zM428.2,390.3h1.25v1.25h-1.25zM423.3,396.8h1.25v1.25h-1.25zM426.9,395.4h1.25v1.25h-1.25zM429.7,396.9h1.25v1.25h-1.25zM423.6,398.9h1.25v1.25h-1.25zM429.7,390.2h1.25v1.25h-1.25zM436.8,384.8h1.25v1.25h-1.25zM432.6,388.1h1.25v1.25h-1.25zM426.8,392.6h1.25v1.25h-1.25zM409.9,402.0h1.25v1.25h-1.25zM434.2,389.4h1.25v1.25h-1.25zM431.3,385.6h1.25v1.25h-1.25zM421.9,392.0h1.25v1.25h-1.25zM422.1,396.6h1.25v1.25h-1.25zM428.5,388.2h1.25v1.25h-1.25zM418.5,396.7h1.25v1.25h-1.25zM426.7,383.5h1.25v1.25h-1.25zM418.6,400.9h1.25v1.25h-1.25zM418.2,397.9h1.25v1.25h-1.25zM424.8,392.7h1.25v1.25h-1.25zM415.2,402.0h1.25v1.25h-1.25zM425.3,393.6h1.25v1.25h-1.25zM427.4,388.5h1.25v1.25h-1.25zM419.2,405.3h1.25v1.25h-1.25zM430.7,387.0h1.25v1.25h-1.25zM422.7,398.6h1.25v1.25h-1.25zM432.4,395.0h1.25v1.25h-1.25zM425.3,390.3h1.25v1.25h-1.25zM421.8,395.7h1.25v1.25h-1.25zM419.6,393.7h1.25v1.25h-1.25zM414.6,404.8h1.25v1.25h-1.25zM419.3,395.8h1.25v1.25h-1.25zM417.3,394.2h1.25v1.25h-1.25zM439.3,387.9h1.25v1.25h-1.25zM434.0,390.1h1.25v1.25h-1.25zM413.4,397.9h1.25v1.25h-1.25zM433.0,392.0h1.25v1.25h-1.25zM426.9,392.4h1.25v1.25h-1.25zM427.4,402.2h1.25v1.25h-1.25zM431.5,395.1h1.25v1.25h-1.25zM429.6,387.4h1.25v1.25h-1.25zM420.3,395.3h1.25v1.25h-1.25zM421.3,392.2h1.25v1.25h-1.25zM426.4,392.5h1.25v1.25h-1.25zM417.9,398.3h1.25v1.25h-1.25zM427.7,394.0h1.25v1.25h-1.25zM424.5,393.7h1.25v1.25h-1.25zM417.3,392.7h1.25v1.25h-1.25zM417.4,395.3h1.25v1.25h-1.25zM429.9,395.1h1.25v1.25h-1.25zM433.5,391.5h1.25v1.25h-1.25zM427.0,390.9h1.25v1.25h-1.25zM418.6,397.1h1.25v1.25h-1.25zM430.0,388.7h1.25v1.25h-1.25zM426.2,392.2h1.25v1.25h-1.25zM426.0,385.5h1.25v1.25h-1.25zM435.1,389.3h1.25v1.25h-1.25zM417.2,396.0h1.25v1.25h-1.25zM424.2,394.1h1.25v1.25h-1.25zM415.9,389.5h1.25v1.25h-1.25zM419.1,398.2h1.25v1.25h-1.25zM441.9,386.1h1.25v1.25h-1.25zM427.5,382.2h1.25v1.25h-1.25zM428.9,392.0h1.25v1.25h-1.25zM419.6,394.0h1.25v1.25h-1.25zM430.2,382.9h1.25v1.25h-1.25zM427.8,395.6h1.25v1.25h-1.25zM424.2,394.6h1.25v1.25h-1.25zM427.1,393.8h1.25v1.25h-1.25zM427.2,390.3h1.25v1.25h-1.25zM423.7,390.8h1.25v1.25h-1.25zM425.1,396.4h1.25v1.25h-1.25zM422.2,391.2h1.25v1.25h-1.25zM430.4,392.7h1.25v1.25h-1.25zM413.7,394.5h1.25v1.25h-1.25zM423.2,390.6h1.25v1.25h-1.25zM421.4,389.8h1.25v1.25h-1.25zM424.0,399.0h1.25v1.25h-1.25zM426.9,384.6h1.25v1.25h-1.25zM413.5,396.7h1.25v1.25h-1.25zM423.6,396.6h1.25v1.25h-1.25zM419.3,398.1h1.25v1.25h-1.25zM433.1,395.9h1.25v1.25h-1.25zM425.1,400.3h1.25v1.25h-1.25zM426.5,394.4h1.25v1.25h-1.25zM429.1,392.8h1.25v1.25h-1.25zM410.0,396.5h1.25v1.25h-1.25zM426.6,388.3h1.25v1.25h-1.25zM419.0,396.0h1.25v1.25h-1.25zM422.8,393.9h1.25v1.25h-1.25zM421.6,390.0h1.25v1.25h-1.25zM429.0,386.3h1.25v1.25h-1.25zM428.7,386.9h1.25v1.25h-1.25zM439.7,386.6h1.25v1.25h-1.25zM427.1,393.2h1.25v1.25h-1.25zM420.9,394.6h1.25v1.25h-1.25zM420.9,394.9h1.25v1.25h-1.25zM430.2,390.4h1.25v1.25h-1.25zM435.2,382.8h1.25v1.25h-1.25zM426.9,390.5h1.25v1.25h-1.25zM417.6,391.5h1.25v1.25h-1.25zM428.2,393.3h1.25v1.25h-1.25zM428.7,394.2h1.25v1.25h-1.25zM425.9,393.8h1.25v1.25h-1.25zM420.6,398.1h1.25v1.25h-1.25zM425.0,401.2h1.25v1.25h-1.25zM432.9,388.0h1.25v1.25h-1.25zM424.0,388.4h1.25v1.25h-1.25zM426.4,394.8h1.25v1.25h-1.25zM413.8,405.4h1.25v1.25h-1.25zM440.8,384.7h1.25v1.25h-1.25zM428.0,394.2h1.25v1.25h-1.25zM416.7,399.8h1.25v1.25h-1.25zM427.9,384.9h1.25v1.25h-1.25zM418.0,395.2h1.25v1.25h-1.25zM425.6,385.3h1.25v1.25h-1.25zM424.4,391.9h1.25v1.25h-1.25zM413.9,395.6h1.25v1.25h-1.25zM430.0,389.8h1.25v1.25h-1.25zM415.1,399.5h1.25v1.25h-1.25zM430.9,380.9h1.25v1.25h-1.25zM426.8,394.6h1.25v1.25h-1.25zM419.1,400.4h1.25v1.25h-1.25zM409.3,398.8h1.25v1.25h-1.25zM436.9,384.9h1.25v1.25h-1.25zM436.8,387.3h1.25v1.25h-1.25zM415.4,398.8h1.25v1.25h-1.25zM438.4,386.7h1.25v1.25h-1.25zM426.6,392.6h1.25v1.25h-1.25zM425.5,397.0h1.25v1.25h-1.25zM424.7,393.9h1.25v1.25h-1.25zM422.7,393.9h1.25v1.25h-1.25zM436.2,386.9h1.25v1.25h-1.25zM427.6,394.3h1.25v1.25h-1.25zM412.2,403.2h1.25v1.25h-1.25zM439.1,380.9h1.25v1.25h-1.25zM429.8,386.3h1.25v1.25h-1.25zM416.5,397.7h1.25v1.25h-1.25zM421.3,393.3h1.25v1.25h-1.25zM418.9,398.2h1.25v1.25h-1.25zM425.6,393.2h1.25v1.25h-1.25zM427.6,390.7h1.25v1.25h-1.25zM426.7,391.7h1.25v1.25h-1.25zM421.0,396.5h1.25v1.25h-1.25zM422.2,401.3h1.25v1.25h-1.25zM433.4,391.7h1.25v1.25h-1.25zM423.1,392.0h1.25v1.25h-1.25zM441.9,382.3h1.25v1.25h-1.25zM418.5,396.3h1.25v1.25h-1.25zM430.4,388.6h1.25v1.25h-1.25zM424.9,392.1h1.25v1.25h-1.25zM418.3,395.3h1.25v1.25h-1.25zM432.1,382.3h1.25v1.25h-1.25zM421.1,385.8h1.25v1.25h-1.25zM418.9,398.2h1.25v1.25h-1.25zM425.0,397.8h1.25v1.25h-1.25zM430.5,385.3h1.25v1.25h-1.25zM417.2,400.7h1.25v1.25h-1.25zM434.1,384.7h1.25v1.25h-1.25zM430.4,390.1h1.25v1.25h-1.25zM421.4,392.3h1.25v1.25h-1.25zM434.3,385.3h1.25v1.25h-1.25zM437.3,383.5h1.25v1.25h-1.25zM424.7,383.5h1.25v1.25h-1.25zM426.6,392.6h1.25v1.25h-1.25zM438.0,382.9h1.25v1.25h-1.25zM419.6,399.5h1.25v1.25h-1.25zM423.4,393.9h1.25v1.25h-1.25zM423.8,394.6h1.25v1.25h-1.25zM422.7,396.0h1.25v1.25h-1.25zM413.4,399.7h1.25v1.25h-1.25zM429.4,385.4h1.25v1.25h-1.25zM424.7,391.3h1.25v1.25h-1.25zM424.8,391.3h1.25v1.25h-1.25zM439.4,391.5h1.25v1.25h-1.25zM424.4,400.8h1.25v1.25h-1.25zM423.6,391.9h1.25v1.25h-1.25zM426.1,390.4h1.25v1.25h-1.25zM422.5,396.1h1.25v1.25h-1.25zM425.2,395.0h1.25v1.25h-1.25zM429.1,387.1h1.25v1.25h-1.25zM423.0,390.3h1.25v1.25h-1.25zM438.3,391.1h1.25v1.25h-1.25zM421.6,399.7h1.25v1.25h-1.25zM423.4,387.7h1.25v1.25h-1.25zM411.2,395.7h1.25v1.25h-1.25zM422.5,391.3h1.25v1.25h-1.25zM420.3,397.2h1.25v1.25h-1.25zM435.8,387.2h1.25v1.25h-1.25zM429.7,388.1h1.25v1.25h-1.25zM425.5,386.0h1.25v1.25h-1.25zM438.7,383.8h1.25v1.25h-1.25zM436.5,387.0h1.25v1.25h-1.25zM430.1,389.2h1.25v1.25h-1.25zM419.0,395.2h1.25v1.25h-1.25zM415.6,402.0h1.25v1.25h-1.25zM424.6,392.9h1.25v1.25h-1.25zM420.2,391.8h1.25v1.25h-1.25zM420.4,396.6h1.25v1.25h-1.25zM420.3,391.0h1.25v1.25h-1.25zM414.8,404.2h1.25v1.25h-1.25zM436.6,386.3h1.25v1.25h-1.25zM414.8,396.3h1.25v1.25h-1.25zM420.5,397.0h1.25v1.25h-1.25zM431.5,393.3h1.25v1.25h-1.25zM431.3,387.7h1.25v1.25h-1.25zM434.9,392.4h1.25v1.25h-1.25zM419.7,390.4h1.25v1.25h-1.25zM416.8,398.1h1.25v1.25h-1.25zM418.7,391.6h1.25v1.25h-1.25zM411.4,402.5h1.25v1.25h-1.25zM422.2,388.3h1.25v1.25h-1.25zM418.6,395.4h1.25v1.25h-1.25zM418.6,398.1h1.25v1.25h-1.25zM429.8,390.9h1.25v1.25h-1.25zM436.7,386.1h1.25v1.25h-1.25zM417.9,402.7h1.25v1.25h-1.25zM422.1,397.8h1.25v1.25h-1.25zM413.6,404.2h1.25v1.25h-1.25zM427.9,386.7h1.25v1.25h-1.25zM425.8,391.7h1.25v1.25h-1.25zM428.5,399.7h1.25v1.25h-1.25zM423.4,397.4h1.25v1.25h-1.25zM421.2,398.7h1.25v1.25h-1.25zM433.1,391.1h1.25v1.25h-1.25zM412.3,400.4h1.25v1.25h-1.25zM434.2,394.2h1.25v1.25h-1.25zM426.0,390.6h1.25v1.25h-1.25zM421.1,395.4h1.25v1.25h-1.25zM422.6,403.6h1.25v1.25h-1.25zM428.5,381.7h1.25v1.25h-1.25zM439.2,384.1h1.25v1.25h-1.25zM418.3,390.6h1.25v1.25h-1.25zM427.5,388.4h1.25v1.25h-1.25zM437.4,383.5h1.25v1.25h-1.25zM419.7,395.2h1.25v1.25h-1.25zM423.4,394.7h1.25v1.25h-1.25zM414.5,397.3h1.25v1.25h-1.25zM423.7,393.4h1.25v1.25h-1.25zM422.0,390.1h1.25v1.25h-1.25zM421.1,394.1h1.25v1.25h-1.25zM416.8,393.1h1.25v1.25h-1.25zM414.7,403.1h1.25v1.25h-1.25zM412.6,396.5h1.25v1.25h-1.25zM419.2,400.0h1.25v1.25h-1.25zM428.8,388.4h1.25v1.25h-1.25zM420.6,394.8h1.25v1.25h-1.25zM421.0,400.6h1.25v1.25h-1.25zM429.9,389.7h1.25v1.25h-1.25zM425.3,384.8h1.25v1.25h-1.25zM420.4,398.3h1.25v1.25h-1.25zM414.6,388.4h1.25v1.25h-1.25zM430.3,390.1h1.25v1.25h-1.25zM426.8,389.9h1.25v1.25h-1.25zM416.1,393.6h1.25v1.25h-1.25zM426.9,391.9h1.25v1.25h-1.25zM424.1,392.2h1.25v1.25h-1.25zM437.0,392.4h1.25v1.25h-1.25zM417.7,396.3h1.25v1.25h-1.25zM435.2,393.5h1.25v1.25h-1.25zM430.8,394.4h1.25v1.25h-1.25zM416.4,396.6h1.25v1.25h-1.25zM431.0,385.1h1.25v1.25h-1.25zM434.2,391.7h1.25v1.25h-1.25zM415.0,399.6h1.25v1.25h-1.25zM439.8,382.8h1.25v1.25h-1.25zM416.0,398.3h1.25v1.25h-1.25zM415.8,394.5h1.25v1.25h-1.25zM421.8,393.6h1.25v1.25h-1.25zM428.7,386.2h1.25v1.25h-1.25zM426.2,385.6h1.25v1.25h-1.25zM423.7,392.6h1.25v1.25h-1.25zM438.5,390.5h1.25v1.25h-1.25zM431.1,395.2h1.25v1.25h-1.25zM435.1,385.3h1.25v1.25h-1.25zM427.4,393.3h1.25v1.25h-1.25zM422.2,396.2h1.25v1.25h-1.25zM416.1,397.4h1.25v1.25h-1.25zM424.8,391.4h1.25v1.25h-1.25zM427.9,395.5h1.25v1.25h-1.25zM415.2,397.4h1.25v1.25h-1.25zM418.9,388.7h1.25v1.25h-1.25zM425.1,396.2h1.25v1.25h-1.25zM432.4,388.1h1.25v1.25h-1.25zM427.6,396.1h1.25v1.25h-1.25zM425.0,393.2h1.25v1.25h-1.25zM424.5,387.7h1.25v1.25h-1.25zM413.5,393.1h1.25v1.25h-1.25zM424.5,393.1h1.25v1.25h-1.25zM430.3,384.2h1.25v1.25h-1.25zM433.5,387.9h1.25v1.25h-1.25zM425.8,386.9h1.25v1.25h-1.25zM422.2,393.5h1.25v1.25h-1.25zM415.9,393.3h1.25v1.25h-1.25zM434.0,384.8h1.25v1.25h-1.25zM428.0,388.9h1.25v1.25h-1.25zM423.0,396.8h1.25v1.25h-1.25zM418.1,397.1h1.25v1.25h-1.25zM438.1,391.5h1.25v1.25h-1.25zM427.1,392.9h1.25v1.25h-1.25zM420.6,398.6h1.25v1.25h-1.25zM424.1,396.1h1.25v1.25h-1.25zM436.0,389.1h1.25v1.25h-1.25zM416.2,402.1h1.25v1.25h-1.25zM425.5,395.7h1.25v1.25h-1.25zM414.0,397.3h1.25v1.25h-1.25zM410.8,400.6h1.25v1.25h-1.25zM426.0,391.7h1.25v1.25h-1.25zM443.3,380.0h1.25v1.25h-1.25zM436.7,384.5h1.25v1.25h-1.25zM425.9,393.5h1.25v1.25h-1.25zM422.2,395.1h1.25v1.25h-1.25zM425.6,390.7h1.25v1.25h-1.25zM429.5,382.8h1.25v1.25h-1.25zM415.6,403.2h1.25v1.25h-1.25zM412.0,404.8h1.25v1.25h-1.25zM437.4,380.2h1.25v1.25h-1.25zM428.1,392.8h1.25v1.25h-1.25zM437.8,385.2h1.25v1.25h-1.25zM426.9,391.8h1.25v1.25h-1.25zM432.4,379.8h1.25v1.25h-1.25zM417.9,393.0h1.25v1.25h-1.25zM427.5,388.5h1.25v1.25h-1.25zM439.9,388.8h1.25v1.25h-1.25zM431.0,385.0h1.25v1.25h-1.25zM420.8,394.5h1.25v1.25h-1.25zM429.5,385.0h1.25v1.25h-1.25zM418.9,395.2h1.25v1.25h-1.25zM414.8,401.7h1.25v1.25h-1.25zM424.8,384.4h1.25v1.25h-1.25zM432.7,390.1h1.25v1.25h-1.25zM415.5,400.0h1.25v1.25h-1.25zM430.3,386.5h1.25v1.25h-1.25zM432.0,391.8h1.25v1.25h-1.25zM423.4,398.1h1.25v1.25h-1.25zM432.3,386.9h1.25v1.25h-1.25zM433.9,391.1h1.25v1.25h-1.25zM427.4,388.3h1.25v1.25h-1.25zM411.1,401.6h1.25v1.25h-1.25zM415.5,403.8h1.25v1.25h-1.25zM432.1,386.6h1.25v1.25h-1.25zM428.7,385.2h1.25v1.25h-1.25zM427.3,388.3h1.25v1.25h-1.25zM420.4,390.7h1.25v1.25h-1.25zM429.1,392.3h1.25v1.25h-1.25zM417.4,391.2h1.25v1.25h-1.25zM424.6,397.4h1.25v1.25h-1.25zM415.0,393.2h1.25v1.25h-1.25zM427.0,391.6h1.25v1.25h-1.25zM418.8,391.2h1.25v1.25h-1.25zM431.6,386.8h1.25v1.25h-1.25zM432.5,391.7h1.25v1.25h-1.25zM421.0,400.5h1.25v1.25h-1.25zM441.6,386.3h1.25v1.25h-1.25zM416.2,398.9h1.25v1.25h-1.25zM428.6,390.7h1.25v1.25h-1.25zM433.7,387.5h1.25v1.25h-1.25zM436.0,387.5h1.25v1.25h-1.25zM434.8,390.4h1.25v1.25h-1.25zM434.9,387.0h1.25v1.25h-1.25zM438.2,388.1h1.25v1.25h-1.25zM421.1,398.6h1.25v1.25h-1.25zM422.7,391.5h1.25v1.25h-1.25zM420.7,394.3h1.25v1.25h-1.25zM432.6,381.9h1.25v1.25h-1.25zM419.2,395.9h1.25v1.25h-1.25zM434.0,385.6h1.25v1.25h-1.25zM430.9,392.1h1.25v1.25h-1.25zM411.3,397.6h1.25v1.25h-1.25zM421.1,395.2h1.25v1.25h-1.25zM428.2,395.8h1.25v1.25h-1.25zM434.6,390.2h1.25v1.25h-1.25zM418.5,387.0h1.25v1.25h-1.25zM431.4,387.1h1.25v1.25h-1.25zM415.8,405.8h1.25v1.25h-1.25zM423.9,396.9h1.25v1.25h-1.25zM426.6,387.8h1.25v1.25h-1.25zM421.2,393.7h1.25v1.25h-1.25zM417.6,399.2h1.25v1.25h-1.25zM424.5,385.4h1.25v1.25h-1.25zM440.2,382.7h1.25v1.25h-1.25zM422.9,391.7h1.25v1.25h-1.25zM417.9,394.9h1.25v1.25h-1.25zM419.8,399.6h1.25v1.25h-1.25zM425.3,394.1h1.25v1.25h-1.25zM430.8,391.0h1.25v1.25h-1.25zM434.2,386.0h1.25v1.25h-1.25zM431.8,384.9h1.25v1.25h-1.25zM418.4,398.8h1.25v1.25h-1.25zM435.3,391.8h1.25v1.25h-1.25zM431.8,388.7h1.25v1.25h-1.25zM442.1,395.7h1.25v1.25h-1.25zM427.7,390.9h1.25v1.25h-1.25zM418.5,400.6h1.25v1.25h-1.25zM435.9,390.5h1.25v1.25h-1.25zM434.3,388.5h1.25v1.25h-1.25zM433.6,392.2h1.25v1.25h-1.25zM420.7,394.8h1.25v1.25h-1.25zM420.0,393.9h1.25v1.25h-1.25zM428.5,392.4h1.25v1.25h-1.25zM429.7,388.5h1.25v1.25h-1.25zM422.1,398.9h1.25v1.25h-1.25zM422.6,397.2h1.25v1.25h-1.25zM434.3,388.3h1.25v1.25h-1.25zM438.2,386.4h1.25v1.25h-1.25zM425.7,393.5h1.25v1.25h-1.25zM430.0,403.5h1.25v1.25h-1.25zM425.0,395.3h1.25v1.25h-1.25zM433.7,388.4h1.25v1.25h-1.25zM432.0,395.5h1.25v1.25h-1.25zM438.0,386.6h1.25v1.25h-1.25zM439.1,385.6h1.25v1.25h-1.25zM420.0,399.3h1.25v1.25h-1.25zM431.1,394.3h1.25v1.25h-1.25zM428.7,396.0h1.25v1.25h-1.25zM423.5,385.8h1.25v1.25h-1.25zM418.2,392.5h1.25v1.25h-1.25zM420.4,381.3h1.25v1.25h-1.25zM424.4,400.8h1.25v1.25h-1.25zM436.3,395.8h1.25v1.25h-1.25zM434.6,398.0h1.25v1.25h-1.25zM420.0,399.1h1.25v1.25h-1.25zM420.5,405.2h1.25v1.25h-1.25zM426.8,394.0h1.25v1.25h-1.25zM435.4,388.5h1.25v1.25h-1.25zM430.3,382.5h1.25v1.25h-1.25zM428.0,388.6h1.25v1.25h-1.25zM429.3,398.7h1.25v1.25h-1.25zM429.4,403.3h1.25v1.25h-1.25zM426.7,391.3h1.25v1.25h-1.25zM422.1,399.3h1.25v1.25h-1.25zM428.0,395.3h1.25v1.25h-1.25zM423.3,391.4h1.25v1.25h-1.25zM434.1,385.3h1.25v1.25h-1.25zM425.2,386.1h1.25v1.25h-1.25zM429.4,390.8h1.25v1.25h-1.25zM429.3,391.9h1.25v1.25h-1.25zM431.6,390.4h1.25v1.25h-1.25zM427.0,393.1h1.25v1.25h-1.25zM431.8,394.4h1.25v1.25h-1.25zM436.1,383.0h1.25v1.25h-1.25zM439.6,392.5h1.25v1.25h-1.25zM428.4,382.7h1.25v1.25h-1.25zM441.2,386.3h1.25v1.25h-1.25zM433.4,392.9h1.25v1.25h-1.25zM420.8,392.7h1.25v1.25h-1.25zM412.6,392.4h1.25v1.25h-1.25zM426.9,398.2h1.25v1.25h-1.25zM428.3,389.1h1.25v1.25h-1.25zM435.9,394.0h1.25v1.25h-1.25zM441.1,390.8h1.25v1.25h-1.25zM426.1,394.6h1.25v1.25h-1.25zM424.3,395.7h1.25v1.25h-1.25zM439.4,393.3h1.25v1.25h-1.25zM440.8,388.5h1.25v1.25h-1.25zM424.3,389.8h1.25v1.25h-1.25zM433.7,391.3h1.25v1.25h-1.25zM442.9,388.5h1.25v1.25h-1.25zM433.7,391.6h1.25v1.25h-1.25zM430.7,393.2h1.25v1.25h-1.25zM414.0,400.7h1.25v1.25h-1.25zM440.6,385.5h1.25v1.25h-1.25zM433.1,384.7h1.25v1.25h-1.25zM427.7,384.7h1.25v1.25h-1.25zM430.1,399.5h1.25v1.25h-1.25zM419.1,394.7h1.25v1.25h-1.25zM430.4,393.6h1.25v1.25h-1.25zM425.7,385.4h1.25v1.25h-1.25zM439.6,387.8h1.25v1.25h-1.25zM418.9,393.6h1.25v1.25h-1.25zM428.1,387.1h1.25v1.25h-1.25zM437.2,382.1h1.25v1.25h-1.25zM425.6,400.9h1.25v1.25h-1.25zM436.4,395.9h1.25v1.25h-1.25zM432.2,392.7h1.25v1.25h-1.25zM421.5,402.8h1.25v1.25h-1.25zM424.7,387.7h1.25v1.25h-1.25zM436.7,392.9h1.25v1.25h-1.25zM418.2,395.9h1.25v1.25h-1.25zM416.6,393.8h1.25v1.25h-1.25zM431.5,389.3h1.25v1.25h-1.25zM421.9,394.1h1.25v1.25h-1.25zM432.1,382.4h1.25v1.25h-1.25zM415.0,398.2h1.25v1.25h-1.25zM422.5,392.0h1.25v1.25h-1.25zM444.6,389.4h1.25v1.25h-1.25zM423.7,395.6h1.25v1.25h-1.25zM434.2,398.4h1.25v1.25h-1.25zM431.8,389.7h1.25v1.25h-1.25zM424.2,398.0h1.25v1.25h-1.25zM439.4,387.6h1.25v1.25h-1.25zM432.5,392.0h1.25v1.25h-1.25zM433.5,389.0h1.25v1.25h-1.25zM417.2,399.1h1.25v1.25h-1.25zM427.6,390.3h1.25v1.25h-1.25zM427.9,391.4h1.25v1.25h-1.25zM437.8,391.5h1.25v1.25h-1.25zM443.3,387.2h1.25v1.25h-1.25zM431.2,397.6h1.25v1.25h-1.25zM424.9,386.9h1.25v1.25h-1.25zM434.8,391.2h1.25v1.25h-1.25zM442.1,384.3h1.25v1.25h-1.25zM423.4,394.4h1.25v1.25h-1.25zM436.0,390.0h1.25v1.25h-1.25zM423.3,383.8h1.25v1.25h-1.25zM428.8,394.8h1.25v1.25h-1.25zM437.4,389.0h1.25v1.25h-1.25zM420.6,388.8h1.25v1.25h-1.25zM422.0,396.4h1.25v1.25h-1.25zM440.1,396.4h1.25v1.25h-1.25zM429.4,390.3h1.25v1.25h-1.25zM430.2,396.0h1.25v1.25h-1.25zM429.0,391.6h1.25v1.25h-1.25zM432.3,386.0h1.25v1.25h-1.25zM425.2,389.3h1.25v1.25h-1.25zM435.5,386.7h1.25v1.25h-1.25zM437.4,396.3h1.25v1.25h-1.25zM444.4,389.2h1.25v1.25h-1.25zM438.6,383.0h1.25v1.25h-1.25zM440.0,392.9h1.25v1.25h-1.25zM428.7,392.3h1.25v1.25h-1.25zM429.7,388.2h1.25v1.25h-1.25zM427.2,396.7h1.25v1.25h-1.25zM424.6,385.6h1.25v1.25h-1.25zM438.5,395.6h1.25v1.25h-1.25zM421.5,400.7h1.25v1.25h-1.25zM420.1,388.5h1.25v1.25h-1.25zM427.5,393.7h1.25v1.25h-1.25zM422.4,395.6h1.25v1.25h-1.25zM419.6,395.7h1.25v1.25h-1.25zM420.7,384.0h1.25v1.25h-1.25zM440.4,385.7h1.25v1.25h-1.25zM436.2,388.6h1.25v1.25h-1.25zM428.5,387.6h1.25v1.25h-1.25zM430.7,391.6h1.25v1.25h-1.25zM420.4,404.2h1.25v1.25h-1.25zM434.1,385.5h1.25v1.25h-1.25zM434.7,391.3h1.25v1.25h-1.25zM419.1,391.5h1.25v1.25h-1.25zM433.3,392.9h1.25v1.25h-1.25zM430.9,395.9h1.25v1.25h-1.25zM425.4,400.7h1.25v1.25h-1.25zM426.6,397.1h1.25v1.25h-1.25zM427.2,402.9h1.25v1.25h-1.25zM431.6,385.3h1.25v1.25h-1.25zM436.4,395.4h1.25v1.25h-1.25zM431.7,388.0h1.25v1.25h-1.25zM427.6,389.9h1.25v1.25h-1.25zM430.5,399.0h1.25v1.25h-1.25zM436.1,379.8h1.25v1.25h-1.25zM434.2,391.7h1.25v1.25h-1.25zM429.8,389.2h1.25v1.25h-1.25zM426.0,393.0h1.25v1.25h-1.25zM423.8,384.1h1.25v1.25h-1.25zM424.0,401.8h1.25v1.25h-1.25zM420.5,399.3h1.25v1.25h-1.25zM427.2,387.9h1.25v1.25h-1.25zM414.1,393.2h1.25v1.25h-1.25zM434.9,384.2h1.25v1.25h-1.25zM443.2,393.6h1.25v1.25h-1.25zM417.7,397.5h1.25v1.25h-1.25zM434.2,393.1h1.25v1.25h-1.25zM432.4,391.1h1.25v1.25h-1.25zM432.2,392.6h1.25v1.25h-1.25zM436.0,393.6h1.25v1.25h-1.25zM437.4,390.2h1.25v1.25h-1.25zM439.9,392.3h1.25v1.25h-1.25zM431.1,392.2h1.25v1.25h-1.25zM436.5,386.5h1.25v1.25h-1.25zM418.4,399.9h1.25v1.25h-1.25zM429.6,392.5h1.25v1.25h-1.25zM419.5,394.6h1.25v1.25h-1.25zM440.7,384.2h1.25v1.25h-1.25zM433.5,387.0h1.25v1.25h-1.25zM417.3,392.1h1.25v1.25h-1.25zM431.5,395.4h1.25v1.25h-1.25zM433.6,396.5h1.25v1.25h-1.25zM431.6,389.9h1.25v1.25h-1.25zM439.6,387.8h1.25v1.25h-1.25zM436.0,383.9h1.25v1.25h-1.25zM409.6,403.1h1.25v1.25h-1.25zM444.4,391.1h1.25v1.25h-1.25zM429.1,398.1h1.25v1.25h-1.25zM426.8,395.3h1.25v1.25h-1.25zM441.1,384.4h1.25v1.25h-1.25zM424.3,385.7h1.25v1.25h-1.25zM421.0,399.7h1.25v1.25h-1.25zM421.7,400.2h1.25v1.25h-1.25zM434.1,396.8h1.25v1.25h-1.25zM443.3,397.4h1.25v1.25h-1.25zM443.5,387.1h1.25v1.25h-1.25zM432.1,397.3h1.25v1.25h-1.25zM424.1,389.0h1.25v1.25h-1.25zM430.1,386.6h1.25v1.25h-1.25zM443.4,381.1h1.25v1.25h-1.25zM440.9,399.1h1.25v1.25h-1.25zM424.7,390.0h1.25v1.25h-1.25zM419.4,396.1h1.25v1.25h-1.25zM416.5,387.3h1.25v1.25h-1.25zM410.6,389.4h1.25v1.25h-1.25zM435.5,387.1h1.25v1.25h-1.25zM438.8,393.3h1.25v1.25h-1.25zM410.8,397.5h1.25v1.25h-1.25zM427.2,386.4h1.25v1.25h-1.25zM439.7,388.5h1.25v1.25h-1.25zM432.7,392.5h1.25v1.25h-1.25zM424.4,398.8h1.25v1.25h-1.25zM444.1,390.0h1.25v1.25h-1.25zM424.6,381.7h1.25v1.25h-1.25zM420.6,394.0h1.25v1.25h-1.25zM427.4,392.3h1.25v1.25h-1.25zM423.5,395.7h1.25v1.25h-1.25zM427.4,381.2h1.25v1.25h-1.25zM411.9,397.4h1.25v1.25h-1.25zM431.3,382.2h1.25v1.25h-1.25zM430.6,390.1h1.25v1.25h-1.25zM435.3,380.9h1.25v1.25h-1.25zM473.2,346.5h1.25v1.25h-1.25zM489.8,362.0h1.25v1.25h-1.25zM467.6,352.2h1.25v1.25h-1.25zM480.2,339.6h1.25v1.25h-1.25zM481.9,340.5h1.25v1.25h-1.25zM479.0,360.9h1.25v1.25h-1.25zM487.2,355.6h1.25v1.25h-1.25zM487.9,352.9h1.25v1.25h-1.25zM490.8,343.3h1.25v1.25h-1.25zM480.4,356.1h1.25v1.25h-1.25zM477.6,347.9h1.25v1.25h-1.25zM492.7,360.4h1.25v1.25h-1.25zM478.5,345.5h1.25v1.25h-1.25zM487.8,352.4h1.25v1.25h-1.25zM478.0,354.5h1.25v1.25h-1.25zM487.6,351.3h1.25v1.25h-1.25zM506.2,359.4h1.25v1.25h-1.25zM489.7,357.2h1.25v1.25h-1.25zM506.4,357.7h1.25v1.25h-1.25zM477.7,352.8h1.25v1.25h-1.25zM483.9,347.2h1.25v1.25h-1.25zM485.4,352.4h1.25v1.25h-1.25zM482.9,347.7h1.25v1.25h-1.25zM489.8,340.6h1.25v1.25h-1.25zM489.8,350.8h1.25v1.25h-1.25zM485.5,335.7h1.25v1.25h-1.25zM496.5,339.8h1.25v1.25h-1.25zM476.6,354.9h1.25v1.25h-1.25zM478.6,348.2h1.25v1.25h-1.25zM465.9,348.0h1.25v1.25h-1.25zM485.0,355.1h1.25v1.25h-1.25zM481.1,352.2h1.25v1.25h-1.25zM486.8,346.5h1.25v1.25h-1.25zM477.5,363.3h1.25v1.25h-1.25zM476.7,358.6h1.25v1.25h-1.25zM483.9,360.2h1.25v1.25h-1.25zM478.4,354.1h1.25v1.25h-1.25zM485.9,349.3h1.25v1.25h-1.25zM485.8,345.9h1.25v1.25h-1.25zM482.7,348.2h1.25v1.25h-1.25zM489.3,350.2h1.25v1.25h-1.25zM472.4,348.4h1.25v1.25h-1.25zM482.6,345.0h1.25v1.25h-1.25zM493.8,353.4h1.25v1.25h-1.25zM490.0,345.9h1.25v1.25h-1.25zM480.2,357.2h1.25v1.25h-1.25zM472.1,353.1h1.25v1.25h-1.25zM484.1,347.6h1.25v1.25h-1.25zM484.1,343.9h1.25v1.25h-1.25zM485.1,343.0h1.25v1.25h-1.25zM473.3,359.7h1.25v1.25h-1.25zM477.9,337.3h1.25v1.25h-1.25zM491.0,345.9h1.25v1.25h-1.25zM455.7,350.4h1.25v1.25h-1.25zM490.6,353.0h1.25v1.25h-1.25zM496.9,350.0h1.25v1.25h-1.25zM488.1,344.4h1.25v1.25h-1.25zM484.7,360.6h1.25v1.25h-1.25zM487.3,351.8h1.25v1.25h-1.25zM467.8,348.4h1.25v1.25h-1.25zM473.2,355.8h1.25v1.25h-1.25zM477.6,353.1h1.25v1.25h-1.25zM475.5,362.9h1.25v1.25h-1.25zM474.1,351.7h1.25v1.25h-1.25zM504.1,352.2h1.25v1.25h-1.25zM476.5,354.7h1.25v1.25h-1.25zM491.2,356.4h1.25v1.25h-1.25zM467.9,352.2h1.25v1.25h-1.25zM466.6,363.0h1.25v1.25h-1.25zM483.9,347.9h1.25v1.25h-1.25zM488.7,353.9h1.25v1.25h-1.25zM474.0,361.2h1.25v1.25h-1.25zM481.5,339.5h1.25v1.25h-1.25zM494.4,360.6h1.25v1.25h-1.25zM493.3,354.3h1.25v1.25h-1.25zM476.3,356.8h1.25v1.25h-1.25zM498.1,356.0h1.25v1.25h-1.25zM496.0,345.8h1.25v1.25h-1.25zM491.5,356.8h1.25v1.25h-1.25zM471.6,340.4h1.25v1.25h-1.25zM477.7,351.4h1.25v1.25h-1.25zM487.0,349.4h1.25v1.25h-1.25zM482.9,350.1h1.25v1.25h-1.25zM484.1,354.6h1.25v1.25h-1.25zM487.3,350.5h1.25v1.25h-1.25zM485.5,347.9h1.25v1.25h-1.25zM489.7,347.6h1.25v1.25h-1.25zM496.4,350.7h1.25v1.25h-1.25zM485.6,345.9h1.25v1.25h-1.25zM480.7,351.9h1.25v1.25h-1.25zM483.6,346.8h1.25v1.25h-1.25zM474.2,351.1h1.25v1.25h-1.25zM484.6,354.4h1.25v1.25h-1.25zM493.3,348.8h1.25v1.25h-1.25zM467.6,349.9h1.25v1.25h-1.25zM468.8,342.5h1.25v1.25h-1.25zM491.6,354.5h1.25v1.25h-1.25zM478.3,346.7h1.25v1.25h-1.25zM482.7,339.5h1.25v1.25h-1.25zM487.3,348.6h1.25v1.25h-1.25zM498.1,344.0h1.25v1.25h-1.25zM491.4,346.5h1.25v1.25h-1.25zM491.6,344.5h1.25v1.25h-1.25zM489.3,348.0h1.25v1.25h-1.25zM476.9,349.9h1.25v1.25h-1.25zM487.2,353.5h1.25v1.25h-1.25zM496.0,356.2h1.25v1.25h-1.25zM462.5,348.3h1.25v1.25h-1.25zM467.6,348.4h1.25v1.25h-1.25zM488.4,342.2h1.25v1.25h-1.25zM474.0,351.8h1.25v1.25h-1.25zM481.2,361.1h1.25v1.25h-1.25zM486.0,354.3h1.25v1.25h-1.25zM497.4,347.6h1.25v1.25h-1.25zM483.4,344.4h1.25v1.25h-1.25zM485.5,357.6h1.25v1.25h-1.25zM494.4,350.6h1.25v1.25h-1.25zM477.8,345.9h1.25v1.25h-1.25zM472.3,351.7h1.25v1.25h-1.25zM494.3,335.5h1.25v1.25h-1.25zM466.1,360.0h1.25v1.25h-1.25zM470.6,353.0h1.25v1.25h-1.25zM473.4,356.0h1.25v1.25h-1.25zM489.7,352.0h1.25v1.25h-1.25zM490.1,351.2h1.25v1.25h-1.25zM488.0,362.7h1.25v1.25h-1.25zM492.3,346.6h1.25v1.25h-1.25zM477.1,349.4h1.25v1.25h-1.25zM481.7,351.4h1.25v1.25h-1.25zM478.7,355.2h1.25v1.25h-1.25zM483.8,353.3h1.25v1.25h-1.25zM483.6,354.9h1.25v1.25h-1.25zM474.0,361.2h1.25v1.25h-1.25zM486.3,353.9h1.25v1.25h-1.25zM488.4,358.0h1.25v1.25h-1.25zM489.4,352.5h1.25v1.25h-1.25zM482.1,340.3h1.25v1.25h-1.25zM485.3,348.9h1.25v1.25h-1.25zM481.1,366.6h1.25v1.25h-1.25zM468.7,351.3h1.25v1.25h-1.25zM493.3,357.2h1.25v1.25h-1.25zM493.5,342.8h1.25v1.25h-1.25zM475.9,355.0h1.25v1.25h-1.25zM481.2,362.1h1.25v1.25h-1.25zM485.4,352.3h1.25v1.25h-1.25zM487.2,349.2h1.25v1.25h-1.25zM484.6,346.6h1.25v1.25h-1.25zM483.3,347.9h1.25v1.25h-1.25zM485.7,341.8h1.25v1.25h-1.25zM471.7,354.0h1.25v1.25h-1.25zM485.5,344.8h1.25v1.25h-1.25zM481.9,344.2h1.25v1.25h-1.25zM500.0,340.9h1.25v1.25h-1.25zM497.4,345.7h1.25v1.25h-1.25zM487.1,349.3h1.25v1.25h-1.25zM480.6,357.1h1.25v1.25h-1.25zM490.2,349.2h1.25v1.25h-1.25zM476.4,364.5h1.25v1.25h-1.25zM494.9,352.0h1.25v1.25h-1.25zM481.3,353.0h1.25v1.25h-1.25zM484.4,358.8h1.25v1.25h-1.25zM476.0,351.2h1.25v1.25h-1.25zM477.4,359.6h1.25v1.25h-1.25zM498.1,350.5h1.25v1.25h-1.25zM488.0,360.2h1.25v1.25h-1.25zM481.3,345.0h1.25v1.25h-1.25zM492.0,354.4h1.25v1.25h-1.25zM482.1,360.6h1.25v1.25h-1.25zM485.6,339.5h1.25v1.25h-1.25zM486.5,350.7h1.25v1.25h-1.25zM498.8,351.0h1.25v1.25h-1.25zM482.1,353.9h1.25v1.25h-1.25zM485.7,341.9h1.25v1.25h-1.25zM484.7,349.0h1.25v1.25h-1.25zM495.0,366.7h1.25v1.25h-1.25zM474.8,344.8h1.25v1.25h-1.25zM477.0,346.8h1.25v1.25h-1.25zM478.2,351.5h1.25v1.25h-1.25zM492.5,342.6h1.25v1.25h-1.25zM471.4,339.1h1.25v1.25h-1.25zM492.6,359.7h1.25v1.25h-1.25zM471.5,340.5h1.25v1.25h-1.25zM484.8,358.2h1.25v1.25h-1.25zM491.9,352.4h1.25v1.25h-1.25zM489.2,353.2h1.25v1.25h-1.25zM479.3,363.5h1.25v1.25h-1.25zM483.7,343.9h1.25v1.25h-1.25zM480.0,341.1h1.25v1.25h-1.25zM483.9,358.2h1.25v1.25h-1.25zM473.6,358.4h1.25v1.25h-1.25zM500.5,353.6h1.25v1.25h-1.25zM474.5,345.6h1.25v1.25h-1.25zM481.1,342.8h1.25v1.25h-1.25zM473.8,349.4h1.25v1.25h-1.25zM482.3,355.1h1.25v1.25h-1.25zM474.2,363.3h1.25v1.25h-1.25zM492.3,356.9h1.25v1.25h-1.25zM478.5,362.4h1.25v1.25h-1.25zM481.0,362.9h1.25v1.25h-1.25zM492.3,345.3h1.25v1.25h-1.25zM480.1,363.3h1.25v1.25h-1.25zM491.8,350.1h1.25v1.25h-1.25zM485.4,352.4h1.25v1.25h-1.25zM477.6,349.8h1.25v1.25h-1.25zM478.5,348.3h1.25v1.25h-1.25zM487.5,344.9h1.25v1.25h-1.25zM489.6,351.8h1.25v1.25h-1.25zM489.9,356.9h1.25v1.25h-1.25zM493.7,355.2h1.25v1.25h-1.25zM489.4,349.9h1.25v1.25h-1.25zM488.3,345.3h1.25v1.25h-1.25zM481.8,356.0h1.25v1.25h-1.25zM483.3,354.0h1.25v1.25h-1.25zM475.3,360.0h1.25v1.25h-1.25zM479.1,353.7h1.25v1.25h-1.25zM483.6,357.2h1.25v1.25h-1.25zM480.7,344.6h1.25v1.25h-1.25zM468.5,349.1h1.25v1.25h-1.25zM474.2,354.6h1.25v1.25h-1.25zM495.3,336.6h1.25v1.25h-1.25zM473.4,353.1h1.25v1.25h-1.25zM493.7,353.1h1.25v1.25h-1.25zM486.4,354.4h1.25v1.25h-1.25zM488.4,361.8h1.25v1.25h-1.25zM488.7,343.0h1.25v1.25h-1.25zM480.0,352.5h1.25v1.25h-1.25zM477.2,349.4h1.25v1.25h-1.25zM479.5,346.5h1.25v1.25h-1.25zM489.3,348.6h1.25v1.25h-1.25zM475.0,346.4h1.25v1.25h-1.25zM484.1,364.9h1.25v1.25h-1.25zM485.8,360.8h1.25v1.25h-1.25zM487.7,337.1h1.25v1.25h-1.25zM486.8,345.5h1.25v1.25h-1.25zM472.9,344.1h1.25v1.25h-1.25zM498.1,340.8h1.25v1.25h-1.25zM478.8,358.7h1.25v1.25h-1.25zM489.1,339.9h1.25v1.25h-1.25zM482.9,347.7h1.25v1.25h-1.25zM482.2,356.0h1.25v1.25h-1.25zM479.1,349.0h1.25v1.25h-1.25zM495.5,339.0h1.25v1.25h-1.25zM480.7,354.2h1.25v1.25h-1.25zM473.7,347.0h1.25v1.25h-1.25zM473.2,352.1h1.25v1.25h-1.25zM478.7,356.2h1.25v1.25h-1.25zM492.0,351.4h1.25v1.25h-1.25zM480.7,352.8h1.25v1.25h-1.25zM484.2,343.1h1.25v1.25h-1.25zM492.4,352.6h1.25v1.25h-1.25zM490.1,342.2h1.25v1.25h-1.25zM490.8,364.9h1.25v1.25h-1.25zM488.7,341.6h1.25v1.25h-1.25zM484.0,350.7h1.25v1.25h-1.25zM485.5,349.6h1.25v1.25h-1.25zM487.7,348.0h1.25v1.25h-1.25zM485.6,346.6h1.25v1.25h-1.25zM484.5,357.6h1.25v1.25h-1.25zM479.8,355.4h1.25v1.25h-1.25zM476.5,348.6h1.25v1.25h-1.25zM481.8,359.2h1.25v1.25h-1.25zM477.5,359.1h1.25v1.25h-1.25zM471.9,350.0h1.25v1.25h-1.25zM491.1,355.6h1.25v1.25h-1.25zM475.5,343.0h1.25v1.25h-1.25zM490.8,342.8h1.25v1.25h-1.25zM488.4,347.6h1.25v1.25h-1.25zM483.6,366.3h1.25v1.25h-1.25zM496.2,356.6h1.25v1.25h-1.25zM472.6,353.2h1.25v1.25h-1.25zM484.1,350.4h1.25v1.25h-1.25zM494.5,339.8h1.25v1.25h-1.25zM486.2,351.9h1.25v1.25h-1.25zM477.6,362.4h1.25v1.25h-1.25zM473.4,351.2h1.25v1.25h-1.25zM484.3,336.6h1.25v1.25h-1.25zM472.1,344.7h1.25v1.25h-1.25zM490.0,357.2h1.25v1.25h-1.25zM488.5,352.6h1.25v1.25h-1.25zM465.9,352.4h1.25v1.25h-1.25zM479.5,358.7h1.25v1.25h-1.25zM494.5,365.7h1.25v1.25h-1.25zM489.4,356.4h1.25v1.25h-1.25zM475.3,351.5h1.25v1.25h-1.25zM473.6,356.9h1.25v1.25h-1.25zM474.0,349.6h1.25v1.25h-1.25zM477.0,347.9h1.25v1.25h-1.25zM487.3,347.3h1.25v1.25h-1.25zM485.4,344.4h1.25v1.25h-1.25zM494.9,346.8h1.25v1.25h-1.25zM491.8,365.1h1.25v1.25h-1.25zM463.9,344.5h1.25v1.25h-1.25zM481.9,358.7h1.25v1.25h-1.25zM479.7,353.5h1.25v1.25h-1.25zM477.7,354.7h1.25v1.25h-1.25zM473.7,356.5h1.25v1.25h-1.25zM498.4,352.1h1.25v1.25h-1.25zM476.3,365.5h1.25v1.25h-1.25zM492.1,358.4h1.25v1.25h-1.25zM480.1,355.1h1.25v1.25h-1.25zM487.7,340.0h1.25v1.25h-1.25zM488.4,349.7h1.25v1.25h-1.25zM494.1,359.6h1.25v1.25h-1.25zM478.3,347.0h1.25v1.25h-1.25zM485.1,355.3h1.25v1.25h-1.25zM480.2,350.2h1.25v1.25h-1.25zM488.5,353.8h1.25v1.25h-1.25zM493.1,352.5h1.25v1.25h-1.25zM476.3,339.3h1.25v1.25h-1.25zM490.2,348.7h1.25v1.25h-1.25zM480.7,349.0h1.25v1.25h-1.25zM470.7,348.4h1.25v1.25h-1.25zM462.3,348.3h1.25v1.25h-1.25zM476.2,363.2h1.25v1.25h-1.25zM487.2,349.5h1.25v1.25h-1.25zM484.9,355.8h1.25v1.25h-1.25zM477.3,349.4h1.25v1.25h-1.25zM480.6,367.5h1.25v1.25h-1.25zM484.1,337.8h1.25v1.25h-1.25zM490.1,368.2h1.25v1.25h-1.25zM475.7,374.1h1.25v1.25h-1.25zM483.0,357.6h1.25v1.25h-1.25zM478.9,349.1h1.25v1.25h-1.25zM473.4,343.9h1.25v1.25h-1.25zM465.9,358.6h1.25v1.25h-1.25zM474.1,353.4h1.25v1.25h-1.25zM486.2,346.6h1.25v1.25h-1.25zM483.9,350.3h1.25v1.25h-1.25zM479.4,351.2h1.25v1.25h-1.25zM483.9,344.1h1.25v1.25h-1.25zM472.8,345.2h1.25v1.25h-1.25zM484.5,360.2h1.25v1.25h-1.25zM495.6,353.0h1.25v1.25h-1.25zM491.3,351.7h1.25v1.25h-1.25zM492.6,351.8h1.25v1.25h-1.25zM486.7,349.0h1.25v1.25h-1.25zM483.4,363.6h1.25v1.25h-1.25zM473.6,350.9h1.25v1.25h-1.25zM478.6,357.3h1.25v1.25h-1.25zM498.5,348.8h1.25v1.25h-1.25zM460.6,355.0h1.25v1.25h-1.25zM488.6,339.6h1.25v1.25h-1.25zM481.5,350.4h1.25v1.25h-1.25zM464.3,355.4h1.25v1.25h-1.25zM487.1,352.5h1.25v1.25h-1.25zM474.7,346.1h1.25v1.25h-1.25zM478.2,354.1h1.25v1.25h-1.25zM475.3,360.7h1.25v1.25h-1.25zM486.6,336.2h1.25v1.25h-1.25zM497.4,351.9h1.25v1.25h-1.25zM478.9,351.5h1.25v1.25h-1.25zM468.3,352.1h1.25v1.25h-1.25zM463.0,343.9h1.25v1.25h-1.25zM494.7,359.3h1.25v1.25h-1.25zM480.6,344.3h1.25v1.25h-1.25zM491.1,350.5h1.25v1.25h-1.25zM485.2,355.0h1.25v1.25h-1.25zM474.4,356.2h1.25v1.25h-1.25zM465.8,360.7h1.25v1.25h-1.25zM470.3,346.6h1.25v1.25h-1.25zM477.8,355.7h1.25v1.25h-1.25zM489.6,353.2h1.25v1.25h-1.25zM487.9,354.0h1.25v1.25h-1.25zM482.7,337.9h1.25v1.25h-1.25zM482.9,349.2h1.25v1.25h-1.25zM482.2,352.3h1.25v1.25h-1.25zM481.4,344.0h1.25v1.25h-1.25zM493.5,356.9h1.25v1.25h-1.25zM472.0,348.9h1.25v1.25h-1.25zM487.0,361.6h1.25v1.25h-1.25zM478.3,351.9h1.25v1.25h-1.25zM492.9,338.9h1.25v1.25h-1.25zM477.2,350.5h1.25v1.25h-1.25zM477.3,365.1h1.25v1.25h-1.25zM490.5,352.1h1.25v1.25h-1.25zM475.2,356.6h1.25v1.25h-1.25zM488.6,347.2h1.25v1.25h-1.25zM479.6,340.8h1.25v1.25h-1.25zM482.6,356.6h1.25v1.25h-1.25zM491.6,354.6h1.25v1.25h-1.25zM490.1,346.7h1.25v1.25h-1.25zM479.3,358.9h1.25v1.25h-1.25zM487.0,345.3h1.25v1.25h-1.25zM487.4,356.3h1.25v1.25h-1.25zM489.1,351.4h1.25v1.25h-1.25zM478.9,353.4h1.25v1.25h-1.25zM497.4,351.7h1.25v1.25h-1.25zM477.6,353.0h1.25v1.25h-1.25zM472.9,352.2h1.25v1.25h-1.25zM480.7,357.2h1.25v1.25h-1.25zM484.1,357.8h1.25v1.25h-1.25zM502.4,349.2h1.25v1.25h-1.25zM476.2,353.8h1.25v1.25h-1.25zM482.5,351.6h1.25v1.25h-1.25zM478.2,354.4h1.25v1.25h-1.25zM483.8,336.0h1.25v1.25h-1.25zM481.2,352.9h1.25v1.25h-1.25zM493.0,346.7h1.25v1.25h-1.25zM476.5,358.4h1.25v1.25h-1.25zM478.1,351.4h1.25v1.25h-1.25zM487.1,355.6h1.25v1.25h-1.25zM483.2,343.1h1.25v1.25h-1.25zM491.6,347.7h1.25v1.25h-1.25zM478.8,364.2h1.25v1.25h-1.25zM490.5,343.5h1.25v1.25h-1.25zM479.2,349.0h1.25v1.25h-1.25zM476.9,337.7h1.25v1.25h-1.25zM489.8,355.9h1.25v1.25h-1.25zM485.2,347.9h1.25v1.25h-1.25zM484.9,354.9h1.25v1.25h-1.25zM474.5,348.4h1.25v1.25h-1.25zM478.5,355.3h1.25v1.25h-1.25zM485.3,341.9h1.25v1.25h-1.25zM478.0,362.5h1.25v1.25h-1.25zM475.1,351.6h1.25v1.25h-1.25zM477.9,359.0h1.25v1.25h-1.25zM482.6,347.7h1.25v1.25h-1.25zM473.4,349.0h1.25v1.25h-1.25zM490.0,355.1h1.25v1.25h-1.25zM472.2,361.1h1.25v1.25h-1.25zM481.1,343.5h1.25v1.25h-1.25zM484.2,346.4h1.25v1.25h-1.25zM478.3,346.3h1.25v1.25h-1.25zM482.4,347.2h1.25v1.25h-1.25zM468.9,354.1h1.25v1.25h-1.25zM478.8,358.6h1.25v1.25h-1.25zM487.5,354.7h1.25v1.25h-1.25zM484.6,359.3h1.25v1.25h-1.25zM480.4,343.9h1.25v1.25h-1.25zM486.0,332.3h1.25v1.25h-1.25zM480.0,352.0h1.25v1.25h-1.25zM479.6,359.0h1.25v1.25h-1.25zM488.9,351.3h1.25v1.25h-1.25zM479.8,357.9h1.25v1.25h-1.25zM477.5,347.8h1.25v1.25h-1.25zM489.3,354.6h1.25v1.25h-1.25zM499.9,349.1h1.25v1.25h-1.25zM467.5,355.0h1.25v1.25h-1.25zM493.5,349.4h1.25v1.25h-1.25zM495.9,362.5h1.25v1.25h-1.25zM477.6,347.3h1.25v1.25h-1.25zM472.7,354.2h1.25v1.25h-1.25zM489.0,354.6h1.25v1.25h-1.25zM472.9,345.4h1.25v1.25h-1.25zM471.2,339.7h1.25v1.25h-1.25zM471.9,339.9h1.25v1.25h-1.25zM481.5,353.4h1.25v1.25h-1.25zM488.2,350.4h1.25v1.25h-1.25zM477.5,350.5h1.25v1.25h-1.25zM487.7,348.5h1.25v1.25h-1.25zM483.5,348.5h1.25v1.25h-1.25zM478.7,350.7h1.25v1.25h-1.25zM473.8,357.6h1.25v1.25h-1.25zM470.1,353.6h1.25v1.25h-1.25zM471.8,360.6h1.25v1.25h-1.25zM490.2,345.1h1.25v1.25h-1.25zM479.3,343.0h1.25v1.25h-1.25zM482.5,353.3h1.25v1.25h-1.25zM504.1,341.4h1.25v1.25h-1.25zM493.2,346.6h1.25v1.25h-1.25zM485.3,356.4h1.25v1.25h-1.25zM487.5,353.3h1.25v1.25h-1.25zM481.4,350.4h1.25v1.25h-1.25zM484.3,358.5h1.25v1.25h-1.25zM470.9,347.2h1.25v1.25h-1.25zM472.7,344.1h1.25v1.25h-1.25zM476.4,357.8h1.25v1.25h-1.25zM500.6,359.6h1.25v1.25h-1.25zM473.2,351.0h1.25v1.25h-1.25zM473.7,353.5h1.25v1.25h-1.25zM493.5,354.4h1.25v1.25h-1.25zM490.2,349.5h1.25v1.25h-1.25zM482.2,354.3h1.25v1.25h-1.25zM493.4,348.2h1.25v1.25h-1.25zM483.6,352.2h1.25v1.25h-1.25zM491.7,350.0h1.25v1.25h-1.25zM474.0,357.7h1.25v1.25h-1.25zM486.4,353.1h1.25v1.25h-1.25zM472.5,350.4h1.25v1.25h-1.25zM481.0,347.6h1.25v1.25h-1.25zM487.7,360.1h1.25v1.25h-1.25zM482.7,362.4h1.25v1.25h-1.25zM478.2,355.6h1.25v1.25h-1.25zM472.6,351.3h1.25v1.25h-1.25zM480.4,349.1h1.25v1.25h-1.25zM487.8,337.9h1.25v1.25h-1.25zM483.9,345.1h1.25v1.25h-1.25zM484.0,353.1h1.25v1.25h-1.25zM479.9,348.0h1.25v1.25h-1.25zM473.5,354.2h1.25v1.25h-1.25zM477.5,353.5h1.25v1.25h-1.25zM471.3,359.6h1.25v1.25h-1.25zM474.6,358.2h1.25v1.25h-1.25zM479.3,354.1h1.25v1.25h-1.25zM481.8,355.0h1.25v1.25h-1.25zM483.0,359.0h1.25v1.25h-1.25zM488.5,355.0h1.25v1.25h-1.25zM496.7,345.8h1.25v1.25h-1.25zM493.7,351.0h1.25v1.25h-1.25zM470.9,353.7h1.25v1.25h-1.25zM481.3,361.8h1.25v1.25h-1.25zM479.0,350.8h1.25v1.25h-1.25zM484.9,337.8h1.25v1.25h-1.25zM487.2,343.9h1.25v1.25h-1.25zM494.5,361.6h1.25v1.25h-1.25zM482.9,339.9h1.25v1.25h-1.25zM484.5,351.7h1.25v1.25h-1.25zM488.9,348.5h1.25v1.25h-1.25zM473.2,349.6h1.25v1.25h-1.25zM475.4,362.3h1.25v1.25h-1.25zM477.2,346.2h1.25v1.25h-1.25zM482.6,342.2h1.25v1.25h-1.25zM479.3,349.6h1.25v1.25h-1.25zM479.0,348.8h1.25v1.25h-1.25zM493.2,353.4h1.25v1.25h-1.25zM472.0,347.6h1.25v1.25h-1.25zM489.1,346.2h1.25v1.25h-1.25zM483.7,350.3h1.25v1.25h-1.25zM487.3,349.3h1.25v1.25h-1.25zM481.8,344.8h1.25v1.25h-1.25zM485.9,344.3h1.25v1.25h-1.25zM497.2,350.4h1.25v1.25h-1.25zM481.2,355.8h1.25v1.25h-1.25zM482.3,351.1h1.25v1.25h-1.25zM482.6,345.7h1.25v1.25h-1.25zM475.4,345.8h1.25v1.25h-1.25zM492.3,346.3h1.25v1.25h-1.25zM479.7,347.5h1.25v1.25h-1.25zM488.7,363.7h1.25v1.25h-1.25zM475.4,354.2h1.25v1.25h-1.25zM484.0,348.5h1.25v1.25h-1.25zM487.1,342.0h1.25v1.25h-1.25zM489.8,352.0h1.25v1.25h-1.25zM474.8,361.1h1.25v1.25h-1.25zM490.0,358.2h1.25v1.25h-1.25zM471.1,348.7h1.25v1.25h-1.25zM478.7,354.7h1.25v1.25h-1.25zM494.1,337.8h1.25v1.25h-1.25zM483.2,349.7h1.25v1.25h-1.25zM491.2,350.2h1.25v1.25h-1.25zM472.6,349.2h1.25v1.25h-1.25zM474.5,345.3h1.25v1.25h-1.25zM483.3,347.3h1.25v1.25h-1.25zM485.3,340.4h1.25v1.25h-1.25zM502.0,358.9h1.25v1.25h-1.25zM488.9,341.9h1.25v1.25h-1.25zM465.3,344.8h1.25v1.25h-1.25zM481.1,365.3h1.25v1.25h-1.25zM493.7,347.0h1.25v1.25h-1.25zM492.9,358.6h1.25v1.25h-1.25zM483.1,358.6h1.25v1.25h-1.25zM485.7,346.1h1.25v1.25h-1.25zM473.4,349.7h1.25v1.25h-1.25zM491.2,341.5h1.25v1.25h-1.25zM469.8,354.2h1.25v1.25h-1.25zM460.8,362.6h1.25v1.25h-1.25zM479.4,355.4h1.25v1.25h-1.25zM498.2,340.9h1.25v1.25h-1.25zM474.4,365.4h1.25v1.25h-1.25zM480.7,349.7h1.25v1.25h-1.25zM484.9,357.5h1.25v1.25h-1.25zM493.8,351.2h1.25v1.25h-1.25zM480.3,350.3h1.25v1.25h-1.25zM485.5,359.2h1.25v1.25h-1.25zM484.1,362.6h1.25v1.25h-1.25zM476.0,354.0h1.25v1.25h-1.25zM497.4,359.1h1.25v1.25h-1.25zM485.7,344.6h1.25v1.25h-1.25zM477.2,349.5h1.25v1.25h-1.25zM485.5,348.8h1.25v1.25h-1.25zM471.1,345.6h1.25v1.25h-1.25zM487.2,356.1h1.25v1.25h-1.25zM471.6,348.1h1.25v1.25h-1.25zM469.3,346.8h1.25v1.25h-1.25zM480.2,346.6h1.25v1.25h-1.25zM473.1,338.1h1.25v1.25h-1.25zM482.7,348.7h1.25v1.25h-1.25zM495.1,339.6h1.25v1.25h-1.25zM486.6,359.4h1.25v1.25h-1.25zM467.0,354.9h1.25v1.25h-1.25zM469.8,354.0h1.25v1.25h-1.25zM495.1,350.5h1.25v1.25h-1.25zM485.3,345.9h1.25v1.25h-1.25zM485.4,358.0h1.25v1.25h-1.25zM481.5,349.6h1.25v1.25h-1.25zM486.2,356.0h1.25v1.25h-1.25zM469.6,350.9h1.25v1.25h-1.25zM477.4,353.8h1.25v1.25h-1.25zM491.5,352.6h1.25v1.25h-1.25zM493.6,343.9h1.25v1.25h-1.25zM479.7,343.9h1.25v1.25h-1.25zM483.5,351.1h1.25v1.25h-1.25zM481.4,342.4h1.25v1.25h-1.25zM482.4,347.6h1.25v1.25h-1.25zM488.0,348.7h1.25v1.25h-1.25zM492.5,352.0h1.25v1.25h-1.25zM467.8,349.4h1.25v1.25h-1.25zM471.3,356.9h1.25v1.25h-1.25zM494.7,350.3h1.25v1.25h-1.25zM486.6,340.9h1.25v1.25h-1.25zM464.6,346.8h1.25v1.25h-1.25zM480.9,340.4h1.25v1.25h-1.25zM483.8,352.6h1.25v1.25h-1.25zM488.3,360.8h1.25v1.25h-1.25zM489.6,348.1h1.25v1.25h-1.25zM483.9,354.5h1.25v1.25h-1.25zM474.5,359.3h1.25v1.25h-1.25zM490.4,349.0h1.25v1.25h-1.25zM477.8,375.8h1.25v1.25h-1.25zM489.9,356.8h1.25v1.25h-1.25zM497.7,357.0h1.25v1.25h-1.25zM484.7,355.2h1.25v1.25h-1.25zM475.6,355.3h1.25v1.25h-1.25zM470.4,353.3h1.25v1.25h-1.25zM487.6,340.2h1.25v1.25h-1.25zM498.8,342.9h1.25v1.25h-1.25zM491.6,347.0h1.25v1.25h-1.25zM485.6,346.2h1.25v1.25h-1.25zM503.5,357.4h1.25v1.25h-1.25zM497.9,355.8h1.25v1.25h-1.25zM488.8,351.6h1.25v1.25h-1.25zM481.2,354.6h1.25v1.25h-1.25zM484.4,349.6h1.25v1.25h-1.25zM471.9,348.6h1.25v1.25h-1.25zM488.1,347.5h1.25v1.25h-1.25zM486.0,349.7h1.25v1.25h-1.25zM474.7,344.6h1.25v1.25h-1.25zM477.1,348.7h1.25v1.25h-1.25zM481.0,358.1h1.25v1.25h-1.25zM474.3,337.0h1.25v1.25h-1.25zM488.8,347.6h1.25v1.25h-1.25zM482.2,367.6h1.25v1.25h-1.25zM495.2,354.6h1.25v1.25h-1.25zM491.0,351.5h1.25v1.25h-1.25zM491.1,346.6h1.25v1.25h-1.25zM477.4,347.6h1.25v1.25h-1.25zM496.2,361.1h1.25v1.25h-1.25zM478.3,358.4h1.25v1.25h-1.25zM481.9,357.9h1.25v1.25h-1.25zM480.6,357.1h1.25v1.25h-1.25zM482.3,348.8h1.25v1.25h-1.25zM483.1,351.8h1.25v1.25h-1.25zM478.5,341.6h1.25v1.25h-1.25zM497.2,348.1h1.25v1.25h-1.25zM460.3,346.6h1.25v1.25h-1.25zM494.4,339.8h1.25v1.25h-1.25zM480.6,338.5h1.25v1.25h-1.25zM492.3,353.2h1.25v1.25h-1.25zM485.9,359.8h1.25v1.25h-1.25zM496.8,357.6h1.25v1.25h-1.25zM478.5,341.9h1.25v1.25h-1.25zM474.7,339.0h1.25v1.25h-1.25zM498.2,349.5h1.25v1.25h-1.25zM484.4,352.1h1.25v1.25h-1.25zM499.9,347.0h1.25v1.25h-1.25zM493.0,352.8h1.25v1.25h-1.25zM482.1,337.9h1.25v1.25h-1.25zM490.9,345.8h1.25v1.25h-1.25zM479.5,352.3h1.25v1.25h-1.25zM484.1,358.3h1.25v1.25h-1.25zM477.8,351.9h1.25v1.25h-1.25zM485.6,350.9h1.25v1.25h-1.25zM488.9,349.1h1.25v1.25h-1.25zM493.3,346.0h1.25v1.25h-1.25zM471.5,350.5h1.25v1.25h-1.25zM493.1,347.3h1.25v1.25h-1.25zM478.2,348.5h1.25v1.25h-1.25zM484.7,349.6h1.25v1.25h-1.25zM485.9,339.3h1.25v1.25h-1.25zM495.7,354.7h1.25v1.25h-1.25zM476.3,360.0h1.25v1.25h-1.25zM487.0,360.6h1.25v1.25h-1.25zM473.7,361.9h1.25v1.25h-1.25zM483.7,337.0h1.25v1.25h-1.25zM489.5,348.8h1.25v1.25h-1.25zM475.0,349.3h1.25v1.25h-1.25zM467.3,354.7h1.25v1.25h-1.25zM481.6,349.0h1.25v1.25h-1.25zM495.0,351.0h1.25v1.25h-1.25zM477.9,344.4h1.25v1.25h-1.25zM482.8,357.9h1.25v1.25h-1.25zM478.6,343.8h1.25v1.25h-1.25zM490.9,351.2h1.25v1.25h-1.25zM483.1,364.7h1.25v1.25h-1.25zM473.3,352.1h1.25v1.25h-1.25zM468.7,348.8h1.25v1.25h-1.25zM488.2,358.3h1.25v1.25h-1.25zM472.9,356.4h1.25v1.25h-1.25zM489.8,349.9h1.25v1.25h-1.25zM503.6,350.8h1.25v1.25h-1.25zM476.1,353.6h1.25v1.25h-1.25zM468.0,361.2h1.25v1.25h-1.25zM491.5,348.1h1.25v1.25h-1.25zM488.4,354.4h1.25v1.25h-1.25zM499.3,346.7h1.25v1.25h-1.25zM472.7,337.2h1.25v1.25h-1.25zM480.9,340.3h1.25v1.25h-1.25zM481.9,353.5h1.25v1.25h-1.25zM479.7,344.4h1.25v1.25h-1.25zM493.2,349.4h1.25v1.25h-1.25zM485.2,357.1h1.25v1.25h-1.25zM472.6,344.6h1.25v1.25h-1.25zM503.9,349.7h1.25v1.25h-1.25zM474.7,349.1h1.25v1.25h-1.25zM478.6,342.5h1.25v1.25h-1.25zM480.0,350.6h1.25v1.25h-1.25zM483.2,354.4h1.25v1.25h-1.25zM469.1,340.8h1.25v1.25h-1.25zM489.8,347.8h1.25v1.25h-1.25zM493.3,352.8h1.25v1.25h-1.25zM471.7,354.4h1.25v1.25h-1.25zM475.0,352.5h1.25v1.25h-1.25zM493.5,364.9h1.25v1.25h-1.25zM482.8,355.4h1.25v1.25h-1.25zM485.8,356.1h1.25v1.25h-1.25zM462.3,348.2h1.25v1.25h-1.25zM485.7,353.9h1.25v1.25h-1.25zM477.1,356.3h1.25v1.25h-1.25zM492.4,351.2h1.25v1.25h-1.25zM481.5,348.4h1.25v1.25h-1.25zM484.5,358.7h1.25v1.25h-1.25zM495.7,347.6h1.25v1.25h-1.25zM475.7,345.5h1.25v1.25h-1.25zM491.4,352.3h1.25v1.25h-1.25zM485.8,354.0h1.25v1.25h-1.25zM486.4,350.0h1.25v1.25h-1.25zM474.8,346.6h1.25v1.25h-1.25zM484.3,353.4h1.25v1.25h-1.25zM480.3,348.0h1.25v1.25h-1.25zM494.6,347.7h1.25v1.25h-1.25zM485.2,348.6h1.25v1.25h-1.25zM476.3,340.7h1.25v1.25h-1.25zM478.9,345.3h1.25v1.25h-1.25zM490.3,343.1h1.25v1.25h-1.25zM480.0,355.1h1.25v1.25h-1.25zM482.4,354.1h1.25v1.25h-1.25zM490.2,339.7h1.25v1.25h-1.25zM480.0,344.4h1.25v1.25h-1.25zM494.4,350.0h1.25v1.25h-1.25zM487.4,362.1h1.25v1.25h-1.25zM480.4,351.3h1.25v1.25h-1.25zM486.7,349.0h1.25v1.25h-1.25zM493.6,356.2h1.25v1.25h-1.25zM491.5,351.1h1.25v1.25h-1.25zM480.5,348.4h1.25v1.25h-1.25zM480.4,339.9h1.25v1.25h-1.25zM486.3,356.2h1.25v1.25h-1.25zM483.2,347.5h1.25v1.25h-1.25zM483.6,352.3h1.25v1.25h-1.25zM486.0,362.7h1.25v1.25h-1.25zM476.3,353.2h1.25v1.25h-1.25zM488.9,351.3h1.25v1.25h-1.25zM481.4,344.0h1.25v1.25h-1.25zM478.5,355.4h1.25v1.25h-1.25zM495.1,346.4h1.25v1.25h-1.25zM487.1,354.2h1.25v1.25h-1.25zM491.5,352.4h1.25v1.25h-1.25zM486.9,356.7h1.25v1.25h-1.25zM473.9,351.1h1.25v1.25h-1.25zM476.6,340.6h1.25v1.25h-1.25zM487.4,357.3h1.25v1.25h-1.25zM480.8,349.8h1.25v1.25h-1.25zM481.4,349.0h1.25v1.25h-1.25zM484.4,353.0h1.25v1.25h-1.25zM479.6,345.6h1.25v1.25h-1.25zM479.1,356.0h1.25v1.25h-1.25zM479.9,360.3h1.25v1.25h-1.25zM481.3,359.7h1.25v1.25h-1.25zM473.6,346.2h1.25v1.25h-1.25zM487.1,353.9h1.25v1.25h-1.25zM482.0,364.1h1.25v1.25h-1.25zM483.9,352.6h1.25v1.25h-1.25zM478.7,361.6h1.25v1.25h-1.25zM490.2,353.4h1.25v1.25h-1.25zM470.1,353.1h1.25v1.25h-1.25zM479.5,353.3h1.25v1.25h-1.25zM490.6,345.8h1.25v1.25h-1.25zM485.0,356.5h1.25v1.25h-1.25zM484.6,348.6h1.25v1.25h-1.25zM474.7,346.3h1.25v1.25h-1.25zM473.1,357.2h1.25v1.25h-1.25zM484.1,342.8h1.25v1.25h-1.25zM483.2,342.3h1.25v1.25h-1.25zM456.9,358.6h1.25v1.25h-1.25zM492.7,341.1h1.25v1.25h-1.25zM477.5,352.1h1.25v1.25h-1.25zM480.2,345.1h1.25v1.25h-1.25zM479.1,349.1h1.25v1.25h-1.25zM478.8,352.1h1.25v1.25h-1.25zM481.4,345.7h1.25v1.25h-1.25zM483.4,339.9h1.25v1.25h-1.25zM494.8,339.4h1.25v1.25h-1.25zM482.6,352.9h1.25v1.25h-1.25zM486.6,352.4h1.25v1.25h-1.25zM493.4,343.4h1.25v1.25h-1.25zM482.7,351.6h1.25v1.25h-1.25zM479.3,346.8h1.25v1.25h-1.25zM493.5,346.0h1.25v1.25h-1.25zM479.4,348.9h1.25v1.25h-1.25zM481.5,351.7h1.25v1.25h-1.25zM481.6,353.1h1.25v1.25h-1.25zM484.3,353.8h1.25v1.25h-1.25zM494.2,345.2h1.25v1.25h-1.25zM496.4,347.8h1.25v1.25h-1.25zM488.5,351.7h1.25v1.25h-1.25zM480.8,337.9h1.25v1.25h-1.25zM496.1,345.7h1.25v1.25h-1.25zM476.9,357.6h1.25v1.25h-1.25zM483.8,363.0h1.25v1.25h-1.25zM496.6,355.3h1.25v1.25h-1.25zM485.2,355.6h1.25v1.25h-1.25zM472.7,351.8h1.25v1.25h-1.25zM484.4,347.6h1.25v1.25h-1.25zM485.2,341.2h1.25v1.25h-1.25zM490.4,359.0h1.25v1.25h-1.25zM472.9,351.6h1.25v1.25h-1.25zM495.5,353.4h1.25v1.25h-1.25zM475.0,344.3h1.25v1.25h-1.25zM490.0,362.5h1.25v1.25h-1.25zM474.5,350.9h1.25v1.25h-1.25zM477.0,348.8h1.25v1.25h-1.25zM485.6,350.4h1.25v1.25h-1.25zM477.7,364.2h1.25v1.25h-1.25zM481.9,349.5h1.25v1.25h-1.25zM492.0,350.7h1.25v1.25h-1.25zM481.6,356.8h1.25v1.25h-1.25zM474.9,355.5h1.25v1.25h-1.25zM491.3,354.9h1.25v1.25h-1.25zM481.7,350.6h1.25v1.25h-1.25zM469.5,349.8h1.25v1.25h-1.25zM485.5,356.2h1.25v1.25h-1.25zM484.3,348.1h1.25v1.25h-1.25zM476.5,350.3h1.25v1.25h-1.25zM484.2,358.4h1.25v1.25h-1.25zM483.2,347.4h1.25v1.25h-1.25zM482.3,347.5h1.25v1.25h-1.25zM481.3,336.4h1.25v1.25h-1.25zM470.5,342.9h1.25v1.25h-1.25zM486.8,350.1h1.25v1.25h-1.25zM484.3,358.1h1.25v1.25h-1.25zM474.9,358.0h1.25v1.25h-1.25zM486.2,346.0h1.25v1.25h-1.25zM494.9,341.4h1.25v1.25h-1.25zM474.2,349.3h1.25v1.25h-1.25zM486.3,349.4h1.25v1.25h-1.25zM466.2,348.7h1.25v1.25h-1.25zM482.5,367.0h1.25v1.25h-1.25zM494.0,351.4h1.25v1.25h-1.25zM474.5,352.8h1.25v1.25h-1.25zM473.9,351.9h1.25v1.25h-1.25zM486.0,348.0h1.25v1.25h-1.25zM485.1,348.5h1.25v1.25h-1.25zM478.6,360.5h1.25v1.25h-1.25zM487.7,348.6h1.25v1.25h-1.25zM477.1,351.7h1.25v1.25h-1.25zM487.6,356.1h1.25v1.25h-1.25zM494.8,353.6h1.25v1.25h-1.25zM474.3,363.6h1.25v1.25h-1.25zM492.3,355.9h1.25v1.25h-1.25zM493.7,341.0h1.25v1.25h-1.25zM480.2,347.3h1.25v1.25h-1.25zM492.5,343.0h1.25v1.25h-1.25zM480.6,360.3h1.25v1.25h-1.25zM488.2,348.1h1.25v1.25h-1.25zM498.0,342.1h1.25v1.25h-1.25zM486.7,349.1h1.25v1.25h-1.25zM487.1,348.8h1.25v1.25h-1.25zM476.5,352.0h1.25v1.25h-1.25zM472.7,354.0h1.25v1.25h-1.25zM480.6,356.5h1.25v1.25h-1.25zM479.6,346.3h1.25v1.25h-1.25zM486.3,358.5h1.25v1.25h-1.25zM466.8,351.3h1.25v1.25h-1.25zM488.0,341.5h1.25v1.25h-1.25zM476.2,354.7h1.25v1.25h-1.25zM476.6,346.5h1.25v1.25h-1.25zM496.6,344.5h1.25v1.25h-1.25zM476.3,335.7h1.25v1.25h-1.25zM474.5,342.7h1.25v1.25h-1.25zM496.6,358.4h1.25v1.25h-1.25zM473.1,363.2h1.25v1.25h-1.25zM489.2,349.4h1.25v1.25h-1.25zM489.5,353.0h1.25v1.25h-1.25zM477.0,339.3h1.25v1.25h-1.25zM475.9,350.5h1.25v1.25h-1.25zM480.3,345.8h1.25v1.25h-1.25zM490.8,343.7h1.25v1.25h-1.25zM490.1,347.5h1.25v1.25h-1.25zM483.9,343.4h1.25v1.25h-1.25zM483.0,345.5h1.25v1.25h-1.25zM469.3,350.4h1.25v1.25h-1.25zM482.7,355.9h1.25v1.25h-1.25zM485.3,344.1h1.25v1.25h-1.25zM478.2,334.6h1.25v1.25h-1.25zM474.2,358.9h1.25v1.25h-1.25zM495.0,355.4h1.25v1.25h-1.25zM485.4,354.3h1.25v1.25h-1.25zM486.9,339.4h1.25v1.25h-1.25zM476.2,358.1h1.25v1.25h-1.25zM492.4,352.1h1.25v1.25h-1.25zM480.6,348.1h1.25v1.25h-1.25zM478.8,344.6h1.25v1.25h-1.25zM467.8,351.5h1.25v1.25h-1.25zM479.5,349.2h1.25v1.25h-1.25zM496.6,354.3h1.25v1.25h-1.25zM477.5,354.3h1.25v1.25h-1.25zM471.2,357.3h1.25v1.25h-1.25zM485.1,349.3h1.25v1.25h-1.25zM487.6,359.9h1.25v1.25h-1.25zM479.4,344.2h1.25v1.25h-1.25zM499.8,350.6h1.25v1.25h-1.25zM494.9,346.2h1.25v1.25h-1.25zM486.0,346.4h1.25v1.25h-1.25zM488.1,348.8h1.25v1.25h-1.25zM477.7,360.5h1.25v1.25h-1.25zM485.7,337.5h1.25v1.25h-1.25zM481.2,344.6h1.25v1.25h-1.25zM473.4,346.8h1.25v1.25h-1.25zM479.2,350.7h1.25v1.25h-1.25zM476.7,338.5h1.25v1.25h-1.25zM478.8,356.2h1.25v1.25h-1.25zM472.2,354.5h1.25v1.25h-1.25zM486.7,347.6h1.25v1.25h-1.25zM485.5,345.7h1.25v1.25h-1.25zM479.8,343.9h1.25v1.25h-1.25zM486.7,359.4h1.25v1.25h-1.25zM477.6,358.2h1.25v1.25h-1.25zM466.1,344.8h1.25v1.25h-1.25zM475.0,361.6h1.25v1.25h-1.25zM478.3,355.5h1.25v1.25h-1.25zM466.7,351.2h1.25v1.25h-1.25zM487.5,350.3h1.25v1.25h-1.25zM461.4,351.7h1.25v1.25h-1.25zM489.5,359.0h1.25v1.25h-1.25zM486.2,339.6h1.25v1.25h-1.25zM481.3,356.4h1.25v1.25h-1.25zM476.5,354.2h1.25v1.25h-1.25zM479.2,351.1h1.25v1.25h-1.25zM489.0,345.9h1.25v1.25h-1.25zM505.8,351.5h1.25v1.25h-1.25zM485.7,345.7h1.25v1.25h-1.25zM483.5,348.8h1.25v1.25h-1.25zM471.4,340.6h1.25v1.25h-1.25zM485.3,349.9h1.25v1.25h-1.25zM480.5,350.1h1.25v1.25h-1.25zM487.9,342.5h1.25v1.25h-1.25zM487.7,348.5h1.25v1.25h-1.25zM478.9,349.6h1.25v1.25h-1.25zM490.9,354.1h1.25v1.25h-1.25zM490.1,346.0h1.25v1.25h-1.25zM480.7,342.9h1.25v1.25h-1.25zM478.6,347.9h1.25v1.25h-1.25zM479.3,355.1h1.25v1.25h-1.25zM486.4,355.4h1.25v1.25h-1.25zM484.0,357.5h1.25v1.25h-1.25zM483.9,356.8h1.25v1.25h-1.25zM487.0,355.3h1.25v1.25h-1.25zM482.5,342.4h1.25v1.25h-1.25zM471.4,363.2h1.25v1.25h-1.25zM486.1,353.4h1.25v1.25h-1.25zM481.7,347.5h1.25v1.25h-1.25zM506.0,343.2h1.25v1.25h-1.25zM482.5,350.2h1.25v1.25h-1.25zM474.0,342.2h1.25v1.25h-1.25zM477.4,348.3h1.25v1.25h-1.25zM479.1,355.8h1.25v1.25h-1.25zM473.6,353.1h1.25v1.25h-1.25zM494.7,356.3h1.25v1.25h-1.25zM473.9,331.3h1.25v1.25h-1.25zM489.8,353.7h1.25v1.25h-1.25zM478.3,358.8h1.25v1.25h-1.25zM479.8,351.2h1.25v1.25h-1.25zM474.7,352.6h1.25v1.25h-1.25zM479.6,347.2h1.25v1.25h-1.25zM491.6,351.9h1.25v1.25h-1.25zM471.0,355.0h1.25v1.25h-1.25zM489.7,345.1h1.25v1.25h-1.25zM479.9,350.8h1.25v1.25h-1.25zM481.0,351.3h1.25v1.25h-1.25zM488.2,347.3h1.25v1.25h-1.25zM499.6,345.9h1.25v1.25h-1.25zM478.7,363.3h1.25v1.25h-1.25zM502.1,350.7h1.25v1.25h-1.25zM481.5,343.5h1.25v1.25h-1.25zM492.1,351.6h1.25v1.25h-1.25zM476.2,353.1h1.25v1.25h-1.25zM494.0,355.0h1.25v1.25h-1.25zM500.7,358.0h1.25v1.25h-1.25zM486.5,350.3h1.25v1.25h-1.25zM487.4,358.4h1.25v1.25h-1.25zM489.9,357.4h1.25v1.25h-1.25zM484.8,355.5h1.25v1.25h-1.25zM492.7,349.4h1.25v1.25h-1.25zM472.6,361.7h1.25v1.25h-1.25zM487.7,347.6h1.25v1.25h-1.25zM484.9,348.9h1.25v1.25h-1.25zM469.4,349.3h1.25v1.25h-1.25zM471.6,351.8h1.25v1.25h-1.25zM482.1,357.9h1.25v1.25h-1.25zM482.0,352.9h1.25v1.25h-1.25zM480.6,348.0h1.25v1.25h-1.25zM471.8,356.9h1.25v1.25h-1.25zM484.4,346.7h1.25v1.25h-1.25zM484.7,347.8h1.25v1.25h-1.25zM477.2,352.1h1.25v1.25h-1.25zM492.7,348.7h1.25v1.25h-1.25zM471.6,346.5h1.25v1.25h-1.25zM497.4,345.2h1.25v1.25h-1.25zM492.5,348.9h1.25v1.25h-1.25zM488.9,349.8h1.25v1.25h-1.25zM470.4,347.8h1.25v1.25h-1.25zM499.9,349.6h1.25v1.25h-1.25zM487.5,348.3h1.25v1.25h-1.25zM481.9,352.6h1.25v1.25h-1.25zM486.8,364.9h1.25v1.25h-1.25zM482.9,349.3h1.25v1.25h-1.25zM477.7,342.0h1.25v1.25h-1.25zM470.1,354.8h1.25v1.25h-1.25zM468.1,359.6h1.25v1.25h-1.25zM489.9,348.6h1.25v1.25h-1.25zM473.8,350.7h1.25v1.25h-1.25zM483.2,357.8h1.25v1.25h-1.25zM477.1,348.1h1.25v1.25h-1.25zM482.6,348.7h1.25v1.25h-1.25zM478.0,339.4h1.25v1.25h-1.25zM469.9,346.1h1.25v1.25h-1.25zM481.2,357.0h1.25v1.25h-1.25zM501.5,361.7h1.25v1.25h-1.25zM486.2,362.7h1.25v1.25h-1.25zM482.1,347.1h1.25v1.25h-1.25zM501.5,343.6h1.25v1.25h-1.25zM479.7,348.8h1.25v1.25h-1.25zM494.7,346.7h1.25v1.25h-1.25zM489.3,347.9h1.25v1.25h-1.25zM473.2,352.1h1.25v1.25h-1.25zM484.4,343.0h1.25v1.25h-1.25zM476.1,345.4h1.25v1.25h-1.25zM490.7,353.5h1.25v1.25h-1.25zM484.9,353.7h1.25v1.25h-1.25zM479.2,353.6h1.25v1.25h-1.25zM478.2,341.9h1.25v1.25h-1.25zM477.4,351.9h1.25v1.25h-1.25zM483.8,357.4h1.25v1.25h-1.25zM469.5,349.1h1.25v1.25h-1.25zM486.2,344.3h1.25v1.25h-1.25zM485.0,347.9h1.25v1.25h-1.25zM474.0,357.8h1.25v1.25h-1.25zM471.9,357.0h1.25v1.25h-1.25zM479.7,344.4h1.25v1.25h-1.25zM476.0,345.8h1.25v1.25h-1.25zM476.3,352.3h1.25v1.25h-1.25zM468.1,358.6h1.25v1.25h-1.25zM489.7,359.6h1.25v1.25h-1.25zM475.2,335.5h1.25v1.25h-1.25zM478.1,349.5h1.25v1.25h-1.25zM485.5,347.2h1.25v1.25h-1.25zM482.4,351.5h1.25v1.25h-1.25zM470.7,362.3h1.25v1.25h-1.25zM474.1,352.3h1.25v1.25h-1.25zM491.7,345.5h1.25v1.25h-1.25zM483.1,361.2h1.25v1.25h-1.25zM480.8,357.4h1.25v1.25h-1.25zM485.4,352.1h1.25v1.25h-1.25zM488.8,349.1h1.25v1.25h-1.25zM481.4,356.8h1.25v1.25h-1.25zM485.2,353.8h1.25v1.25h-1.25zM473.5,350.7h1.25v1.25h-1.25zM492.8,356.4h1.25v1.25h-1.25zM485.9,347.2h1.25v1.25h-1.25zM478.2,353.4h1.25v1.25h-1.25zM494.5,350.9h1.25v1.25h-1.25zM493.5,348.7h1.25v1.25h-1.25zM492.7,344.1h1.25v1.25h-1.25zM484.6,343.7h1.25v1.25h-1.25zM488.4,354.3h1.25v1.25h-1.25zM475.5,345.8h1.25v1.25h-1.25zM479.6,340.9h1.25v1.25h-1.25zM475.7,345.0h1.25v1.25h-1.25zM489.4,359.6h1.25v1.25h-1.25zM479.6,348.7h1.25v1.25h-1.25zM484.8,347.2h1.25v1.25h-1.25zM480.9,356.0h1.25v1.25h-1.25zM485.0,350.0h1.25v1.25h-1.25zM478.5,360.2h1.25v1.25h-1.25zM478.2,351.4h1.25v1.25h-1.25zM474.9,346.7h1.25v1.25h-1.25zM483.9,348.0h1.25v1.25h-1.25zM487.4,351.0h1.25v1.25h-1.25zM472.1,335.6h1.25v1.25h-1.25zM491.1,346.8h1.25v1.25h-1.25zM494.9,350.7h1.25v1.25h-1.25zM471.3,364.7h1.25v1.25h-1.25zM475.7,361.2h1.25v1.25h-1.25zM469.8,365.2h1.25v1.25h-1.25zM488.0,357.7h1.25v1.25h-1.25zM494.2,357.4h1.25v1.25h-1.25zM480.4,350.5h1.25v1.25h-1.25zM460.8,374.7h1.25v1.25h-1.25zM490.9,368.5h1.25v1.25h-1.25zM462.9,362.6h1.25v1.25h-1.25zM481.9,361.6h1.25v1.25h-1.25zM480.8,355.1h1.25v1.25h-1.25zM476.7,353.7h1.25v1.25h-1.25zM475.0,363.5h1.25v1.25h-1.25zM471.1,359.3h1.25v1.25h-1.25zM474.2,361.2h1.25v1.25h-1.25zM486.4,362.6h1.25v1.25h-1.25zM481.7,351.7h1.25v1.25h-1.25zM474.8,366.4h1.25v1.25h-1.25zM470.4,358.3h1.25v1.25h-1.25zM469.4,369.7h1.25v1.25h-1.25zM474.0,356.3h1.25v1.25h-1.25zM483.6,368.2h1.25v1.25h-1.25zM482.5,367.4h1.25v1.25h-1.25zM480.0,360.2h1.25v1.25h-1.25zM474.1,357.8h1.25v1.25h-1.25zM472.7,363.4h1.25v1.25h-1.25zM477.1,361.6h1.25v1.25h-1.25zM483.5,360.7h1.25v1.25h-1.25zM465.8,355.9h1.25v1.25h-1.25zM468.0,348.7h1.25v1.25h-1.25zM479.0,353.3h1.25v1.25h-1.25zM466.5,354.1h1.25v1.25h-1.25zM485.9,359.0h1.25v1.25h-1.25zM487.0,360.5h1.25v1.25h-1.25zM474.1,364.7h1.25v1.25h-1.25zM483.4,361.8h1.25v1.25h-1.25zM468.7,358.1h1.25v1.25h-1.25zM467.4,359.4h1.25v1.25h-1.25zM478.9,370.7h1.25v1.25h-1.25zM490.7,365.4h1.25v1.25h-1.25zM486.6,362.5h1.25v1.25h-1.25zM503.0,370.9h1.25v1.25h-1.25zM501.8,363.5h1.25v1.25h-1.25zM481.7,367.9h1.25v1.25h-1.25zM479.7,363.0h1.25v1.25h-1.25zM469.1,367.1h1.25v1.25h-1.25zM479.2,366.3h1.25v1.25h-1.25zM476.0,349.5h1.25v1.25h-1.25zM482.5,368.6h1.25v1.25h-1.25zM466.5,354.7h1.25v1.25h-1.25zM475.3,359.4h1.25v1.25h-1.25zM462.7,372.4h1.25v1.25h-1.25zM487.1,357.0h1.25v1.25h-1.25zM461.7,363.4h1.25v1.25h-1.25zM495.9,366.4h1.25v1.25h-1.25zM488.4,354.9h1.25v1.25h-1.25zM480.1,351.3h1.25v1.25h-1.25zM495.8,364.7h1.25v1.25h-1.25zM459.1,349.0h1.25v1.25h-1.25zM482.3,361.9h1.25v1.25h-1.25zM475.2,365.0h1.25v1.25h-1.25zM496.1,363.4h1.25v1.25h-1.25zM461.8,360.0h1.25v1.25h-1.25zM466.2,355.8h1.25v1.25h-1.25zM480.9,359.9h1.25v1.25h-1.25zM468.4,360.8h1.25v1.25h-1.25zM470.6,364.4h1.25v1.25h-1.25zM475.8,363.5h1.25v1.25h-1.25zM475.5,365.8h1.25v1.25h-1.25zM476.7,360.9h1.25v1.25h-1.25zM472.8,361.9h1.25v1.25h-1.25zM471.8,361.6h1.25v1.25h-1.25zM473.6,357.8h1.25v1.25h-1.25zM481.5,357.6h1.25v1.25h-1.25zM474.0,352.0h1.25v1.25h-1.25zM469.6,353.3h1.25v1.25h-1.25zM494.1,352.2h1.25v1.25h-1.25zM468.2,362.2h1.25v1.25h-1.25zM490.7,349.9h1.25v1.25h-1.25zM463.9,361.7h1.25v1.25h-1.25zM480.9,351.7h1.25v1.25h-1.25zM461.7,354.7h1.25v1.25h-1.25zM484.6,360.6h1.25v1.25h-1.25zM484.6,360.2h1.25v1.25h-1.25zM477.6,364.9h1.25v1.25h-1.25zM476.8,362.4h1.25v1.25h-1.25zM469.6,357.0h1.25v1.25h-1.25zM482.1,359.3h1.25v1.25h-1.25zM471.1,365.1h1.25v1.25h-1.25zM482.7,360.8h1.25v1.25h-1.25zM471.0,366.7h1.25v1.25h-1.25zM500.3,355.5h1.25v1.25h-1.25zM463.9,355.8h1.25v1.25h-1.25zM469.4,352.6h1.25v1.25h-1.25zM467.2,366.4h1.25v1.25h-1.25zM485.5,370.5h1.25v1.25h-1.25zM484.5,357.7h1.25v1.25h-1.25zM487.6,356.9h1.25v1.25h-1.25zM474.7,353.2h1.25v1.25h-1.25zM488.8,367.4h1.25v1.25h-1.25zM473.6,358.8h1.25v1.25h-1.25zM478.1,362.1h1.25v1.25h-1.25zM485.4,361.3h1.25v1.25h-1.25zM481.4,351.1h1.25v1.25h-1.25zM475.0,349.2h1.25v1.25h-1.25zM493.8,369.9h1.25v1.25h-1.25zM484.2,368.0h1.25v1.25h-1.25zM495.8,366.9h1.25v1.25h-1.25zM463.4,359.5h1.25v1.25h-1.25zM456.6,355.5h1.25v1.25h-1.25zM466.5,360.8h1.25v1.25h-1.25zM481.2,354.8h1.25v1.25h-1.25zM475.2,362.6h1.25v1.25h-1.25zM476.3,359.6h1.25v1.25h-1.25zM456.1,357.9h1.25v1.25h-1.25zM484.8,362.5h1.25v1.25h-1.25zM464.4,359.0h1.25v1.25h-1.25zM480.1,354.4h1.25v1.25h-1.25zM483.8,355.6h1.25v1.25h-1.25zM474.7,360.1h1.25v1.25h-1.25zM497.7,358.7h1.25v1.25h-1.25zM472.5,365.4h1.25v1.25h-1.25zM473.4,362.0h1.25v1.25h-1.25zM457.4,362.7h1.25v1.25h-1.25zM477.5,352.4h1.25v1.25h-1.25zM489.9,359.2h1.25v1.25h-1.25zM475.9,352.2h1.25v1.25h-1.25zM463.0,357.1h1.25v1.25h-1.25zM464.0,363.9h1.25v1.25h-1.25zM485.5,356.6h1.25v1.25h-1.25zM463.2,358.2h1.25v1.25h-1.25zM468.1,361.8h1.25v1.25h-1.25zM479.3,358.0h1.25v1.25h-1.25zM478.3,367.5h1.25v1.25h-1.25zM493.0,357.4h1.25v1.25h-1.25zM484.1,359.2h1.25v1.25h-1.25zM468.1,369.1h1.25v1.25h-1.25zM481.2,361.7h1.25v1.25h-1.25zM480.8,359.7h1.25v1.25h-1.25zM468.2,372.3h1.25v1.25h-1.25zM485.7,362.4h1.25v1.25h-1.25zM486.3,369.1h1.25v1.25h-1.25zM475.8,364.5h1.25v1.25h-1.25zM474.7,364.9h1.25v1.25h-1.25zM475.3,376.6h1.25v1.25h-1.25zM474.4,364.1h1.25v1.25h-1.25zM481.8,358.6h1.25v1.25h-1.25zM486.1,360.2h1.25v1.25h-1.25zM473.9,360.7h1.25v1.25h-1.25zM470.9,368.5h1.25v1.25h-1.25zM483.3,367.1h1.25v1.25h-1.25zM465.5,362.5h1.25v1.25h-1.25zM470.7,361.3h1.25v1.25h-1.25zM489.1,362.4h1.25v1.25h-1.25zM476.0,368.0h1.25v1.25h-1.25zM486.7,372.7h1.25v1.25h-1.25zM460.9,362.9h1.25v1.25h-1.25zM473.9,355.0h1.25v1.25h-1.25zM478.7,353.2h1.25v1.25h-1.25zM457.5,354.9h1.25v1.25h-1.25zM475.3,372.9h1.25v1.25h-1.25zM471.1,353.1h1.25v1.25h-1.25zM459.8,358.4h1.25v1.25h-1.25zM475.5,361.7h1.25v1.25h-1.25zM464.6,355.8h1.25v1.25h-1.25zM457.2,361.8h1.25v1.25h-1.25zM463.5,342.9h1.25v1.25h-1.25zM488.1,364.0h1.25v1.25h-1.25zM480.8,363.0h1.25v1.25h-1.25zM468.3,367.7h1.25v1.25h-1.25zM468.2,373.2h1.25v1.25h-1.25zM479.7,348.7h1.25v1.25h-1.25zM485.5,373.6h1.25v1.25h-1.25zM475.3,367.7h1.25v1.25h-1.25zM475.7,356.7h1.25v1.25h-1.25zM454.4,368.8h1.25v1.25h-1.25zM473.6,363.2h1.25v1.25h-1.25zM467.4,354.8h1.25v1.25h-1.25zM487.7,358.2h1.25v1.25h-1.25zM474.0,352.5h1.25v1.25h-1.25zM479.5,365.8h1.25v1.25h-1.25zM473.5,359.5h1.25v1.25h-1.25zM466.7,369.9h1.25v1.25h-1.25zM472.1,359.7h1.25v1.25h-1.25zM492.8,359.3h1.25v1.25h-1.25zM463.7,354.7h1.25v1.25h-1.25zM474.4,372.4h1.25v1.25h-1.25zM479.7,359.3h1.25v1.25h-1.25zM485.2,369.3h1.25v1.25h-1.25zM470.8,370.1h1.25v1.25h-1.25zM485.5,363.7h1.25v1.25h-1.25zM456.3,362.1h1.25v1.25h-1.25zM490.3,359.0h1.25v1.25h-1.25zM498.6,361.3h1.25v1.25h-1.25zM468.5,364.7h1.25v1.25h-1.25zM480.4,366.3h1.25v1.25h-1.25zM475.7,369.3h1.25v1.25h-1.25zM472.7,361.7h1.25v1.25h-1.25zM466.5,355.6h1.25v1.25h-1.25zM479.6,356.5h1.25v1.25h-1.25zM473.7,359.5h1.25v1.25h-1.25zM480.1,365.9h1.25v1.25h-1.25zM484.7,367.5h1.25v1.25h-1.25zM479.6,357.3h1.25v1.25h-1.25zM463.4,358.6h1.25v1.25h-1.25zM470.6,348.9h1.25v1.25h-1.25zM492.8,348.8h1.25v1.25h-1.25zM481.0,364.5h1.25v1.25h-1.25zM478.0,355.8h1.25v1.25h-1.25zM493.8,355.6h1.25v1.25h-1.25zM464.7,354.2h1.25v1.25h-1.25zM472.0,361.2h1.25v1.25h-1.25zM480.9,350.8h1.25v1.25h-1.25zM481.0,375.5h1.25v1.25h-1.25zM471.3,360.0h1.25v1.25h-1.25zM484.1,368.8h1.25v1.25h-1.25zM471.7,354.5h1.25v1.25h-1.25zM468.6,368.1h1.25v1.25h-1.25zM486.0,346.6h1.25v1.25h-1.25zM458.3,352.7h1.25v1.25h-1.25zM464.1,363.6h1.25v1.25h-1.25zM479.8,373.8h1.25v1.25h-1.25zM485.1,361.7h1.25v1.25h-1.25zM488.6,355.0h1.25v1.25h-1.25zM465.0,361.1h1.25v1.25h-1.25zM486.4,350.2h1.25v1.25h-1.25zM486.0,366.5h1.25v1.25h-1.25zM473.2,362.0h1.25v1.25h-1.25zM475.3,361.4h1.25v1.25h-1.25zM485.2,355.6h1.25v1.25h-1.25zM487.3,366.6h1.25v1.25h-1.25zM486.1,347.9h1.25v1.25h-1.25zM460.8,365.4h1.25v1.25h-1.25zM472.4,356.3h1.25v1.25h-1.25zM470.8,352.0h1.25v1.25h-1.25zM475.2,356.1h1.25v1.25h-1.25zM471.8,364.0h1.25v1.25h-1.25zM467.0,368.3h1.25v1.25h-1.25zM465.4,364.7h1.25v1.25h-1.25zM486.1,360.8h1.25v1.25h-1.25zM484.6,360.1h1.25v1.25h-1.25zM461.7,363.1h1.25v1.25h-1.25zM488.3,357.2h1.25v1.25h-1.25zM462.3,356.9h1.25v1.25h-1.25zM480.8,362.8h1.25v1.25h-1.25zM487.9,364.5h1.25v1.25h-1.25zM482.4,347.6h1.25v1.25h-1.25zM498.2,361.2h1.25v1.25h-1.25zM485.7,358.6h1.25v1.25h-1.25zM476.4,361.2h1.25v1.25h-1.25zM492.2,370.9h1.25v1.25h-1.25zM483.5,374.0h1.25v1.25h-1.25zM474.2,364.3h1.25v1.25h-1.25zM473.6,369.5h1.25v1.25h-1.25zM478.2,367.4h1.25v1.25h-1.25zM493.7,347.1h1.25v1.25h-1.25zM497.8,363.0h1.25v1.25h-1.25zM474.9,348.2h1.25v1.25h-1.25zM475.1,345.6h1.25v1.25h-1.25zM478.7,359.8h1.25v1.25h-1.25zM494.6,358.7h1.25v1.25h-1.25zM487.7,368.7h1.25v1.25h-1.25zM496.9,359.3h1.25v1.25h-1.25zM484.9,350.8h1.25v1.25h-1.25zM467.7,359.1h1.25v1.25h-1.25zM477.7,352.8h1.25v1.25h-1.25zM474.1,365.6h1.25v1.25h-1.25zM473.7,359.9h1.25v1.25h-1.25zM469.7,370.1h1.25v1.25h-1.25zM494.3,362.3h1.25v1.25h-1.25zM476.9,372.0h1.25v1.25h-1.25zM482.3,356.5h1.25v1.25h-1.25zM465.5,357.0h1.25v1.25h-1.25zM498.2,357.0h1.25v1.25h-1.25zM504.6,360.9h1.25v1.25h-1.25zM475.9,369.8h1.25v1.25h-1.25zM475.7,363.5h1.25v1.25h-1.25zM468.4,352.7h1.25v1.25h-1.25zM471.1,362.5h1.25v1.25h-1.25zM471.8,347.9h1.25v1.25h-1.25zM482.4,359.9h1.25v1.25h-1.25zM475.4,356.9h1.25v1.25h-1.25zM457.2,371.6h1.25v1.25h-1.25zM473.5,364.5h1.25v1.25h-1.25zM490.8,368.5h1.25v1.25h-1.25zM479.8,361.0h1.25v1.25h-1.25zM480.8,367.0h1.25v1.25h-1.25zM483.3,358.0h1.25v1.25h-1.25zM482.1,363.5h1.25v1.25h-1.25zM484.4,362.4h1.25v1.25h-1.25zM490.6,362.3h1.25v1.25h-1.25zM486.2,361.3h1.25v1.25h-1.25zM472.7,354.7h1.25v1.25h-1.25zM476.5,364.6h1.25v1.25h-1.25zM489.7,360.4h1.25v1.25h-1.25zM473.2,357.6h1.25v1.25h-1.25zM489.9,361.7h1.25v1.25h-1.25zM473.4,365.9h1.25v1.25h-1.25zM465.8,361.8h1.25v1.25h-1.25zM477.6,360.1h1.25v1.25h-1.25zM467.3,367.5h1.25v1.25h-1.25zM493.5,352.2h1.25v1.25h-1.25zM479.1,365.3h1.25v1.25h-1.25zM498.8,358.2h1.25v1.25h-1.25zM469.2,361.0h1.25v1.25h-1.25zM496.6,361.5h1.25v1.25h-1.25zM480.4,372.8h1.25v1.25h-1.25zM458.3,346.6h1.25v1.25h-1.25zM486.4,366.2h1.25v1.25h-1.25zM465.2,364.4h1.25v1.25h-1.25zM478.4,362.4h1.25v1.25h-1.25zM470.6,358.0h1.25v1.25h-1.25zM469.9,361.3h1.25v1.25h-1.25zM475.9,372.2h1.25v1.25h-1.25zM483.8,350.5h1.25v1.25h-1.25zM481.8,370.5h1.25v1.25h-1.25zM480.6,368.2h1.25v1.25h-1.25zM477.7,365.7h1.25v1.25h-1.25zM469.4,366.2h1.25v1.25h-1.25zM465.3,369.6h1.25v1.25h-1.25zM464.0,346.9h1.25v1.25h-1.25zM482.9,359.8h1.25v1.25h-1.25zM479.1,363.8h1.25v1.25h-1.25zM477.7,355.1h1.25v1.25h-1.25zM479.9,363.3h1.25v1.25h-1.25zM482.5,374.2h1.25v1.25h-1.25zM471.2,361.4h1.25v1.25h-1.25zM483.2,358.0h1.25v1.25h-1.25zM466.9,357.2h1.25v1.25h-1.25zM487.8,359.2h1.25v1.25h-1.25zM483.6,356.1h1.25v1.25h-1.25zM482.1,356.5h1.25v1.25h-1.25zM470.2,361.7h1.25v1.25h-1.25zM478.5,370.8h1.25v1.25h-1.25zM463.0,364.4h1.25v1.25h-1.25zM492.9,370.1h1.25v1.25h-1.25zM474.5,356.5h1.25v1.25h-1.25zM473.4,363.0h1.25v1.25h-1.25zM479.7,363.3h1.25v1.25h-1.25zM483.5,353.9h1.25v1.25h-1.25zM467.6,352.8h1.25v1.25h-1.25zM465.6,360.3h1.25v1.25h-1.25zM482.9,361.1h1.25v1.25h-1.25zM491.1,356.1h1.25v1.25h-1.25zM481.1,367.5h1.25v1.25h-1.25zM485.3,363.7h1.25v1.25h-1.25zM474.8,352.7h1.25v1.25h-1.25zM476.6,357.0h1.25v1.25h-1.25zM484.4,360.1h1.25v1.25h-1.25zM483.2,350.3h1.25v1.25h-1.25zM487.0,355.3h1.25v1.25h-1.25zM463.6,351.8h1.25v1.25h-1.25zM472.2,368.5h1.25v1.25h-1.25zM484.6,353.2h1.25v1.25h-1.25zM478.8,360.3h1.25v1.25h-1.25zM463.5,354.4h1.25v1.25h-1.25zM459.2,355.2h1.25v1.25h-1.25zM453.5,355.7h1.25v1.25h-1.25zM469.4,355.7h1.25v1.25h-1.25zM470.4,368.7h1.25v1.25h-1.25zM474.8,362.6h1.25v1.25h-1.25zM485.0,367.0h1.25v1.25h-1.25zM484.3,357.3h1.25v1.25h-1.25zM467.9,355.8h1.25v1.25h-1.25zM473.6,361.0h1.25v1.25h-1.25zM477.2,368.3h1.25v1.25h-1.25zM477.0,372.9h1.25v1.25h-1.25zM487.5,357.8h1.25v1.25h-1.25zM485.9,341.9h1.25v1.25h-1.25zM490.7,363.7h1.25v1.25h-1.25zM481.7,349.8h1.25v1.25h-1.25zM501.2,359.3h1.25v1.25h-1.25zM476.7,368.5h1.25v1.25h-1.25zM476.2,355.3h1.25v1.25h-1.25zM484.1,354.3h1.25v1.25h-1.25zM484.8,361.9h1.25v1.25h-1.25zM488.4,352.9h1.25v1.25h-1.25zM489.5,363.0h1.25v1.25h-1.25zM496.2,356.7h1.25v1.25h-1.25zM495.1,365.7h1.25v1.25h-1.25zM485.3,356.2h1.25v1.25h-1.25zM483.1,365.5h1.25v1.25h-1.25zM470.4,353.3h1.25v1.25h-1.25zM470.9,370.7h1.25v1.25h-1.25zM479.4,367.2h1.25v1.25h-1.25zM480.7,361.8h1.25v1.25h-1.25zM480.0,358.3h1.25v1.25h-1.25zM489.2,362.1h1.25v1.25h-1.25zM480.1,351.8h1.25v1.25h-1.25zM480.8,356.5h1.25v1.25h-1.25zM473.4,367.9h1.25v1.25h-1.25zM467.9,359.7h1.25v1.25h-1.25zM483.8,368.7h1.25v1.25h-1.25zM473.2,363.1h1.25v1.25h-1.25zM480.6,353.5h1.25v1.25h-1.25zM458.3,348.2h1.25v1.25h-1.25zM483.5,361.7h1.25v1.25h-1.25zM465.7,356.7h1.25v1.25h-1.25zM474.3,358.6h1.25v1.25h-1.25zM477.7,375.7h1.25v1.25h-1.25zM470.8,361.9h1.25v1.25h-1.25zM470.9,356.8h1.25v1.25h-1.25zM469.9,359.5h1.25v1.25h-1.25zM472.9,363.3h1.25v1.25h-1.25zM480.0,355.1h1.25v1.25h-1.25zM495.6,353.2h1.25v1.25h-1.25zM481.3,375.4h1.25v1.25h-1.25zM471.4,369.8h1.25v1.25h-1.25zM491.0,363.2h1.25v1.25h-1.25zM461.0,370.4h1.25v1.25h-1.25zM478.8,357.4h1.25v1.25h-1.25zM489.7,356.2h1.25v1.25h-1.25zM487.8,357.4h1.25v1.25h-1.25zM482.9,353.8h1.25v1.25h-1.25zM474.4,354.9h1.25v1.25h-1.25zM471.4,362.2h1.25v1.25h-1.25zM476.4,362.2h1.25v1.25h-1.25zM489.8,360.2h1.25v1.25h-1.25zM460.9,359.1h1.25v1.25h-1.25zM478.7,367.8h1.25v1.25h-1.25zM487.5,367.3h1.25v1.25h-1.25zM475.9,365.3h1.25v1.25h-1.25zM464.7,369.6h1.25v1.25h-1.25zM482.0,364.4h1.25v1.25h-1.25zM474.5,361.4h1.25v1.25h-1.25zM471.8,364.8h1.25v1.25h-1.25zM465.8,367.4h1.25v1.25h-1.25zM483.0,374.4h1.25v1.25h-1.25zM477.6,360.4h1.25v1.25h-1.25zM479.8,361.2h1.25v1.25h-1.25zM477.0,353.7h1.25v1.25h-1.25zM467.8,357.2h1.25v1.25h-1.25zM475.3,353.1h1.25v1.25h-1.25zM467.3,359.1h1.25v1.25h-1.25zM484.8,359.7h1.25v1.25h-1.25zM484.2,367.5h1.25v1.25h-1.25zM485.1,358.2h1.25v1.25h-1.25zM474.3,348.6h1.25v1.25h-1.25zM471.7,364.1h1.25v1.25h-1.25zM468.0,370.0h1.25v1.25h-1.25zM491.2,358.5h1.25v1.25h-1.25zM486.5,351.6h1.25v1.25h-1.25zM468.4,358.5h1.25v1.25h-1.25zM478.1,359.8h1.25v1.25h-1.25zM470.1,374.0h1.25v1.25h-1.25zM480.7,362.9h1.25v1.25h-1.25zM484.3,362.2h1.25v1.25h-1.25zM475.9,357.3h1.25v1.25h-1.25zM463.0,370.9h1.25v1.25h-1.25zM469.5,350.0h1.25v1.25h-1.25zM470.6,350.4h1.25v1.25h-1.25zM496.3,363.4h1.25v1.25h-1.25zM490.9,370.7h1.25v1.25h-1.25zM483.2,364.8h1.25v1.25h-1.25zM471.4,360.4h1.25v1.25h-1.25zM472.4,361.3h1.25v1.25h-1.25zM471.6,369.4h1.25v1.25h-1.25zM485.0,360.3h1.25v1.25h-1.25zM462.6,365.5h1.25v1.25h-1.25zM486.1,360.5h1.25v1.25h-1.25zM466.4,363.9h1.25v1.25h-1.25zM487.6,348.3h1.25v1.25h-1.25zM483.2,349.0h1.25v1.25h-1.25zM478.7,372.6h1.25v1.25h-1.25zM478.8,364.2h1.25v1.25h-1.25zM475.0,361.0h1.25v1.25h-1.25zM499.6,369.8h1.25v1.25h-1.25zM475.1,358.5h1.25v1.25h-1.25zM478.2,375.5h1.25v1.25h-1.25zM479.9,368.4h1.25v1.25h-1.25zM474.7,352.6h1.25v1.25h-1.25zM490.1,360.5h1.25v1.25h-1.25zM470.8,356.4h1.25v1.25h-1.25zM471.8,357.0h1.25v1.25h-1.25zM463.9,369.0h1.25v1.25h-1.25zM481.5,367.5h1.25v1.25h-1.25zM474.8,363.3h1.25v1.25h-1.25zM479.5,368.8h1.25v1.25h-1.25zM485.5,363.4h1.25v1.25h-1.25zM472.0,353.0h1.25v1.25h-1.25zM470.7,356.8h1.25v1.25h-1.25zM473.1,352.8h1.25v1.25h-1.25zM493.2,362.8h1.25v1.25h-1.25zM459.5,353.8h1.25v1.25h-1.25zM465.7,362.6h1.25v1.25h-1.25zM487.8,354.5h1.25v1.25h-1.25zM483.7,359.2h1.25v1.25h-1.25zM488.5,370.0h1.25v1.25h-1.25zM480.8,365.7h1.25v1.25h-1.25zM478.0,358.5h1.25v1.25h-1.25zM467.4,363.2h1.25v1.25h-1.25zM477.4,358.5h1.25v1.25h-1.25zM477.3,359.8h1.25v1.25h-1.25zM468.5,357.5h1.25v1.25h-1.25zM488.4,359.5h1.25v1.25h-1.25zM490.7,353.4h1.25v1.25h-1.25zM465.6,361.8h1.25v1.25h-1.25zM485.1,356.7h1.25v1.25h-1.25zM483.7,367.2h1.25v1.25h-1.25zM487.8,360.3h1.25v1.25h-1.25zM477.5,350.1h1.25v1.25h-1.25zM478.2,362.8h1.25v1.25h-1.25zM490.9,352.6h1.25v1.25h-1.25zM470.3,354.4h1.25v1.25h-1.25zM486.2,344.4h1.25v1.25h-1.25zM468.1,374.6h1.25v1.25h-1.25zM484.0,352.3h1.25v1.25h-1.25zM477.5,366.6h1.25v1.25h-1.25zM483.0,359.5h1.25v1.25h-1.25zM470.8,366.5h1.25v1.25h-1.25zM477.9,366.3h1.25v1.25h-1.25zM481.6,357.9h1.25v1.25h-1.25zM491.1,357.7h1.25v1.25h-1.25zM481.9,356.8h1.25v1.25h-1.25zM475.9,359.4h1.25v1.25h-1.25zM472.0,362.6h1.25v1.25h-1.25zM489.9,373.2h1.25v1.25h-1.25zM491.1,359.9h1.25v1.25h-1.25zM491.2,363.8h1.25v1.25h-1.25zM494.3,352.7h1.25v1.25h-1.25zM491.5,357.1h1.25v1.25h-1.25zM488.5,357.9h1.25v1.25h-1.25zM486.3,359.2h1.25v1.25h-1.25zM460.9,354.7h1.25v1.25h-1.25zM475.8,361.2h1.25v1.25h-1.25zM457.7,353.1h1.25v1.25h-1.25zM471.4,359.6h1.25v1.25h-1.25zM480.0,355.6h1.25v1.25h-1.25zM464.2,363.0h1.25v1.25h-1.25zM475.0,366.8h1.25v1.25h-1.25zM473.2,365.2h1.25v1.25h-1.25zM469.9,362.8h1.25v1.25h-1.25zM478.8,363.9h1.25v1.25h-1.25zM469.5,360.2h1.25v1.25h-1.25zM470.3,359.9h1.25v1.25h-1.25zM478.3,365.7h1.25v1.25h-1.25zM479.0,368.4h1.25v1.25h-1.25zM482.2,367.8h1.25v1.25h-1.25zM481.2,376.7h1.25v1.25h-1.25zM490.5,349.9h1.25v1.25h-1.25zM480.7,361.5h1.25v1.25h-1.25zM458.0,355.4h1.25v1.25h-1.25zM473.9,356.2h1.25v1.25h-1.25zM479.2,349.3h1.25v1.25h-1.25zM484.8,366.1h1.25v1.25h-1.25zM481.2,358.9h1.25v1.25h-1.25zM478.1,358.0h1.25v1.25h-1.25zM488.4,364.3h1.25v1.25h-1.25zM496.1,358.6h1.25v1.25h-1.25zM491.2,357.3h1.25v1.25h-1.25zM476.5,354.2h1.25v1.25h-1.25zM482.8,360.6h1.25v1.25h-1.25zM483.7,370.8h1.25v1.25h-1.25zM477.5,363.5h1.25v1.25h-1.25zM486.2,360.7h1.25v1.25h-1.25zM473.1,363.4h1.25v1.25h-1.25zM482.6,366.1h1.25v1.25h-1.25zM485.6,356.7h1.25v1.25h-1.25zM482.1,369.1h1.25v1.25h-1.25zM473.9,363.4h1.25v1.25h-1.25zM472.5,362.1h1.25v1.25h-1.25zM493.7,362.2h1.25v1.25h-1.25zM469.3,363.3h1.25v1.25h-1.25zM480.0,368.3h1.25v1.25h-1.25zM465.7,355.1h1.25v1.25h-1.25zM477.4,350.9h1.25v1.25h-1.25zM488.3,347.8h1.25v1.25h-1.25zM470.6,351.4h1.25v1.25h-1.25zM472.1,366.3h1.25v1.25h-1.25zM483.5,367.1h1.25v1.25h-1.25zM483.5,347.8h1.25v1.25h-1.25zM480.8,349.0h1.25v1.25h-1.25zM473.5,358.5h1.25v1.25h-1.25zM473.2,364.3h1.25v1.25h-1.25zM470.8,372.3h1.25v1.25h-1.25zM483.5,368.7h1.25v1.25h-1.25zM484.9,366.9h1.25v1.25h-1.25zM477.7,373.8h1.25v1.25h-1.25zM468.6,364.1h1.25v1.25h-1.25zM478.1,359.6h1.25v1.25h-1.25zM480.9,356.2h1.25v1.25h-1.25zM485.9,366.2h1.25v1.25h-1.25zM479.0,365.9h1.25v1.25h-1.25zM468.7,349.3h1.25v1.25h-1.25zM472.8,359.5h1.25v1.25h-1.25zM500.6,359.6h1.25v1.25h-1.25zM487.4,366.6h1.25v1.25h-1.25zM497.1,361.8h1.25v1.25h-1.25zM484.0,359.8h1.25v1.25h-1.25zM470.3,354.5h1.25v1.25h-1.25zM471.0,370.4h1.25v1.25h-1.25zM480.7,360.1h1.25v1.25h-1.25zM478.2,357.4h1.25v1.25h-1.25zM477.8,360.8h1.25v1.25h-1.25zM484.0,367.0h1.25v1.25h-1.25zM465.9,343.3h1.25v1.25h-1.25zM455.9,370.5h1.25v1.25h-1.25zM465.4,355.8h1.25v1.25h-1.25zM468.9,368.0h1.25v1.25h-1.25zM468.1,356.1h1.25v1.25h-1.25zM467.2,367.4h1.25v1.25h-1.25zM467.5,374.8h1.25v1.25h-1.25zM457.8,348.6h1.25v1.25h-1.25zM462.4,356.9h1.25v1.25h-1.25zM466.9,363.7h1.25v1.25h-1.25zM470.6,373.6h1.25v1.25h-1.25zM458.0,371.5h1.25v1.25h-1.25zM469.6,354.3h1.25v1.25h-1.25zM469.1,358.9h1.25v1.25h-1.25zM459.1,360.4h1.25v1.25h-1.25zM473.3,373.5h1.25v1.25h-1.25zM459.2,344.1h1.25v1.25h-1.25zM469.6,358.3h1.25v1.25h-1.25zM453.2,357.5h1.25v1.25h-1.25zM462.5,365.6h1.25v1.25h-1.25zM466.6,369.0h1.25v1.25h-1.25zM470.8,367.2h1.25v1.25h-1.25zM460.1,366.1h1.25v1.25h-1.25zM465.8,367.4h1.25v1.25h-1.25zM461.0,346.9h1.25v1.25h-1.25zM467.9,355.1h1.25v1.25h-1.25zM455.2,364.3h1.25v1.25h-1.25zM463.6,364.7h1.25v1.25h-1.25zM470.8,348.7h1.25v1.25h-1.25zM454.6,351.3h1.25v1.25h-1.25zM471.4,365.0h1.25v1.25h-1.25zM472.6,352.3h1.25v1.25h-1.25zM460.0,367.2h1.25v1.25h-1.25zM463.7,376.2h1.25v1.25h-1.25zM459.3,363.9h1.25v1.25h-1.25zM450.5,362.2h1.25v1.25h-1.25zM475.8,368.6h1.25v1.25h-1.25zM467.0,363.5h1.25v1.25h-1.25zM475.6,357.5h1.25v1.25h-1.25zM465.9,350.8h1.25v1.25h-1.25zM467.2,357.8h1.25v1.25h-1.25zM471.4,354.7h1.25v1.25h-1.25zM453.4,367.0h1.25v1.25h-1.25zM458.3,368.4h1.25v1.25h-1.25zM473.3,355.9h1.25v1.25h-1.25zM468.9,359.2h1.25v1.25h-1.25zM469.1,365.4h1.25v1.25h-1.25zM456.7,353.5h1.25v1.25h-1.25zM470.4,364.5h1.25v1.25h-1.25zM462.8,361.6h1.25v1.25h-1.25zM464.2,366.1h1.25v1.25h-1.25zM466.6,346.1h1.25v1.25h-1.25zM470.6,363.0h1.25v1.25h-1.25zM458.4,350.4h1.25v1.25h-1.25zM460.8,361.4h1.25v1.25h-1.25zM471.9,357.9h1.25v1.25h-1.25zM479.0,362.0h1.25v1.25h-1.25zM478.1,361.1h1.25v1.25h-1.25zM484.8,368.1h1.25v1.25h-1.25zM463.8,358.7h1.25v1.25h-1.25zM460.4,370.3h1.25v1.25h-1.25zM466.5,354.5h1.25v1.25h-1.25zM453.4,362.0h1.25v1.25h-1.25zM462.1,360.9h1.25v1.25h-1.25zM466.0,358.4h1.25v1.25h-1.25zM473.2,357.0h1.25v1.25h-1.25zM463.2,363.1h1.25v1.25h-1.25zM473.0,359.4h1.25v1.25h-1.25zM474.8,365.8h1.25v1.25h-1.25zM465.8,357.6h1.25v1.25h-1.25zM471.5,373.9h1.25v1.25h-1.25zM453.7,355.0h1.25v1.25h-1.25zM459.2,364.6h1.25v1.25h-1.25zM451.0,352.6h1.25v1.25h-1.25zM465.6,369.5h1.25v1.25h-1.25zM467.9,359.1h1.25v1.25h-1.25zM465.6,361.1h1.25v1.25h-1.25zM462.6,363.5h1.25v1.25h-1.25zM465.0,362.7h1.25v1.25h-1.25zM453.7,373.1h1.25v1.25h-1.25zM476.7,333.1h1.25v1.25h-1.25zM451.8,362.6h1.25v1.25h-1.25zM469.8,355.3h1.25v1.25h-1.25zM469.2,348.1h1.25v1.25h-1.25zM467.4,358.7h1.25v1.25h-1.25zM465.9,350.5h1.25v1.25h-1.25zM456.9,356.0h1.25v1.25h-1.25zM480.2,346.9h1.25v1.25h-1.25zM456.7,359.7h1.25v1.25h-1.25zM476.6,355.2h1.25v1.25h-1.25zM460.0,373.4h1.25v1.25h-1.25zM471.9,360.7h1.25v1.25h-1.25zM455.5,355.8h1.25v1.25h-1.25zM464.9,350.2h1.25v1.25h-1.25zM454.5,352.0h1.25v1.25h-1.25zM472.2,356.8h1.25v1.25h-1.25zM463.0,365.0h1.25v1.25h-1.25zM458.6,376.0h1.25v1.25h-1.25zM454.0,358.2h1.25v1.25h-1.25zM463.8,365.9h1.25v1.25h-1.25zM458.2,343.9h1.25v1.25h-1.25zM470.5,375.0h1.25v1.25h-1.25zM471.7,359.9h1.25v1.25h-1.25zM458.2,344.6h1.25v1.25h-1.25zM458.2,347.0h1.25v1.25h-1.25zM469.0,355.5h1.25v1.25h-1.25zM472.6,367.9h1.25v1.25h-1.25zM468.8,358.7h1.25v1.25h-1.25zM462.5,351.5h1.25v1.25h-1.25zM457.8,362.5h1.25v1.25h-1.25zM474.5,363.1h1.25v1.25h-1.25zM456.5,359.6h1.25v1.25h-1.25zM461.2,360.4h1.25v1.25h-1.25zM473.7,361.5h1.25v1.25h-1.25zM461.9,366.1h1.25v1.25h-1.25zM458.4,339.4h1.25v1.25h-1.25zM459.3,359.6h1.25v1.25h-1.25zM451.9,353.4h1.25v1.25h-1.25zM450.9,343.9h1.25v1.25h-1.25zM448.8,364.2h1.25v1.25h-1.25zM457.3,364.6h1.25v1.25h-1.25zM466.3,363.3h1.25v1.25h-1.25zM473.8,365.2h1.25v1.25h-1.25zM456.6,351.4h1.25v1.25h-1.25zM458.1,354.4h1.25v1.25h-1.25zM463.3,364.2h1.25v1.25h-1.25zM467.5,358.3h1.25v1.25h-1.25zM472.9,353.9h1.25v1.25h-1.25zM466.0,341.7h1.25v1.25h-1.25zM458.0,362.6h1.25v1.25h-1.25zM471.3,351.9h1.25v1.25h-1.25zM448.8,355.2h1.25v1.25h-1.25zM472.1,346.0h1.25v1.25h-1.25zM474.5,350.2h1.25v1.25h-1.25zM462.4,370.3h1.25v1.25h-1.25zM457.4,362.9h1.25v1.25h-1.25zM458.4,354.4h1.25v1.25h-1.25zM453.8,363.3h1.25v1.25h-1.25zM464.4,356.8h1.25v1.25h-1.25zM457.0,342.0h1.25v1.25h-1.25zM465.1,356.0h1.25v1.25h-1.25zM480.0,359.7h1.25v1.25h-1.25zM468.6,363.8h1.25v1.25h-1.25zM470.2,353.6h1.25v1.25h-1.25zM469.3,364.1h1.25v1.25h-1.25zM468.9,356.9h1.25v1.25h-1.25zM457.6,371.5h1.25v1.25h-1.25zM462.1,364.5h1.25v1.25h-1.25zM485.8,353.9h1.25v1.25h-1.25zM454.2,353.7h1.25v1.25h-1.25zM467.9,353.6h1.25v1.25h-1.25zM460.8,352.4h1.25v1.25h-1.25zM460.5,360.6h1.25v1.25h-1.25zM463.5,359.0h1.25v1.25h-1.25zM464.4,348.4h1.25v1.25h-1.25zM471.3,347.5h1.25v1.25h-1.25zM462.0,349.5h1.25v1.25h-1.25zM460.3,341.6h1.25v1.25h-1.25zM475.7,346.7h1.25v1.25h-1.25zM468.0,356.8h1.25v1.25h-1.25zM454.0,342.2h1.25v1.25h-1.25zM453.1,356.3h1.25v1.25h-1.25zM460.6,368.0h1.25v1.25h-1.25zM466.2,359.1h1.25v1.25h-1.25zM470.0,356.5h1.25v1.25h-1.25zM466.7,351.8h1.25v1.25h-1.25zM465.5,368.5h1.25v1.25h-1.25zM461.2,358.9h1.25v1.25h-1.25zM469.2,358.3h1.25v1.25h-1.25zM450.5,355.6h1.25v1.25h-1.25zM462.6,359.2h1.25v1.25h-1.25zM464.1,362.0h1.25v1.25h-1.25zM454.3,371.8h1.25v1.25h-1.25zM469.0,349.2h1.25v1.25h-1.25zM466.4,348.6h1.25v1.25h-1.25zM448.3,357.6h1.25v1.25h-1.25zM474.6,363.7h1.25v1.25h-1.25zM452.8,359.6h1.25v1.25h-1.25zM455.6,364.7h1.25v1.25h-1.25zM467.0,356.7h1.25v1.25h-1.25zM450.5,350.8h1.25v1.25h-1.25zM463.4,356.5h1.25v1.25h-1.25zM457.6,350.2h1.25v1.25h-1.25zM463.1,364.3h1.25v1.25h-1.25zM459.1,353.6h1.25v1.25h-1.25zM464.5,359.2h1.25v1.25h-1.25zM452.9,356.2h1.25v1.25h-1.25zM458.8,354.4h1.25v1.25h-1.25zM472.8,358.3h1.25v1.25h-1.25zM468.8,366.1h1.25v1.25h-1.25zM461.2,358.7h1.25v1.25h-1.25zM460.0,360.7h1.25v1.25h-1.25zM457.2,354.7h1.25v1.25h-1.25zM463.1,357.2h1.25v1.25h-1.25zM468.0,373.9h1.25v1.25h-1.25zM469.8,354.4h1.25v1.25h-1.25zM471.6,353.5h1.25v1.25h-1.25zM486.3,364.5h1.25v1.25h-1.25zM463.2,348.2h1.25v1.25h-1.25zM466.0,356.7h1.25v1.25h-1.25zM456.1,363.9h1.25v1.25h-1.25zM466.1,351.3h1.25v1.25h-1.25zM455.0,366.2h1.25v1.25h-1.25zM472.6,344.1h1.25v1.25h-1.25zM472.2,365.0h1.25v1.25h-1.25zM462.2,349.2h1.25v1.25h-1.25zM467.1,359.7h1.25v1.25h-1.25zM463.3,356.7h1.25v1.25h-1.25zM460.4,366.5h1.25v1.25h-1.25zM460.4,352.9h1.25v1.25h-1.25zM464.7,353.3h1.25v1.25h-1.25zM460.3,355.9h1.25v1.25h-1.25zM466.1,370.0h1.25v1.25h-1.25zM473.5,354.8h1.25v1.25h-1.25zM463.7,352.9h1.25v1.25h-1.25zM459.3,356.9h1.25v1.25h-1.25zM464.4,354.4h1.25v1.25h-1.25zM460.7,345.3h1.25v1.25h-1.25zM465.8,359.9h1.25v1.25h-1.25zM481.7,360.3h1.25v1.25h-1.25zM462.6,363.4h1.25v1.25h-1.25zM463.7,356.6h1.25v1.25h-1.25zM461.5,361.4h1.25v1.25h-1.25zM455.3,370.7h1.25v1.25h-1.25zM467.6,363.1h1.25v1.25h-1.25zM468.5,347.9h1.25v1.25h-1.25zM458.8,362.5h1.25v1.25h-1.25zM460.1,354.9h1.25v1.25h-1.25zM465.7,351.3h1.25v1.25h-1.25zM453.0,358.2h1.25v1.25h-1.25zM458.3,348.8h1.25v1.25h-1.25zM461.0,354.2h1.25v1.25h-1.25zM468.6,352.0h1.25v1.25h-1.25zM464.3,365.8h1.25v1.25h-1.25zM463.1,362.5h1.25v1.25h-1.25zM464.5,360.0h1.25v1.25h-1.25zM459.7,363.0h1.25v1.25h-1.25zM461.4,361.2h1.25v1.25h-1.25zM474.1,356.2h1.25v1.25h-1.25zM463.6,347.4h1.25v1.25h-1.25zM464.2,348.3h1.25v1.25h-1.25zM468.6,361.7h1.25v1.25h-1.25zM453.2,358.9h1.25v1.25h-1.25zM470.5,359.7h1.25v1.25h-1.25zM480.0,366.2h1.25v1.25h-1.25zM456.0,362.5h1.25v1.25h-1.25zM464.3,353.2h1.25v1.25h-1.25zM455.0,366.6h1.25v1.25h-1.25zM468.6,365.5h1.25v1.25h-1.25zM468.3,350.2h1.25v1.25h-1.25zM463.7,351.1h1.25v1.25h-1.25zM465.5,355.1h1.25v1.25h-1.25zM467.7,347.6h1.25v1.25h-1.25zM460.6,339.1h1.25v1.25h-1.25zM475.7,352.8h1.25v1.25h-1.25zM460.0,362.2h1.25v1.25h-1.25zM464.0,350.0h1.25v1.25h-1.25zM480.7,352.3h1.25v1.25h-1.25zM471.6,336.7h1.25v1.25h-1.25zM475.9,350.8h1.25v1.25h-1.25zM471.9,353.0h1.25v1.25h-1.25zM472.7,359.4h1.25v1.25h-1.25zM451.9,351.5h1.25v1.25h-1.25zM467.8,365.7h1.25v1.25h-1.25zM467.1,357.7h1.25v1.25h-1.25zM459.4,359.3h1.25v1.25h-1.25zM465.5,374.4h1.25v1.25h-1.25zM452.6,356.0h1.25v1.25h-1.25zM463.8,352.4h1.25v1.25h-1.25zM460.1,356.1h1.25v1.25h-1.25zM455.2,357.2h1.25v1.25h-1.25zM451.9,357.7h1.25v1.25h-1.25zM458.1,350.3h1.25v1.25h-1.25zM467.4,365.1h1.25v1.25h-1.25zM455.0,358.3h1.25v1.25h-1.25zM469.8,354.2h1.25v1.25h-1.25zM452.5,368.4h1.25v1.25h-1.25zM464.5,354.0h1.25v1.25h-1.25zM463.8,360.7h1.25v1.25h-1.25zM452.7,363.4h1.25v1.25h-1.25zM455.0,371.0h1.25v1.25h-1.25zM467.7,358.2h1.25v1.25h-1.25zM470.6,367.7h1.25v1.25h-1.25zM473.5,365.2h1.25v1.25h-1.25zM469.5,356.4h1.25v1.25h-1.25zM458.0,370.9h1.25v1.25h-1.25zM456.1,345.7h1.25v1.25h-1.25zM473.2,369.8h1.25v1.25h-1.25zM465.6,354.7h1.25v1.25h-1.25zM471.8,361.8h1.25v1.25h-1.25zM459.5,341.6h1.25v1.25h-1.25zM466.2,355.5h1.25v1.25h-1.25zM461.4,358.4h1.25v1.25h-1.25zM458.8,365.4h1.25v1.25h-1.25zM479.5,361.4h1.25v1.25h-1.25zM464.4,373.4h1.25v1.25h-1.25zM465.1,347.2h1.25v1.25h-1.25zM470.4,355.2h1.25v1.25h-1.25zM462.4,346.8h1.25v1.25h-1.25zM460.3,360.2h1.25v1.25h-1.25zM455.2,366.9h1.25v1.25h-1.25zM461.2,347.2h1.25v1.25h-1.25zM461.5,365.0h1.25v1.25h-1.25zM470.0,352.8h1.25v1.25h-1.25zM459.8,359.8h1.25v1.25h-1.25zM462.0,358.9h1.25v1.25h-1.25zM465.0,363.1h1.25v1.25h-1.25zM460.2,351.0h1.25v1.25h-1.25zM466.7,354.3h1.25v1.25h-1.25zM457.5,361.1h1.25v1.25h-1.25zM466.2,356.2h1.25v1.25h-1.25zM465.8,367.3h1.25v1.25h-1.25zM464.1,374.6h1.25v1.25h-1.25zM461.4,364.2h1.25v1.25h-1.25zM464.7,349.3h1.25v1.25h-1.25zM466.3,362.0h1.25v1.25h-1.25zM461.3,359.1h1.25v1.25h-1.25zM461.6,350.8h1.25v1.25h-1.25zM471.2,361.9h1.25v1.25h-1.25zM468.5,329.5h1.25v1.25h-1.25zM473.5,367.2h1.25v1.25h-1.25zM469.0,361.1h1.25v1.25h-1.25zM463.2,354.0h1.25v1.25h-1.25zM455.5,362.4h1.25v1.25h-1.25zM465.4,351.0h1.25v1.25h-1.25zM464.3,346.3h1.25v1.25h-1.25zM465.3,345.0h1.25v1.25h-1.25zM459.5,358.1h1.25v1.25h-1.25zM460.0,349.7h1.25v1.25h-1.25zM473.1,358.9h1.25v1.25h-1.25zM462.5,353.4h1.25v1.25h-1.25zM477.2,369.8h1.25v1.25h-1.25zM471.9,353.6h1.25v1.25h-1.25zM467.8,368.0h1.25v1.25h-1.25zM456.6,349.3h1.25v1.25h-1.25zM481.7,362.8h1.25v1.25h-1.25zM475.9,356.3h1.25v1.25h-1.25zM454.3,374.2h1.25v1.25h-1.25zM475.4,352.7h1.25v1.25h-1.25zM468.1,366.3h1.25v1.25h-1.25zM468.7,357.7h1.25v1.25h-1.25zM483.1,352.4h1.25v1.25h-1.25zM450.1,347.9h1.25v1.25h-1.25zM474.9,359.1h1.25v1.25h-1.25zM463.4,353.6h1.25v1.25h-1.25zM463.3,349.0h1.25v1.25h-1.25zM456.1,349.0h1.25v1.25h-1.25zM459.6,345.1h1.25v1.25h-1.25zM463.4,373.9h1.25v1.25h-1.25zM481.0,359.5h1.25v1.25h-1.25zM456.2,352.4h1.25v1.25h-1.25zM454.4,362.3h1.25v1.25h-1.25zM472.7,360.7h1.25v1.25h-1.25zM459.8,348.5h1.25v1.25h-1.25zM455.7,372.5h1.25v1.25h-1.25zM465.7,351.9h1.25v1.25h-1.25zM457.3,355.1h1.25v1.25h-1.25zM459.4,371.7h1.25v1.25h-1.25zM460.7,360.7h1.25v1.25h-1.25zM453.3,355.8h1.25v1.25h-1.25zM460.5,365.8h1.25v1.25h-1.25zM454.9,368.9h1.25v1.25h-1.25zM467.5,353.6h1.25v1.25h-1.25zM458.8,358.8h1.25v1.25h-1.25zM453.9,356.6h1.25v1.25h-1.25zM474.3,359.3h1.25v1.25h-1.25zM470.4,365.6h1.25v1.25h-1.25zM467.6,354.2h1.25v1.25h-1.25zM463.1,354.3h1.25v1.25h-1.25zM467.3,365.8h1.25v1.25h-1.25zM456.5,365.1h1.25v1.25h-1.25zM467.5,363.8h1.25v1.25h-1.25zM458.7,358.3h1.25v1.25h-1.25zM458.9,357.7h1.25v1.25h-1.25zM449.2,370.8h1.25v1.25h-1.25zM456.3,346.0h1.25v1.25h-1.25zM459.4,346.0h1.25v1.25h-1.25zM453.5,357.6h1.25v1.25h-1.25zM474.0,361.0h1.25v1.25h-1.25zM479.3,367.3h1.25v1.25h-1.25zM463.6,367.7h1.25v1.25h-1.25zM469.3,373.3h1.25v1.25h-1.25zM462.4,374.1h1.25v1.25h-1.25zM454.9,339.6h1.25v1.25h-1.25zM468.1,359.4h1.25v1.25h-1.25zM471.6,356.1h1.25v1.25h-1.25zM458.5,347.9h1.25v1.25h-1.25zM464.3,366.5h1.25v1.25h-1.25zM474.8,358.7h1.25v1.25h-1.25zM457.8,367.4h1.25v1.25h-1.25zM450.8,359.7h1.25v1.25h-1.25zM467.0,357.8h1.25v1.25h-1.25zM476.0,342.9h1.25v1.25h-1.25zM467.8,375.3h1.25v1.25h-1.25zM475.5,366.0h1.25v1.25h-1.25zM472.0,356.5h1.25v1.25h-1.25zM452.2,361.3h1.25v1.25h-1.25zM459.6,350.2h1.25v1.25h-1.25zM464.8,367.3h1.25v1.25h-1.25zM460.4,366.5h1.25v1.25h-1.25zM479.9,346.9h1.25v1.25h-1.25zM473.2,356.3h1.25v1.25h-1.25zM462.4,348.4h1.25v1.25h-1.25zM467.7,345.6h1.25v1.25h-1.25zM460.9,360.2h1.25v1.25h-1.25zM452.3,352.4h1.25v1.25h-1.25zM473.5,350.9h1.25v1.25h-1.25zM473.7,355.0h1.25v1.25h-1.25zM463.4,350.5h1.25v1.25h-1.25zM462.0,354.0h1.25v1.25h-1.25zM448.2,364.7h1.25v1.25h-1.25zM469.4,364.4h1.25v1.25h-1.25zM464.6,358.0h1.25v1.25h-1.25zM469.3,356.1h1.25v1.25h-1.25zM457.5,358.5h1.25v1.25h-1.25zM471.4,359.3h1.25v1.25h-1.25zM464.2,361.2h1.25v1.25h-1.25zM460.2,359.8h1.25v1.25h-1.25zM449.5,354.0h1.25v1.25h-1.25zM471.6,356.4h1.25v1.25h-1.25zM457.1,354.7h1.25v1.25h-1.25zM465.3,365.8h1.25v1.25h-1.25zM467.6,359.2h1.25v1.25h-1.25zM463.7,364.1h1.25v1.25h-1.25zM477.4,350.8h1.25v1.25h-1.25zM458.1,358.5h1.25v1.25h-1.25zM473.2,359.6h1.25v1.25h-1.25zM456.7,369.6h1.25v1.25h-1.25zM475.1,376.1h1.25v1.25h-1.25zM486.6,356.0h1.25v1.25h-1.25zM495.1,369.2h1.25v1.25h-1.25zM472.0,359.3h1.25v1.25h-1.25zM469.7,365.8h1.25v1.25h-1.25zM456.9,355.3h1.25v1.25h-1.25zM480.8,353.7h1.25v1.25h-1.25zM470.7,347.8h1.25v1.25h-1.25zM470.4,340.3h1.25v1.25h-1.25zM481.7,364.7h1.25v1.25h-1.25zM488.0,356.7h1.25v1.25h-1.25zM494.6,361.5h1.25v1.25h-1.25zM490.8,360.8h1.25v1.25h-1.25zM477.5,349.8h1.25v1.25h-1.25zM475.4,376.0h1.25v1.25h-1.25zM448.7,365.1h1.25v1.25h-1.25zM463.5,357.0h1.25v1.25h-1.25zM464.4,360.4h1.25v1.25h-1.25zM476.6,365.4h1.25v1.25h-1.25zM479.2,361.6h1.25v1.25h-1.25zM495.3,362.0h1.25v1.25h-1.25zM475.2,368.9h1.25v1.25h-1.25zM475.5,360.9h1.25v1.25h-1.25zM472.5,350.7h1.25v1.25h-1.25zM460.6,364.1h1.25v1.25h-1.25zM502.9,344.5h1.25v1.25h-1.25zM489.6,356.1h1.25v1.25h-1.25zM483.6,345.7h1.25v1.25h-1.25zM477.5,358.6h1.25v1.25h-1.25zM481.6,353.6h1.25v1.25h-1.25zM508.8,356.1h1.25v1.25h-1.25zM476.3,358.1h1.25v1.25h-1.25zM483.8,363.9h1.25v1.25h-1.25zM468.9,356.1h1.25v1.25h-1.25zM504.0,372.4h1.25v1.25h-1.25zM483.5,359.7h1.25v1.25h-1.25zM473.9,366.9h1.25v1.25h-1.25zM469.8,358.3h1.25v1.25h-1.25zM470.7,351.2h1.25v1.25h-1.25zM477.8,357.2h1.25v1.25h-1.25zM469.0,356.5h1.25v1.25h-1.25zM478.2,352.7h1.25v1.25h-1.25zM467.9,355.8h1.25v1.25h-1.25zM487.2,367.7h1.25v1.25h-1.25zM479.9,354.6h1.25v1.25h-1.25zM476.8,375.3h1.25v1.25h-1.25zM490.3,348.1h1.25v1.25h-1.25zM476.5,352.1h1.25v1.25h-1.25zM472.0,341.2h1.25v1.25h-1.25zM477.6,344.3h1.25v1.25h-1.25zM468.9,371.6h1.25v1.25h-1.25zM491.5,348.9h1.25v1.25h-1.25zM462.5,348.5h1.25v1.25h-1.25zM450.4,347.8h1.25v1.25h-1.25zM473.4,347.2h1.25v1.25h-1.25zM488.0,356.7h1.25v1.25h-1.25zM469.7,373.8h1.25v1.25h-1.25zM487.4,357.8h1.25v1.25h-1.25zM503.6,369.7h1.25v1.25h-1.25zM467.2,360.3h1.25v1.25h-1.25zM471.0,343.5h1.25v1.25h-1.25zM504.4,371.5h1.25v1.25h-1.25zM459.1,361.9h1.25v1.25h-1.25zM453.8,367.4h1.25v1.25h-1.25zM476.5,354.4h1.25v1.25h-1.25zM495.3,357.3h1.25v1.25h-1.25zM473.6,365.9h1.25v1.25h-1.25zM472.9,365.5h1.25v1.25h-1.25zM477.3,365.1h1.25v1.25h-1.25zM486.3,364.7h1.25v1.25h-1.25zM462.9,375.2h1.25v1.25h-1.25zM475.0,374.0h1.25v1.25h-1.25zM468.7,354.6h1.25v1.25h-1.25zM473.5,368.3h1.25v1.25h-1.25zM471.2,361.2h1.25v1.25h-1.25zM454.8,352.6h1.25v1.25h-1.25zM480.5,356.2h1.25v1.25h-1.25zM450.3,362.0h1.25v1.25h-1.25zM463.4,375.8h1.25v1.25h-1.25zM486.9,361.6h1.25v1.25h-1.25zM470.4,356.1h1.25v1.25h-1.25zM483.8,338.5h1.25v1.25h-1.25zM491.6,345.9h1.25v1.25h-1.25zM473.6,330.9h1.25v1.25h-1.25zM483.9,364.4h1.25v1.25h-1.25zM481.4,360.3h1.25v1.25h-1.25zM471.9,358.7h1.25v1.25h-1.25zM494.8,353.1h1.25v1.25h-1.25zM484.5,364.2h1.25v1.25h-1.25zM473.9,359.5h1.25v1.25h-1.25zM480.4,352.4h1.25v1.25h-1.25zM502.1,367.5h1.25v1.25h-1.25zM447.8,359.6h1.25v1.25h-1.25zM492.2,365.1h1.25v1.25h-1.25zM464.2,359.7h1.25v1.25h-1.25zM459.9,347.1h1.25v1.25h-1.25zM473.8,359.0h1.25v1.25h-1.25zM500.6,360.6h1.25v1.25h-1.25zM492.6,345.6h1.25v1.25h-1.25zM460.5,352.5h1.25v1.25h-1.25zM502.7,344.2h1.25v1.25h-1.25zM454.3,356.4h1.25v1.25h-1.25zM494.5,341.4h1.25v1.25h-1.25zM473.6,344.0h1.25v1.25h-1.25zM498.3,363.9h1.25v1.25h-1.25zM481.2,356.7h1.25v1.25h-1.25zM473.8,358.5h1.25v1.25h-1.25zM467.8,348.6h1.25v1.25h-1.25zM461.0,357.3h1.25v1.25h-1.25zM465.6,365.6h1.25v1.25h-1.25zM485.0,369.0h1.25v1.25h-1.25zM473.5,342.5h1.25v1.25h-1.25zM463.7,368.1h1.25v1.25h-1.25zM472.7,353.1h1.25v1.25h-1.25zM468.7,356.5h1.25v1.25h-1.25zM473.9,342.0h1.25v1.25h-1.25zM468.5,366.9h1.25v1.25h-1.25zM498.3,355.9h1.25v1.25h-1.25zM469.6,370.3h1.25v1.25h-1.25zM474.6,345.7h1.25v1.25h-1.25zM475.3,363.9h1.25v1.25h-1.25zM499.9,352.4h1.25v1.25h-1.25zM485.0,353.9h1.25v1.25h-1.25zM493.8,359.6h1.25v1.25h-1.25zM481.0,347.5h1.25v1.25h-1.25zM472.5,353.9h1.25v1.25h-1.25zM477.0,355.1h1.25v1.25h-1.25zM471.9,357.3h1.25v1.25h-1.25zM480.7,344.4h1.25v1.25h-1.25zM479.0,358.2h1.25v1.25h-1.25zM477.5,342.6h1.25v1.25h-1.25zM475.1,344.6h1.25v1.25h-1.25zM482.2,369.9h1.25v1.25h-1.25zM489.8,353.8h1.25v1.25h-1.25zM469.2,351.6h1.25v1.25h-1.25zM482.2,350.6h1.25v1.25h-1.25zM464.7,349.5h1.25v1.25h-1.25zM469.2,368.9h1.25v1.25h-1.25zM457.3,344.1h1.25v1.25h-1.25zM485.9,347.5h1.25v1.25h-1.25zM474.7,358.8h1.25v1.25h-1.25zM477.3,349.5h1.25v1.25h-1.25zM490.5,371.6h1.25v1.25h-1.25zM462.5,354.4h1.25v1.25h-1.25zM490.8,355.0h1.25v1.25h-1.25zM462.5,352.9h1.25v1.25h-1.25zM489.2,347.4h1.25v1.25h-1.25zM480.8,360.8h1.25v1.25h-1.25zM467.6,362.6h1.25v1.25h-1.25zM486.8,366.8h1.25v1.25h-1.25zM490.7,342.6h1.25v1.25h-1.25zM490.1,362.7h1.25v1.25h-1.25zM491.3,348.8h1.25v1.25h-1.25zM490.3,360.7h1.25v1.25h-1.25zM460.2,369.4h1.25v1.25h-1.25zM465.7,347.2h1.25v1.25h-1.25zM482.9,351.2h1.25v1.25h-1.25zM482.4,354.7h1.25v1.25h-1.25zM481.2,365.0h1.25v1.25h-1.25zM476.6,365.5h1.25v1.25h-1.25zM489.5,349.0h1.25v1.25h-1.25zM489.6,363.1h1.25v1.25h-1.25zM479.1,367.9h1.25v1.25h-1.25zM501.2,364.5h1.25v1.25h-1.25zM455.8,361.4h1.25v1.25h-1.25zM475.2,354.5h1.25v1.25h-1.25zM482.2,353.9h1.25v1.25h-1.25zM500.9,359.8h1.25v1.25h-1.25zM477.5,364.7h1.25v1.25h-1.25zM488.8,368.6h1.25v1.25h-1.25zM486.4,356.8h1.25v1.25h-1.25zM479.2,336.2h1.25v1.25h-1.25zM455.9,367.2h1.25v1.25h-1.25zM472.5,374.7h1.25v1.25h-1.25zM503.4,345.0h1.25v1.25h-1.25zM465.8,361.0h1.25v1.25h-1.25zM473.9,354.8h1.25v1.25h-1.25zM473.2,357.0h1.25v1.25h-1.25zM488.3,349.4h1.25v1.25h-1.25zM484.6,350.3h1.25v1.25h-1.25zM484.9,360.2h1.25v1.25h-1.25zM465.9,358.5h1.25v1.25h-1.25zM466.6,349.0h1.25v1.25h-1.25zM494.2,339.5h1.25v1.25h-1.25zM485.4,364.0h1.25v1.25h-1.25zM468.6,367.7h1.25v1.25h-1.25zM490.5,344.6h1.25v1.25h-1.25zM484.9,361.7h1.25v1.25h-1.25zM466.5,362.8h1.25v1.25h-1.25zM488.2,350.2h1.25v1.25h-1.25zM448.3,361.1h1.25v1.25h-1.25zM466.5,340.5h1.25v1.25h-1.25zM471.7,334.1h1.25v1.25h-1.25zM472.3,371.7h1.25v1.25h-1.25zM463.8,353.2h1.25v1.25h-1.25zM464.0,363.4h1.25v1.25h-1.25zM477.1,349.6h1.25v1.25h-1.25zM458.2,353.0h1.25v1.25h-1.25zM494.0,345.4h1.25v1.25h-1.25zM483.3,360.5h1.25v1.25h-1.25zM448.1,367.9h1.25v1.25h-1.25zM502.6,354.7h1.25v1.25h-1.25zM475.0,347.4h1.25v1.25h-1.25zM457.2,364.9h1.25v1.25h-1.25zM473.6,353.3h1.25v1.25h-1.25zM474.8,363.8h1.25v1.25h-1.25zM491.0,357.2h1.25v1.25h-1.25zM474.4,358.2h1.25v1.25h-1.25zM507.6,336.9h1.25v1.25h-1.25zM460.3,361.8h1.25v1.25h-1.25zM479.4,369.2h1.25v1.25h-1.25zM496.5,376.5h1.25v1.25h-1.25zM465.6,363.2h1.25v1.25h-1.25zM473.8,366.7h1.25v1.25h-1.25zM480.0,365.9h1.25v1.25h-1.25zM466.4,358.8h1.25v1.25h-1.25zM469.8,354.7h1.25v1.25h-1.25zM470.7,347.1h1.25v1.25h-1.25zM493.7,360.1h1.25v1.25h-1.25zM493.4,347.5h1.25v1.25h-1.25zM448.6,350.9h1.25v1.25h-1.25zM475.1,365.0h1.25v1.25h-1.25zM492.9,369.2h1.25v1.25h-1.25zM500.0,364.4h1.25v1.25h-1.25zM479.0,349.8h1.25v1.25h-1.25zM487.5,352.3h1.25v1.25h-1.25zM465.5,363.0h1.25v1.25h-1.25zM480.6,365.6h1.25v1.25h-1.25zM466.8,368.7h1.25v1.25h-1.25zM482.7,355.6h1.25v1.25h-1.25zM466.2,346.7h1.25v1.25h-1.25zM457.3,371.0h1.25v1.25h-1.25zM456.5,363.4h1.25v1.25h-1.25zM473.7,351.6h1.25v1.25h-1.25zM470.4,356.3h1.25v1.25h-1.25zM490.7,362.8h1.25v1.25h-1.25zM477.4,343.8h1.25v1.25h-1.25zM451.2,375.6h1.25v1.25h-1.25zM462.5,341.9h1.25v1.25h-1.25zM493.9,342.5h1.25v1.25h-1.25zM488.3,366.4h1.25v1.25h-1.25zM481.0,366.7h1.25v1.25h-1.25zM456.9,345.2h1.25v1.25h-1.25zM474.5,357.2h1.25v1.25h-1.25zM476.1,361.8h1.25v1.25h-1.25zM483.3,355.0h1.25v1.25h-1.25zM478.5,362.9h1.25v1.25h-1.25zM464.2,366.1h1.25v1.25h-1.25zM482.3,359.7h1.25v1.25h-1.25zM490.8,346.1h1.25v1.25h-1.25zM485.6,361.7h1.25v1.25h-1.25zM500.7,339.5h1.25v1.25h-1.25zM471.3,352.9h1.25v1.25h-1.25zM479.0,350.2h1.25v1.25h-1.25zM468.6,353.3h1.25v1.25h-1.25zM464.9,349.3h1.25v1.25h-1.25zM479.9,357.6h1.25v1.25h-1.25zM484.3,357.5h1.25v1.25h-1.25zM459.5,364.5h1.25v1.25h-1.25zM480.9,351.5h1.25v1.25h-1.25zM473.3,360.4h1.25v1.25h-1.25zM478.5,355.9h1.25v1.25h-1.25zM488.6,367.6h1.25v1.25h-1.25zM472.7,357.0h1.25v1.25h-1.25zM461.0,355.5h1.25v1.25h-1.25zM484.3,365.7h1.25v1.25h-1.25zM479.8,356.3h1.25v1.25h-1.25zM466.7,359.3h1.25v1.25h-1.25zM461.2,358.4h1.25v1.25h-1.25zM477.6,348.3h1.25v1.25h-1.25zM482.1,355.1h1.25v1.25h-1.25zM486.1,352.4h1.25v1.25h-1.25zM484.4,372.5h1.25v1.25h-1.25zM479.9,364.9h1.25v1.25h-1.25zM467.8,353.7h1.25v1.25h-1.25zM449.5,355.7h1.25v1.25h-1.25zM460.7,358.3h1.25v1.25h-1.25zM478.5,361.0h1.25v1.25h-1.25zM452.9,353.1h1.25v1.25h-1.25zM479.6,330.2h1.25v1.25h-1.25zM505.6,354.0h1.25v1.25h-1.25zM466.6,368.9h1.25v1.25h-1.25zM483.6,363.5h1.25v1.25h-1.25zM491.4,344.9h1.25v1.25h-1.25zM465.6,353.7h1.25v1.25h-1.25zM484.9,367.0h1.25v1.25h-1.25zM494.2,365.0h1.25v1.25h-1.25zM511.0,375.6h1.25v1.25h-1.25zM476.2,337.2h1.25v1.25h-1.25zM470.7,365.4h1.25v1.25h-1.25zM471.0,362.0h1.25v1.25h-1.25zM484.2,343.6h1.25v1.25h-1.25zM468.9,376.0h1.25v1.25h-1.25zM474.8,353.7h1.25v1.25h-1.25zM489.3,360.7h1.25v1.25h-1.25zM494.6,355.8h1.25v1.25h-1.25zM490.4,361.9h1.25v1.25h-1.25zM457.9,357.9h1.25v1.25h-1.25zM491.5,370.3h1.25v1.25h-1.25zM462.6,362.3h1.25v1.25h-1.25zM502.4,337.0h1.25v1.25h-1.25zM505.5,332.7h1.25v1.25h-1.25zM466.4,373.3h1.25v1.25h-1.25zM509.1,366.2h1.25v1.25h-1.25zM488.8,336.1h1.25v1.25h-1.25zM495.2,371.7h1.25v1.25h-1.25zM494.8,361.8h1.25v1.25h-1.25zM491.0,359.1h1.25v1.25h-1.25zM457.6,366.1h1.25v1.25h-1.25zM486.1,374.6h1.25v1.25h-1.25zM510.5,344.5h1.25v1.25h-1.25zM501.0,332.7h1.25v1.25h-1.25zM477.4,362.5h1.25v1.25h-1.25zM510.9,345.0h1.25v1.25h-1.25zM505.7,364.5h1.25v1.25h-1.25zM477.0,362.8h1.25v1.25h-1.25zM502.5,362.4h1.25v1.25h-1.25zM465.7,369.0h1.25v1.25h-1.25zM458.8,384.8h1.25v1.25h-1.25zM460.2,405.1h1.25v1.25h-1.25zM481.3,402.5h1.25v1.25h-1.25zM459.4,391.6h1.25v1.25h-1.25zM480.2,391.3h1.25v1.25h-1.25zM465.6,400.2h1.25v1.25h-1.25zM510.1,397.1h1.25v1.25h-1.25zM497.9,393.1h1.25v1.25h-1.25zM502.8,405.5h1.25v1.25h-1.25zM464.2,392.2h1.25v1.25h-1.25zM481.9,381.5h1.25v1.25h-1.25zM487.2,383.6h1.25v1.25h-1.25zM452.1,384.8h1.25v1.25h-1.25zM464.4,397.3h1.25v1.25h-1.25zM500.1,390.2h1.25v1.25h-1.25zM464.9,397.5h1.25v1.25h-1.25zM505.2,388.2h1.25v1.25h-1.25zM478.2,400.8h1.25v1.25h-1.25zM480.0,393.4h1.25v1.25h-1.25zM456.6,404.4h1.25v1.25h-1.25zM501.9,400.1h1.25v1.25h-1.25zM474.3,393.0h1.25v1.25h-1.25zM462.8,405.3h1.25v1.25h-1.25zM459.5,389.1h1.25v1.25h-1.25zM459.2,392.7h1.25v1.25h-1.25zM497.1,389.9h1.25v1.25h-1.25zM471.7,381.8h1.25v1.25h-1.25zM485.7,388.8h1.25v1.25h-1.25zM470.5,382.8h1.25v1.25h-1.25zM480.9,384.0h1.25v1.25h-1.25zM477.8,390.3h1.25v1.25h-1.25zM507.5,394.9h1.25v1.25h-1.25zM499.5,395.2h1.25v1.25h-1.25zM509.8,396.9h1.25v1.25h-1.25zM463.2,388.2h1.25v1.25h-1.25zM477.6,384.2h1.25v1.25h-1.25zM498.0,403.6h1.25v1.25h-1.25zM463.3,384.9h1.25v1.25h-1.25zM476.7,396.8h1.25v1.25h-1.25zM457.0,393.4h1.25v1.25h-1.25zM476.5,382.9h1.25v1.25h-1.25zM483.5,401.8h1.25v1.25h-1.25zM459.9,393.7h1.25v1.25h-1.25zM486.1,395.0h1.25v1.25h-1.25zM458.2,399.8h1.25v1.25h-1.25zM479.7,388.6h1.25v1.25h-1.25zM491.9,390.7h1.25v1.25h-1.25zM494.3,384.6h1.25v1.25h-1.25zM475.8,402.9h1.25v1.25h-1.25zM459.7,390.6h1.25v1.25h-1.25zM509.6,402.2h1.25v1.25h-1.25zM482.7,402.3h1.25v1.25h-1.25zM479.2,391.1h1.25v1.25h-1.25zM451.4,395.9h1.25v1.25h-1.25zM496.0,386.9h1.25v1.25h-1.25zM497.8,393.0h1.25v1.25h-1.25zM493.6,388.9h1.25v1.25h-1.25zM477.3,404.2h1.25v1.25h-1.25zM477.8,397.7h1.25v1.25h-1.25zM500.0,403.4h1.25v1.25h-1.25zM485.8,386.2h1.25v1.25h-1.25zM488.7,381.0h1.25v1.25h-1.25zM501.0,395.7h1.25v1.25h-1.25zM470.0,388.3h1.25v1.25h-1.25zM459.9,387.9h1.25v1.25h-1.25zM495.6,392.3h1.25v1.25h-1.25zM487.2,395.2h1.25v1.25h-1.25zM470.1,399.8h1.25v1.25h-1.25zM501.2,403.1h1.25v1.25h-1.25zM495.8,385.9h1.25v1.25h-1.25zM451.0,393.3h1.25v1.25h-1.25zM480.4,404.0h1.25v1.25h-1.25zM492.6,389.0h1.25v1.25h-1.25zM505.2,394.9h1.25v1.25h-1.25zM493.0,392.1h1.25v1.25h-1.25zM463.7,399.7h1.25v1.25h-1.25zM485.2,385.0h1.25v1.25h-1.25zM467.5,384.3h1.25v1.25h-1.25zM481.8,384.3h1.25v1.25h-1.25zM489.3,383.2h1.25v1.25h-1.25zM460.7,383.7h1.25v1.25h-1.25zM458.8,383.0h1.25v1.25h-1.25zM484.7,389.1h1.25v1.25h-1.25zM477.6,384.6h1.25v1.25h-1.25zM459.2,381.0h1.25v1.25h-1.25zM474.5,384.5h1.25v1.25h-1.25zM463.1,382.7h1.25v1.25h-1.25zM488.7,387.0h1.25v1.25h-1.25zM470.7,384.7h1.25v1.25h-1.25zM485.4,385.1h1.25v1.25h-1.25zM472.9,379.3h1.25v1.25h-1.25zM474.0,381.4h1.25v1.25h-1.25zM475.3,385.3h1.25v1.25h-1.25zM469.1,379.6h1.25v1.25h-1.25zM487.4,388.1h1.25v1.25h-1.25zM463.1,389.8h1.25v1.25h-1.25zM470.6,381.7h1.25v1.25h-1.25zM465.9,379.2h1.25v1.25h-1.25zM483.6,385.0h1.25v1.25h-1.25zM453.4,385.7h1.25v1.25h-1.25zM449.5,384.5h1.25v1.25h-1.25zM475.8,384.2h1.25v1.25h-1.25zM456.6,383.7h1.25v1.25h-1.25zM467.9,384.2h1.25v1.25h-1.25zM487.9,389.1h1.25v1.25h-1.25zM489.0,382.1h1.25v1.25h-1.25zM461.1,384.1h1.25v1.25h-1.25zM462.7,389.4h1.25v1.25h-1.25zM455.1,381.8h1.25v1.25h-1.25zM461.6,385.5h1.25v1.25h-1.25zM469.3,383.0h1.25v1.25h-1.25zM451.8,385.8h1.25v1.25h-1.25zM470.1,382.0h1.25v1.25h-1.25zM470.3,386.4h1.25v1.25h-1.25zM452.3,379.4h1.25v1.25h-1.25zM457.8,381.4h1.25v1.25h-1.25zM483.4,383.0h1.25v1.25h-1.25zM468.7,388.2h1.25v1.25h-1.25zM488.9,382.5h1.25v1.25h-1.25zM460.1,385.2h1.25v1.25h-1.25zM455.4,382.9h1.25v1.25h-1.25zM449.9,384.2h1.25v1.25h-1.25zM470.1,388.9h1.25v1.25h-1.25zM474.3,382.0h1.25v1.25h-1.25zM468.9,380.1h1.25v1.25h-1.25zM432.4,347.0h1.25v1.25h-1.25zM433.2,368.0h1.25v1.25h-1.25zM421.9,349.0h1.25v1.25h-1.25zM417.2,368.3h1.25v1.25h-1.25zM422.8,359.8h1.25v1.25h-1.25zM437.5,374.4h1.25v1.25h-1.25zM438.9,350.8h1.25v1.25h-1.25zM439.0,346.9h1.25v1.25h-1.25zM431.8,344.1h1.25v1.25h-1.25zM437.2,347.9h1.25v1.25h-1.25zM438.0,351.8h1.25v1.25h-1.25zM429.6,352.1h1.25v1.25h-1.25zM436.0,350.6h1.25v1.25h-1.25zM436.8,349.9h1.25v1.25h-1.25zM435.0,353.2h1.25v1.25h-1.25zM431.0,346.4h1.25v1.25h-1.25z" fill="#000" fill-opacity="0.92"/>
<rect x="408.40" y="328.60" width="104.90" height="79.40" fill="none" stroke="#000" stroke-width="1.3"/>
<line x1="446.90" y1="328.60" x2="446.90" y2="408.00" stroke="#000" stroke-width="1.2" />
<line x1="408.40" y1="378.60" x2="513.30" y2="378.60" stroke="#000" stroke-width="1.2" />
<path d="M404.4,402.0H408.4M416.3,408.0V411.2M404.4,398.5H408.4M420.9,408.0V411.2M404.4,396.0H408.4M424.2,408.0V411.2M404.4,394.1H408.4M426.7,408.0V411.2M404.4,392.6H408.4M428.8,408.0V411.2M404.4,391.2H408.4M430.6,408.0V411.2M404.4,390.1H408.4M432.1,408.0V411.2M404.4,389.1H408.4M433.4,408.0V411.2M404.4,382.2H408.4M442.5,408.0V411.2M404.4,378.7H408.4M447.1,408.0V411.2M404.4,376.2H408.4M450.4,408.0V411.2M404.4,374.3H408.4M453.0,408.0V411.2M404.4,372.7H408.4M455.0,408.0V411.2M404.4,371.4H408.4M456.8,408.0V411.2M404.4,370.2H408.4M458.3,408.0V411.2M404.4,369.2H408.4M459.7,408.0V411.2M404.4,362.3H408.4M468.7,408.0V411.2M404.4,358.8H408.4M473.4,408.0V411.2M404.4,356.3H408.4M476.6,408.0V411.2M404.4,354.4H408.4M479.2,408.0V411.2M404.4,352.9H408.4M481.3,408.0V411.2M404.4,351.5H408.4M483.0,408.0V411.2M404.4,350.4H408.4M484.5,408.0V411.2M404.4,349.4H408.4M485.9,408.0V411.2M404.4,342.5H408.4M495.0,408.0V411.2M404.4,339.0H408.4M499.6,408.0V411.2M404.4,336.5H408.4M502.9,408.0V411.2M404.4,334.6H408.4M505.4,408.0V411.2M404.4,333.0H408.4M507.5,408.0V411.2M404.4,331.7H408.4M509.2,408.0V411.2M404.4,330.5H408.4M510.8,408.0V411.2M404.4,329.5H408.4M512.1,408.0V411.2" stroke="#000" stroke-width="1.0" fill="none"/>
<path d="M403.4,408.0H408.4M408.4,408.0V412.2M403.4,388.1H408.4M434.6,408.0V412.2M403.4,368.3H408.4M460.8,408.0V412.2M403.4,348.5H408.4M487.1,408.0V412.2M403.4,328.6H408.4M513.3,408.0V412.2" stroke="#000" stroke-width="1.5" fill="none"/>
<text x="405.40" y="426.60" style="font-family:'Liberation Sans',sans-serif;font-weight:normal;font-size:10.8px" text-anchor="middle" fill="#000" textLength="9.40" lengthAdjust="spacingAndGlyphs" stroke="#000" stroke-width="0.35">10</text>
<text x="413.30" y="421.30" style="font-family:'Liberation Sans',sans-serif;font-weight:normal;font-size:10.6px" text-anchor="middle" fill="#000" textLength="4.40" lengthAdjust="spacingAndGlyphs" stroke="#000" stroke-width="0.3">0</text>
<text x="431.62" y="426.60" style="font-family:'Liberation Sans',sans-serif;font-weight:normal;font-size:10.8px" text-anchor="middle" fill="#000" textLength="9.40" lengthAdjust="spacingAndGlyphs" stroke="#000" stroke-width="0.35">10</text>
<text x="439.52" y="421.30" style="font-family:'Liberation Sans',sans-serif;font-weight:normal;font-size:10.6px" text-anchor="middle" fill="#000" textLength="4.40" lengthAdjust="spacingAndGlyphs" stroke="#000" stroke-width="0.3">1</text>
<text x="457.85" y="426.60" style="font-family:'Liberation Sans',sans-serif;font-weight:normal;font-size:10.8px" text-anchor="middle" fill="#000" textLength="9.40" lengthAdjust="spacingAndGlyphs" stroke="#000" stroke-width="0.35">10</text>
<text x="465.75" y="421.30" style="font-family:'Liberation Sans',sans-serif;font-weight:normal;font-size:10.6px" text-anchor="middle" fill="#000" textLength="4.40" lengthAdjust="spacingAndGlyphs" stroke="#000" stroke-width="0.3">2</text>
<text x="484.07" y="426.60" style="font-family:'Liberation Sans',sans-serif;font-weight:normal;font-size:10.8px" text-anchor="middle" fill="#000" textLength="9.40" lengthAdjust="spacingAndGlyphs" stroke="#000" stroke-width="0.35">10</text>
<text x="491.97" y="421.30" style="font-family:'Liberation Sans',sans-serif;font-weight:normal;font-size:10.6px" text-anchor="middle" fill="#000" textLength="4.40" lengthAdjust="spacingAndGlyphs" stroke="#000" stroke-width="0.3">3</text>
<text x="510.30" y="426.60" style="font-family:'Liberation Sans',sans-serif;font-weight:normal;font-size:10.8px" text-anchor="middle" fill="#000" textLength="9.40" lengthAdjust="spacingAndGlyphs" stroke="#000" stroke-width="0.35">10</text>
<text x="518.20" y="421.30" style="font-family:'Liberation Sans',sans-serif;font-weight:normal;font-size:10.6px" text-anchor="middle" fill="#000" textLength="4.40" lengthAdjust="spacingAndGlyphs" stroke="#000" stroke-width="0.3">4</text>
<text x="413.50" y="337.90" style="font-family:'Liberation Serif',serif;font-weight:bold;font-size:8.2px" text-anchor="start" fill="#000"  stroke="#000" stroke-width="0.3">1.0</text>
<text x="452.50" y="337.40" style="font-family:'Liberation Serif',serif;font-weight:bold;font-size:8.2px" text-anchor="start" fill="#000"  stroke="#000" stroke-width="0.3">64.9</text>
<text x="499.20" y="386.60" style="font-family:'Liberation Serif',serif;font-weight:bold;font-size:8.2px" text-anchor="start" fill="#000"  stroke="#000" stroke-width="0.3">3.3</text>
<text transform="translate(387.90,369.30) rotate(-90)" style="font-family:'Liberation Sans',sans-serif;font-weight:normal;font-size:10.4px" text-anchor="middle" textLength="83.7" lengthAdjust="spacingAndGlyphs" stroke="#000" stroke-width="0.45">PROPIDIUM IODIDE</text>
<text transform="translate(399.50,411.60) rotate(-90)" style="font-family:'Liberation Sans',sans-serif;font-weight:normal;font-size:10.0px" text-anchor="middle" textLength="9.8" lengthAdjust="spacingAndGlyphs" stroke="#000" stroke-width="0.35">10</text>
<text transform="translate(394.10,402.60) rotate(-90)" style="font-family:'Liberation Sans',sans-serif;font-weight:normal;font-size:9.6px" text-anchor="middle" textLength="4.6" lengthAdjust="spacingAndGlyphs" stroke="#000" stroke-width="0.3">0</text>
<text transform="translate(399.50,391.75) rotate(-90)" style="font-family:'Liberation Sans',sans-serif;font-weight:normal;font-size:10.0px" text-anchor="middle" textLength="9.8" lengthAdjust="spacingAndGlyphs" stroke="#000" stroke-width="0.35">10</text>
<text transform="translate(394.10,382.75) rotate(-90)" style="font-family:'Liberation Sans',sans-serif;font-weight:normal;font-size:9.6px" text-anchor="middle" textLength="4.6" lengthAdjust="spacingAndGlyphs" stroke="#000" stroke-width="0.3">1</text>
<text transform="translate(399.50,371.90) rotate(-90)" style="font-family:'Liberation Sans',sans-serif;font-weight:normal;font-size:10.0px" text-anchor="middle" textLength="9.8" lengthAdjust="spacingAndGlyphs" stroke="#000" stroke-width="0.35">10</text>
<text transform="translate(394.10,362.90) rotate(-90)" style="font-family:'Liberation Sans',sans-serif;font-weight:normal;font-size:9.6px" text-anchor="middle" textLength="4.6" lengthAdjust="spacingAndGlyphs" stroke="#000" stroke-width="0.3">2</text>
<text transform="translate(399.50,352.05) rotate(-90)" style="font-family:'Liberation Sans',sans-serif;font-weight:normal;font-size:10.0px" text-anchor="middle" textLength="9.8" lengthAdjust="spacingAndGlyphs" stroke="#000" stroke-width="0.35">10</text>
<text transform="translate(394.10,343.05) rotate(-90)" style="font-family:'Liberation Sans',sans-serif;font-weight:normal;font-size:9.6px" text-anchor="middle" textLength="4.6" lengthAdjust="spacingAndGlyphs" stroke="#000" stroke-width="0.3">3</text>
<text transform="translate(399.50,332.20) rotate(-90)" style="font-family:'Liberation Sans',sans-serif;font-weight:normal;font-size:10.0px" text-anchor="middle" textLength="9.8" lengthAdjust="spacingAndGlyphs" stroke="#000" stroke-width="0.35">10</text>
<text transform="translate(394.10,323.20) rotate(-90)" style="font-family:'Liberation Sans',sans-serif;font-weight:normal;font-size:9.6px" text-anchor="middle" textLength="4.6" lengthAdjust="spacingAndGlyphs" stroke="#000" stroke-width="0.3">4</text>
<g clip-path="url(#clipD)"><text x="459.75" y="438.2" style="font-family:'Liberation Sans',sans-serif;font-weight:normal;font-size:11px" text-anchor="middle" textLength="71.6" lengthAdjust="spacingAndGlyphs" stroke="#000" stroke-width="0.5">ANNEXIN V FITC</text></g>
</svg>
</body></html>
